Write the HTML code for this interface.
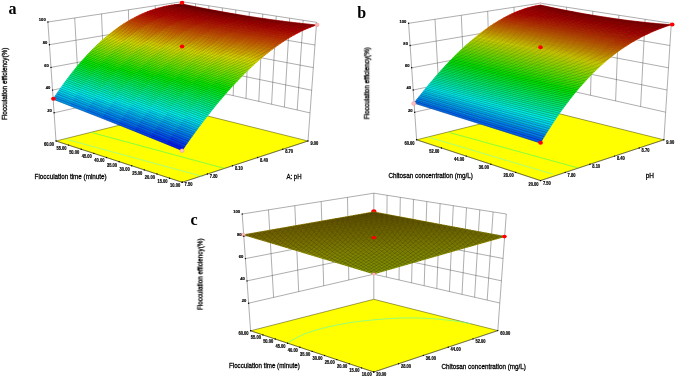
<!DOCTYPE html>
<html><head><meta charset="utf-8"><title>Response surface plots</title>
<style>
html,body{margin:0;padding:0;background:#fff;}
body{width:676px;height:377px;overflow:hidden;font-family:"Liberation Sans",sans-serif;}
svg{display:block;font-family:"Liberation Sans",sans-serif;}
</style></head><body>
<svg width="676" height="377" viewBox="0 0 676 377">
<rect width="676" height="377" fill="#fff"/>
<path d="M56 141L47.9 22M79.7 107.1L74.7 17.9M105.2 101.3L101.5 13.9M130.8 95.6L128.4 9.8M156.4 89.8L155.2 5.8M182 109.6L182 1.7M194.8 87L195.5 3.8M207.6 89.8L208.9 5.8M220.4 92.7L222.4 7.9M233.2 95.6L235.8 9.9M246 98.5L249.3 12M258.8 101.4L262.8 14.1M271.6 104.3L276.2 16.1M284.4 107.1L289.7 18.2M297.2 110L303.1 20.2M308 141L316.6 22.3M54.1 112.8L182 84.1M182 84.1L310 112.9M52.5 90.1L182 63.5M182 63.5L311.7 90.3M51 67.4L182 42.9M182 42.9L313.3 67.6M49.4 44.7L182 22.3M182 22.3L315 45M47.9 22L182 1.7M182 1.7L316.6 22.3" stroke="#4a4a4a" stroke-width="0.45" fill="none"/>
<polygon points="56,141 182.2,182.3 308,141 182,109.6" fill="#ffff00" stroke="#3a3a00" stroke-width="0.5"/>
<path d="M91.2 132.4L224.9 168.5" fill="none" stroke="#55ff55" stroke-width="0.7"/>
<path d="M65.5 139.1L203.1 176.6" fill="none" stroke="#88ffaa" stroke-width="0.7"/>
<polyline points="56,141 182.2,182.3 308,141" fill="none" stroke="#222" stroke-width="0.35"/>
<g stroke-width="0.6" stroke-linejoin="round"><path d="M53.2 99.2L55.5 95.6L71.8 101.9L69.4 105.5z" fill="#00a1ff" stroke="#00a1ff"/><path d="M69.4 105.5L71.8 101.9L88 108.2L85.6 111.8z" fill="#008fff" stroke="#008fff"/><path d="M85.6 111.8L88 108.2L104.2 114.5L101.7 118.1z" fill="#007dff" stroke="#007dff"/><path d="M101.7 118.1L104.2 114.5L120.4 120.9L117.9 124.5z" fill="#006bff" stroke="#006bff"/><path d="M117.9 124.5L120.4 120.9L136.5 127.3L134 130.9z" fill="#0058ff" stroke="#0058ff"/><path d="M134 130.9L136.5 127.3L152.6 133.7L150.1 137.4z" fill="#0046ff" stroke="#0046ff"/><path d="M150.1 137.4L152.6 133.7L168.7 140.2L166.2 143.9z" fill="#0034ff" stroke="#0034ff"/><path d="M166.2 143.9L168.7 140.2L184.8 146.7L182.2 150.5z" fill="#0022ff" stroke="#0022ff"/><path d="M55.5 95.6L57.9 92L74.2 98.3L71.8 101.9z" fill="#00c3ff" stroke="#00c3ff"/><path d="M71.8 101.9L74.2 98.3L90.4 104.6L88 108.2z" fill="#00b0ff" stroke="#00b0ff"/><path d="M88 108.2L90.4 104.6L106.7 111L104.2 114.5z" fill="#009dff" stroke="#009dff"/><path d="M104.2 114.5L106.7 111L122.9 117.3L120.4 120.9z" fill="#008bff" stroke="#008bff"/><path d="M120.4 120.9L122.9 117.3L139 123.7L136.5 127.3z" fill="#0078ff" stroke="#0078ff"/><path d="M136.5 127.3L139 123.7L155.1 130.1L152.6 133.7z" fill="#0065ff" stroke="#0065ff"/><path d="M152.6 133.7L155.1 130.1L171.3 136.6L168.7 140.2z" fill="#0053ff" stroke="#0053ff"/><path d="M168.7 140.2L171.3 136.6L187.3 143.1L184.8 146.7z" fill="#0040ff" stroke="#0040ff"/><path d="M57.9 92L60.3 88.6L76.6 94.8L74.2 98.3z" fill="#00e4ff" stroke="#00e4ff"/><path d="M74.2 98.3L76.6 94.8L92.9 101.1L90.4 104.6z" fill="#00d1ff" stroke="#00d1ff"/><path d="M90.4 104.6L92.9 101.1L109.1 107.4L106.7 111z" fill="#00bdff" stroke="#00bdff"/><path d="M106.7 111L109.1 107.4L125.3 113.8L122.9 117.3z" fill="#00aaff" stroke="#00aaff"/><path d="M122.9 117.3L125.3 113.8L141.5 120.2L139 123.7z" fill="#0097ff" stroke="#0097ff"/><path d="M139 123.7L141.5 120.2L157.7 126.6L155.1 130.1z" fill="#0084ff" stroke="#0084ff"/><path d="M155.1 130.1L157.7 126.6L173.8 133L171.3 136.6z" fill="#0071ff" stroke="#0071ff"/><path d="M171.3 136.6L173.8 133L189.9 139.4L187.3 143.1z" fill="#005eff" stroke="#005eff"/><path d="M60.3 88.6L62.7 85.2L79 91.4L76.6 94.8z" fill="#00fff9" stroke="#00fff9"/><path d="M76.6 94.8L79 91.4L95.3 97.7L92.9 101.1z" fill="#00f1ff" stroke="#00f1ff"/><path d="M92.9 101.1L95.3 97.7L111.6 104L109.1 107.4z" fill="#00ddff" stroke="#00ddff"/><path d="M109.1 107.4L111.6 104L127.8 110.3L125.3 113.8z" fill="#00c9ff" stroke="#00c9ff"/><path d="M125.3 113.8L127.8 110.3L144.1 116.7L141.5 120.2z" fill="#00b5ff" stroke="#00b5ff"/><path d="M141.5 120.2L144.1 116.7L160.2 123L157.7 126.6z" fill="#00a2ff" stroke="#00a2ff"/><path d="M157.7 126.6L160.2 123L176.4 129.4L173.8 133z" fill="#008fff" stroke="#008fff"/><path d="M173.8 133L176.4 129.4L192.5 135.8L189.9 139.4z" fill="#007cff" stroke="#007cff"/><path d="M62.7 85.2L65.1 81.8L81.5 88.1L79 91.4z" fill="#00ffd9" stroke="#00ffd9"/><path d="M79 91.4L81.5 88.1L97.8 94.3L95.3 97.7z" fill="#00ffee" stroke="#00ffee"/><path d="M95.3 97.7L97.8 94.3L114.1 100.6L111.6 104z" fill="#00fcff" stroke="#00fcff"/><path d="M111.6 104L114.1 100.6L130.4 106.9L127.8 110.3z" fill="#00e7ff" stroke="#00e7ff"/><path d="M127.8 110.3L130.4 106.9L146.6 113.2L144.1 116.7z" fill="#00d3ff" stroke="#00d3ff"/><path d="M144.1 116.7L146.6 113.2L162.8 119.6L160.2 123z" fill="#00c0ff" stroke="#00c0ff"/><path d="M160.2 123L162.8 119.6L178.9 125.9L176.4 129.4z" fill="#00acff" stroke="#00acff"/><path d="M176.4 129.4L178.9 125.9L195.1 132.3L192.5 135.8z" fill="#0099ff" stroke="#0099ff"/><path d="M65.1 81.8L67.6 78.5L83.9 84.8L81.5 88.1z" fill="#00ffba" stroke="#00ffba"/><path d="M81.5 88.1L83.9 84.8L100.3 91L97.8 94.3z" fill="#00ffcf" stroke="#00ffcf"/><path d="M97.8 94.3L100.3 91L116.6 97.3L114.1 100.6z" fill="#00ffe4" stroke="#00ffe4"/><path d="M114.1 100.6L116.6 97.3L132.9 103.5L130.4 106.9z" fill="#00fff9" stroke="#00fff9"/><path d="M130.4 106.9L132.9 103.5L149.1 109.8L146.6 113.2z" fill="#00f1ff" stroke="#00f1ff"/><path d="M146.6 113.2L149.1 109.8L165.3 116.1L162.8 119.6z" fill="#00ddff" stroke="#00ddff"/><path d="M162.8 119.6L165.3 116.1L181.5 122.4L178.9 125.9z" fill="#00caff" stroke="#00caff"/><path d="M178.9 125.9L181.5 122.4L197.7 128.7L195.1 132.3z" fill="#00b6ff" stroke="#00b6ff"/><path d="M67.6 78.5L70 75.3L86.4 81.5L83.9 84.8z" fill="#00ff9b" stroke="#00ff9b"/><path d="M83.9 84.8L86.4 81.5L102.8 87.7L100.3 91z" fill="#00ffb1" stroke="#00ffb1"/><path d="M100.3 91L102.8 87.7L119.1 94L116.6 97.3z" fill="#00ffc6" stroke="#00ffc6"/><path d="M116.6 97.3L119.1 94L135.4 100.2L132.9 103.5z" fill="#00ffdb" stroke="#00ffdb"/><path d="M132.9 103.5L135.4 100.2L151.7 106.5L149.1 109.8z" fill="#00fff0" stroke="#00fff0"/><path d="M149.1 109.8L151.7 106.5L167.9 112.7L165.3 116.1z" fill="#00faff" stroke="#00faff"/><path d="M165.3 116.1L167.9 112.7L184.1 119L181.5 122.4z" fill="#00e6ff" stroke="#00e6ff"/><path d="M181.5 122.4L184.1 119L200.3 125.2L197.7 128.7z" fill="#00d3ff" stroke="#00d3ff"/><path d="M70 75.3L72.5 72.2L88.9 78.4L86.4 81.5z" fill="#00ff7d" stroke="#00ff7d"/><path d="M86.4 81.5L88.9 78.4L105.3 84.5L102.8 87.7z" fill="#00ff93" stroke="#00ff93"/><path d="M102.8 87.7L105.3 84.5L121.6 90.7L119.1 94z" fill="#00ffa9" stroke="#00ffa9"/><path d="M119.1 94L121.6 90.7L137.9 97L135.4 100.2z" fill="#00ffbe" stroke="#00ffbe"/><path d="M135.4 100.2L137.9 97L154.2 103.2L151.7 106.5z" fill="#00ffd3" stroke="#00ffd3"/><path d="M151.7 106.5L154.2 103.2L170.5 109.4L167.9 112.7z" fill="#00ffe7" stroke="#00ffe7"/><path d="M167.9 112.7L170.5 109.4L186.7 115.6L184.1 119z" fill="#00fffb" stroke="#00fffb"/><path d="M184.1 119L186.7 115.6L202.9 121.8L200.3 125.2z" fill="#00efff" stroke="#00efff"/><path d="M72.5 72.2L74.9 69.1L91.4 75.3L88.9 78.4z" fill="#00ff60" stroke="#00ff60"/><path d="M88.9 78.4L91.4 75.3L107.8 81.4L105.3 84.5z" fill="#00ff76" stroke="#00ff76"/><path d="M105.3 84.5L107.8 81.4L124.1 87.6L121.6 90.7z" fill="#00ff8c" stroke="#00ff8c"/><path d="M121.6 90.7L124.1 87.6L140.5 93.7L137.9 97z" fill="#00ffa1" stroke="#00ffa1"/><path d="M137.9 97L140.5 93.7L156.8 99.9L154.2 103.2z" fill="#00ffb6" stroke="#00ffb6"/><path d="M154.2 103.2L156.8 99.9L173.1 106.1L170.5 109.4z" fill="#00ffcb" stroke="#00ffcb"/><path d="M170.5 109.4L173.1 106.1L189.3 112.2L186.7 115.6z" fill="#00ffdf" stroke="#00ffdf"/><path d="M186.7 115.6L189.3 112.2L205.5 118.4L202.9 121.8z" fill="#00fff2" stroke="#00fff2"/><path d="M74.9 69.1L77.4 66.1L93.9 72.2L91.4 75.3z" fill="#00ff43" stroke="#00ff43"/><path d="M91.4 75.3L93.9 72.2L110.3 78.3L107.8 81.4z" fill="#00ff59" stroke="#00ff59"/><path d="M107.8 81.4L110.3 78.3L126.7 84.5L124.1 87.6z" fill="#00ff70" stroke="#00ff70"/><path d="M124.1 87.6L126.7 84.5L143 90.6L140.5 93.7z" fill="#00ff85" stroke="#00ff85"/><path d="M140.5 93.7L143 90.6L159.4 96.7L156.8 99.9z" fill="#00ff9a" stroke="#00ff9a"/><path d="M156.8 99.9L159.4 96.7L175.7 102.8L173.1 106.1z" fill="#00ffaf" stroke="#00ffaf"/><path d="M173.1 106.1L175.7 102.8L191.9 108.9L189.3 112.2z" fill="#00ffc3" stroke="#00ffc3"/><path d="M189.3 112.2L191.9 108.9L208.2 115L205.5 118.4z" fill="#00ffd7" stroke="#00ffd7"/><path d="M77.4 66.1L79.9 63.1L96.4 69.2L93.9 72.2z" fill="#00ff26" stroke="#00ff26"/><path d="M93.9 72.2L96.4 69.2L112.8 75.3L110.3 78.3z" fill="#00ff3d" stroke="#00ff3d"/><path d="M110.3 78.3L112.8 75.3L129.2 81.4L126.7 84.5z" fill="#00ff54" stroke="#00ff54"/><path d="M126.7 84.5L129.2 81.4L145.6 87.5L143 90.6z" fill="#00ff6a" stroke="#00ff6a"/><path d="M143 90.6L145.6 87.5L161.9 93.6L159.4 96.7z" fill="#00ff7f" stroke="#00ff7f"/><path d="M159.4 96.7L161.9 93.6L178.3 99.6L175.7 102.8z" fill="#00ff94" stroke="#00ff94"/><path d="M175.7 102.8L178.3 99.6L194.5 105.6L191.9 108.9z" fill="#00ffa8" stroke="#00ffa8"/><path d="M191.9 108.9L194.5 105.6L210.8 111.7L208.2 115z" fill="#00ffbb" stroke="#00ffbb"/><path d="M79.9 63.1L82.4 60.3L98.9 66.3L96.4 69.2z" fill="#00ff0b" stroke="#00ff0b"/><path d="M96.4 69.2L98.9 66.3L115.3 72.4L112.8 75.3z" fill="#00ff22" stroke="#00ff22"/><path d="M112.8 75.3L115.3 72.4L131.8 78.4L129.2 81.4z" fill="#00ff39" stroke="#00ff39"/><path d="M129.2 81.4L131.8 78.4L148.2 84.4L145.6 87.5z" fill="#00ff4f" stroke="#00ff4f"/><path d="M145.6 87.5L148.2 84.4L164.5 90.5L161.9 93.6z" fill="#00ff64" stroke="#00ff64"/><path d="M161.9 93.6L164.5 90.5L180.9 96.4L178.3 99.6z" fill="#00ff79" stroke="#00ff79"/><path d="M178.3 99.6L180.9 96.4L197.2 102.4L194.5 105.6z" fill="#00ff8d" stroke="#00ff8d"/><path d="M194.5 105.6L197.2 102.4L213.4 108.4L210.8 111.7z" fill="#00ffa0" stroke="#00ffa0"/><path d="M82.4 60.3L84.9 57.5L101.4 63.5L98.9 66.3z" fill="#12ff00" stroke="#12ff00"/><path d="M98.9 66.3L101.4 63.5L117.9 69.5L115.3 72.4z" fill="#00ff07" stroke="#00ff07"/><path d="M115.3 72.4L117.9 69.5L134.3 75.5L131.8 78.4z" fill="#00ff1e" stroke="#00ff1e"/><path d="M131.8 78.4L134.3 75.5L150.7 81.5L148.2 84.4z" fill="#00ff34" stroke="#00ff34"/><path d="M148.2 84.4L150.7 81.5L167.1 87.4L164.5 90.5z" fill="#00ff4a" stroke="#00ff4a"/><path d="M164.5 90.5L167.1 87.4L183.5 93.3L180.9 96.4z" fill="#00ff5e" stroke="#00ff5e"/><path d="M180.9 96.4L183.5 93.3L199.8 99.2L197.2 102.4z" fill="#00ff72" stroke="#00ff72"/><path d="M197.2 102.4L199.8 99.2L216.1 105.1L213.4 108.4z" fill="#00ff85" stroke="#00ff85"/><path d="M84.9 57.5L87.4 54.7L103.9 60.7L101.4 63.5z" fill="#2fff00" stroke="#2fff00"/><path d="M101.4 63.5L103.9 60.7L120.4 66.7L117.9 69.5z" fill="#15ff00" stroke="#15ff00"/><path d="M117.9 69.5L120.4 66.7L136.9 72.6L134.3 75.5z" fill="#00ff04" stroke="#00ff04"/><path d="M134.3 75.5L136.9 72.6L153.3 78.5L150.7 81.5z" fill="#00ff1a" stroke="#00ff1a"/><path d="M150.7 81.5L153.3 78.5L169.7 84.4L167.1 87.4z" fill="#00ff30" stroke="#00ff30"/><path d="M167.1 87.4L169.7 84.4L186.1 90.3L183.5 93.3z" fill="#00ff44" stroke="#00ff44"/><path d="M183.5 93.3L186.1 90.3L202.4 96.1L199.8 99.2z" fill="#00ff58" stroke="#00ff58"/><path d="M199.8 99.2L202.4 96.1L218.7 101.9L216.1 105.1z" fill="#00ff6b" stroke="#00ff6b"/><path d="M87.4 54.7L89.9 52.1L106.5 58L103.9 60.7z" fill="#4bff00" stroke="#4bff00"/><path d="M103.9 60.7L106.5 58L123 63.9L120.4 66.7z" fill="#31ff00" stroke="#31ff00"/><path d="M120.4 66.7L123 63.9L139.5 69.8L136.9 72.6z" fill="#17ff00" stroke="#17ff00"/><path d="M136.9 72.6L139.5 69.8L155.9 75.7L153.3 78.5z" fill="#00ff01" stroke="#00ff01"/><path d="M153.3 78.5L155.9 75.7L172.3 81.5L169.7 84.4z" fill="#00ff16" stroke="#00ff16"/><path d="M169.7 84.4L172.3 81.5L188.7 87.3L186.1 90.3z" fill="#00ff2b" stroke="#00ff2b"/><path d="M186.1 90.3L188.7 87.3L205.1 93L202.4 96.1z" fill="#00ff3e" stroke="#00ff3e"/><path d="M202.4 96.1L205.1 93L221.4 98.8L218.7 101.9z" fill="#00ff51" stroke="#00ff51"/><path d="M89.9 52.1L92.4 49.5L109 55.4L106.5 58z" fill="#67ff00" stroke="#67ff00"/><path d="M106.5 58L109 55.4L125.5 61.2L123 63.9z" fill="#4cff00" stroke="#4cff00"/><path d="M123 63.9L125.5 61.2L142 67.1L139.5 69.8z" fill="#33ff00" stroke="#33ff00"/><path d="M139.5 69.8L142 67.1L158.5 72.9L155.9 75.7z" fill="#1aff00" stroke="#1aff00"/><path d="M155.9 75.7L158.5 72.9L174.9 78.6L172.3 81.5z" fill="#03ff00" stroke="#03ff00"/><path d="M172.3 81.5L174.9 78.6L191.3 84.3L188.7 87.3z" fill="#00ff12" stroke="#00ff12"/><path d="M188.7 87.3L191.3 84.3L207.7 90L205.1 93z" fill="#00ff25" stroke="#00ff25"/><path d="M205.1 93L207.7 90L224.1 95.7L221.4 98.8z" fill="#00ff38" stroke="#00ff38"/><path d="M92.4 49.5L95 47L111.6 52.8L109 55.4z" fill="#81ff00" stroke="#81ff00"/><path d="M109 55.4L111.6 52.8L128.1 58.6L125.5 61.2z" fill="#67ff00" stroke="#67ff00"/><path d="M125.5 61.2L128.1 58.6L144.6 64.4L142 67.1z" fill="#4eff00" stroke="#4eff00"/><path d="M142 67.1L144.6 64.4L161.1 70.1L158.5 72.9z" fill="#35ff00" stroke="#35ff00"/><path d="M158.5 72.9L161.1 70.1L177.6 75.8L174.9 78.6z" fill="#1eff00" stroke="#1eff00"/><path d="M174.9 78.6L177.6 75.8L194 81.5L191.3 84.3z" fill="#08ff00" stroke="#08ff00"/><path d="M191.3 84.3L194 81.5L210.4 87L207.7 90z" fill="#00ff0c" stroke="#00ff0c"/><path d="M207.7 90L210.4 87L226.7 92.6L224.1 95.7z" fill="#00ff1f" stroke="#00ff1f"/><path d="M95 47L97.5 44.5L114.1 50.3L111.6 52.8z" fill="#9bff00" stroke="#9bff00"/><path d="M111.6 52.8L114.1 50.3L130.7 56L128.1 58.6z" fill="#81ff00" stroke="#81ff00"/><path d="M128.1 58.6L130.7 56L147.2 61.8L144.6 64.4z" fill="#68ff00" stroke="#68ff00"/><path d="M144.6 64.4L147.2 61.8L163.7 67.4L161.1 70.1z" fill="#4fff00" stroke="#4fff00"/><path d="M161.1 70.1L163.7 67.4L180.2 73L177.6 75.8z" fill="#38ff00" stroke="#38ff00"/><path d="M177.6 75.8L180.2 73L196.6 78.6L194 81.5z" fill="#22ff00" stroke="#22ff00"/><path d="M194 81.5L196.6 78.6L213 84.1L210.4 87z" fill="#0dff00" stroke="#0dff00"/><path d="M210.4 87L213 84.1L229.4 89.6L226.7 92.6z" fill="#00ff06" stroke="#00ff06"/><path d="M97.5 44.5L100.1 42.1L116.7 47.9L114.1 50.3z" fill="#b5ff00" stroke="#b5ff00"/><path d="M114.1 50.3L116.7 47.9L133.3 53.6L130.7 56z" fill="#9aff00" stroke="#9aff00"/><path d="M130.7 56L133.3 53.6L149.8 59.2L147.2 61.8z" fill="#81ff00" stroke="#81ff00"/><path d="M147.2 61.8L149.8 59.2L166.3 64.8L163.7 67.4z" fill="#69ff00" stroke="#69ff00"/><path d="M163.7 67.4L166.3 64.8L182.8 70.3L180.2 73z" fill="#52ff00" stroke="#52ff00"/><path d="M180.2 73L182.8 70.3L199.3 75.8L196.6 78.6z" fill="#3cff00" stroke="#3cff00"/><path d="M196.6 78.6L199.3 75.8L215.7 81.3L213 84.1z" fill="#28ff00" stroke="#28ff00"/><path d="M213 84.1L215.7 81.3L232.1 86.6L229.4 89.6z" fill="#14ff00" stroke="#14ff00"/><path d="M100.1 42.1L102.6 39.8L119.3 45.5L116.7 47.9z" fill="#cdff00" stroke="#cdff00"/><path d="M116.7 47.9L119.3 45.5L135.9 51.1L133.3 53.6z" fill="#b3ff00" stroke="#b3ff00"/><path d="M133.3 53.6L135.9 51.1L152.4 56.7L149.8 59.2z" fill="#9aff00" stroke="#9aff00"/><path d="M149.8 59.2L152.4 56.7L169 62.2L166.3 64.8z" fill="#82ff00" stroke="#82ff00"/><path d="M166.3 64.8L169 62.2L185.5 67.7L182.8 70.3z" fill="#6bff00" stroke="#6bff00"/><path d="M182.8 70.3L185.5 67.7L201.9 73.1L199.3 75.8z" fill="#56ff00" stroke="#56ff00"/><path d="M199.3 75.8L201.9 73.1L218.4 78.4L215.7 81.3z" fill="#42ff00" stroke="#42ff00"/><path d="M215.7 81.3L218.4 78.4L234.8 83.7L232.1 86.6z" fill="#2fff00" stroke="#2fff00"/><path d="M102.6 39.8L105.2 37.6L121.9 43.2L119.3 45.5z" fill="#e4ff00" stroke="#e4ff00"/><path d="M119.3 45.5L121.9 43.2L138.5 48.8L135.9 51.1z" fill="#caff00" stroke="#caff00"/><path d="M135.9 51.1L138.5 48.8L155 54.3L152.4 56.7z" fill="#b2ff00" stroke="#b2ff00"/><path d="M152.4 56.7L155 54.3L171.6 59.7L169 62.2z" fill="#9aff00" stroke="#9aff00"/><path d="M169 62.2L171.6 59.7L188.1 65.1L185.5 67.7z" fill="#84ff00" stroke="#84ff00"/><path d="M185.5 67.7L188.1 65.1L204.6 70.4L201.9 73.1z" fill="#6fff00" stroke="#6fff00"/><path d="M201.9 73.1L204.6 70.4L221 75.7L218.4 78.4z" fill="#5bff00" stroke="#5bff00"/><path d="M218.4 78.4L221 75.7L237.5 80.9L234.8 83.7z" fill="#48ff00" stroke="#48ff00"/><path d="M105.2 37.6L107.8 35.4L124.5 41L121.9 43.2z" fill="#fbff00" stroke="#fbff00"/><path d="M121.9 43.2L124.5 41L141.1 46.5L138.5 48.8z" fill="#e1ff00" stroke="#e1ff00"/><path d="M138.5 48.8L141.1 46.5L157.7 51.9L155 54.3z" fill="#c9ff00" stroke="#c9ff00"/><path d="M155 54.3L157.7 51.9L174.2 57.3L171.6 59.7z" fill="#b1ff00" stroke="#b1ff00"/><path d="M171.6 59.7L174.2 57.3L190.7 62.6L188.1 65.1z" fill="#9bff00" stroke="#9bff00"/><path d="M188.1 65.1L190.7 62.6L207.2 67.8L204.6 70.4z" fill="#87ff00" stroke="#87ff00"/><path d="M204.6 70.4L207.2 67.8L223.7 73L221 75.7z" fill="#74ff00" stroke="#74ff00"/><path d="M221 75.7L223.7 73L240.2 78.1L237.5 80.9z" fill="#62ff00" stroke="#62ff00"/><path d="M107.8 35.4L110.4 33.4L127.1 38.8L124.5 41z" fill="#ffec00" stroke="#ffec00"/><path d="M124.5 41L127.1 38.8L143.7 44.3L141.1 46.5z" fill="#f7ff00" stroke="#f7ff00"/><path d="M141.1 46.5L143.7 44.3L160.3 49.6L157.7 51.9z" fill="#dfff00" stroke="#dfff00"/><path d="M157.7 51.9L160.3 49.6L176.9 54.9L174.2 57.3z" fill="#c8ff00" stroke="#c8ff00"/><path d="M174.2 57.3L176.9 54.9L193.4 60.1L190.7 62.6z" fill="#b3ff00" stroke="#b3ff00"/><path d="M190.7 62.6L193.4 60.1L209.9 65.3L207.2 67.8z" fill="#9eff00" stroke="#9eff00"/><path d="M207.2 67.8L209.9 65.3L226.4 70.3L223.7 73z" fill="#8cff00" stroke="#8cff00"/><path d="M223.7 73L226.4 70.3L242.9 75.3L240.2 78.1z" fill="#7aff00" stroke="#7aff00"/><path d="M110.4 33.4L113 31.3L129.7 36.8L127.1 38.8z" fill="#ffd600" stroke="#ffd600"/><path d="M127.1 38.8L129.7 36.8L146.3 42.1L143.7 44.3z" fill="#fff100" stroke="#fff100"/><path d="M143.7 44.3L146.3 42.1L162.9 47.4L160.3 49.6z" fill="#f5ff00" stroke="#f5ff00"/><path d="M160.3 49.6L162.9 47.4L179.5 52.6L176.9 54.9z" fill="#deff00" stroke="#deff00"/><path d="M176.9 54.9L179.5 52.6L196 57.7L193.4 60.1z" fill="#c9ff00" stroke="#c9ff00"/><path d="M193.4 60.1L196 57.7L212.6 62.8L209.9 65.3z" fill="#b5ff00" stroke="#b5ff00"/><path d="M209.9 65.3L212.6 62.8L229.1 67.7L226.4 70.3z" fill="#a3ff00" stroke="#a3ff00"/><path d="M226.4 70.3L229.1 67.7L245.6 72.6L242.9 75.3z" fill="#93ff00" stroke="#93ff00"/><path d="M113 31.3L115.6 29.4L132.3 34.8L129.7 36.8z" fill="#ffc000" stroke="#ffc000"/><path d="M129.7 36.8L132.3 34.8L148.9 40L146.3 42.1z" fill="#ffdb00" stroke="#ffdb00"/><path d="M146.3 42.1L148.9 40L165.6 45.3L162.9 47.4z" fill="#fff400" stroke="#fff400"/><path d="M162.9 47.4L165.6 45.3L182.1 50.4L179.5 52.6z" fill="#f3ff00" stroke="#f3ff00"/><path d="M179.5 52.6L182.1 50.4L198.7 55.4L196 57.7z" fill="#dfff00" stroke="#dfff00"/><path d="M196 57.7L198.7 55.4L215.2 60.4L212.6 62.8z" fill="#ccff00" stroke="#ccff00"/><path d="M212.6 62.8L215.2 60.4L231.8 65.2L229.1 67.7z" fill="#baff00" stroke="#baff00"/><path d="M229.1 67.7L231.8 65.2L248.3 70L245.6 72.6z" fill="#aaff00" stroke="#aaff00"/><path d="M115.6 29.4L118.2 27.5L134.9 32.8L132.3 34.8z" fill="#ffac00" stroke="#ffac00"/><path d="M132.3 34.8L134.9 32.8L151.6 38L148.9 40z" fill="#ffc600" stroke="#ffc600"/><path d="M148.9 40L151.6 38L168.2 43.2L165.6 45.3z" fill="#ffdf00" stroke="#ffdf00"/><path d="M165.6 45.3L168.2 43.2L184.8 48.2L182.1 50.4z" fill="#fff600" stroke="#fff600"/><path d="M182.1 50.4L184.8 48.2L201.4 53.1L198.7 55.4z" fill="#f4ff00" stroke="#f4ff00"/><path d="M198.7 55.4L201.4 53.1L217.9 58L215.2 60.4z" fill="#e1ff00" stroke="#e1ff00"/><path d="M215.2 60.4L217.9 58L234.5 62.7L231.8 65.2z" fill="#d0ff00" stroke="#d0ff00"/><path d="M231.8 65.2L234.5 62.7L251 67.4L248.3 70z" fill="#c1ff00" stroke="#c1ff00"/><path d="M118.2 27.5L120.8 25.7L137.5 31L134.9 32.8z" fill="#ff9800" stroke="#ff9800"/><path d="M134.9 32.8L137.5 31L154.2 36.1L151.6 38z" fill="#ffb200" stroke="#ffb200"/><path d="M151.6 38L154.2 36.1L170.8 41.1L168.2 43.2z" fill="#ffca00" stroke="#ffca00"/><path d="M168.2 43.2L170.8 41.1L187.5 46.1L184.8 48.2z" fill="#ffe100" stroke="#ffe100"/><path d="M184.8 48.2L187.5 46.1L204 50.9L201.4 53.1z" fill="#fff500" stroke="#fff500"/><path d="M201.4 53.1L204 50.9L220.6 55.7L217.9 58z" fill="#f6ff00" stroke="#f6ff00"/><path d="M217.9 58L220.6 55.7L237.2 60.3L234.5 62.7z" fill="#e6ff00" stroke="#e6ff00"/><path d="M234.5 62.7L237.2 60.3L253.7 64.9L251 67.4z" fill="#d7ff00" stroke="#d7ff00"/><path d="M120.8 25.7L123.4 24L140.1 29.2L137.5 31z" fill="#ff8600" stroke="#ff8600"/><path d="M137.5 31L140.1 29.2L156.8 34.2L154.2 36.1z" fill="#ff9f00" stroke="#ff9f00"/><path d="M154.2 36.1L156.8 34.2L173.5 39.2L170.8 41.1z" fill="#ffb700" stroke="#ffb700"/><path d="M170.8 41.1L173.5 39.2L190.1 44L187.5 46.1z" fill="#ffcd00" stroke="#ffcd00"/><path d="M187.5 46.1L190.1 44L206.7 48.8L204 50.9z" fill="#ffe100" stroke="#ffe100"/><path d="M204 50.9L206.7 48.8L223.3 53.5L220.6 55.7z" fill="#fff300" stroke="#fff300"/><path d="M220.6 55.7L223.3 53.5L239.9 58L237.2 60.3z" fill="#fbff00" stroke="#fbff00"/><path d="M237.2 60.3L239.9 58L256.4 62.4L253.7 64.9z" fill="#edff00" stroke="#edff00"/><path d="M123.4 24L126 22.4L142.8 27.4L140.1 29.2z" fill="#ff7400" stroke="#ff7400"/><path d="M140.1 29.2L142.8 27.4L159.5 32.4L156.8 34.2z" fill="#ff8d00" stroke="#ff8d00"/><path d="M156.8 34.2L159.5 32.4L176.1 37.3L173.5 39.2z" fill="#ffa400" stroke="#ffa400"/><path d="M173.5 39.2L176.1 37.3L192.8 42.1L190.1 44z" fill="#ffba00" stroke="#ffba00"/><path d="M190.1 44L192.8 42.1L209.4 46.7L206.7 48.8z" fill="#ffcd00" stroke="#ffcd00"/><path d="M206.7 48.8L209.4 46.7L226 51.3L223.3 53.5z" fill="#ffde00" stroke="#ffde00"/><path d="M223.3 53.5L226 51.3L242.6 55.7L239.9 58z" fill="#ffee00" stroke="#ffee00"/><path d="M239.9 58L242.6 55.7L259.1 60L256.4 62.4z" fill="#fffc00" stroke="#fffc00"/><path d="M126 22.4L128.7 20.8L145.4 25.8L142.8 27.4z" fill="#ff6300" stroke="#ff6300"/><path d="M142.8 27.4L145.4 25.8L162.1 30.7L159.5 32.4z" fill="#ff7c00" stroke="#ff7c00"/><path d="M159.5 32.4L162.1 30.7L178.8 35.5L176.1 37.3z" fill="#ff9300" stroke="#ff9300"/><path d="M176.1 37.3L178.8 35.5L195.5 40.2L192.8 42.1z" fill="#ffa700" stroke="#ffa700"/><path d="M192.8 42.1L195.5 40.2L212.1 44.7L209.4 46.7z" fill="#ffba00" stroke="#ffba00"/><path d="M209.4 46.7L212.1 44.7L228.7 49.2L226 51.3z" fill="#ffcb00" stroke="#ffcb00"/><path d="M226 51.3L228.7 49.2L245.3 53.5L242.6 55.7z" fill="#ffd900" stroke="#ffd900"/><path d="M242.6 55.7L245.3 53.5L261.9 57.7L259.1 60z" fill="#ffe600" stroke="#ffe600"/><path d="M128.7 20.8L131.3 19.3L148.1 24.2L145.4 25.8z" fill="#ff5400" stroke="#ff5400"/><path d="M145.4 25.8L148.1 24.2L164.8 29L162.1 30.7z" fill="#ff6c00" stroke="#ff6c00"/><path d="M162.1 30.7L164.8 29L181.5 33.7L178.8 35.5z" fill="#ff8200" stroke="#ff8200"/><path d="M178.8 35.5L181.5 33.7L198.1 38.3L195.5 40.2z" fill="#ff9600" stroke="#ff9600"/><path d="M195.5 40.2L198.1 38.3L214.8 42.8L212.1 44.7z" fill="#ffa700" stroke="#ffa700"/><path d="M212.1 44.7L214.8 42.8L231.4 47.1L228.7 49.2z" fill="#ffb700" stroke="#ffb700"/><path d="M228.7 49.2L231.4 47.1L248 51.3L245.3 53.5z" fill="#ffc500" stroke="#ffc500"/><path d="M245.3 53.5L248 51.3L264.6 55.4L261.9 57.7z" fill="#ffd100" stroke="#ffd100"/><path d="M131.3 19.3L134 17.9L150.7 22.7L148.1 24.2z" fill="#ff4500" stroke="#ff4500"/><path d="M148.1 24.2L150.7 22.7L167.4 27.4L164.8 29z" fill="#ff5c00" stroke="#ff5c00"/><path d="M164.8 29L167.4 27.4L184.1 32L181.5 33.7z" fill="#ff7200" stroke="#ff7200"/><path d="M181.5 33.7L184.1 32L200.8 36.5L198.1 38.3z" fill="#ff8500" stroke="#ff8500"/><path d="M198.1 38.3L200.8 36.5L217.4 40.9L214.8 42.8z" fill="#ff9600" stroke="#ff9600"/><path d="M214.8 42.8L217.4 40.9L234.1 45.1L231.4 47.1z" fill="#ffa500" stroke="#ffa500"/><path d="M231.4 47.1L234.1 45.1L250.7 49.2L248 51.3z" fill="#ffb200" stroke="#ffb200"/><path d="M248 51.3L250.7 49.2L267.3 53.2L264.6 55.4z" fill="#ffbd00" stroke="#ffbd00"/><path d="M134 17.9L136.6 16.5L153.4 21.3L150.7 22.7z" fill="#ff3700" stroke="#ff3700"/><path d="M150.7 22.7L153.4 21.3L170.1 25.9L167.4 27.4z" fill="#ff4e00" stroke="#ff4e00"/><path d="M167.4 27.4L170.1 25.9L186.8 30.4L184.1 32z" fill="#ff6200" stroke="#ff6200"/><path d="M184.1 32L186.8 30.4L203.5 34.8L200.8 36.5z" fill="#ff7500" stroke="#ff7500"/><path d="M200.8 36.5L203.5 34.8L220.1 39.1L217.4 40.9z" fill="#ff8500" stroke="#ff8500"/><path d="M217.4 40.9L220.1 39.1L236.8 43.2L234.1 45.1z" fill="#ff9400" stroke="#ff9400"/><path d="M234.1 45.1L236.8 43.2L253.4 47.2L250.7 49.2z" fill="#ffa000" stroke="#ffa000"/><path d="M250.7 49.2L253.4 47.2L270 51L267.3 53.2z" fill="#ffaa00" stroke="#ffaa00"/><path d="M136.6 16.5L139.3 15.2L156 19.9L153.4 21.3z" fill="#ff2a00" stroke="#ff2a00"/><path d="M153.4 21.3L156 19.9L172.8 24.5L170.1 25.9z" fill="#ff4000" stroke="#ff4000"/><path d="M170.1 25.9L172.8 24.5L189.5 28.9L186.8 30.4z" fill="#ff5400" stroke="#ff5400"/><path d="M186.8 30.4L189.5 28.9L206.2 33.2L203.5 34.8z" fill="#ff6600" stroke="#ff6600"/><path d="M203.5 34.8L206.2 33.2L222.8 37.3L220.1 39.1z" fill="#ff7600" stroke="#ff7600"/><path d="M220.1 39.1L222.8 37.3L239.5 41.4L236.8 43.2z" fill="#ff8300" stroke="#ff8300"/><path d="M236.8 43.2L239.5 41.4L256.1 45.2L253.4 47.2z" fill="#ff8e00" stroke="#ff8e00"/><path d="M253.4 47.2L256.1 45.2L272.8 48.9L270 51z" fill="#ff9700" stroke="#ff9700"/><path d="M139.3 15.2L141.9 14L158.7 18.6L156 19.9z" fill="#ff1e00" stroke="#ff1e00"/><path d="M156 19.9L158.7 18.6L175.4 23.1L172.8 24.5z" fill="#ff3400" stroke="#ff3400"/><path d="M172.8 24.5L175.4 23.1L192.1 27.4L189.5 28.9z" fill="#ff4700" stroke="#ff4700"/><path d="M189.5 28.9L192.1 27.4L208.8 31.6L206.2 33.2z" fill="#ff5800" stroke="#ff5800"/><path d="M206.2 33.2L208.8 31.6L225.5 35.7L222.8 37.3z" fill="#ff6700" stroke="#ff6700"/><path d="M222.8 37.3L225.5 35.7L242.2 39.6L239.5 41.4z" fill="#ff7300" stroke="#ff7300"/><path d="M239.5 41.4L242.2 39.6L258.8 43.3L256.1 45.2z" fill="#ff7d00" stroke="#ff7d00"/><path d="M256.1 45.2L258.8 43.3L275.5 46.9L272.8 48.9z" fill="#ff8500" stroke="#ff8500"/><path d="M141.9 14L144.6 12.9L161.3 17.4L158.7 18.6z" fill="#ff1300" stroke="#ff1300"/><path d="M158.7 18.6L161.3 17.4L178.1 21.8L175.4 23.1z" fill="#ff2800" stroke="#ff2800"/><path d="M175.4 23.1L178.1 21.8L194.8 26L192.1 27.4z" fill="#ff3a00" stroke="#ff3a00"/><path d="M192.1 27.4L194.8 26L211.5 30.1L208.8 31.6z" fill="#ff4b00" stroke="#ff4b00"/><path d="M208.8 31.6L211.5 30.1L228.2 34.1L225.5 35.7z" fill="#ff5900" stroke="#ff5900"/><path d="M225.5 35.7L228.2 34.1L244.9 37.9L242.2 39.6z" fill="#ff6400" stroke="#ff6400"/><path d="M242.2 39.6L244.9 37.9L261.6 41.5L258.8 43.3z" fill="#ff6d00" stroke="#ff6d00"/><path d="M258.8 43.3L261.6 41.5L278.2 45L275.5 46.9z" fill="#ff7400" stroke="#ff7400"/><path d="M144.6 12.9L147.2 11.8L164 16.2L161.3 17.4z" fill="#ff0900" stroke="#ff0900"/><path d="M161.3 17.4L164 16.2L180.8 20.5L178.1 21.8z" fill="#ff1d00" stroke="#ff1d00"/><path d="M178.1 21.8L180.8 20.5L197.5 24.7L194.8 26z" fill="#ff2f00" stroke="#ff2f00"/><path d="M194.8 26L197.5 24.7L214.2 28.7L211.5 30.1z" fill="#ff3e00" stroke="#ff3e00"/><path d="M211.5 30.1L214.2 28.7L230.9 32.5L228.2 34.1z" fill="#ff4b00" stroke="#ff4b00"/><path d="M228.2 34.1L230.9 32.5L247.6 36.2L244.9 37.9z" fill="#ff5600" stroke="#ff5600"/><path d="M244.9 37.9L247.6 36.2L264.3 39.7L261.6 41.5z" fill="#ff5e00" stroke="#ff5e00"/><path d="M261.6 41.5L264.3 39.7L281 43.1L278.2 45z" fill="#ff6400" stroke="#ff6400"/><path d="M147.2 11.8L149.9 10.8L166.7 15.1L164 16.2z" fill="#ff0000" stroke="#ff0000"/><path d="M164 16.2L166.7 15.1L183.4 19.4L180.8 20.5z" fill="#ff1300" stroke="#ff1300"/><path d="M180.8 20.5L183.4 19.4L200.2 23.4L197.5 24.7z" fill="#ff2400" stroke="#ff2400"/><path d="M197.5 24.7L200.2 23.4L216.9 27.3L214.2 28.7z" fill="#ff3300" stroke="#ff3300"/><path d="M214.2 28.7L216.9 27.3L233.6 31.1L230.9 32.5z" fill="#ff3f00" stroke="#ff3f00"/><path d="M230.9 32.5L233.6 31.1L250.3 34.6L247.6 36.2z" fill="#ff4900" stroke="#ff4900"/><path d="M247.6 36.2L250.3 34.6L267 38L264.3 39.7z" fill="#ff5000" stroke="#ff5000"/><path d="M264.3 39.7L267 38L283.7 41.3L281 43.1z" fill="#ff5500" stroke="#ff5500"/><path d="M149.9 10.8L152.6 9.9L169.3 14.1L166.7 15.1z" fill="#ff0000" stroke="#ff0000"/><path d="M166.7 15.1L169.3 14.1L186.1 18.3L183.4 19.4z" fill="#ff0a00" stroke="#ff0a00"/><path d="M183.4 19.4L186.1 18.3L202.9 22.2L200.2 23.4z" fill="#ff1b00" stroke="#ff1b00"/><path d="M200.2 23.4L202.9 22.2L219.6 26L216.9 27.3z" fill="#ff2800" stroke="#ff2800"/><path d="M216.9 27.3L219.6 26L236.3 29.7L233.6 31.1z" fill="#ff3400" stroke="#ff3400"/><path d="M233.6 31.1L236.3 29.7L253 33.1L250.3 34.6z" fill="#ff3c00" stroke="#ff3c00"/><path d="M250.3 34.6L253 33.1L269.7 36.4L267 38z" fill="#ff4300" stroke="#ff4300"/><path d="M267 38L269.7 36.4L286.4 39.5L283.7 41.3z" fill="#ff4600" stroke="#ff4600"/><path d="M152.6 9.9L155.2 9L172 13.2L169.3 14.1z" fill="#ff0000" stroke="#ff0000"/><path d="M169.3 14.1L172 13.2L188.8 17.2L186.1 18.3z" fill="#ff0200" stroke="#ff0200"/><path d="M186.1 18.3L188.8 17.2L205.5 21.1L202.9 22.2z" fill="#ff1200" stroke="#ff1200"/><path d="M202.9 22.2L205.5 21.1L222.3 24.8L219.6 26z" fill="#ff1f00" stroke="#ff1f00"/><path d="M219.6 26L222.3 24.8L239 28.3L236.3 29.7z" fill="#ff2900" stroke="#ff2900"/><path d="M236.3 29.7L239 28.3L255.7 31.7L253 33.1z" fill="#ff3100" stroke="#ff3100"/><path d="M253 33.1L255.7 31.7L272.4 34.9L269.7 36.4z" fill="#ff3600" stroke="#ff3600"/><path d="M269.7 36.4L272.4 34.9L289.2 37.8L286.4 39.5z" fill="#ff3800" stroke="#ff3800"/><path d="M155.2 9L157.9 8.2L174.7 12.3L172 13.2z" fill="#ff0000" stroke="#ff0000"/><path d="M172 13.2L174.7 12.3L191.5 16.3L188.8 17.2z" fill="#ff0000" stroke="#ff0000"/><path d="M188.8 17.2L191.5 16.3L208.2 20L205.5 21.1z" fill="#ff0a00" stroke="#ff0a00"/><path d="M205.5 21.1L208.2 20L225 23.7L222.3 24.8z" fill="#ff1600" stroke="#ff1600"/><path d="M222.3 24.8L225 23.7L241.7 27.1L239 28.3z" fill="#ff1f00" stroke="#ff1f00"/><path d="M239 28.3L241.7 27.1L258.4 30.3L255.7 31.7z" fill="#ff2600" stroke="#ff2600"/><path d="M255.7 31.7L258.4 30.3L275.2 33.4L272.4 34.9z" fill="#ff2a00" stroke="#ff2a00"/><path d="M272.4 34.9L275.2 33.4L291.9 36.2L289.2 37.8z" fill="#ff2c00" stroke="#ff2c00"/><path d="M157.9 8.2L160.6 7.5L177.4 11.5L174.7 12.3z" fill="#ff0000" stroke="#ff0000"/><path d="M174.7 12.3L177.4 11.5L194.1 15.4L191.5 16.3z" fill="#ff0000" stroke="#ff0000"/><path d="M191.5 16.3L194.1 15.4L210.9 19.1L208.2 20z" fill="#ff0300" stroke="#ff0300"/><path d="M208.2 20L210.9 19.1L227.7 22.6L225 23.7z" fill="#ff0e00" stroke="#ff0e00"/><path d="M225 23.7L227.7 22.6L244.4 25.9L241.7 27.1z" fill="#ff1700" stroke="#ff1700"/><path d="M241.7 27.1L244.4 25.9L261.1 29L258.4 30.3z" fill="#ff1c00" stroke="#ff1c00"/><path d="M258.4 30.3L261.1 29L277.9 32L275.2 33.4z" fill="#ff1f00" stroke="#ff1f00"/><path d="M275.2 33.4L277.9 32L294.6 34.7L291.9 36.2z" fill="#ff2000" stroke="#ff2000"/><path d="M160.6 7.5L163.2 6.8L180 10.8L177.4 11.5z" fill="#ff0000" stroke="#ff0000"/><path d="M177.4 11.5L180 10.8L196.8 14.5L194.1 15.4z" fill="#ff0000" stroke="#ff0000"/><path d="M194.1 15.4L196.8 14.5L213.6 18.1L210.9 19.1z" fill="#ff0000" stroke="#ff0000"/><path d="M210.9 19.1L213.6 18.1L230.3 21.6L227.7 22.6z" fill="#ff0700" stroke="#ff0700"/><path d="M227.7 22.6L230.3 21.6L247.1 24.8L244.4 25.9z" fill="#ff0f00" stroke="#ff0f00"/><path d="M244.4 25.9L247.1 24.8L263.8 27.8L261.1 29z" fill="#ff1400" stroke="#ff1400"/><path d="M261.1 29L263.8 27.8L280.6 30.6L277.9 32z" fill="#ff1500" stroke="#ff1500"/><path d="M277.9 32L280.6 30.6L297.4 33.2L294.6 34.7z" fill="#ff1500" stroke="#ff1500"/><path d="M163.2 6.8L165.9 6.2L182.7 10.1L180 10.8z" fill="#ff0000" stroke="#ff0000"/><path d="M180 10.8L182.7 10.1L199.5 13.8L196.8 14.5z" fill="#ff0000" stroke="#ff0000"/><path d="M196.8 14.5L199.5 13.8L216.3 17.3L213.6 18.1z" fill="#ff0000" stroke="#ff0000"/><path d="M213.6 18.1L216.3 17.3L233 20.6L230.3 21.6z" fill="#ff0100" stroke="#ff0100"/><path d="M230.3 21.6L233 20.6L249.8 23.7L247.1 24.8z" fill="#ff0800" stroke="#ff0800"/><path d="M247.1 24.8L249.8 23.7L266.5 26.6L263.8 27.8z" fill="#ff0c00" stroke="#ff0c00"/><path d="M263.8 27.8L266.5 26.6L283.3 29.3L280.6 30.6z" fill="#ff0c00" stroke="#ff0c00"/><path d="M280.6 30.6L283.3 29.3L300.1 31.8L297.4 33.2z" fill="#ff0a00" stroke="#ff0a00"/><path d="M165.9 6.2L168.6 5.7L185.4 9.5L182.7 10.1z" fill="#ff0000" stroke="#ff0000"/><path d="M182.7 10.1L185.4 9.5L202.2 13.1L199.5 13.8z" fill="#ff0000" stroke="#ff0000"/><path d="M199.5 13.8L202.2 13.1L219 16.5L216.3 17.3z" fill="#ff0000" stroke="#ff0000"/><path d="M216.3 17.3L219 16.5L235.7 19.7L233 20.6z" fill="#ff0000" stroke="#ff0000"/><path d="M233 20.6L235.7 19.7L252.5 22.8L249.8 23.7z" fill="#ff0200" stroke="#ff0200"/><path d="M249.8 23.7L252.5 22.8L269.2 25.6L266.5 26.6z" fill="#ff0500" stroke="#ff0500"/><path d="M266.5 26.6L269.2 25.6L286 28.1L283.3 29.3z" fill="#ff0400" stroke="#ff0400"/><path d="M283.3 29.3L286 28.1L302.8 30.5L300.1 31.8z" fill="#ff0100" stroke="#ff0100"/><path d="M168.6 5.7L171.3 5.2L188.1 8.9L185.4 9.5z" fill="#ff0000" stroke="#ff0000"/><path d="M185.4 9.5L188.1 8.9L204.9 12.5L202.2 13.1z" fill="#ff0000" stroke="#ff0000"/><path d="M202.2 13.1L204.9 12.5L221.6 15.8L219 16.5z" fill="#ff0000" stroke="#ff0000"/><path d="M219 16.5L221.6 15.8L238.4 18.9L235.7 19.7z" fill="#ff0000" stroke="#ff0000"/><path d="M235.7 19.7L238.4 18.9L255.2 21.8L252.5 22.8z" fill="#ff0000" stroke="#ff0000"/><path d="M252.5 22.8L255.2 21.8L271.9 24.5L269.2 25.6z" fill="#ff0000" stroke="#ff0000"/><path d="M269.2 25.6L271.9 24.5L288.7 27L286 28.1z" fill="#ff0000" stroke="#ff0000"/><path d="M286 28.1L288.7 27L305.5 29.2L302.8 30.5z" fill="#ff0000" stroke="#ff0000"/><path d="M171.3 5.2L174 4.8L190.8 8.5L188.1 8.9z" fill="#ff0000" stroke="#ff0000"/><path d="M188.1 8.9L190.8 8.5L207.5 11.9L204.9 12.5z" fill="#ff0000" stroke="#ff0000"/><path d="M204.9 12.5L207.5 11.9L224.3 15.2L221.6 15.8z" fill="#ff0000" stroke="#ff0000"/><path d="M221.6 15.8L224.3 15.2L241.1 18.2L238.4 18.9z" fill="#ff0000" stroke="#ff0000"/><path d="M238.4 18.9L241.1 18.2L257.9 21L255.2 21.8z" fill="#ff0000" stroke="#ff0000"/><path d="M255.2 21.8L257.9 21L274.6 23.6L271.9 24.5z" fill="#ff0000" stroke="#ff0000"/><path d="M271.9 24.5L274.6 23.6L291.4 26L288.7 27z" fill="#ff0000" stroke="#ff0000"/><path d="M288.7 27L291.4 26L308.3 28.1L305.5 29.2z" fill="#ff0000" stroke="#ff0000"/><path d="M174 4.8L176.6 4.5L193.4 8.1L190.8 8.5z" fill="#ff0000" stroke="#ff0000"/><path d="M190.8 8.5L193.4 8.1L210.2 11.4L207.5 11.9z" fill="#ff0000" stroke="#ff0000"/><path d="M207.5 11.9L210.2 11.4L227 14.6L224.3 15.2z" fill="#ff0000" stroke="#ff0000"/><path d="M224.3 15.2L227 14.6L243.8 17.5L241.1 18.2z" fill="#ff0000" stroke="#ff0000"/><path d="M241.1 18.2L243.8 17.5L260.6 20.2L257.9 21z" fill="#ff0000" stroke="#ff0000"/><path d="M257.9 21L260.6 20.2L277.3 22.7L274.6 23.6z" fill="#ff0000" stroke="#ff0000"/><path d="M274.6 23.6L277.3 22.7L294.1 25L291.4 26z" fill="#ff0000" stroke="#ff0000"/><path d="M291.4 26L294.1 25L311 27L308.3 28.1z" fill="#ff0000" stroke="#ff0000"/><path d="M176.6 4.5L179.3 4.2L196.1 7.7L193.4 8.1z" fill="#ff0000" stroke="#ff0000"/><path d="M193.4 8.1L196.1 7.7L212.9 11L210.2 11.4z" fill="#ff0000" stroke="#ff0000"/><path d="M210.2 11.4L212.9 11L229.7 14.1L227 14.6z" fill="#ff0000" stroke="#ff0000"/><path d="M227 14.6L229.7 14.1L246.5 16.9L243.8 17.5z" fill="#ff0000" stroke="#ff0000"/><path d="M243.8 17.5L246.5 16.9L263.2 19.5L260.6 20.2z" fill="#ff0000" stroke="#ff0000"/><path d="M260.6 20.2L263.2 19.5L280 21.9L277.3 22.7z" fill="#ff0000" stroke="#ff0000"/><path d="M277.3 22.7L280 21.9L296.9 24.1L294.1 25z" fill="#ff0000" stroke="#ff0000"/><path d="M294.1 25L296.9 24.1L313.7 25.9L311 27z" fill="#ff0000" stroke="#ff0000"/><path d="M179.3 4.2L182 4L198.8 7.4L196.1 7.7z" fill="#ff0000" stroke="#ff0000"/><path d="M196.1 7.7L198.8 7.4L215.6 10.6L212.9 11z" fill="#ff0000" stroke="#ff0000"/><path d="M212.9 11L215.6 10.6L232.4 13.6L229.7 14.1z" fill="#ff0000" stroke="#ff0000"/><path d="M229.7 14.1L232.4 13.6L249.1 16.4L246.5 16.9z" fill="#ff0000" stroke="#ff0000"/><path d="M246.5 16.9L249.1 16.4L265.9 18.9L263.2 19.5z" fill="#ff0000" stroke="#ff0000"/><path d="M263.2 19.5L265.9 18.9L282.7 21.2L280 21.9z" fill="#ff0000" stroke="#ff0000"/><path d="M280 21.9L282.7 21.2L299.6 23.2L296.9 24.1z" fill="#ff0000" stroke="#ff0000"/><path d="M296.9 24.1L299.6 23.2L316.4 25L313.7 25.9z" fill="#ff0000" stroke="#ff0000"/></g>
<path d="M53.2 99.2L56.1 94.7L59.1 90.3L62.1 86L65.1 81.8L68.2 77.7L71.2 73.7L74.3 69.9L77.4 66.1L80.5 62.4L83.6 58.9L86.8 55.4L89.9 52.1L93.1 48.8L96.2 45.7L99.4 42.7L102.6 39.8L105.9 37.1L109.1 34.4L112.3 31.8L115.6 29.4L118.8 27.1L122.1 24.9L125.4 22.8L128.7 20.8L132 18.9L135.3 17.2L138.6 15.5L141.9 14L145.2 12.6L148.6 11.3L151.9 10.1L155.2 9L158.6 8L161.9 7.1L165.3 6.3L168.6 5.7L172 5.1L175.3 4.6L178.7 4.3L182 4M55.8 100.2L58.7 95.7L61.7 91.3L64.7 87L67.8 82.8L70.8 78.7L73.9 74.7L76.9 70.8L80 67.1L83.1 63.4L86.3 59.8L89.4 56.4L92.6 53L95.7 49.8L98.9 46.7L102.1 43.6L105.3 40.7L108.5 38L111.8 35.3L115 32.7L118.3 30.3L121.5 27.9L124.8 25.7L128.1 23.6L131.4 21.6L134.7 19.7L138 18L141.3 16.3L144.6 14.8L147.9 13.3L151.2 12L154.6 10.8L157.9 9.7L161.3 8.7L164.6 7.8L167.9 7L171.3 6.3L174.6 5.7L178 5.2L181.3 4.8L184.7 4.6M58.3 101.2L61.3 96.7L64.3 92.3L67.3 88L70.4 83.8L73.4 79.7L76.5 75.7L79.6 71.8L82.7 68L85.8 64.4L88.9 60.8L92 57.3L95.2 54L98.4 50.7L101.6 47.6L104.8 44.6L108 41.7L111.2 38.9L114.4 36.2L117.7 33.6L120.9 31.1L124.2 28.8L127.5 26.5L130.7 24.4L134 22.4L137.3 20.5L140.6 18.7L144 17.1L147.3 15.5L150.6 14L153.9 12.7L157.3 11.5L160.6 10.3L163.9 9.3L167.3 8.4L170.6 7.6L174 6.9L177.3 6.3L180.7 5.8L184 5.4L187.4 5.1M60.9 102.2L63.9 97.7L66.9 93.3L70 89L73 84.8L76 80.7L79.1 76.7L82.2 72.8L85.3 69L88.4 65.3L91.5 61.8L94.7 58.3L97.9 54.9L101 51.7L104.2 48.5L107.4 45.5L110.6 42.6L113.9 39.7L117.1 37L120.3 34.5L123.6 32L126.9 29.6L130.1 27.4L133.4 25.2L136.7 23.2L140 21.3L143.3 19.5L146.6 17.8L150 16.2L153.3 14.8L156.6 13.4L160 12.2L163.3 11L166.6 10L170 9.1L173.3 8.2L176.7 7.5L180 6.9L183.4 6.4L186.7 6L190.1 5.7M63.5 103.2L66.5 98.7L69.5 94.3L72.6 90L75.6 85.8L78.7 81.7L81.7 77.7L84.8 73.8L87.9 70L91.1 66.3L94.2 62.7L97.3 59.2L100.5 55.9L103.7 52.6L106.9 49.5L110.1 46.4L113.3 43.5L116.5 40.6L119.8 37.9L123 35.3L126.3 32.8L129.5 30.5L132.8 28.2L136.1 26L139.4 24L142.7 22.1L146 20.3L149.3 18.6L152.6 17L156 15.5L159.3 14.1L162.6 12.8L166 11.7L169.3 10.6L172.7 9.7L176 8.9L179.4 8.1L182.7 7.5L186.1 7L189.4 6.5L192.7 6.2M66.1 104.2L69.1 99.7L72.1 95.3L75.2 91L78.2 86.8L81.3 82.7L84.4 78.7L87.5 74.8L90.6 71L93.7 67.3L96.8 63.7L100 60.2L103.2 56.8L106.3 53.5L109.5 50.4L112.7 47.3L116 44.4L119.2 41.5L122.4 38.8L125.7 36.2L128.9 33.7L132.2 31.3L135.5 29L138.8 26.9L142.1 24.8L145.4 22.9L148.7 21L152 19.3L155.3 17.7L158.7 16.2L162 14.8L165.3 13.5L168.7 12.4L172 11.3L175.4 10.3L178.7 9.5L182 8.7L185.4 8.1L188.7 7.5L192.1 7.1L195.4 6.8M68.7 105.2L71.7 100.7L74.8 96.3L77.8 92L80.8 87.8L83.9 83.7L87 79.7L90.1 75.8L93.2 72L96.3 68.3L99.5 64.7L102.6 61.2L105.8 57.8L109 54.5L112.2 51.3L115.4 48.2L118.6 45.3L121.8 42.4L125.1 39.7L128.3 37.1L131.6 34.5L134.9 32.1L138.2 29.8L141.5 27.7L144.8 25.6L148.1 23.6L151.4 21.8L154.7 20.1L158 18.4L161.3 16.9L164.7 15.5L168 14.2L171.3 13L174.7 11.9L178 11L181.4 10.1L184.7 9.3L188.1 8.7L191.4 8.1L194.8 7.6L198.1 7.3M71.3 106.2L74.3 101.7L77.4 97.3L80.4 93L83.5 88.8L86.5 84.7L89.6 80.7L92.7 76.8L95.8 72.9L99 69.2L102.1 65.6L105.3 62.1L108.4 58.7L111.6 55.4L114.8 52.2L118 49.2L121.3 46.2L124.5 43.3L127.8 40.6L131 37.9L134.3 35.4L137.5 33L140.8 30.7L144.1 28.5L147.4 26.4L150.7 24.4L154 22.5L157.4 20.8L160.7 19.2L164 17.6L167.4 16.2L170.7 14.9L174 13.7L177.4 12.6L180.7 11.6L184.1 10.7L187.4 9.9L190.8 9.2L194.1 8.7L197.5 8.2L200.8 7.8M73.9 107.2L76.9 102.7L80 98.3L83 94L86.1 89.8L89.1 85.7L92.2 81.7L95.3 77.7L98.5 73.9L101.6 70.2L104.7 66.6L107.9 63.1L111.1 59.7L114.3 56.4L117.5 53.2L120.7 50.1L123.9 47.1L127.2 44.2L130.4 41.4L133.7 38.8L136.9 36.2L140.2 33.8L143.5 31.5L146.8 29.3L150.1 27.2L153.4 25.2L156.7 23.3L160 21.5L163.4 19.9L166.7 18.3L170 16.9L173.4 15.6L176.7 14.3L180.1 13.2L183.4 12.2L186.8 11.3L190.1 10.5L193.5 9.8L196.8 9.2L200.1 8.7L203.5 8.3M76.5 108.2L79.5 103.7L82.6 99.3L85.6 95L88.7 90.8L91.8 86.7L94.9 82.7L98 78.7L101.1 74.9L104.2 71.2L107.4 67.6L110.6 64L113.7 60.6L116.9 57.3L120.1 54.1L123.4 51L126.6 48L129.8 45.1L133.1 42.3L136.3 39.7L139.6 37.1L142.9 34.6L146.2 32.3L149.5 30.1L152.8 28L156.1 26L159.4 24.1L162.7 22.3L166.1 20.6L169.4 19L172.7 17.6L176.1 16.2L179.4 15L182.7 13.8L186.1 12.8L189.4 11.9L192.8 11.1L196.1 10.4L199.5 9.8L202.8 9.3L206.2 8.9M79.1 109.2L82.1 104.7L85.2 100.3L88.2 96L91.3 91.8L94.4 87.7L97.5 83.7L100.6 79.7L103.7 75.9L106.9 72.2L110 68.5L113.2 65L116.4 61.6L119.6 58.2L122.8 55L126 51.9L129.2 48.9L132.5 46L135.7 43.2L139 40.5L142.3 37.9L145.6 35.5L148.8 33.1L152.1 30.9L155.4 28.7L158.8 26.7L162.1 24.8L165.4 23L168.7 21.3L172.1 19.7L175.4 18.2L178.7 16.9L182.1 15.6L185.4 14.5L188.8 13.4L192.1 12.5L195.5 11.7L198.8 10.9L202.2 10.3L205.5 9.8L208.9 9.4M81.7 110.2L84.7 105.8L87.8 101.3L90.8 97L93.9 92.8L97 88.7L100.1 84.6L103.2 80.7L106.3 76.9L109.5 73.1L112.7 69.5L115.8 65.9L119 62.5L122.2 59.2L125.4 55.9L128.7 52.8L131.9 49.8L135.1 46.9L138.4 44.1L141.7 41.4L144.9 38.8L148.2 36.3L151.5 33.9L154.8 31.7L158.1 29.5L161.4 27.5L164.8 25.6L168.1 23.7L171.4 22L174.7 20.4L178.1 18.9L181.4 17.5L184.8 16.3L188.1 15.1L191.5 14L194.8 13.1L198.2 12.2L201.5 11.5L204.9 10.9L208.2 10.3L211.5 9.9M84.3 111.3L87.3 106.8L90.4 102.4L93.4 98L96.5 93.8L99.6 89.7L102.7 85.6L105.8 81.7L109 77.8L112.1 74.1L115.3 70.4L118.5 66.9L121.7 63.4L124.9 60.1L128.1 56.9L131.3 53.7L134.5 50.7L137.8 47.8L141.1 44.9L144.3 42.2L147.6 39.6L150.9 37.1L154.2 34.7L157.5 32.5L160.8 30.3L164.1 28.2L167.4 26.3L170.8 24.5L174.1 22.7L177.4 21.1L180.8 19.6L184.1 18.2L187.4 16.9L190.8 15.7L194.1 14.6L197.5 13.7L200.8 12.8L204.2 12L207.5 11.4L210.9 10.8L214.2 10.4M86.9 112.3L89.9 107.8L93 103.4L96 99L99.1 94.8L102.2 90.7L105.3 86.6L108.5 82.7L111.6 78.8L114.8 75.1L117.9 71.4L121.1 67.9L124.3 64.4L127.5 61L130.7 57.8L134 54.6L137.2 51.6L140.5 48.6L143.7 45.8L147 43.1L150.3 40.5L153.6 38L156.8 35.6L160.2 33.3L163.5 31.1L166.8 29L170.1 27L173.4 25.2L176.8 23.4L180.1 21.8L183.4 20.3L186.8 18.9L190.1 17.5L193.5 16.3L196.8 15.2L200.2 14.3L203.5 13.4L206.9 12.6L210.2 11.9L213.6 11.3L216.9 10.9M89.5 113.3L92.5 108.8L95.6 104.4L98.6 100.1L101.7 95.8L104.8 91.7L107.9 87.6L111.1 83.7L114.2 79.8L117.4 76L120.6 72.4L123.7 68.8L126.9 65.3L130.2 62L133.4 58.7L136.6 55.5L139.9 52.5L143.1 49.5L146.4 46.7L149.6 43.9L152.9 41.3L156.2 38.8L159.5 36.4L162.8 34L166.1 31.8L169.5 29.8L172.8 27.8L176.1 25.9L179.4 24.1L182.8 22.5L186.1 20.9L189.5 19.5L192.8 18.2L196.2 16.9L199.5 15.8L202.9 14.8L206.2 13.9L209.6 13.1L212.9 12.4L216.3 11.9L219.6 11.4M92.1 114.3L95.1 109.8L98.2 105.4L101.2 101.1L104.3 96.8L107.4 92.7L110.6 88.6L113.7 84.7L116.8 80.8L120 77L123.2 73.3L126.4 69.8L129.6 66.3L132.8 62.9L136 59.6L139.3 56.4L142.5 53.4L145.8 50.4L149 47.5L152.3 44.8L155.6 42.1L158.9 39.6L162.2 37.2L165.5 34.8L168.8 32.6L172.1 30.5L175.4 28.5L178.8 26.6L182.1 24.8L185.5 23.2L188.8 21.6L192.1 20.1L195.5 18.8L198.8 17.6L202.2 16.4L205.5 15.4L208.9 14.5L212.2 13.7L215.6 13L218.9 12.4L222.3 11.9M94.6 115.3L97.7 110.8L100.8 106.4L103.8 102.1L106.9 97.8L110.1 93.7L113.2 89.6L116.3 85.6L119.5 81.8L122.6 78L125.8 74.3L129 70.7L132.2 67.2L135.4 63.8L138.7 60.5L141.9 57.4L145.2 54.3L148.4 51.3L151.7 48.4L155 45.6L158.2 43L161.5 40.4L164.8 38L168.2 35.6L171.5 33.4L174.8 31.3L178.1 29.2L181.5 27.3L184.8 25.5L188.1 23.8L191.5 22.3L194.8 20.8L198.2 19.4L201.5 18.2L204.9 17L208.2 16L211.6 15L214.9 14.2L218.3 13.5L221.6 12.9L225 12.3M97.2 116.3L100.3 111.8L103.4 107.4L106.4 103.1L109.5 98.8L112.7 94.7L115.8 90.6L118.9 86.6L122.1 82.8L125.3 79L128.5 75.3L131.6 71.7L134.9 68.2L138.1 64.8L141.3 61.5L144.5 58.3L147.8 55.2L151.1 52.2L154.3 49.3L157.6 46.5L160.9 43.8L164.2 41.2L167.5 38.8L170.8 36.4L174.1 34.1L177.5 32L180.8 30L184.1 28L187.5 26.2L190.8 24.5L194.2 22.9L197.5 21.4L200.8 20L204.2 18.8L207.6 17.6L210.9 16.5L214.3 15.6L217.6 14.7L221 14L224.3 13.3L227.7 12.8M99.8 117.4L102.9 112.9L106 108.4L109 104.1L112.1 99.8L115.3 95.7L118.4 91.6L121.6 87.6L124.7 83.7L127.9 79.9L131.1 76.2L134.3 72.6L137.5 69.1L140.7 65.7L143.9 62.4L147.2 59.2L150.4 56L153.7 53L157 50.1L160.3 47.3L163.6 44.6L166.9 42L170.2 39.6L173.5 37.2L176.8 34.9L180.1 32.7L183.5 30.7L186.8 28.7L190.1 26.9L193.5 25.2L196.8 23.6L200.2 22L203.5 20.6L206.9 19.4L210.2 18.2L213.6 17.1L216.9 16.1L220.3 15.2L223.6 14.5L227 13.8L230.3 13.3M102.4 118.4L105.5 113.9L108.5 109.4L111.6 105.1L114.8 100.9L117.9 96.7L121 92.6L124.2 88.6L127.3 84.7L130.5 80.9L133.7 77.2L136.9 73.6L140.1 70L143.4 66.6L146.6 63.3L149.8 60.1L153.1 56.9L156.4 53.9L159.6 51L162.9 48.2L166.2 45.5L169.5 42.8L172.8 40.3L176.1 38L179.5 35.7L182.8 33.5L186.1 31.4L189.5 29.4L192.8 27.6L196.2 25.8L199.5 24.2L202.9 22.7L206.2 21.3L209.6 19.9L212.9 18.7L216.3 17.6L219.6 16.6L223 15.8L226.3 15L229.7 14.3L233 13.7M105 119.4L108.1 114.9L111.1 110.5L114.2 106.1L117.4 101.9L120.5 97.7L123.6 93.6L126.8 89.6L130 85.7L133.1 81.9L136.3 78.1L139.5 74.5L142.8 71L146 67.5L149.2 64.2L152.5 61L155.7 57.8L159 54.8L162.3 51.8L165.6 49L168.9 46.3L172.2 43.7L175.5 41.1L178.8 38.7L182.1 36.4L185.5 34.2L188.8 32.1L192.1 30.1L195.5 28.3L198.8 26.5L202.2 24.8L205.5 23.3L208.9 21.9L212.2 20.5L215.6 19.3L219 18.2L222.3 17.2L225.7 16.3L229 15.5L232.4 14.8L235.7 14.2M107.6 120.4L110.6 115.9L113.7 111.5L116.8 107.1L120 102.9L123.1 98.7L126.2 94.6L129.4 90.6L132.6 86.7L135.8 82.8L139 79.1L142.2 75.5L145.4 71.9L148.6 68.5L151.9 65.1L155.1 61.9L158.4 58.7L161.7 55.7L164.9 52.7L168.2 49.9L171.5 47.1L174.8 44.5L178.2 41.9L181.5 39.5L184.8 37.2L188.1 35L191.5 32.8L194.8 30.8L198.2 28.9L201.5 27.2L204.9 25.5L208.2 23.9L211.6 22.5L214.9 21.1L218.3 19.9L221.6 18.7L225 17.7L228.3 16.8L231.7 16L235 15.2L238.4 14.6M110.1 121.4L113.2 116.9L116.3 112.5L119.4 108.1L122.6 103.9L125.7 99.7L128.9 95.6L132 91.6L135.2 87.6L138.4 83.8L141.6 80.1L144.8 76.4L148 72.9L151.3 69.4L154.5 66L157.8 62.8L161 59.6L164.3 56.5L167.6 53.6L170.9 50.7L174.2 47.9L177.5 45.3L180.8 42.7L184.1 40.3L187.5 37.9L190.8 35.7L194.1 33.6L197.5 31.5L200.8 29.6L204.2 27.8L207.5 26.1L210.9 24.5L214.2 23.1L217.6 21.7L221 20.4L224.3 19.3L227.7 18.2L231 17.3L234.4 16.4L237.7 15.7L241.1 15.1M112.7 122.5L115.8 117.9L118.9 113.5L122 109.2L125.2 104.9L128.3 100.7L131.5 96.6L134.6 92.6L137.8 88.6L141 84.8L144.2 81L147.4 77.4L150.7 73.8L153.9 70.3L157.1 66.9L160.4 63.7L163.7 60.5L167 57.4L170.2 54.4L173.5 51.5L176.8 48.7L180.2 46.1L183.5 43.5L186.8 41L190.1 38.7L193.5 36.4L196.8 34.3L200.1 32.2L203.5 30.3L206.8 28.5L210.2 26.8L213.6 25.1L216.9 23.6L220.3 22.3L223.6 21L227 19.8L230.4 18.7L233.7 17.8L237.1 16.9L240.4 16.2L243.8 15.5M115.3 123.5L118.4 119L121.5 114.5L124.6 110.2L127.8 105.9L130.9 101.7L134.1 97.6L137.2 93.6L140.4 89.6L143.6 85.8L146.8 82L150.1 78.3L153.3 74.7L156.5 71.2L159.8 67.9L163 64.6L166.3 61.4L169.6 58.3L172.9 55.3L176.2 52.4L179.5 49.6L182.8 46.9L186.1 44.3L189.5 41.8L192.8 39.4L196.1 37.1L199.5 35L202.8 32.9L206.2 31L209.5 29.1L212.9 27.4L216.2 25.7L219.6 24.2L223 22.8L226.3 21.5L229.7 20.3L233 19.2L236.4 18.3L239.7 17.4L243.1 16.6L246.4 16M117.9 124.5L121 120L124.1 115.5L127.2 111.2L130.4 106.9L133.5 102.7L136.7 98.6L139.9 94.5L143 90.6L146.2 86.7L149.5 82.9L152.7 79.3L155.9 75.7L159.2 72.2L162.4 68.8L165.7 65.5L169 62.2L172.2 59.1L175.5 56.1L178.8 53.2L182.1 50.4L185.5 47.7L188.8 45.1L192.1 42.6L195.5 40.2L198.8 37.9L202.1 35.7L205.5 33.6L208.8 31.6L212.2 29.8L215.6 28L218.9 26.4L222.3 24.8L225.6 23.4L229 22.1L232.4 20.8L235.7 19.7L239.1 18.7L242.4 17.8L245.8 17.1L249.1 16.4M120.5 125.5L123.6 121L126.7 116.6L129.8 112.2L133 107.9L136.1 103.7L139.3 99.6L142.5 95.5L145.7 91.6L148.9 87.7L152.1 83.9L155.3 80.2L158.5 76.6L161.8 73.1L165.1 69.7L168.3 66.3L171.6 63.1L174.9 60L178.2 57L181.5 54L184.8 51.2L188.1 48.5L191.4 45.8L194.8 43.3L198.1 40.9L201.5 38.6L204.8 36.4L208.2 34.3L211.5 32.3L214.9 30.4L218.2 28.6L221.6 26.9L224.9 25.4L228.3 23.9L231.7 22.6L235 21.4L238.4 20.2L241.8 19.2L245.1 18.3L248.5 17.5L251.8 16.8M123.1 126.6L126.2 122L129.3 117.6L132.4 113.2L135.6 108.9L138.7 104.7L141.9 100.6L145.1 96.5L148.3 92.5L151.5 88.7L154.7 84.9L157.9 81.2L161.2 77.5L164.4 74L167.7 70.6L171 67.2L174.2 64L177.5 60.8L180.8 57.8L184.1 54.8L187.5 52L190.8 49.3L194.1 46.6L197.4 44.1L200.8 41.6L204.1 39.3L207.5 37.1L210.8 34.9L214.2 32.9L217.5 31L220.9 29.2L224.3 27.5L227.6 26L231 24.5L234.4 23.1L237.7 21.9L241.1 20.7L244.4 19.7L247.8 18.8L251.2 17.9L254.5 17.2M125.6 127.6L128.7 123.1L131.9 118.6L135 114.2L138.2 109.9L141.3 105.7L144.5 101.6L147.7 97.5L150.9 93.5L154.1 89.6L157.3 85.8L160.6 82.1L163.8 78.5L167.1 74.9L170.3 71.5L173.6 68.1L176.9 64.9L180.2 61.7L183.5 58.6L186.8 55.7L190.1 52.8L193.4 50L196.8 47.4L200.1 44.8L203.4 42.4L206.8 40L210.1 37.8L213.5 35.6L216.8 33.6L220.2 31.7L223.6 29.8L226.9 28.1L230.3 26.5L233.7 25L237 23.7L240.4 22.4L243.8 21.2L247.1 20.2L250.5 19.2L253.8 18.4L257.2 17.6M128.2 128.6L131.3 124.1L134.5 119.6L137.6 115.2L140.7 110.9L143.9 106.7L147.1 102.6L150.3 98.5L153.5 94.5L156.7 90.6L159.9 86.8L163.2 83L166.4 79.4L169.7 75.8L173 72.4L176.2 69L179.5 65.7L182.8 62.6L186.1 59.5L189.4 56.5L192.8 53.6L196.1 50.8L199.4 48.1L202.8 45.6L206.1 43.1L209.4 40.7L212.8 38.4L216.2 36.3L219.5 34.2L222.9 32.3L226.2 30.4L229.6 28.7L233 27.1L236.3 25.6L239.7 24.2L243.1 22.9L246.4 21.7L249.8 20.6L253.2 19.6L256.5 18.8L259.9 18M130.8 129.6L133.9 125.1L137 120.7L140.2 116.3L143.3 112L146.5 107.7L149.7 103.6L152.9 99.5L156.1 95.5L159.3 91.6L162.6 87.7L165.8 84L169 80.3L172.3 76.8L175.6 73.3L178.9 69.9L182.2 66.6L185.5 63.4L188.8 60.3L192.1 57.3L195.4 54.4L198.7 51.6L202.1 48.9L205.4 46.3L208.8 43.8L212.1 41.4L215.5 39.1L218.8 37L222.2 34.9L225.5 32.9L228.9 31L232.3 29.3L235.7 27.7L239 26.1L242.4 24.7L245.8 23.4L249.1 22.2L252.5 21.1L255.9 20.1L259.2 19.2L262.6 18.4M133.4 130.7L136.5 126.1L139.6 121.7L142.8 117.3L145.9 113L149.1 108.7L152.3 104.6L155.5 100.5L158.7 96.5L161.9 92.5L165.2 88.7L168.4 84.9L171.7 81.3L174.9 77.7L178.2 74.2L181.5 70.8L184.8 67.5L188.1 64.3L191.4 61.2L194.7 58.1L198 55.2L201.4 52.4L204.7 49.7L208.1 47.1L211.4 44.5L214.8 42.1L218.1 39.8L221.5 37.6L224.9 35.5L228.2 33.5L231.6 31.6L235 29.9L238.3 28.2L241.7 26.7L245.1 25.2L248.4 23.9L251.8 22.6L255.2 21.5L258.5 20.5L261.9 19.6L265.2 18.8M135.9 131.7L139.1 127.2L142.2 122.7L145.4 118.3L148.5 114L151.7 109.7L154.9 105.6L158.1 101.5L161.3 97.4L164.5 93.5L167.8 89.6L171 85.9L174.3 82.2L177.6 78.6L180.8 75.1L184.1 71.7L187.4 68.4L190.7 65.1L194 62L197.4 59L200.7 56L204 53.2L207.4 50.4L210.7 47.8L214.1 45.3L217.4 42.8L220.8 40.5L224.2 38.3L227.5 36.2L230.9 34.1L234.3 32.2L237.6 30.4L241 28.8L244.4 27.2L247.7 25.7L251.1 24.4L254.5 23.1L257.9 22L261.2 20.9L264.6 20L267.9 19.2M138.5 132.7L141.7 128.2L144.8 123.7L148 119.3L151.1 115L154.3 110.7L157.5 106.5L160.7 102.4L163.9 98.4L167.2 94.5L170.4 90.6L173.7 86.8L176.9 83.1L180.2 79.5L183.5 76L186.8 72.6L190.1 69.2L193.4 66L196.7 62.8L200 59.8L203.3 56.8L206.7 54L210 51.2L213.4 48.5L216.7 46L220.1 43.5L223.5 41.2L226.8 38.9L230.2 36.8L233.6 34.8L236.9 32.8L240.3 31L243.7 29.3L247.1 27.7L250.4 26.2L253.8 24.8L257.2 23.6L260.5 22.4L263.9 21.4L267.3 20.4L270.6 19.6M141.1 133.8L144.2 129.2L147.4 124.8L150.5 120.3L153.7 116L156.9 111.7L160.1 107.5L163.3 103.4L166.5 99.4L169.8 95.4L173 91.6L176.3 87.8L179.5 84L182.8 80.4L186.1 76.9L189.4 73.4L192.7 70.1L196 66.8L199.3 63.7L202.7 60.6L206 57.6L209.3 54.7L212.7 51.9L216 49.3L219.4 46.7L222.7 44.2L226.1 41.8L229.5 39.6L232.9 37.4L236.2 35.4L239.6 33.4L243 31.6L246.4 29.8L249.7 28.2L253.1 26.7L256.5 25.3L259.9 24L263.2 22.8L266.6 21.8L270 20.8L273.3 20M143.7 134.8L146.8 130.3L150 125.8L153.1 121.4L156.3 117L159.5 112.7L162.7 108.5L165.9 104.4L169.1 100.4L172.4 96.4L175.6 92.5L178.9 88.7L182.2 85L185.4 81.3L188.7 77.8L192 74.3L195.3 71L198.6 67.7L202 64.5L205.3 61.4L208.6 58.4L212 55.5L215.3 52.7L218.7 50L222 47.4L225.4 44.9L228.8 42.5L232.1 40.2L235.5 38L238.9 36L242.3 34L245.7 32.1L249 30.4L252.4 28.7L255.8 27.2L259.2 25.8L262.5 24.5L265.9 23.3L269.3 22.2L272.6 21.2L276 20.3M146.2 135.8L149.4 131.3L152.5 126.8L155.7 122.4L158.9 118L162.1 113.7L165.3 109.5L168.5 105.4L171.8 101.3L175 97.4L178.2 93.5L181.5 89.6L184.8 85.9L188.1 82.2L191.4 78.7L194.7 75.2L198 71.8L201.3 68.5L204.6 65.3L207.9 62.2L211.3 59.2L214.6 56.3L218 53.4L221.3 50.7L224.7 48.1L228.1 45.6L231.4 43.2L234.8 40.9L238.2 38.7L241.6 36.6L244.9 34.6L248.3 32.7L251.7 30.9L255.1 29.2L258.5 27.7L261.8 26.2L265.2 24.9L268.6 23.7L272 22.6L275.3 21.6L278.7 20.7M148.8 136.9L152 132.3L155.1 127.8L158.3 123.4L161.5 119L164.7 114.8L167.9 110.5L171.1 106.4L174.4 102.3L177.6 98.3L180.9 94.4L184.1 90.6L187.4 86.8L190.7 83.2L194 79.6L197.3 76.1L200.6 72.7L203.9 69.4L207.2 66.1L210.6 63L213.9 60L217.3 57L220.6 54.2L224 51.5L227.4 48.8L230.7 46.3L234.1 43.8L237.5 41.5L240.9 39.3L244.2 37.2L247.6 35.1L251 33.2L254.4 31.4L257.8 29.7L261.1 28.2L264.5 26.7L267.9 25.3L271.3 24.1L274.7 23L278 21.9L281.4 21M151.4 137.9L154.5 133.4L157.7 128.9L160.9 124.4L164.1 120.1L167.3 115.8L170.5 111.5L173.7 107.4L177 103.3L180.2 99.3L183.5 95.4L186.7 91.5L190 87.8L193.3 84.1L196.6 80.5L199.9 77L203.2 73.5L206.6 70.2L209.9 67L213.2 63.8L216.6 60.8L219.9 57.8L223.3 54.9L226.6 52.2L230 49.5L233.4 46.9L236.8 44.5L240.1 42.1L243.5 39.9L246.9 37.7L250.3 35.7L253.7 33.8L257.1 32L260.4 30.2L263.8 28.6L267.2 27.2L270.6 25.8L274 24.5L277.3 23.3L280.7 22.3L284.1 21.4M154 139L157.1 134.4L160.3 129.9L163.5 125.4L166.7 121.1L169.9 116.8L173.1 112.5L176.3 108.4L179.6 104.3L182.8 100.3L186.1 96.3L189.4 92.5L192.6 88.7L195.9 85L199.2 81.4L202.5 77.8L205.9 74.4L209.2 71L212.5 67.8L215.9 64.6L219.2 61.5L222.6 58.6L225.9 55.7L229.3 52.9L232.7 50.2L236 47.6L239.4 45.1L242.8 42.8L246.2 40.5L249.6 38.3L253 36.3L256.3 34.3L259.7 32.5L263.1 30.7L266.5 29.1L269.9 27.6L273.3 26.2L276.6 24.9L280 23.7L283.4 22.7L286.8 21.7M156.5 140L159.7 135.4L162.9 130.9L166.1 126.5L169.3 122.1L172.5 117.8L175.7 113.5L178.9 109.4L182.2 105.2L185.4 101.2L188.7 97.3L192 93.4L195.3 89.6L198.6 85.9L201.9 82.3L205.2 78.7L208.5 75.2L211.8 71.9L215.2 68.6L218.5 65.4L221.9 62.3L225.2 59.3L228.6 56.4L231.9 53.6L235.3 50.9L238.7 48.3L242.1 45.8L245.5 43.4L248.9 41.1L252.2 38.9L255.6 36.8L259 34.9L262.4 33L265.8 31.2L269.2 29.6L272.6 28L276 26.6L279.3 25.3L282.7 24.1L286.1 23L289.5 22M159.1 141L162.3 136.5L165.4 131.9L168.6 127.5L171.8 123.1L175.1 118.8L178.3 114.5L181.5 110.3L184.8 106.2L188 102.2L191.3 98.2L194.6 94.3L197.9 90.5L201.2 86.8L204.5 83.1L207.8 79.6L211.1 76.1L214.5 72.7L217.8 69.4L221.1 66.2L224.5 63.1L227.9 60.1L231.2 57.1L234.6 54.3L238 51.6L241.4 49L244.7 46.4L248.1 44L251.5 41.7L254.9 39.5L258.3 37.4L261.7 35.4L265.1 33.5L268.5 31.7L271.9 30L275.3 28.5L278.6 27L282 25.7L285.4 24.5L288.8 23.4L292.1 22.4M161.7 142.1L164.8 137.5L168 133L171.2 128.5L174.4 124.1L177.6 119.8L180.9 115.5L184.1 111.3L187.4 107.2L190.6 103.1L193.9 99.2L197.2 95.3L200.5 91.4L203.8 87.7L207.1 84L210.4 80.5L213.8 77L217.1 73.5L220.4 70.2L223.8 67L227.1 63.9L230.5 60.8L233.9 57.9L237.3 55L240.6 52.3L244 49.6L247.4 47.1L250.8 44.6L254.2 42.3L257.6 40.1L261 37.9L264.4 35.9L267.8 34L271.2 32.2L274.5 30.5L277.9 28.9L281.3 27.4L284.7 26.1L288.1 24.8L291.5 23.7L294.8 22.7M164.2 143.1L167.4 138.5L170.6 134L173.8 129.5L177 125.1L180.2 120.8L183.5 116.5L186.7 112.3L190 108.2L193.2 104.1L196.5 100.1L199.8 96.2L203.1 92.4L206.4 88.6L209.7 84.9L213 81.3L216.4 77.8L219.7 74.4L223.1 71L226.4 67.8L229.8 64.6L233.2 61.6L236.5 58.6L239.9 55.7L243.3 53L246.7 50.3L250.1 47.7L253.5 45.3L256.8 42.9L260.2 40.6L263.6 38.5L267 36.4L270.4 34.5L273.8 32.7L277.2 30.9L280.6 29.3L284 27.8L287.4 26.5L290.8 25.2L294.2 24L297.5 23M166.8 144.2L170 139.6L173.2 135L176.4 130.6L179.6 126.2L182.8 121.8L186.1 117.5L189.3 113.3L192.6 109.2L195.8 105.1L199.1 101.1L202.4 97.1L205.7 93.3L209 89.5L212.3 85.8L215.7 82.2L219 78.7L222.4 75.2L225.7 71.9L229.1 68.6L232.4 65.4L235.8 62.3L239.2 59.3L242.6 56.4L245.9 53.6L249.3 51L252.7 48.4L256.1 45.9L259.5 43.5L262.9 41.2L266.3 39L269.7 36.9L273.1 35L276.5 33.1L279.9 31.4L283.3 29.8L286.7 28.2L290.1 26.8L293.5 25.5L296.8 24.4L300.2 23.3M169.4 145.2L172.6 140.6L175.8 136.1L179 131.6L182.2 127.2L185.4 122.8L188.7 118.5L191.9 114.3L195.2 110.1L198.4 106L201.7 102L205 98.1L208.3 94.2L211.6 90.4L215 86.7L218.3 83.1L221.6 79.5L225 76L228.3 72.7L231.7 69.4L235.1 66.2L238.4 63.1L241.8 60.1L245.2 57.1L248.6 54.3L252 51.6L255.4 49L258.8 46.5L262.2 44.1L265.6 41.7L269 39.5L272.4 37.5L275.8 35.5L279.2 33.6L282.6 31.8L286 30.2L289.4 28.6L292.8 27.2L296.2 25.9L299.5 24.7L302.9 23.6M171.9 146.3L175.1 141.7L178.3 137.1L181.5 132.6L184.8 128.2L188 123.8L191.2 119.5L194.5 115.3L197.8 111.1L201 107L204.3 103L207.6 99L210.9 95.1L214.3 91.3L217.6 87.6L220.9 83.9L224.3 80.4L227.6 76.9L231 73.5L234.3 70.2L237.7 66.9L241.1 63.8L244.5 60.8L247.9 57.8L251.2 55L254.6 52.3L258 49.6L261.4 47.1L264.8 44.6L268.2 42.3L271.7 40.1L275.1 38L278.5 35.9L281.9 34L285.3 32.3L288.7 30.6L292.1 29L295.5 27.6L298.9 26.2L302.2 25L305.6 23.9M174.5 147.3L177.7 142.7L180.9 138.1L184.1 133.6L187.3 129.2L190.6 124.8L193.8 120.5L197.1 116.3L200.4 112.1L203.6 108L206.9 103.9L210.2 99.9L213.6 96L216.9 92.2L220.2 88.5L223.5 84.8L226.9 81.2L230.2 77.7L233.6 74.3L237 70.9L240.3 67.7L243.7 64.6L247.1 61.5L250.5 58.5L253.9 55.7L257.3 52.9L260.7 50.2L264.1 47.7L267.5 45.2L270.9 42.9L274.3 40.6L277.7 38.5L281.1 36.4L284.5 34.5L288 32.7L291.4 31L294.8 29.4L298.2 27.9L301.5 26.6L304.9 25.3L308.3 24.2M177.1 148.4L180.3 143.7L183.5 139.2L186.7 134.7L189.9 130.2L193.2 125.8L196.4 121.5L199.7 117.2L203 113L206.2 108.9L209.5 104.9L212.8 100.9L216.2 96.9L219.5 93.1L222.8 89.3L226.2 85.6L229.5 82L232.9 78.5L236.2 75.1L239.6 71.7L243 68.5L246.4 65.3L249.8 62.2L253.2 59.2L256.6 56.3L260 53.5L263.4 50.9L266.8 48.3L270.2 45.8L273.6 43.4L277 41.1L280.4 39L283.8 36.9L287.2 34.9L290.6 33.1L294 31.4L297.4 29.8L300.8 28.3L304.2 26.9L307.6 25.6L311 24.5M179.6 149.4L182.8 144.8L186 140.2L189.3 135.7L192.5 131.2L195.8 126.8L199 122.5L202.3 118.2L205.6 114L208.8 109.9L212.1 105.8L215.5 101.8L218.8 97.9L222.1 94L225.4 90.2L228.8 86.5L232.1 82.9L235.5 79.3L238.9 75.9L242.2 72.5L245.6 69.2L249 66L252.4 62.9L255.8 59.9L259.2 57L262.6 54.2L266 51.5L269.4 48.9L272.8 46.3L276.3 43.9L279.7 41.6L283.1 39.4L286.5 37.4L289.9 35.4L293.3 33.5L296.7 31.8L300.1 30.1L303.5 28.6L306.9 27.2L310.3 25.9L313.7 24.7M182.2 150.5L185.4 145.8L188.6 141.3L191.8 136.7L195.1 132.3L198.3 127.9L201.6 123.5L204.9 119.2L208.2 115L211.4 110.8L214.7 106.7L218.1 102.7L221.4 98.8L224.7 94.9L228.1 91.1L231.4 87.4L234.8 83.7L238.1 80.2L241.5 76.7L244.9 73.3L248.3 70L251.7 66.8L255 63.6L258.5 60.6L261.9 57.7L265.3 54.8L268.7 52.1L272.1 49.4L275.5 46.9L278.9 44.5L282.3 42.2L285.8 39.9L289.2 37.8L292.6 35.8L296 33.9L299.4 32.2L302.8 30.5L306.2 28.9L309.6 27.5L313 26.2L316.4 25M54.5 99.7L57.4 95.2L60.4 90.8L63.4 86.5L66.4 82.3L69.5 78.2L72.5 74.2L75.6 70.3L78.7 66.6L81.8 62.9L84.9 59.3L88.1 55.9L91.2 52.5L94.4 49.3L97.6 46.2L100.8 43.2L104 40.3L107.2 37.5L110.4 34.8L113.7 32.3L116.9 29.8L120.2 27.5L123.4 25.3L126.7 23.2L130 21.2L133.3 19.3L136.6 17.6L139.9 15.9L143.2 14.4L146.6 13L149.9 11.6L153.2 10.4L156.6 9.3L159.9 8.3L163.3 7.4L166.6 6.7L169.9 6L173.3 5.4L176.6 4.9L180 4.6L183.3 4.3M57.1 100.7L60 96.2L63 91.8L66 87.5L69.1 83.3L72.1 79.2L75.2 75.2L78.3 71.3L81.3 67.6L84.5 63.9L87.6 60.3L90.7 56.8L93.9 53.5L97.1 50.3L100.2 47.1L103.4 44.1L106.6 41.2L109.9 38.4L113.1 35.7L116.3 33.2L119.6 30.7L122.9 28.4L126.1 26.1L129.4 24L132.7 22L136 20.1L139.3 18.3L142.6 16.7L145.9 15.1L149.3 13.7L152.6 12.3L155.9 11.1L159.3 10L162.6 9L165.9 8.1L169.3 7.3L172.6 6.6L176 6L179.3 5.5L182.7 5.1L186 4.8M59.6 101.7L62.6 97.2L65.6 92.8L68.6 88.5L71.7 84.3L74.7 80.2L77.8 76.2L80.9 72.3L84 68.5L87.1 64.9L90.2 61.3L93.4 57.8L96.5 54.4L99.7 51.2L102.9 48.1L106.1 45L109.3 42.1L112.5 39.3L115.8 36.6L119 34L122.3 31.6L125.5 29.2L128.8 27L132.1 24.8L135.4 22.8L138.7 20.9L142 19.1L145.3 17.4L148.6 15.9L151.9 14.4L155.3 13.1L158.6 11.8L161.9 10.7L165.3 9.7L168.6 8.7L172 7.9L175.3 7.2L178.7 6.6L182 6.1L185.4 5.7L188.7 5.4M62.2 102.7L65.2 98.2L68.2 93.8L71.3 89.5L74.3 85.3L77.4 81.2L80.4 77.2L83.5 73.3L86.6 69.5L89.7 65.8L92.9 62.2L96 58.8L99.2 55.4L102.4 52.1L105.5 49L108.7 45.9L112 43L115.2 40.2L118.4 37.5L121.7 34.9L124.9 32.4L128.2 30L131.5 27.8L134.8 25.6L138.1 23.6L141.4 21.7L144.7 19.9L148 18.2L151.3 16.6L154.6 15.1L158 13.8L161.3 12.5L164.6 11.4L168 10.3L171.3 9.4L174.7 8.6L178 7.8L181.4 7.2L184.7 6.7L188.1 6.3L191.4 5.9M64.8 103.7L67.8 99.2L70.8 94.8L73.9 90.5L76.9 86.3L80 82.2L83.1 78.2L86.1 74.3L89.3 70.5L92.4 66.8L95.5 63.2L98.7 59.7L101.8 56.3L105 53.1L108.2 49.9L111.4 46.9L114.6 43.9L117.9 41.1L121.1 38.4L124.3 35.8L127.6 33.3L130.9 30.9L134.2 28.6L137.4 26.5L140.7 24.4L144 22.5L147.3 20.6L150.7 18.9L154 17.3L157.3 15.8L160.6 14.5L164 13.2L167.3 12L170.7 11L174 10L177.4 9.2L180.7 8.4L184.1 7.8L187.4 7.3L190.7 6.8L194.1 6.5M67.4 104.7L70.4 100.2L73.4 95.8L76.5 91.5L79.5 87.3L82.6 83.2L85.7 79.2L88.8 75.3L91.9 71.5L95 67.8L98.2 64.2L101.3 60.7L104.5 57.3L107.7 54L110.9 50.8L114.1 47.8L117.3 44.8L120.5 42L123.8 39.3L127 36.6L130.3 34.1L133.5 31.7L136.8 29.4L140.1 27.3L143.4 25.2L146.7 23.2L150 21.4L153.3 19.7L156.7 18.1L160 16.6L163.3 15.2L166.7 13.9L170 12.7L173.3 11.6L176.7 10.6L180 9.8L183.4 9L186.7 8.4L190.1 7.8L193.4 7.4L196.8 7M70 105.7L73 101.2L76.1 96.8L79.1 92.5L82.1 88.3L85.2 84.2L88.3 80.2L91.4 76.3L94.5 72.5L97.6 68.7L100.8 65.1L104 61.6L107.1 58.2L110.3 55L113.5 51.8L116.7 48.7L119.9 45.7L123.2 42.9L126.4 40.1L129.7 37.5L132.9 35L136.2 32.6L139.5 30.3L142.8 28.1L146.1 26L149.4 24L152.7 22.2L156 20.4L159.4 18.8L162.7 17.3L166 15.9L169.4 14.5L172.7 13.3L176 12.3L179.4 11.3L182.7 10.4L186.1 9.6L189.4 9L192.8 8.4L196.1 7.9L199.5 7.6M72.6 106.7L75.6 102.2L78.7 97.8L81.7 93.5L84.8 89.3L87.8 85.2L90.9 81.2L94 77.3L97.1 73.4L100.3 69.7L103.4 66.1L106.6 62.6L109.8 59.2L113 55.9L116.2 52.7L119.4 49.6L122.6 46.6L125.8 43.8L129.1 41L132.3 38.4L135.6 35.8L138.9 33.4L142.2 31.1L145.5 28.9L148.8 26.8L152.1 24.8L155.4 22.9L158.7 21.2L162 19.5L165.4 18L168.7 16.5L172 15.2L175.4 14L178.7 12.9L182.1 11.9L185.4 11L188.8 10.2L192.1 9.5L195.5 8.9L198.8 8.5L202.2 8.1M75.2 107.7L78.2 103.2L81.3 98.8L84.3 94.5L87.4 90.3L90.4 86.2L93.5 82.2L96.7 78.2L99.8 74.4L102.9 70.7L106.1 67.1L109.2 63.6L112.4 60.1L115.6 56.8L118.8 53.6L122 50.5L125.3 47.5L128.5 44.7L131.7 41.9L135 39.2L138.3 36.7L141.6 34.2L144.8 31.9L148.1 29.7L151.4 27.6L154.7 25.6L158.1 23.7L161.4 21.9L164.7 20.2L168 18.7L171.4 17.2L174.7 15.9L178.1 14.7L181.4 13.5L184.8 12.5L188.1 11.6L191.4 10.8L194.8 10.1L198.1 9.5L201.5 9L204.8 8.6M77.8 108.7L80.8 104.2L83.9 99.8L86.9 95.5L90 91.3L93.1 87.2L96.2 83.2L99.3 79.2L102.4 75.4L105.5 71.7L108.7 68L111.9 64.5L115.1 61.1L118.3 57.8L121.5 54.5L124.7 51.4L127.9 48.4L131.2 45.5L134.4 42.8L137.7 40.1L140.9 37.5L144.2 35.1L147.5 32.7L150.8 30.5L154.1 28.4L157.4 26.3L160.7 24.4L164.1 22.6L167.4 20.9L170.7 19.4L174.1 17.9L177.4 16.6L180.7 15.3L184.1 14.2L187.4 13.1L190.8 12.2L194.1 11.4L197.5 10.7L200.8 10L204.2 9.5L207.5 9.1M80.4 109.7L83.4 105.2L86.5 100.8L89.5 96.5L92.6 92.3L95.7 88.2L98.8 84.2L101.9 80.2L105 76.4L108.2 72.6L111.3 69L114.5 65.5L117.7 62L120.9 58.7L124.1 55.5L127.3 52.4L130.6 49.3L133.8 46.4L137.1 43.6L140.3 40.9L143.6 38.4L146.9 35.9L150.2 33.5L153.5 31.3L156.8 29.1L160.1 27.1L163.4 25.2L166.7 23.4L170.1 21.7L173.4 20.1L176.7 18.6L180.1 17.2L183.4 15.9L186.8 14.8L190.1 13.7L193.5 12.8L196.8 12L200.2 11.2L203.5 10.6L206.9 10.1L210.2 9.6M83 110.8L86 106.3L89.1 101.9L92.1 97.5L95.2 93.3L98.3 89.2L101.4 85.1L104.5 81.2L107.7 77.4L110.8 73.6L114 70L117.2 66.4L120.3 63L123.5 59.6L126.8 56.4L130 53.3L133.2 50.2L136.5 47.3L139.7 44.5L143 41.8L146.3 39.2L149.6 36.7L152.8 34.3L156.1 32.1L159.5 29.9L162.8 27.9L166.1 25.9L169.4 24.1L172.7 22.4L176.1 20.8L179.4 19.3L182.8 17.9L186.1 16.6L189.5 15.4L192.8 14.3L196.2 13.4L199.5 12.5L202.9 11.8L206.2 11.1L209.5 10.6L212.9 10.1M85.6 111.8L88.6 107.3L91.7 102.9L94.7 98.5L97.8 94.3L100.9 90.2L104 86.1L107.1 82.2L110.3 78.3L113.4 74.6L116.6 70.9L119.8 67.4L123 63.9L126.2 60.6L129.4 57.3L132.6 54.2L135.9 51.1L139.1 48.2L142.4 45.4L145.7 42.7L148.9 40L152.2 37.5L155.5 35.1L158.8 32.9L162.1 30.7L165.4 28.6L168.8 26.7L172.1 24.8L175.4 23.1L178.8 21.5L182.1 19.9L185.4 18.5L188.8 17.2L192.1 16L195.5 14.9L198.8 14L202.2 13.1L205.5 12.3L208.9 11.7L212.2 11.1L215.6 10.6M88.2 112.8L91.2 108.3L94.3 103.9L97.3 99.6L100.4 95.3L103.5 91.2L106.6 87.1L109.8 83.2L112.9 79.3L116.1 75.6L119.2 71.9L122.4 68.3L125.6 64.9L128.8 61.5L132.1 58.2L135.3 55.1L138.5 52L141.8 49.1L145 46.2L148.3 43.5L151.6 40.9L154.9 38.4L158.2 36L161.5 33.7L164.8 31.5L168.1 29.4L171.4 27.4L174.8 25.5L178.1 23.8L181.4 22.1L184.8 20.6L188.1 19.2L191.5 17.9L194.8 16.6L198.2 15.5L201.5 14.5L204.9 13.7L208.2 12.9L211.6 12.2L214.9 11.6L218.3 11.1M90.8 113.8L93.8 109.3L96.9 104.9L99.9 100.6L103 96.3L106.1 92.2L109.3 88.1L112.4 84.2L115.5 80.3L118.7 76.5L121.9 72.9L125.1 69.3L128.3 65.8L131.5 62.4L134.7 59.2L137.9 56L141.2 52.9L144.4 50L147.7 47.1L151 44.4L154.3 41.7L157.5 39.2L160.8 36.8L164.2 34.4L167.5 32.2L170.8 30.1L174.1 28.1L177.4 26.3L180.8 24.5L184.1 22.8L187.5 21.3L190.8 19.8L194.2 18.5L197.5 17.3L200.9 16.1L204.2 15.1L207.6 14.2L210.9 13.4L214.3 12.7L217.6 12.1L220.9 11.6M93.3 114.8L96.4 110.3L99.5 105.9L102.5 101.6L105.6 97.3L108.7 93.2L111.9 89.1L115 85.2L118.2 81.3L121.3 77.5L124.5 73.8L127.7 70.2L130.9 66.7L134.1 63.4L137.3 60.1L140.6 56.9L143.8 53.8L147.1 50.8L150.4 48L153.6 45.2L156.9 42.6L160.2 40L163.5 37.6L166.8 35.2L170.1 33L173.5 30.9L176.8 28.9L180.1 27L183.5 25.2L186.8 23.5L190.1 21.9L193.5 20.5L196.8 19.1L200.2 17.9L203.5 16.7L206.9 15.7L210.2 14.8L213.6 13.9L216.9 13.2L220.3 12.6L223.6 12.1M95.9 115.8L99 111.3L102.1 106.9L105.1 102.6L108.2 98.3L111.4 94.2L114.5 90.1L117.6 86.1L120.8 82.3L124 78.5L127.1 74.8L130.3 71.2L133.5 67.7L136.8 64.3L140 61L143.2 57.8L146.5 54.7L149.7 51.7L153 48.8L156.3 46.1L159.6 43.4L162.9 40.8L166.2 38.4L169.5 36L172.8 33.8L176.1 31.6L179.5 29.6L182.8 27.7L186.1 25.9L189.5 24.2L192.8 22.6L196.2 21.1L199.5 19.7L202.9 18.5L206.2 17.3L209.6 16.2L212.9 15.3L216.3 14.5L219.6 13.7L223 13.1L226.3 12.6M98.5 116.8L101.6 112.3L104.7 107.9L107.7 103.6L110.8 99.3L114 95.2L117.1 91.1L120.2 87.1L123.4 83.2L126.6 79.4L129.8 75.7L133 72.1L136.2 68.6L139.4 65.2L142.6 61.9L145.9 58.7L149.1 55.6L152.4 52.6L155.7 49.7L158.9 46.9L162.2 44.2L165.5 41.6L168.8 39.2L172.2 36.8L175.5 34.5L178.8 32.4L182.1 30.3L185.5 28.4L188.8 26.6L192.1 24.8L195.5 23.2L198.8 21.7L202.2 20.3L205.5 19.1L208.9 17.9L212.2 16.8L215.6 15.8L219 15L222.3 14.2L225.7 13.6L229 13M101.1 117.9L104.2 113.4L107.2 108.9L110.3 104.6L113.5 100.3L116.6 96.2L119.7 92.1L122.9 88.1L126 84.2L129.2 80.4L132.4 76.7L135.6 73.1L138.8 69.6L142 66.2L145.3 62.8L148.5 59.6L151.8 56.5L155 53.5L158.3 50.6L161.6 47.7L164.9 45L168.2 42.4L171.5 40L174.8 37.6L178.1 35.3L181.5 33.1L184.8 31.1L188.1 29.1L191.5 27.2L194.8 25.5L198.2 23.9L201.5 22.4L204.9 21L208.2 19.6L211.6 18.5L214.9 17.4L218.3 16.4L221.6 15.5L225 14.7L228.3 14.1L231.7 13.5M103.7 118.9L106.8 114.4L109.8 110L112.9 105.6L116.1 101.4L119.2 97.2L122.3 93.1L125.5 89.1L128.6 85.2L131.8 81.4L135 77.7L138.2 74L141.4 70.5L144.7 67.1L147.9 63.7L151.2 60.5L154.4 57.4L157.7 54.3L161 51.4L164.3 48.6L167.5 45.9L170.9 43.3L174.2 40.7L177.5 38.3L180.8 36L184.1 33.9L187.5 31.8L190.8 29.8L194.1 27.9L197.5 26.2L200.8 24.5L204.2 23L207.5 21.6L210.9 20.2L214.3 19L217.6 17.9L221 16.9L224.3 16L227.7 15.2L231 14.5L234.4 14M106.3 119.9L109.3 115.4L112.4 111L115.5 106.6L118.7 102.4L121.8 98.2L124.9 94.1L128.1 90.1L131.3 86.2L134.4 82.4L137.6 78.6L140.9 75L144.1 71.5L147.3 68L150.5 64.7L153.8 61.4L157.1 58.3L160.3 55.2L163.6 52.3L166.9 49.4L170.2 46.7L173.5 44.1L176.8 41.5L180.1 39.1L183.5 36.8L186.8 34.6L190.1 32.5L193.5 30.5L196.8 28.6L200.2 26.8L203.5 25.2L206.9 23.6L210.2 22.2L213.6 20.8L216.9 19.6L220.3 18.5L223.6 17.4L227 16.5L230.4 15.7L233.7 15L237.1 14.4M108.9 120.9L111.9 116.4L115 112L118.1 107.6L121.3 103.4L124.4 99.2L127.5 95.1L130.7 91.1L133.9 87.2L137.1 83.3L140.3 79.6L143.5 75.9L146.7 72.4L149.9 68.9L153.2 65.6L156.4 62.3L159.7 59.2L163 56.1L166.3 53.1L169.6 50.3L172.9 47.5L176.2 44.9L179.5 42.3L182.8 39.9L186.1 37.5L189.5 35.3L192.8 33.2L196.1 31.2L199.5 29.3L202.8 27.5L206.2 25.8L209.5 24.2L212.9 22.8L216.3 21.4L219.6 20.1L223 19L226.3 18L229.7 17L233 16.2L236.4 15.5L239.7 14.9M111.4 121.9L114.5 117.4L117.6 113L120.7 108.6L123.9 104.4L127 100.2L130.2 96.1L133.3 92.1L136.5 88.1L139.7 84.3L142.9 80.5L146.1 76.9L149.3 73.3L152.6 69.9L155.8 66.5L159.1 63.2L162.4 60L165.6 57L168.9 54L172.2 51.1L175.5 48.3L178.8 45.7L182.1 43.1L185.5 40.6L188.8 38.3L192.1 36.1L195.5 33.9L198.8 31.9L202.2 30L205.5 28.1L208.9 26.4L212.2 24.8L215.6 23.3L218.9 22L222.3 20.7L225.7 19.5L229 18.5L232.4 17.5L235.7 16.7L239.1 15.9L242.4 15.3M114 123L117.1 118.5L120.2 114L123.3 109.7L126.5 105.4L129.6 101.2L132.8 97.1L135.9 93.1L139.1 89.1L142.3 85.3L145.5 81.5L148.7 77.8L152 74.3L155.2 70.8L158.5 67.4L161.7 64.1L165 60.9L168.3 57.8L171.6 54.8L174.9 51.9L178.2 49.2L181.5 46.5L184.8 43.9L188.1 41.4L191.5 39L194.8 36.8L198.1 34.6L201.5 32.6L204.8 30.6L208.2 28.8L211.5 27.1L214.9 25.4L218.3 23.9L221.6 22.5L225 21.2L228.3 20.1L231.7 19L235.1 18L238.4 17.2L241.8 16.4L245.1 15.7M116.6 124L119.7 119.5L122.8 115L125.9 110.7L129.1 106.4L132.2 102.2L135.4 98.1L138.5 94L141.7 90.1L144.9 86.2L148.1 82.5L151.4 78.8L154.6 75.2L157.8 71.7L161.1 68.3L164.4 65L167.6 61.8L170.9 58.7L174.2 55.7L177.5 52.8L180.8 50L184.1 47.3L187.5 44.7L190.8 42.2L194.1 39.8L197.5 37.5L200.8 35.3L204.2 33.3L207.5 31.3L210.9 29.4L214.2 27.7L217.6 26.1L220.9 24.5L224.3 23.1L227.7 21.8L231 20.6L234.4 19.5L237.7 18.5L241.1 17.6L244.4 16.8L247.8 16.2M119.2 125L122.3 120.5L125.4 116.1L128.5 111.7L131.7 107.4L134.8 103.2L138 99.1L141.2 95L144.3 91.1L147.6 87.2L150.8 83.4L154 79.7L157.2 76.1L160.5 72.6L163.7 69.2L167 65.9L170.3 62.7L173.6 59.6L176.9 56.5L180.2 53.6L183.5 50.8L186.8 48.1L190.1 45.4L193.4 42.9L196.8 40.5L200.1 38.2L203.5 36L206.8 33.9L210.2 32L213.5 30.1L216.9 28.3L220.2 26.7L223.6 25.1L227 23.7L230.3 22.3L233.7 21.1L237.1 20L240.4 19L243.8 18.1L247.1 17.3L250.5 16.6M121.8 126L124.9 121.5L128 117.1L131.1 112.7L134.3 108.4L137.4 104.2L140.6 100.1L143.8 96L147 92.1L150.2 88.2L153.4 84.4L156.6 80.7L159.9 77.1L163.1 73.5L166.4 70.1L169.6 66.8L172.9 63.6L176.2 60.4L179.5 57.4L182.8 54.4L186.1 51.6L189.4 48.9L192.8 46.2L196.1 43.7L199.4 41.3L202.8 38.9L206.1 36.7L209.5 34.6L212.8 32.6L216.2 30.7L219.6 28.9L222.9 27.2L226.3 25.7L229.7 24.2L233 22.9L236.4 21.6L239.7 20.5L243.1 19.5L246.5 18.5L249.8 17.7L253.2 17M124.3 127.1L127.5 122.5L130.6 118.1L133.7 113.7L136.9 109.4L140 105.2L143.2 101.1L146.4 97L149.6 93L152.8 89.1L156 85.3L159.2 81.6L162.5 78L165.7 74.5L169 71L172.3 67.7L175.6 64.4L178.9 61.3L182.2 58.2L185.5 55.3L188.8 52.4L192.1 49.6L195.4 47L198.8 44.4L202.1 42L205.5 39.7L208.8 37.4L212.2 35.3L215.5 33.3L218.9 31.3L222.2 29.5L225.6 27.8L229 26.2L232.3 24.8L235.7 23.4L239.1 22.1L242.4 21L245.8 19.9L249.1 19L252.5 18.2L255.8 17.4M126.9 128.1L130 123.6L133.2 119.1L136.3 114.7L139.5 110.4L142.6 106.2L145.8 102.1L149 98L152.2 94L155.4 90.1L158.6 86.3L161.9 82.6L165.1 78.9L168.4 75.4L171.6 71.9L174.9 68.6L178.2 65.3L181.5 62.1L184.8 59.1L188.1 56.1L191.4 53.2L194.8 50.4L198.1 47.8L201.4 45.2L204.8 42.7L208.1 40.4L211.5 38.1L214.8 36L218.2 33.9L221.5 32L224.9 30.1L228.3 28.4L231.6 26.8L235 25.3L238.4 23.9L241.7 22.6L245.1 21.5L248.5 20.4L251.8 19.4L255.2 18.6L258.5 17.8M129.5 129.1L132.6 124.6L135.7 120.1L138.9 115.8L142 111.4L145.2 107.2L148.4 103.1L151.6 99L154.8 95L158 91.1L161.2 87.3L164.5 83.5L167.7 79.9L171 76.3L174.3 72.8L177.5 69.5L180.8 66.2L184.1 63L187.4 59.9L190.8 56.9L194.1 54L197.4 51.2L200.7 48.5L204.1 45.9L207.4 43.5L210.8 41.1L214.1 38.8L217.5 36.6L220.8 34.6L224.2 32.6L227.6 30.7L230.9 29L234.3 27.4L237.7 25.8L241.1 24.4L244.4 23.1L247.8 21.9L251.1 20.8L254.5 19.9L257.9 19L261.2 18.2M132.1 130.2L135.2 125.6L138.3 121.2L141.5 116.8L144.6 112.5L147.8 108.2L151 104.1L154.2 100L157.4 96L160.6 92L163.9 88.2L167.1 84.5L170.4 80.8L173.6 77.2L176.9 73.7L180.2 70.3L183.5 67L186.8 63.8L190.1 60.7L193.4 57.7L196.7 54.8L200.1 52L203.4 49.3L206.7 46.7L210.1 44.2L213.4 41.8L216.8 39.5L220.2 37.3L223.5 35.2L226.9 33.2L230.3 31.3L233.6 29.6L237 27.9L240.4 26.4L243.7 24.9L247.1 23.6L250.5 22.4L253.8 21.3L257.2 20.3L260.6 19.4L263.9 18.6M134.7 131.2L137.8 126.7L140.9 122.2L144.1 117.8L147.2 113.5L150.4 109.2L153.6 105.1L156.8 101L160 96.9L163.2 93L166.5 89.2L169.7 85.4L173 81.7L176.3 78.1L179.5 74.6L182.8 71.2L186.1 67.9L189.4 64.7L192.7 61.6L196 58.5L199.4 55.6L202.7 52.8L206 50.1L209.4 47.4L212.7 44.9L216.1 42.5L219.5 40.2L222.8 37.9L226.2 35.8L229.6 33.8L232.9 31.9L236.3 30.2L239.7 28.5L243 26.9L246.4 25.5L249.8 24.1L253.1 22.9L256.5 21.7L259.9 20.7L263.2 19.8L266.6 19M137.2 132.2L140.4 127.7L143.5 123.2L146.7 118.8L149.8 114.5L153 110.2L156.2 106L159.4 101.9L162.6 97.9L165.9 94L169.1 90.1L172.3 86.3L175.6 82.7L178.9 79.1L182.2 75.5L185.4 72.1L188.7 68.8L192.1 65.6L195.4 62.4L198.7 59.4L202 56.4L205.4 53.6L208.7 50.8L212 48.2L215.4 45.6L218.8 43.2L222.1 40.8L225.5 38.6L228.9 36.5L232.2 34.4L235.6 32.5L239 30.7L242.3 29L245.7 27.4L249.1 26L252.5 24.6L255.8 23.3L259.2 22.2L262.6 21.1L265.9 20.2L269.3 19.4M139.8 133.3L142.9 128.7L146.1 124.2L149.2 119.8L152.4 115.5L155.6 111.2L158.8 107L162 102.9L165.2 98.9L168.5 94.9L171.7 91.1L175 87.3L178.2 83.6L181.5 80L184.8 76.4L188.1 73L191.4 69.7L194.7 66.4L198 63.2L201.3 60.2L204.7 57.2L208 54.3L211.4 51.6L214.7 48.9L218.1 46.3L221.4 43.9L224.8 41.5L228.1 39.2L231.5 37.1L234.9 35.1L238.3 33.1L241.6 31.3L245 29.6L248.4 28L251.8 26.5L255.1 25.1L258.5 23.8L261.9 22.6L265.2 21.6L268.6 20.6L272 19.8M142.4 134.3L145.5 129.7L148.7 125.3L151.8 120.9L155 116.5L158.2 112.2L161.4 108L164.6 103.9L167.8 99.9L171.1 95.9L174.3 92L177.6 88.2L180.8 84.5L184.1 80.9L187.4 77.3L190.7 73.9L194 70.5L197.3 67.2L200.7 64.1L204 61L207.3 58L210.7 55.1L214 52.3L217.4 49.6L220.7 47L224.1 44.6L227.4 42.2L230.8 39.9L234.2 37.7L237.6 35.7L240.9 33.7L244.3 31.9L247.7 30.1L251.1 28.5L254.4 27L257.8 25.5L261.2 24.2L264.6 23L267.9 22L271.3 21L274.7 20.1M145 135.3L148.1 130.8L151.3 126.3L154.4 121.9L157.6 117.5L160.8 113.2L164 109L167.2 104.9L170.4 100.9L173.7 96.9L176.9 93L180.2 89.2L183.5 85.4L186.8 81.8L190 78.2L193.3 74.8L196.6 71.4L200 68.1L203.3 64.9L206.6 61.8L210 58.8L213.3 55.9L216.7 53.1L220 50.4L223.4 47.8L226.7 45.2L230.1 42.8L233.5 40.5L236.9 38.3L240.2 36.3L243.6 34.3L247 32.4L250.4 30.6L253.7 29L257.1 27.4L260.5 26L263.9 24.7L267.3 23.5L270.6 22.4L274 21.4L277.3 20.5M147.5 136.4L150.7 131.8L153.8 127.3L157 122.9L160.2 118.5L163.4 114.3L166.6 110L169.8 105.9L173.1 101.8L176.3 97.8L179.6 93.9L182.8 90.1L186.1 86.4L189.4 82.7L192.7 79.1L196 75.6L199.3 72.2L202.6 68.9L205.9 65.7L209.3 62.6L212.6 59.6L216 56.6L219.3 53.8L222.7 51.1L226 48.5L229.4 45.9L232.8 43.5L236.1 41.2L239.5 39L242.9 36.9L246.3 34.9L249.7 33L253 31.2L256.4 29.5L259.8 27.9L263.2 26.5L266.6 25.1L269.9 23.9L273.3 22.8L276.7 21.8L280 20.8M150.1 137.4L153.3 132.8L156.4 128.3L159.6 123.9L162.8 119.6L166 115.3L169.2 111L172.4 106.9L175.7 102.8L178.9 98.8L182.2 94.9L185.4 91L188.7 87.3L192 83.6L195.3 80L198.6 76.5L201.9 73.1L205.2 69.8L208.6 66.5L211.9 63.4L215.2 60.4L218.6 57.4L222 54.6L225.3 51.8L228.7 49.2L232.1 46.6L235.4 44.2L238.8 41.8L242.2 39.6L245.6 37.4L249 35.4L252.3 33.5L255.7 31.7L259.1 30L262.5 28.4L265.9 26.9L269.2 25.6L272.6 24.3L276 23.2L279.4 22.1L282.7 21.2M152.7 138.4L155.8 133.9L159 129.4L162.2 124.9L165.4 120.6L168.6 116.3L171.8 112L175 107.9L178.3 103.8L181.5 99.8L184.8 95.8L188 92L191.3 88.2L194.6 84.5L197.9 80.9L201.2 77.4L204.5 74L207.9 70.6L211.2 67.4L214.5 64.2L217.9 61.1L221.2 58.2L224.6 55.3L228 52.5L231.3 49.9L234.7 47.3L238.1 44.8L241.5 42.5L244.9 40.2L248.2 38L251.6 36L255 34L258.4 32.2L261.8 30.5L265.2 28.9L268.5 27.4L271.9 26L275.3 24.7L278.7 23.5L282.1 22.5L285.4 21.5M155.2 139.5L158.4 134.9L161.6 130.4L164.8 126L168 121.6L171.2 117.3L174.4 113L177.6 108.9L180.9 104.8L184.1 100.7L187.4 96.8L190.7 92.9L193.9 89.1L197.2 85.4L200.5 81.8L203.9 78.3L207.2 74.8L210.5 71.5L213.8 68.2L217.2 65L220.5 61.9L223.9 58.9L227.3 56L230.6 53.3L234 50.6L237.4 48L240.8 45.5L244.1 43.1L247.5 40.8L250.9 38.6L254.3 36.5L257.7 34.6L261.1 32.7L264.5 31L267.8 29.3L271.2 27.8L274.6 26.4L278 25.1L281.4 23.9L284.7 22.8L288.1 21.9M157.8 140.5L161 135.9L164.2 131.4L167.3 127L170.5 122.6L173.8 118.3L177 114L180.2 109.8L183.5 105.7L186.7 101.7L190 97.7L193.3 93.9L196.6 90.1L199.9 86.3L203.2 82.7L206.5 79.1L209.8 75.7L213.1 72.3L216.5 69L219.8 65.8L223.2 62.7L226.5 59.7L229.9 56.8L233.3 54L236.6 51.2L240 48.6L243.4 46.1L246.8 43.7L250.2 41.4L253.6 39.2L257 37.1L260.4 35.1L263.7 33.2L267.1 31.5L270.5 29.8L273.9 28.3L277.3 26.8L280.7 25.5L284.1 24.3L287.4 23.2L290.8 22.2M160.4 141.6L163.6 137L166.7 132.5L169.9 128L173.1 123.6L176.3 119.3L179.6 115L182.8 110.8L186.1 106.7L189.3 102.7L192.6 98.7L195.9 94.8L199.2 91L202.5 87.2L205.8 83.6L209.1 80L212.4 76.5L215.8 73.1L219.1 69.8L222.5 66.6L225.8 63.5L229.2 60.5L232.6 57.5L235.9 54.7L239.3 51.9L242.7 49.3L246.1 46.8L249.5 44.3L252.8 42L256.2 39.8L259.6 37.7L263 35.6L266.4 33.7L269.8 31.9L273.2 30.3L276.6 28.7L280 27.2L283.4 25.9L286.7 24.7L290.1 23.5L293.5 22.5M163 142.6L166.1 138L169.3 133.5L172.5 129L175.7 124.6L178.9 120.3L182.2 116L185.4 111.8L188.7 107.7L191.9 103.6L195.2 99.6L198.5 95.7L201.8 91.9L205.1 88.1L208.4 84.5L211.7 80.9L215.1 77.4L218.4 74L221.8 70.6L225.1 67.4L228.5 64.3L231.8 61.2L235.2 58.2L238.6 55.4L242 52.6L245.3 50L248.7 47.4L252.1 44.9L255.5 42.6L258.9 40.3L262.3 38.2L265.7 36.2L269.1 34.2L272.5 32.4L275.9 30.7L279.3 29.1L282.7 27.6L286.1 26.3L289.4 25L292.8 23.9L296.2 22.8M165.5 143.6L168.7 139.1L171.9 134.5L175.1 130.1L178.3 125.6L181.5 121.3L184.8 117L188 112.8L191.3 108.7L194.5 104.6L197.8 100.6L201.1 96.7L204.4 92.8L207.7 89L211 85.4L214.4 81.8L217.7 78.2L221 74.8L224.4 71.4L227.7 68.2L231.1 65L234.5 62L237.8 59L241.2 56.1L244.6 53.3L248 50.6L251.4 48L254.8 45.6L258.2 43.2L261.6 40.9L265 38.7L268.4 36.7L271.8 34.7L275.2 32.9L278.6 31.2L282 29.5L285.4 28L288.7 26.6L292.1 25.4L295.5 24.2L298.9 23.2M168.1 144.7L171.3 140.1L174.5 135.6L177.7 131.1L180.9 126.7L184.1 122.3L187.4 118L190.6 113.8L193.9 109.6L197.1 105.6L200.4 101.5L203.7 97.6L207 93.7L210.3 90L213.7 86.2L217 82.6L220.3 79.1L223.7 75.6L227 72.3L230.4 69L233.7 65.8L237.1 62.7L240.5 59.7L243.9 56.8L247.3 54L250.7 51.3L254 48.7L257.4 46.2L260.8 43.8L264.2 41.5L267.6 39.3L271 37.2L274.4 35.2L277.9 33.4L281.2 31.6L284.6 30L288 28.4L291.4 27L294.8 25.7L298.2 24.5L301.6 23.5M170.7 145.7L173.8 141.1L177 136.6L180.2 132.1L183.5 127.7L186.7 123.3L189.9 119L193.2 114.8L196.5 110.6L199.7 106.5L203 102.5L206.3 98.5L209.6 94.7L213 90.9L216.3 87.1L219.6 83.5L222.9 79.9L226.3 76.5L229.7 73.1L233 69.8L236.4 66.6L239.8 63.4L243.1 60.4L246.5 57.5L249.9 54.7L253.3 51.9L256.7 49.3L260.1 46.8L263.5 44.3L266.9 42L270.3 39.8L273.7 37.7L277.1 35.7L280.5 33.8L283.9 32L287.3 30.4L290.7 28.8L294.1 27.4L297.5 26.1L300.9 24.8L304.3 23.8M173.2 146.8L176.4 142.2L179.6 137.6L182.8 133.1L186.1 128.7L189.3 124.3L192.5 120L195.8 115.8L199.1 111.6L202.3 107.5L205.6 103.4L208.9 99.5L212.2 95.6L215.6 91.8L218.9 88L222.2 84.4L225.6 80.8L228.9 77.3L232.3 73.9L235.7 70.6L239 67.3L242.4 64.2L245.8 61.1L249.2 58.2L252.6 55.3L256 52.6L259.4 49.9L262.8 47.4L266.2 44.9L269.6 42.6L273 40.3L276.4 38.2L279.8 36.2L283.2 34.3L286.6 32.5L290 30.8L293.4 29.2L296.8 27.7L300.2 26.4L303.6 25.2L307 24M175.8 147.8L179 143.2L182.2 138.7L185.4 134.2L188.6 129.7L191.9 125.3L195.1 121L198.4 116.8L201.7 112.6L204.9 108.4L208.2 104.4L211.5 100.4L214.9 96.5L218.2 92.6L221.5 88.9L224.9 85.2L228.2 81.6L231.6 78.1L234.9 74.7L238.3 71.3L241.7 68.1L245 64.9L248.4 61.9L251.8 58.9L255.2 56L258.6 53.2L262 50.5L265.4 48L268.8 45.5L272.3 43.1L275.7 40.9L279.1 38.7L282.5 36.7L285.9 34.7L289.3 32.9L292.7 31.2L296.1 29.6L299.5 28.1L302.9 26.7L306.3 25.5L309.7 24.3M178.4 148.9L181.6 144.3L184.8 139.7L188 135.2L191.2 130.7L194.5 126.3L197.7 122L201 117.7L204.3 113.5L207.5 109.4L210.8 105.3L214.2 101.3L217.5 97.4L220.8 93.5L224.1 89.8L227.5 86.1L230.8 82.5L234.2 78.9L237.6 75.5L240.9 72.1L244.3 68.8L247.7 65.7L251.1 62.6L254.5 59.6L257.9 56.7L261.3 53.9L264.7 51.2L268.1 48.6L271.5 46.1L274.9 43.7L278.3 41.4L281.7 39.2L285.2 37.1L288.6 35.2L292 33.3L295.4 31.6L298.8 30L302.2 28.4L305.6 27L309 25.8L312.4 24.6M180.9 149.9L184.1 145.3L187.3 140.7L190.6 136.2L193.8 131.8L197 127.4L200.3 123L203.6 118.7L206.9 114.5L210.1 110.4L213.4 106.3L216.8 102.3L220.1 98.3L223.4 94.4L226.7 90.6L230.1 86.9L233.5 83.3L236.8 79.7L240.2 76.3L243.6 72.9L246.9 69.6L250.3 66.4L253.7 63.3L257.1 60.3L260.5 57.3L263.9 54.5L267.3 51.8L270.8 49.2L274.2 46.6L277.6 44.2L281 41.9L284.4 39.7L287.8 37.6L291.2 35.6L294.7 33.7L298.1 32L301.5 30.3L304.9 28.8L308.3 27.4L311.7 26.1L315.1 24.9" stroke="#000" stroke-opacity="0.8" stroke-width="0.14" fill="none"/>
<path d="M53.2 99.2L74.8 107.6L96.4 116L117.9 124.5L139.4 133.1L160.8 141.7L182.2 150.5M55.5 95.6L77.2 104L98.8 112.4L120.4 120.9L141.9 129.4L163.3 138.1L184.8 146.7M57.9 92L79.6 100.4L101.3 108.8L122.9 117.3L144.4 125.9L165.9 134.4L187.3 143.1M60.3 88.6L82 96.9L103.7 105.3L125.3 113.8L146.9 122.3L168.4 130.8L189.9 139.4M62.7 85.2L84.5 93.5L106.2 101.9L127.8 110.3L149.5 118.8L171 127.3L192.5 135.8M65.1 81.8L86.9 90.1L108.7 98.5L130.4 106.9L152 115.3L173.6 123.8L195.1 132.3M67.6 78.5L89.4 86.8L111.2 95.2L132.9 103.5L154.5 111.9L176.1 120.3L197.7 128.7M70 75.3L91.9 83.6L113.7 91.9L135.4 100.2L157.1 108.5L178.7 116.9L200.3 125.2M72.5 72.2L94.3 80.4L116.2 88.7L137.9 97L159.7 105.2L181.3 113.5L202.9 121.8M74.9 69.1L96.8 77.3L118.7 85.5L140.5 93.7L162.2 102L183.9 110.2L205.5 118.4M77.4 66.1L99.3 74.3L121.2 82.4L143 90.6L164.8 98.7L186.5 106.9L208.2 115M79.9 63.1L101.8 71.3L123.8 79.4L145.6 87.5L167.4 95.6L189.1 103.6L210.8 111.7M82.4 60.3L104.4 68.3L126.3 76.4L148.2 84.4L170 92.5L191.7 100.4L213.4 108.4M84.9 57.5L106.9 65.5L128.9 73.5L150.7 81.5L172.6 89.4L194.4 97.3L216.1 105.1M87.4 54.7L109.4 62.7L131.4 70.6L153.3 78.5L175.2 86.4L197 94.2L218.7 101.9M89.9 52.1L112 60L134 67.8L155.9 75.7L177.8 83.4L199.6 91.1L221.4 98.8M92.4 49.5L114.5 57.3L136.6 65.1L158.5 72.9L180.4 80.5L202.3 88.1L224.1 95.7M95 47L117.1 54.7L139.1 62.5L161.1 70.1L183 77.7L204.9 85.2L226.7 92.6M97.5 44.5L119.7 52.2L141.7 59.9L163.7 67.4L185.7 74.9L207.6 82.3L229.4 89.6M100.1 42.1L122.2 49.8L144.3 57.3L166.3 64.8L188.3 72.2L210.2 79.5L232.1 86.6M102.6 39.8L124.8 47.4L146.9 54.9L169 62.2L190.9 69.5L212.9 76.7L234.8 83.7M105.2 37.6L127.4 45.1L149.5 52.5L171.6 59.7L193.6 66.9L215.5 73.9L237.5 80.9M107.8 35.4L130 42.8L152.1 50.1L174.2 57.3L196.2 64.4L218.2 71.3L240.2 78.1M110.4 33.4L132.6 40.7L154.8 47.9L176.9 54.9L198.9 61.9L220.9 68.7L242.9 75.3M113 31.3L135.2 38.6L157.4 45.7L179.5 52.6L201.6 59.4L223.6 66.1L245.6 72.6M115.6 29.4L137.8 36.5L160 43.5L182.1 50.4L204.2 57.1L226.3 63.6L248.3 70M118.2 27.5L140.5 34.6L162.7 41.5L184.8 48.2L206.9 54.8L229 61.2L251 67.4M120.8 25.7L143.1 32.7L165.3 39.5L187.5 46.1L209.6 52.5L231.6 58.8L253.7 64.9M123.4 24L145.7 30.9L167.9 37.5L190.1 44L212.2 50.4L234.3 56.5L256.4 62.4M126 22.4L148.3 29.1L170.6 35.7L192.8 42.1L214.9 48.3L237 54.2L259.1 60M128.7 20.8L151 27.4L173.2 33.9L195.5 40.2L217.6 46.2L239.7 52.1L261.9 57.7M131.3 19.3L153.6 25.8L175.9 32.2L198.1 38.3L220.3 44.2L242.5 49.9L264.6 55.4M134 17.9L156.3 24.3L178.6 30.5L200.8 36.5L223 42.3L245.2 47.9L267.3 53.2M136.6 16.5L158.9 22.8L181.2 28.9L203.5 34.8L225.7 40.5L247.9 45.9L270 51M139.3 15.2L161.6 21.4L183.9 27.4L206.2 33.2L228.4 38.7L250.6 44L272.8 48.9M141.9 14L164.3 20.1L186.6 26L208.8 31.6L231.1 37L253.3 42.1L275.5 46.9M144.6 12.9L166.9 18.9L189.2 24.6L211.5 30.1L233.8 35.4L256 40.3L278.2 45M147.2 11.8L169.6 17.7L191.9 23.3L214.2 28.7L236.5 33.8L258.7 38.6L281 43.1M149.9 10.8L172.3 16.6L194.6 22.1L216.9 27.3L239.2 32.3L261.4 36.9L283.7 41.3M152.6 9.9L174.9 15.5L197.3 20.9L219.6 26L241.9 30.8L264.2 35.3L286.4 39.5M155.2 9L177.6 14.5L200 19.8L222.3 24.8L244.6 29.5L266.9 33.8L289.2 37.8M157.9 8.2L180.3 13.6L202.6 18.8L225 23.7L247.3 28.2L269.6 32.4L291.9 36.2M160.6 7.5L183 12.8L205.3 17.8L227.7 22.6L250 27L272.3 31L294.6 34.7M163.2 6.8L185.6 12L208 17L230.3 21.6L252.7 25.8L275 29.7L297.4 33.2M165.9 6.2L188.3 11.3L210.7 16.1L233 20.6L255.4 24.7L277.7 28.5L300.1 31.8M168.6 5.7L191 10.7L213.4 15.4L235.7 19.7L258.1 23.7L280.4 27.3L302.8 30.5M171.3 5.2L193.7 10.1L216 14.7L238.4 18.9L260.8 22.8L283.1 26.2L305.5 29.2M174 4.8L196.4 9.6L218.7 14.1L241.1 18.2L263.5 21.9L285.8 25.2L308.3 28.1M176.6 4.5L199 9.2L221.4 13.5L243.8 17.5L266.1 21.1L288.5 24.3L311 27M179.3 4.2L201.7 8.8L224.1 13.1L246.5 16.9L268.8 20.4L291.2 23.4L313.7 25.9M182 4L204.4 8.5L226.8 12.7L249.1 16.4L271.5 19.7L293.9 22.6L316.4 25M54.3 97.4L76 105.7L97.6 114.2L119.1 122.7L140.6 131.3L162.1 139.9L183.5 148.6M56.7 93.8L78.4 102.2L100 110.6L121.6 119.1L143.1 127.6L164.6 136.2L186 144.9M59.1 90.3L80.8 98.7L102.5 107.1L124.1 115.5L145.7 124.1L167.2 132.6L188.6 141.3M61.5 86.9L83.3 95.2L105 103.6L126.6 112.1L148.2 120.5L169.7 129.1L191.2 137.6M63.9 83.5L85.7 91.8L107.4 100.2L129.1 108.6L150.7 117.1L172.3 125.5L193.8 134M66.3 80.2L88.2 88.5L109.9 96.8L131.6 105.2L153.3 113.6L174.8 122L196.4 130.5M68.8 76.9L90.6 85.2L112.4 93.5L134.1 101.9L155.8 110.2L177.4 118.6L199 127M71.2 73.7L93.1 82L114.9 90.3L136.7 98.6L158.4 106.9L180 115.2L201.6 123.5M73.7 70.6L95.6 78.9L117.4 87.1L139.2 95.3L160.9 103.6L182.6 111.8L204.2 120.1M76.2 67.6L98.1 75.8L120 84L141.8 92.2L163.5 100.3L185.2 108.5L206.8 116.7M78.6 64.6L100.6 72.8L122.5 80.9L144.3 89L166.1 97.1L187.8 105.2L209.5 113.3M81.1 61.7L103.1 69.8L125 77.9L146.9 86L168.7 94L190.4 102L212.1 110M83.6 58.9L105.6 66.9L127.6 74.9L149.5 82.9L171.3 90.9L193 98.9L214.7 106.7M86.1 56.1L108.2 64.1L130.1 72.1L152 80L173.9 87.9L195.7 95.7L217.4 103.5M88.6 53.4L110.7 61.3L132.7 69.2L154.6 77.1L176.5 84.9L198.3 92.7L220.1 100.3M91.2 50.8L113.2 58.6L135.3 66.5L157.2 74.3L179.1 82L200.9 89.6L222.7 97.2M93.7 48.2L115.8 56L137.8 63.8L159.8 71.5L181.7 79.1L203.6 86.7L225.4 94.1M96.2 45.7L118.4 53.5L140.4 61.2L162.4 68.8L184.3 76.3L206.2 83.7L228.1 91.1M98.8 43.3L120.9 51L143 58.6L165 66.1L187 73.5L208.9 80.9L230.7 88.1M101.4 41L123.5 48.6L145.6 56.1L167.6 63.5L189.6 70.8L211.5 78.1L233.4 85.2M103.9 38.7L126.1 46.2L148.2 53.7L170.3 61L192.3 68.2L214.2 75.3L236.1 82.3M106.5 36.5L128.7 43.9L150.8 51.3L172.9 58.5L194.9 65.6L216.9 72.6L238.8 79.4M109.1 34.4L131.3 41.7L153.4 49L175.5 56.1L197.6 63.1L219.6 70L241.5 76.7M111.7 32.3L133.9 39.6L156.1 46.7L178.2 53.8L200.2 60.6L222.2 67.4L244.2 74M114.3 30.4L136.5 37.5L158.7 44.6L180.8 51.5L202.9 58.2L224.9 64.9L246.9 71.3M116.9 28.5L139.1 35.5L161.3 42.5L183.5 49.3L205.6 55.9L227.6 62.4L249.6 68.7M119.5 26.6L141.8 33.6L164 40.5L186.1 47.1L208.2 53.6L230.3 60L252.3 66.1M122.1 24.9L144.4 31.8L166.6 38.5L188.8 45.1L210.9 51.4L233 57.6L255 63.6M124.7 23.2L147 30L169.3 36.6L191.5 43L213.6 49.3L235.7 55.4L257.8 61.2M127.4 21.6L149.7 28.3L171.9 34.8L194.1 41.1L216.3 47.2L238.4 53.1L260.5 58.8M130 20L152.3 26.6L174.6 33L196.8 39.2L219 45.2L241.1 51L263.2 56.5M132.6 18.6L155 25.1L177.2 31.3L199.5 37.4L221.6 43.3L243.8 48.9L265.9 54.3M135.3 17.2L157.6 23.6L179.9 29.7L202.1 35.7L224.3 41.4L246.5 46.9L268.7 52.1M137.9 15.9L160.3 22.1L182.6 28.2L204.8 34L227 39.6L249.2 44.9L271.4 50M140.6 14.6L162.9 20.8L185.2 26.7L207.5 32.4L229.7 37.8L251.9 43L274.1 47.9M143.2 13.4L165.6 19.5L187.9 25.3L210.2 30.9L232.4 36.2L254.7 41.2L276.9 45.9M145.9 12.3L168.3 18.3L190.6 24L212.9 29.4L235.1 34.6L257.4 39.4L279.6 44M148.6 11.3L170.9 17.1L193.3 22.7L215.6 28L237.8 33L260.1 37.7L282.3 42.2M151.2 10.3L173.6 16L195.9 21.5L218.2 26.7L240.5 31.6L262.8 36.1L285.1 40.4M153.9 9.4L176.3 15L198.6 20.4L220.9 25.4L243.2 30.2L265.5 34.6L287.8 38.7M156.6 8.6L179 14.1L201.3 19.3L223.6 24.2L245.9 28.8L268.2 33.1L290.5 37M159.2 7.8L181.6 13.2L204 18.3L226.3 23.1L248.6 27.6L270.9 31.7L293.3 35.4M161.9 7.1L184.3 12.4L206.7 17.4L229 22.1L251.3 26.4L273.7 30.3L296 33.9M164.6 6.5L187 11.7L209.3 16.5L231.7 21.1L254 25.3L276.4 29.1L298.7 32.5M167.3 5.9L189.7 11L212 15.8L234.4 20.2L256.7 24.2L279.1 27.9L301.5 31.1M169.9 5.4L192.3 10.4L214.7 15L237.1 19.3L259.4 23.2L281.8 26.8L304.2 29.9M172.6 5L195 9.9L217.4 14.4L239.7 18.6L262.1 22.3L284.5 25.7L306.9 28.7M175.3 4.6L197.7 9.4L220.1 13.8L242.4 17.8L264.8 21.5L287.2 24.7L309.6 27.5M178 4.3L200.4 9L222.7 13.3L245.1 17.2L267.5 20.7L289.9 23.8L312.3 26.5M180.7 4.1L203.1 8.7L225.4 12.9L247.8 16.6L270.2 20L292.6 23L315.1 25.5" stroke="#000" stroke-opacity="0.8" stroke-width="0.34" fill="none"/>
<ellipse cx="317" cy="24.9" rx="2.0" ry="1.8" fill="#ffb4b4" stroke="#e88" stroke-width="0.4"/>
<ellipse cx="182.1" cy="150.7" rx="2.1" ry="1.9" fill="#ffc0c0" stroke="#e88" stroke-width="0.4"/>
<ellipse cx="182.1" cy="2.8" rx="2.3" ry="2" fill="#ff0000" stroke="none" stroke-width="0.4"/>
<ellipse cx="53.4" cy="98.8" rx="2.3" ry="2" fill="#ff0000" stroke="none" stroke-width="0.4"/>
<ellipse cx="182.1" cy="46.6" rx="2.3" ry="2" fill="#ff0000" stroke="none" stroke-width="0.4"/>
<g fill="#000"><circle cx="54.1" cy="112.8" r="0.7"/><circle cx="52.5" cy="90.1" r="0.7"/><circle cx="51" cy="67.4" r="0.7"/><circle cx="49.4" cy="44.7" r="0.7"/><circle cx="47.9" cy="22" r="0.7"/><circle cx="56" cy="141" r="0.7"/><circle cx="68.6" cy="145.1" r="0.7"/><circle cx="81.2" cy="149.3" r="0.7"/><circle cx="93.9" cy="153.4" r="0.7"/><circle cx="106.5" cy="157.5" r="0.7"/><circle cx="119.1" cy="161.7" r="0.7"/><circle cx="131.7" cy="165.8" r="0.7"/><circle cx="144.3" cy="169.9" r="0.7"/><circle cx="157" cy="174" r="0.7"/><circle cx="169.6" cy="178.2" r="0.7"/><circle cx="182.2" cy="182.3" r="0.7"/><circle cx="182.2" cy="182.3" r="0.7"/><circle cx="207.4" cy="174" r="0.7"/><circle cx="232.5" cy="165.8" r="0.7"/><circle cx="257.7" cy="157.5" r="0.7"/><circle cx="282.8" cy="149.3" r="0.7"/><circle cx="308" cy="141" r="0.7"/></g>
<g font-size="4.5" font-weight="bold" fill="#000" stroke="#000" stroke-width="0.18" style="mix-blend-mode:multiply"><text x="51.88" y="112.14" text-anchor="end" font-size="4.1">20</text><text x="50.34" y="89.43" text-anchor="end" font-size="4.1">40</text><text x="48.79" y="66.72" text-anchor="end" font-size="4.1">60</text><text x="47.25" y="44.01" text-anchor="end" font-size="4.1">80</text><text x="45.7" y="21.3" text-anchor="end" font-size="4.1">100</text><text transform="translate(54 145.95) scale(0.9 1)" text-anchor="end">60.00</text><text transform="translate(66.62 150.08) scale(0.9 1)" text-anchor="end">55.00</text><text transform="translate(79.24 154.21) scale(0.9 1)" text-anchor="end">50.00</text><text transform="translate(91.86 158.34) scale(0.9 1)" text-anchor="end">45.00</text><text transform="translate(104.48 162.47) scale(0.9 1)" text-anchor="end">40.00</text><text transform="translate(117.1 166.6) scale(0.9 1)" text-anchor="end">35.00</text><text transform="translate(129.72 170.73) scale(0.9 1)" text-anchor="end">30.00</text><text transform="translate(142.34 174.86) scale(0.9 1)" text-anchor="end">25.00</text><text transform="translate(154.96 178.99) scale(0.9 1)" text-anchor="end">20.00</text><text transform="translate(167.58 183.12) scale(0.9 1)" text-anchor="end">15.00</text><text transform="translate(180.2 187.25) scale(0.9 1)" text-anchor="end">10.00</text><text transform="translate(184.6 186.4) scale(0.9 1)">7.50</text><text transform="translate(209.76 178.14) scale(0.9 1)">7.80</text><text transform="translate(234.92 169.88) scale(0.9 1)">8.10</text><text transform="translate(260.08 161.62) scale(0.9 1)">8.40</text><text transform="translate(285.24 153.36) scale(0.9 1)">8.70</text><text transform="translate(310.4 145.1) scale(0.9 1)">9.00</text></g>
<g font-size="7.4" fill="#000" stroke="#000" stroke-width="0.3" style="mix-blend-mode:multiply"><text x="34.6" y="179.4" textLength="72.1" lengthAdjust="spacingAndGlyphs">Flocculation time (minute)</text><text x="286.4" y="179.4" textLength="15.1" lengthAdjust="spacingAndGlyphs">A: pH</text><text transform="translate(6.9 120) rotate(-90)" textLength="72.4" lengthAdjust="spacingAndGlyphs">Flocculation efficiency(%)</text></g>
<path d="M416.6 139.8L408.6 23.3M439.8 106.6L435 19.3M465 100.9L461.3 15.3M490.1 95.3L487.7 11.2M515.3 89.6L514 7.2M540.4 109L540.4 3.2M565.5 89.6L566.6 7.2M590.5 95.3L592.8 11.2M615.6 100.9L618.9 15.3M640.6 106.6L645.1 19.3M663.9 139.8L671.3 23.3M414.7 112.2L540.4 84M540.4 84L665.7 112.2M413.2 90L540.4 63.8M540.4 63.8L667.1 90M411.7 67.8L540.4 43.6M540.4 43.6L668.5 67.8M410.1 45.5L540.4 23.4M540.4 23.4L669.9 45.5M408.6 23.3L540.4 3.2M540.4 3.2L671.3 23.3" stroke="#4a4a4a" stroke-width="0.45" fill="none"/>
<polygon points="416.6,139.8 540.5,180.6 663.9,139.8 540.4,109" fill="#ffff00" stroke="#3a3a00" stroke-width="0.5"/>
<path d="M449.3 132.5L577.6 167.8" fill="none" stroke="#55ff55" stroke-width="0.7"/>
<path d="M428 137L552.9 174.2" fill="none" stroke="#88ffaa" stroke-width="0.7"/>
<polyline points="416.6,139.8 540.5,180.6 663.9,139.8" fill="none" stroke="#222" stroke-width="0.35"/>
<g stroke-width="0.6" stroke-linejoin="round"><path d="M414.1 103.1L416.4 100.1L432.3 104.9L429.9 108.1z" fill="#0075ff" stroke="#0075ff"/><path d="M429.9 108.1L432.3 104.9L448.1 109.7L445.7 113z" fill="#0072ff" stroke="#0072ff"/><path d="M445.7 113L448.1 109.7L463.9 114.6L461.5 118z" fill="#006fff" stroke="#006fff"/><path d="M461.5 118L463.9 114.6L479.8 119.4L477.3 123z" fill="#006cff" stroke="#006cff"/><path d="M477.3 123L479.8 119.4L495.6 124.2L493.1 128z" fill="#0069ff" stroke="#0069ff"/><path d="M493.1 128L495.6 124.2L511.4 129.1L508.9 133z" fill="#0066ff" stroke="#0066ff"/><path d="M508.9 133L511.4 129.1L527.2 133.9L524.7 138z" fill="#0063ff" stroke="#0063ff"/><path d="M524.7 138L527.2 133.9L543 138.7L540.5 143z" fill="#0060ff" stroke="#0060ff"/><path d="M416.4 100.1L418.8 97L434.7 101.7L432.3 104.9z" fill="#0092ff" stroke="#0092ff"/><path d="M432.3 104.9L434.7 101.7L450.5 106.5L448.1 109.7z" fill="#0090ff" stroke="#0090ff"/><path d="M448.1 109.7L450.5 106.5L466.4 111.2L463.9 114.6z" fill="#008eff" stroke="#008eff"/><path d="M463.9 114.6L466.4 111.2L482.2 115.9L479.8 119.4z" fill="#008bff" stroke="#008bff"/><path d="M479.8 119.4L482.2 115.9L498 120.6L495.6 124.2z" fill="#0089ff" stroke="#0089ff"/><path d="M495.6 124.2L498 120.6L513.9 125.3L511.4 129.1z" fill="#0087ff" stroke="#0087ff"/><path d="M511.4 129.1L513.9 125.3L529.7 129.9L527.2 133.9z" fill="#0085ff" stroke="#0085ff"/><path d="M527.2 133.9L529.7 129.9L545.5 134.6L543 138.7z" fill="#0083ff" stroke="#0083ff"/><path d="M418.8 97L421.2 94L437 98.6L434.7 101.7z" fill="#00afff" stroke="#00afff"/><path d="M434.7 101.7L437 98.6L452.9 103.2L450.5 106.5z" fill="#00adff" stroke="#00adff"/><path d="M450.5 106.5L452.9 103.2L468.8 107.8L466.4 111.2z" fill="#00acff" stroke="#00acff"/><path d="M466.4 111.2L468.8 107.8L484.6 112.4L482.2 115.9z" fill="#00aaff" stroke="#00aaff"/><path d="M482.2 115.9L484.6 112.4L500.5 117L498 120.6z" fill="#00a9ff" stroke="#00a9ff"/><path d="M498 120.6L500.5 117L516.4 121.5L513.9 125.3z" fill="#00a8ff" stroke="#00a8ff"/><path d="M513.9 125.3L516.4 121.5L532.2 126L529.7 129.9z" fill="#00a7ff" stroke="#00a7ff"/><path d="M529.7 129.9L532.2 126L548.1 130.6L545.5 134.6z" fill="#00a6ff" stroke="#00a6ff"/><path d="M421.2 94L423.6 91L439.4 95.6L437 98.6z" fill="#00ccff" stroke="#00ccff"/><path d="M437 98.6L439.4 95.6L455.3 100.1L452.9 103.2z" fill="#00cbff" stroke="#00cbff"/><path d="M452.9 103.2L455.3 100.1L471.2 104.5L468.8 107.8z" fill="#00c9ff" stroke="#00c9ff"/><path d="M468.8 107.8L471.2 104.5L487.1 109L484.6 112.4z" fill="#00c9ff" stroke="#00c9ff"/><path d="M484.6 112.4L487.1 109L503 113.4L500.5 117z" fill="#00c8ff" stroke="#00c8ff"/><path d="M500.5 117L503 113.4L518.8 117.8L516.4 121.5z" fill="#00c8ff" stroke="#00c8ff"/><path d="M516.4 121.5L518.8 117.8L534.7 122.2L532.2 126z" fill="#00c8ff" stroke="#00c8ff"/><path d="M532.2 126L534.7 122.2L550.6 126.6L548.1 130.6z" fill="#00c8ff" stroke="#00c8ff"/><path d="M423.6 91L425.9 88.1L441.9 92.5L439.4 95.6z" fill="#00e8ff" stroke="#00e8ff"/><path d="M439.4 95.6L441.9 92.5L457.8 96.9L455.3 100.1z" fill="#00e7ff" stroke="#00e7ff"/><path d="M455.3 100.1L457.8 96.9L473.7 101.3L471.2 104.5z" fill="#00e7ff" stroke="#00e7ff"/><path d="M471.2 104.5L473.7 101.3L489.6 105.6L487.1 109z" fill="#00e7ff" stroke="#00e7ff"/><path d="M487.1 109L489.6 105.6L505.5 110L503 113.4z" fill="#00e7ff" stroke="#00e7ff"/><path d="M503 113.4L505.5 110L521.4 114.2L518.8 117.8z" fill="#00e7ff" stroke="#00e7ff"/><path d="M518.8 117.8L521.4 114.2L537.3 118.5L534.7 122.2z" fill="#00e8ff" stroke="#00e8ff"/><path d="M534.7 122.2L537.3 118.5L553.2 122.7L550.6 126.6z" fill="#00e9ff" stroke="#00e9ff"/><path d="M425.9 88.1L428.3 85.2L444.3 89.5L441.9 92.5z" fill="#00fffa" stroke="#00fffa"/><path d="M441.9 92.5L444.3 89.5L460.2 93.8L457.8 96.9z" fill="#00fffa" stroke="#00fffa"/><path d="M457.8 96.9L460.2 93.8L476.1 98.1L473.7 101.3z" fill="#00fffa" stroke="#00fffa"/><path d="M473.7 101.3L476.1 98.1L492 102.3L489.6 105.6z" fill="#00fffa" stroke="#00fffa"/><path d="M489.6 105.6L492 102.3L507.9 106.5L505.5 110z" fill="#00fff9" stroke="#00fff9"/><path d="M505.5 110L507.9 106.5L523.9 110.7L521.4 114.2z" fill="#00fff8" stroke="#00fff8"/><path d="M521.4 114.2L523.9 110.7L539.8 114.8L537.3 118.5z" fill="#00fff7" stroke="#00fff7"/><path d="M537.3 118.5L539.8 114.8L555.7 118.9L553.2 122.7z" fill="#00fff5" stroke="#00fff5"/><path d="M428.3 85.2L430.7 82.3L446.7 86.5L444.3 89.5z" fill="#00ffde" stroke="#00ffde"/><path d="M444.3 89.5L446.7 86.5L462.6 90.8L460.2 93.8z" fill="#00ffde" stroke="#00ffde"/><path d="M460.2 93.8L462.6 90.8L478.6 95L476.1 98.1z" fill="#00ffde" stroke="#00ffde"/><path d="M476.1 98.1L478.6 95L494.5 99.1L492 102.3z" fill="#00ffdd" stroke="#00ffdd"/><path d="M492 102.3L494.5 99.1L510.4 103.2L507.9 106.5z" fill="#00ffdb" stroke="#00ffdb"/><path d="M507.9 106.5L510.4 103.2L526.4 107.2L523.9 110.7z" fill="#00ffda" stroke="#00ffda"/><path d="M523.9 110.7L526.4 107.2L542.3 111.2L539.8 114.8z" fill="#00ffd8" stroke="#00ffd8"/><path d="M539.8 114.8L542.3 111.2L558.3 115.1L555.7 118.9z" fill="#00ffd5" stroke="#00ffd5"/><path d="M430.7 82.3L433.2 79.4L449.1 83.6L446.7 86.5z" fill="#00ffc2" stroke="#00ffc2"/><path d="M446.7 86.5L449.1 83.6L465.1 87.8L462.6 90.8z" fill="#00ffc2" stroke="#00ffc2"/><path d="M462.6 90.8L465.1 87.8L481 91.9L478.6 95z" fill="#00ffc1" stroke="#00ffc1"/><path d="M478.6 95L481 91.9L497 95.9L494.5 99.1z" fill="#00ffc0" stroke="#00ffc0"/><path d="M494.5 99.1L497 95.9L512.9 99.9L510.4 103.2z" fill="#00ffbe" stroke="#00ffbe"/><path d="M510.4 103.2L512.9 99.9L528.9 103.8L526.4 107.2z" fill="#00ffbc" stroke="#00ffbc"/><path d="M526.4 107.2L528.9 103.8L544.9 107.7L542.3 111.2z" fill="#00ffb9" stroke="#00ffb9"/><path d="M542.3 111.2L544.9 107.7L560.8 111.5L558.3 115.1z" fill="#00ffb6" stroke="#00ffb6"/><path d="M433.2 79.4L435.6 76.6L451.6 80.7L449.1 83.6z" fill="#00ffa7" stroke="#00ffa7"/><path d="M449.1 83.6L451.6 80.7L467.5 84.8L465.1 87.8z" fill="#00ffa7" stroke="#00ffa7"/><path d="M465.1 87.8L467.5 84.8L483.5 88.8L481 91.9z" fill="#00ffa6" stroke="#00ffa6"/><path d="M481 91.9L483.5 88.8L499.5 92.8L497 95.9z" fill="#00ffa4" stroke="#00ffa4"/><path d="M497 95.9L499.5 92.8L515.4 96.7L512.9 99.9z" fill="#00ffa2" stroke="#00ffa2"/><path d="M512.9 99.9L515.4 96.7L531.4 100.5L528.9 103.8z" fill="#00ff9f" stroke="#00ff9f"/><path d="M528.9 103.8L531.4 100.5L547.4 104.3L544.9 107.7z" fill="#00ff9c" stroke="#00ff9c"/><path d="M544.9 107.7L547.4 104.3L563.4 107.9L560.8 111.5z" fill="#00ff97" stroke="#00ff97"/><path d="M435.6 76.6L438 73.8L454 77.9L451.6 80.7z" fill="#00ff8d" stroke="#00ff8d"/><path d="M451.6 80.7L454 77.9L470 81.9L467.5 84.8z" fill="#00ff8c" stroke="#00ff8c"/><path d="M467.5 84.8L470 81.9L486 85.8L483.5 88.8z" fill="#00ff8b" stroke="#00ff8b"/><path d="M483.5 88.8L486 85.8L502 89.7L499.5 92.8z" fill="#00ff89" stroke="#00ff89"/><path d="M499.5 92.8L502 89.7L518 93.5L515.4 96.7z" fill="#00ff86" stroke="#00ff86"/><path d="M515.4 96.7L518 93.5L534 97.2L531.4 100.5z" fill="#00ff83" stroke="#00ff83"/><path d="M531.4 100.5L534 97.2L550 100.9L547.4 104.3z" fill="#00ff7f" stroke="#00ff7f"/><path d="M547.4 104.3L550 100.9L566 104.5L563.4 107.9z" fill="#00ff7a" stroke="#00ff7a"/><path d="M438 73.8L440.5 71.1L456.5 75.1L454 77.9z" fill="#00ff72" stroke="#00ff72"/><path d="M454 77.9L456.5 75.1L472.5 79L470 81.9z" fill="#00ff71" stroke="#00ff71"/><path d="M470 81.9L472.5 79L488.5 82.9L486 85.8z" fill="#00ff70" stroke="#00ff70"/><path d="M486 85.8L488.5 82.9L504.5 86.7L502 89.7z" fill="#00ff6e" stroke="#00ff6e"/><path d="M502 89.7L504.5 86.7L520.5 90.4L518 93.5z" fill="#00ff6b" stroke="#00ff6b"/><path d="M518 93.5L520.5 90.4L536.5 94L534 97.2z" fill="#00ff67" stroke="#00ff67"/><path d="M534 97.2L536.5 94L552.5 97.6L550 100.9z" fill="#00ff62" stroke="#00ff62"/><path d="M550 100.9L552.5 97.6L568.6 101.1L566 104.5z" fill="#00ff5d" stroke="#00ff5d"/><path d="M440.5 71.1L442.9 68.4L458.9 72.3L456.5 75.1z" fill="#00ff58" stroke="#00ff58"/><path d="M456.5 75.1L458.9 72.3L474.9 76.2L472.5 79z" fill="#00ff57" stroke="#00ff57"/><path d="M472.5 79L474.9 76.2L491 80L488.5 82.9z" fill="#00ff56" stroke="#00ff56"/><path d="M488.5 82.9L491 80L507 83.7L504.5 86.7z" fill="#00ff53" stroke="#00ff53"/><path d="M504.5 86.7L507 83.7L523 87.4L520.5 90.4z" fill="#00ff50" stroke="#00ff50"/><path d="M520.5 90.4L523 87.4L539.1 90.9L536.5 94z" fill="#00ff4c" stroke="#00ff4c"/><path d="M536.5 94L539.1 90.9L555.1 94.4L552.5 97.6z" fill="#00ff47" stroke="#00ff47"/><path d="M552.5 97.6L555.1 94.4L571.2 97.7L568.6 101.1z" fill="#00ff41" stroke="#00ff41"/><path d="M442.9 68.4L445.3 65.7L461.4 69.6L458.9 72.3z" fill="#00ff3f" stroke="#00ff3f"/><path d="M458.9 72.3L461.4 69.6L477.4 73.5L474.9 76.2z" fill="#00ff3e" stroke="#00ff3e"/><path d="M474.9 76.2L477.4 73.5L493.5 77.2L491 80z" fill="#00ff3c" stroke="#00ff3c"/><path d="M491 80L493.5 77.2L509.5 80.8L507 83.7z" fill="#00ff39" stroke="#00ff39"/><path d="M507 83.7L509.5 80.8L525.6 84.4L523 87.4z" fill="#00ff36" stroke="#00ff36"/><path d="M523 87.4L525.6 84.4L541.6 87.9L539.1 90.9z" fill="#00ff31" stroke="#00ff31"/><path d="M539.1 90.9L541.6 87.9L557.7 91.2L555.1 94.4z" fill="#00ff2c" stroke="#00ff2c"/><path d="M555.1 94.4L557.7 91.2L573.7 94.5L571.2 97.7z" fill="#00ff25" stroke="#00ff25"/><path d="M445.3 65.7L447.8 63.1L463.9 67L461.4 69.6z" fill="#00ff25" stroke="#00ff25"/><path d="M461.4 69.6L463.9 67L479.9 70.7L477.4 73.5z" fill="#00ff24" stroke="#00ff24"/><path d="M477.4 73.5L479.9 70.7L496 74.4L493.5 77.2z" fill="#00ff23" stroke="#00ff23"/><path d="M493.5 77.2L496 74.4L512 78L509.5 80.8z" fill="#00ff20" stroke="#00ff20"/><path d="M509.5 80.8L512 78L528.1 81.5L525.6 84.4z" fill="#00ff1c" stroke="#00ff1c"/><path d="M525.6 84.4L528.1 81.5L544.2 84.9L541.6 87.9z" fill="#00ff17" stroke="#00ff17"/><path d="M541.6 87.9L544.2 84.9L560.3 88.2L557.7 91.2z" fill="#00ff11" stroke="#00ff11"/><path d="M557.7 91.2L560.3 88.2L576.3 91.4L573.7 94.5z" fill="#00ff0b" stroke="#00ff0b"/><path d="M447.8 63.1L450.3 60.5L466.4 64.4L463.9 67z" fill="#00ff0c" stroke="#00ff0c"/><path d="M463.9 67L466.4 64.4L482.4 68.1L479.9 70.7z" fill="#00ff0c" stroke="#00ff0c"/><path d="M479.9 70.7L482.4 68.1L498.5 71.7L496 74.4z" fill="#00ff0a" stroke="#00ff0a"/><path d="M496 74.4L498.5 71.7L514.6 75.2L512 78z" fill="#00ff07" stroke="#00ff07"/><path d="M512 78L514.6 75.2L530.7 78.7L528.1 81.5z" fill="#00ff03" stroke="#00ff03"/><path d="M528.1 81.5L530.7 78.7L546.7 82L544.2 84.9z" fill="#02ff00" stroke="#02ff00"/><path d="M544.2 84.9L546.7 82L562.8 85.2L560.3 88.2z" fill="#09ff00" stroke="#09ff00"/><path d="M560.3 88.2L562.8 85.2L578.9 88.3L576.3 91.4z" fill="#11ff00" stroke="#11ff00"/><path d="M450.3 60.5L452.8 58L468.8 61.8L466.4 64.4z" fill="#0dff00" stroke="#0dff00"/><path d="M466.4 64.4L468.8 61.8L484.9 65.5L482.4 68.1z" fill="#0eff00" stroke="#0eff00"/><path d="M482.4 68.1L484.9 65.5L501 69L498.5 71.7z" fill="#10ff00" stroke="#10ff00"/><path d="M498.5 71.7L501 69L517.1 72.5L514.6 75.2z" fill="#13ff00" stroke="#13ff00"/><path d="M514.6 75.2L517.1 72.5L533.2 75.9L530.7 78.7z" fill="#18ff00" stroke="#18ff00"/><path d="M530.7 78.7L533.2 75.9L549.3 79.1L546.7 82z" fill="#1eff00" stroke="#1eff00"/><path d="M546.7 82L549.3 79.1L565.4 82.3L562.8 85.2z" fill="#25ff00" stroke="#25ff00"/><path d="M562.8 85.2L565.4 82.3L581.6 85.3L578.9 88.3z" fill="#2dff00" stroke="#2dff00"/><path d="M452.8 58L455.2 55.5L471.3 59.3L468.8 61.8z" fill="#28ff00" stroke="#28ff00"/><path d="M468.8 61.8L471.3 59.3L487.5 62.9L484.9 65.5z" fill="#29ff00" stroke="#29ff00"/><path d="M484.9 65.5L487.5 62.9L503.6 66.4L501 69z" fill="#2bff00" stroke="#2bff00"/><path d="M501 69L503.6 66.4L519.7 69.9L517.1 72.5z" fill="#2eff00" stroke="#2eff00"/><path d="M517.1 72.5L519.7 69.9L535.8 73.2L533.2 75.9z" fill="#32ff00" stroke="#32ff00"/><path d="M533.2 75.9L535.8 73.2L551.9 76.4L549.3 79.1z" fill="#38ff00" stroke="#38ff00"/><path d="M549.3 79.1L551.9 76.4L568 79.4L565.4 82.3z" fill="#40ff00" stroke="#40ff00"/><path d="M565.4 82.3L568 79.4L584.2 82.4L581.6 85.3z" fill="#48ff00" stroke="#48ff00"/><path d="M455.2 55.5L457.7 53L473.9 56.8L471.3 59.3z" fill="#42ff00" stroke="#42ff00"/><path d="M471.3 59.3L473.9 56.8L490 60.4L487.5 62.9z" fill="#42ff00" stroke="#42ff00"/><path d="M487.5 62.9L490 60.4L506.1 63.9L503.6 66.4z" fill="#44ff00" stroke="#44ff00"/><path d="M503.6 66.4L506.1 63.9L522.2 67.3L519.7 69.9z" fill="#48ff00" stroke="#48ff00"/><path d="M519.7 69.9L522.2 67.3L538.3 70.5L535.8 73.2z" fill="#4cff00" stroke="#4cff00"/><path d="M535.8 73.2L538.3 70.5L554.5 73.7L551.9 76.4z" fill="#52ff00" stroke="#52ff00"/><path d="M551.9 76.4L554.5 73.7L570.6 76.7L568 79.4z" fill="#5aff00" stroke="#5aff00"/><path d="M568 79.4L570.6 76.7L586.8 79.5L584.2 82.4z" fill="#63ff00" stroke="#63ff00"/><path d="M457.7 53L460.2 50.6L476.4 54.3L473.9 56.8z" fill="#5cff00" stroke="#5cff00"/><path d="M473.9 56.8L476.4 54.3L492.5 57.9L490 60.4z" fill="#5cff00" stroke="#5cff00"/><path d="M490 60.4L492.5 57.9L508.6 61.4L506.1 63.9z" fill="#5eff00" stroke="#5eff00"/><path d="M506.1 63.9L508.6 61.4L524.8 64.7L522.2 67.3z" fill="#61ff00" stroke="#61ff00"/><path d="M522.2 67.3L524.8 64.7L540.9 67.9L538.3 70.5z" fill="#65ff00" stroke="#65ff00"/><path d="M538.3 70.5L540.9 67.9L557.1 71L554.5 73.7z" fill="#6bff00" stroke="#6bff00"/><path d="M554.5 73.7L557.1 71L573.2 74L570.6 76.7z" fill="#73ff00" stroke="#73ff00"/><path d="M570.6 76.7L573.2 74L589.4 76.8L586.8 79.5z" fill="#7cff00" stroke="#7cff00"/><path d="M460.2 50.6L462.7 48.3L478.9 52L476.4 54.3z" fill="#75ff00" stroke="#75ff00"/><path d="M476.4 54.3L478.9 52L495 55.5L492.5 57.9z" fill="#75ff00" stroke="#75ff00"/><path d="M492.5 57.9L495 55.5L511.2 59L508.6 61.4z" fill="#76ff00" stroke="#76ff00"/><path d="M508.6 61.4L511.2 59L527.3 62.3L524.8 64.7z" fill="#79ff00" stroke="#79ff00"/><path d="M524.8 64.7L527.3 62.3L543.5 65.4L540.9 67.9z" fill="#7eff00" stroke="#7eff00"/><path d="M540.9 67.9L543.5 65.4L559.7 68.5L557.1 71z" fill="#84ff00" stroke="#84ff00"/><path d="M557.1 71L559.7 68.5L575.8 71.3L573.2 74z" fill="#8cff00" stroke="#8cff00"/><path d="M573.2 74L575.8 71.3L592 74.1L589.4 76.8z" fill="#95ff00" stroke="#95ff00"/><path d="M462.7 48.3L465.2 46L481.4 49.6L478.9 52z" fill="#8dff00" stroke="#8dff00"/><path d="M478.9 52L481.4 49.6L497.6 53.2L495 55.5z" fill="#8dff00" stroke="#8dff00"/><path d="M495 55.5L497.6 53.2L513.7 56.6L511.2 59z" fill="#8eff00" stroke="#8eff00"/><path d="M511.2 59L513.7 56.6L529.9 59.9L527.3 62.3z" fill="#91ff00" stroke="#91ff00"/><path d="M527.3 62.3L529.9 59.9L546.1 63L543.5 65.4z" fill="#95ff00" stroke="#95ff00"/><path d="M543.5 65.4L546.1 63L562.3 66L559.7 68.5z" fill="#9cff00" stroke="#9cff00"/><path d="M559.7 68.5L562.3 66L578.4 68.8L575.8 71.3z" fill="#a3ff00" stroke="#a3ff00"/><path d="M575.8 71.3L578.4 68.8L594.6 71.5L592 74.1z" fill="#adff00" stroke="#adff00"/><path d="M465.2 46L467.8 43.7L483.9 47.4L481.4 49.6z" fill="#a5ff00" stroke="#a5ff00"/><path d="M481.4 49.6L483.9 47.4L500.1 50.9L497.6 53.2z" fill="#a4ff00" stroke="#a4ff00"/><path d="M497.6 53.2L500.1 50.9L516.3 54.3L513.7 56.6z" fill="#a5ff00" stroke="#a5ff00"/><path d="M513.7 56.6L516.3 54.3L532.5 57.5L529.9 59.9z" fill="#a8ff00" stroke="#a8ff00"/><path d="M529.9 59.9L532.5 57.5L548.7 60.6L546.1 63z" fill="#acff00" stroke="#acff00"/><path d="M546.1 63L548.7 60.6L564.9 63.5L562.3 66z" fill="#b3ff00" stroke="#b3ff00"/><path d="M562.3 66L564.9 63.5L581.1 66.3L578.4 68.8z" fill="#baff00" stroke="#baff00"/><path d="M578.4 68.8L581.1 66.3L597.3 68.9L594.6 71.5z" fill="#c4ff00" stroke="#c4ff00"/><path d="M467.8 43.7L470.3 41.5L486.5 45.2L483.9 47.4z" fill="#bcff00" stroke="#bcff00"/><path d="M483.9 47.4L486.5 45.2L502.7 48.7L500.1 50.9z" fill="#bbff00" stroke="#bbff00"/><path d="M500.1 50.9L502.7 48.7L518.9 52L516.3 54.3z" fill="#bcff00" stroke="#bcff00"/><path d="M516.3 54.3L518.9 52L535.1 55.2L532.5 57.5z" fill="#beff00" stroke="#beff00"/><path d="M532.5 57.5L535.1 55.2L551.3 58.3L548.7 60.6z" fill="#c3ff00" stroke="#c3ff00"/><path d="M548.7 60.6L551.3 58.3L567.5 61.2L564.9 63.5z" fill="#c9ff00" stroke="#c9ff00"/><path d="M564.9 63.5L567.5 61.2L583.7 63.9L581.1 66.3z" fill="#d1ff00" stroke="#d1ff00"/><path d="M581.1 66.3L583.7 63.9L599.9 66.5L597.3 68.9z" fill="#daff00" stroke="#daff00"/><path d="M470.3 41.5L472.8 39.4L489 43L486.5 45.2z" fill="#d3ff00" stroke="#d3ff00"/><path d="M486.5 45.2L489 43L505.2 46.5L502.7 48.7z" fill="#d2ff00" stroke="#d2ff00"/><path d="M502.7 48.7L505.2 46.5L521.4 49.8L518.9 52z" fill="#d2ff00" stroke="#d2ff00"/><path d="M518.9 52L521.4 49.8L537.6 53L535.1 55.2z" fill="#d4ff00" stroke="#d4ff00"/><path d="M535.1 55.2L537.6 53L553.9 56L551.3 58.3z" fill="#d8ff00" stroke="#d8ff00"/><path d="M551.3 58.3L553.9 56L570.1 58.9L567.5 61.2z" fill="#deff00" stroke="#deff00"/><path d="M567.5 61.2L570.1 58.9L586.3 61.6L583.7 63.9z" fill="#e6ff00" stroke="#e6ff00"/><path d="M583.7 63.9L586.3 61.6L602.5 64.1L599.9 66.5z" fill="#f0ff00" stroke="#f0ff00"/><path d="M472.8 39.4L475.4 37.3L491.6 40.9L489 43z" fill="#e9ff00" stroke="#e9ff00"/><path d="M489 43L491.6 40.9L507.8 44.4L505.2 46.5z" fill="#e7ff00" stroke="#e7ff00"/><path d="M505.2 46.5L507.8 44.4L524 47.7L521.4 49.8z" fill="#e7ff00" stroke="#e7ff00"/><path d="M521.4 49.8L524 47.7L540.2 50.8L537.6 53z" fill="#e9ff00" stroke="#e9ff00"/><path d="M537.6 53L540.2 50.8L556.5 53.8L553.9 56z" fill="#edff00" stroke="#edff00"/><path d="M553.9 56L556.5 53.8L572.7 56.7L570.1 58.9z" fill="#f3ff00" stroke="#f3ff00"/><path d="M570.1 58.9L572.7 56.7L588.9 59.3L586.3 61.6z" fill="#fbff00" stroke="#fbff00"/><path d="M586.3 61.6L588.9 59.3L605.2 61.8L602.5 64.1z" fill="#fff900" stroke="#fff900"/><path d="M475.4 37.3L477.9 35.2L494.1 38.8L491.6 40.9z" fill="#ffff00" stroke="#ffff00"/><path d="M491.6 40.9L494.1 38.8L510.4 42.3L507.8 44.4z" fill="#fcff00" stroke="#fcff00"/><path d="M507.8 44.4L510.4 42.3L526.6 45.6L524 47.7z" fill="#fcff00" stroke="#fcff00"/><path d="M524 47.7L526.6 45.6L542.8 48.7L540.2 50.8z" fill="#feff00" stroke="#feff00"/><path d="M540.2 50.8L542.8 48.7L559.1 51.7L556.5 53.8z" fill="#fffd00" stroke="#fffd00"/><path d="M556.5 53.8L559.1 51.7L575.3 54.5L572.7 56.7z" fill="#fff700" stroke="#fff700"/><path d="M572.7 56.7L575.3 54.5L591.5 57.1L588.9 59.3z" fill="#ffee00" stroke="#ffee00"/><path d="M588.9 59.3L591.5 57.1L607.8 59.6L605.2 61.8z" fill="#ffe400" stroke="#ffe400"/><path d="M477.9 35.2L480.5 33.2L496.7 36.8L494.1 38.8z" fill="#ffe900" stroke="#ffe900"/><path d="M494.1 38.8L496.7 36.8L512.9 40.3L510.4 42.3z" fill="#ffec00" stroke="#ffec00"/><path d="M510.4 42.3L512.9 40.3L529.2 43.6L526.6 45.6z" fill="#ffed00" stroke="#ffed00"/><path d="M526.6 45.6L529.2 43.6L545.4 46.7L542.8 48.7z" fill="#ffec00" stroke="#ffec00"/><path d="M542.8 48.7L545.4 46.7L561.7 49.7L559.1 51.7z" fill="#ffe800" stroke="#ffe800"/><path d="M559.1 51.7L561.7 49.7L577.9 52.4L575.3 54.5z" fill="#ffe200" stroke="#ffe200"/><path d="M575.3 54.5L577.9 52.4L594.2 55L591.5 57.1z" fill="#ffda00" stroke="#ffda00"/><path d="M591.5 57.1L594.2 55L610.5 57.4L607.8 59.6z" fill="#ffd000" stroke="#ffd000"/><path d="M480.5 33.2L483 31.3L499.3 34.9L496.7 36.8z" fill="#ffd400" stroke="#ffd400"/><path d="M496.7 36.8L499.3 34.9L515.5 38.3L512.9 40.3z" fill="#ffd700" stroke="#ffd700"/><path d="M512.9 40.3L515.5 38.3L531.8 41.6L529.2 43.6z" fill="#ffd900" stroke="#ffd900"/><path d="M529.2 43.6L531.8 41.6L548 44.7L545.4 46.7z" fill="#ffd800" stroke="#ffd800"/><path d="M545.4 46.7L548 44.7L564.3 47.7L561.7 49.7z" fill="#ffd400" stroke="#ffd400"/><path d="M561.7 49.7L564.3 47.7L580.5 50.4L577.9 52.4z" fill="#ffcf00" stroke="#ffcf00"/><path d="M577.9 52.4L580.5 50.4L596.8 53L594.2 55z" fill="#ffc700" stroke="#ffc700"/><path d="M594.2 55L596.8 53L613.1 55.3L610.5 57.4z" fill="#ffbc00" stroke="#ffbc00"/><path d="M483 31.3L485.6 29.4L501.9 33L499.3 34.9z" fill="#ffbf00" stroke="#ffbf00"/><path d="M499.3 34.9L501.9 33L518.1 36.5L515.5 38.3z" fill="#ffc300" stroke="#ffc300"/><path d="M515.5 38.3L518.1 36.5L534.4 39.7L531.8 41.6z" fill="#ffc500" stroke="#ffc500"/><path d="M531.8 41.6L534.4 39.7L550.6 42.8L548 44.7z" fill="#ffc400" stroke="#ffc400"/><path d="M548 44.7L550.6 42.8L566.9 45.7L564.3 47.7z" fill="#ffc100" stroke="#ffc100"/><path d="M564.3 47.7L566.9 45.7L583.2 48.4L580.5 50.4z" fill="#ffbc00" stroke="#ffbc00"/><path d="M580.5 50.4L583.2 48.4L599.4 51L596.8 53z" fill="#ffb400" stroke="#ffb400"/><path d="M596.8 53L599.4 51L615.7 53.3L613.1 55.3z" fill="#ffaa00" stroke="#ffaa00"/><path d="M485.6 29.4L488.2 27.6L504.4 31.2L501.9 33z" fill="#ffab00" stroke="#ffab00"/><path d="M501.9 33L504.4 31.2L520.7 34.6L518.1 36.5z" fill="#ffb000" stroke="#ffb000"/><path d="M518.1 36.5L520.7 34.6L537 37.9L534.4 39.7z" fill="#ffb200" stroke="#ffb200"/><path d="M534.4 39.7L537 37.9L553.2 41L550.6 42.8z" fill="#ffb200" stroke="#ffb200"/><path d="M550.6 42.8L553.2 41L569.5 43.9L566.9 45.7z" fill="#ffaf00" stroke="#ffaf00"/><path d="M566.9 45.7L569.5 43.9L585.8 46.6L583.2 48.4z" fill="#ffaa00" stroke="#ffaa00"/><path d="M583.2 48.4L585.8 46.6L602.1 49L599.4 51z" fill="#ffa200" stroke="#ffa200"/><path d="M599.4 51L602.1 49L618.4 51.3L615.7 53.3z" fill="#ff9800" stroke="#ff9800"/><path d="M488.2 27.6L490.7 25.8L507 29.4L504.4 31.2z" fill="#ff9800" stroke="#ff9800"/><path d="M504.4 31.2L507 29.4L523.3 32.9L520.7 34.6z" fill="#ff9e00" stroke="#ff9e00"/><path d="M520.7 34.6L523.3 32.9L539.6 36.1L537 37.9z" fill="#ffa000" stroke="#ffa000"/><path d="M537 37.9L539.6 36.1L555.8 39.2L553.2 41z" fill="#ffa000" stroke="#ffa000"/><path d="M553.2 41L555.8 39.2L572.1 42.1L569.5 43.9z" fill="#ff9e00" stroke="#ff9e00"/><path d="M569.5 43.9L572.1 42.1L588.4 44.7L585.8 46.6z" fill="#ff9900" stroke="#ff9900"/><path d="M585.8 46.6L588.4 44.7L604.7 47.2L602.1 49z" fill="#ff9100" stroke="#ff9100"/><path d="M602.1 49L604.7 47.2L621 49.4L618.4 51.3z" fill="#ff8700" stroke="#ff8700"/><path d="M490.7 25.8L493.3 24.1L509.6 27.7L507 29.4z" fill="#ff8600" stroke="#ff8600"/><path d="M507 29.4L509.6 27.7L525.9 31.2L523.3 32.9z" fill="#ff8c00" stroke="#ff8c00"/><path d="M523.3 32.9L525.9 31.2L542.2 34.4L539.6 36.1z" fill="#ff8f00" stroke="#ff8f00"/><path d="M539.6 36.1L542.2 34.4L558.5 37.5L555.8 39.2z" fill="#ff8f00" stroke="#ff8f00"/><path d="M555.8 39.2L558.5 37.5L574.7 40.3L572.1 42.1z" fill="#ff8d00" stroke="#ff8d00"/><path d="M572.1 42.1L574.7 40.3L591 43L588.4 44.7z" fill="#ff8900" stroke="#ff8900"/><path d="M588.4 44.7L591 43L607.3 45.4L604.7 47.2z" fill="#ff8100" stroke="#ff8100"/><path d="M604.7 47.2L607.3 45.4L623.7 47.6L621 49.4z" fill="#ff7700" stroke="#ff7700"/><path d="M493.3 24.1L495.9 22.5L512.2 26.1L509.6 27.7z" fill="#ff7400" stroke="#ff7400"/><path d="M509.6 27.7L512.2 26.1L528.5 29.5L525.9 31.2z" fill="#ff7b00" stroke="#ff7b00"/><path d="M525.9 31.2L528.5 29.5L544.8 32.8L542.2 34.4z" fill="#ff7e00" stroke="#ff7e00"/><path d="M542.2 34.4L544.8 32.8L561.1 35.8L558.5 37.5z" fill="#ff7f00" stroke="#ff7f00"/><path d="M558.5 37.5L561.1 35.8L577.4 38.7L574.7 40.3z" fill="#ff7e00" stroke="#ff7e00"/><path d="M574.7 40.3L577.4 38.7L593.7 41.3L591 43z" fill="#ff7900" stroke="#ff7900"/><path d="M591 43L593.7 41.3L610 43.7L607.3 45.4z" fill="#ff7200" stroke="#ff7200"/><path d="M607.3 45.4L610 43.7L626.3 45.9L623.7 47.6z" fill="#ff6800" stroke="#ff6800"/><path d="M495.9 22.5L498.5 20.9L514.8 24.5L512.2 26.1z" fill="#ff6400" stroke="#ff6400"/><path d="M512.2 26.1L514.8 24.5L531.1 27.9L528.5 29.5z" fill="#ff6b00" stroke="#ff6b00"/><path d="M528.5 29.5L531.1 27.9L547.4 31.2L544.8 32.8z" fill="#ff6f00" stroke="#ff6f00"/><path d="M544.8 32.8L547.4 31.2L563.7 34.2L561.1 35.8z" fill="#ff7000" stroke="#ff7000"/><path d="M561.1 35.8L563.7 34.2L580 37L577.4 38.7z" fill="#ff6f00" stroke="#ff6f00"/><path d="M577.4 38.7L580 37L596.3 39.6L593.7 41.3z" fill="#ff6a00" stroke="#ff6a00"/><path d="M593.7 41.3L596.3 39.6L612.6 42L610 43.7z" fill="#ff6300" stroke="#ff6300"/><path d="M610 43.7L612.6 42L629 44.2L626.3 45.9z" fill="#ff5900" stroke="#ff5900"/><path d="M498.5 20.9L501.1 19.4L517.4 23L514.8 24.5z" fill="#ff5400" stroke="#ff5400"/><path d="M514.8 24.5L517.4 23L533.7 26.4L531.1 27.9z" fill="#ff5b00" stroke="#ff5b00"/><path d="M531.1 27.9L533.7 26.4L550 29.7L547.4 31.2z" fill="#ff6000" stroke="#ff6000"/><path d="M547.4 31.2L550 29.7L566.3 32.7L563.7 34.2z" fill="#ff6200" stroke="#ff6200"/><path d="M563.7 34.2L566.3 32.7L582.6 35.5L580 37z" fill="#ff6000" stroke="#ff6000"/><path d="M580 37L582.6 35.5L598.9 38.1L596.3 39.6z" fill="#ff5c00" stroke="#ff5c00"/><path d="M596.3 39.6L598.9 38.1L615.3 40.4L612.6 42z" fill="#ff5500" stroke="#ff5500"/><path d="M612.6 42L615.3 40.4L631.6 42.5L629 44.2z" fill="#ff4b00" stroke="#ff4b00"/><path d="M501.1 19.4L503.7 17.9L520 21.6L517.4 23z" fill="#ff4500" stroke="#ff4500"/><path d="M517.4 23L520 21.6L536.3 25L533.7 26.4z" fill="#ff4d00" stroke="#ff4d00"/><path d="M533.7 26.4L536.3 25L552.6 28.2L550 29.7z" fill="#ff5200" stroke="#ff5200"/><path d="M550 29.7L552.6 28.2L568.9 31.2L566.3 32.7z" fill="#ff5400" stroke="#ff5400"/><path d="M566.3 32.7L568.9 31.2L585.2 34L582.6 35.5z" fill="#ff5300" stroke="#ff5300"/><path d="M582.6 35.5L585.2 34L601.6 36.6L598.9 38.1z" fill="#ff4f00" stroke="#ff4f00"/><path d="M598.9 38.1L601.6 36.6L617.9 38.9L615.3 40.4z" fill="#ff4800" stroke="#ff4800"/><path d="M615.3 40.4L617.9 38.9L634.3 41L631.6 42.5z" fill="#ff3e00" stroke="#ff3e00"/><path d="M503.7 17.9L506.3 16.5L522.6 20.2L520 21.6z" fill="#ff3700" stroke="#ff3700"/><path d="M520 21.6L522.6 20.2L538.9 23.6L536.3 25z" fill="#ff3f00" stroke="#ff3f00"/><path d="M536.3 25L538.9 23.6L555.3 26.8L552.6 28.2z" fill="#ff4500" stroke="#ff4500"/><path d="M552.6 28.2L555.3 26.8L571.6 29.8L568.9 31.2z" fill="#ff4700" stroke="#ff4700"/><path d="M568.9 31.2L571.6 29.8L587.9 32.6L585.2 34z" fill="#ff4700" stroke="#ff4700"/><path d="M585.2 34L587.9 32.6L604.2 35.1L601.6 36.6z" fill="#ff4300" stroke="#ff4300"/><path d="M601.6 36.6L604.2 35.1L620.5 37.4L617.9 38.9z" fill="#ff3c00" stroke="#ff3c00"/><path d="M617.9 38.9L620.5 37.4L636.9 39.5L634.3 41z" fill="#ff3200" stroke="#ff3200"/><path d="M506.3 16.5L508.9 15.2L525.2 18.9L522.6 20.2z" fill="#ff2a00" stroke="#ff2a00"/><path d="M522.6 20.2L525.2 18.9L541.6 22.3L538.9 23.6z" fill="#ff3300" stroke="#ff3300"/><path d="M538.9 23.6L541.6 22.3L557.9 25.5L555.3 26.8z" fill="#ff3900" stroke="#ff3900"/><path d="M555.3 26.8L557.9 25.5L574.2 28.5L571.6 29.8z" fill="#ff3b00" stroke="#ff3b00"/><path d="M571.6 29.8L574.2 28.5L590.5 31.2L587.9 32.6z" fill="#ff3b00" stroke="#ff3b00"/><path d="M587.9 32.6L590.5 31.2L606.8 33.7L604.2 35.1z" fill="#ff3700" stroke="#ff3700"/><path d="M604.2 35.1L606.8 33.7L623.2 36L620.5 37.4z" fill="#ff3000" stroke="#ff3000"/><path d="M620.5 37.4L623.2 36L639.5 38L636.9 39.5z" fill="#ff2600" stroke="#ff2600"/><path d="M508.9 15.2L511.5 14L527.8 17.6L525.2 18.9z" fill="#ff1d00" stroke="#ff1d00"/><path d="M525.2 18.9L527.8 17.6L544.2 21L541.6 22.3z" fill="#ff2700" stroke="#ff2700"/><path d="M541.6 22.3L544.2 21L560.5 24.2L557.9 25.5z" fill="#ff2d00" stroke="#ff2d00"/><path d="M557.9 25.5L560.5 24.2L576.8 27.2L574.2 28.5z" fill="#ff3000" stroke="#ff3000"/><path d="M574.2 28.5L576.8 27.2L593.1 29.9L590.5 31.2z" fill="#ff3000" stroke="#ff3000"/><path d="M590.5 31.2L593.1 29.9L609.5 32.4L606.8 33.7z" fill="#ff2c00" stroke="#ff2c00"/><path d="M606.8 33.7L609.5 32.4L625.8 34.7L623.2 36z" fill="#ff2600" stroke="#ff2600"/><path d="M623.2 36L625.8 34.7L642.2 36.6L639.5 38z" fill="#ff1c00" stroke="#ff1c00"/><path d="M511.5 14L514.1 12.8L530.5 16.4L527.8 17.6z" fill="#ff1200" stroke="#ff1200"/><path d="M527.8 17.6L530.5 16.4L546.8 19.9L544.2 21z" fill="#ff1c00" stroke="#ff1c00"/><path d="M544.2 21L546.8 19.9L563.1 23L560.5 24.2z" fill="#ff2300" stroke="#ff2300"/><path d="M560.5 24.2L563.1 23L579.4 26L576.8 27.2z" fill="#ff2600" stroke="#ff2600"/><path d="M576.8 27.2L579.4 26L595.8 28.7L593.1 29.9z" fill="#ff2600" stroke="#ff2600"/><path d="M593.1 29.9L595.8 28.7L612.1 31.2L609.5 32.4z" fill="#ff2200" stroke="#ff2200"/><path d="M609.5 32.4L612.1 31.2L628.5 33.4L625.8 34.7z" fill="#ff1c00" stroke="#ff1c00"/><path d="M625.8 34.7L628.5 33.4L644.8 35.3L642.2 36.6z" fill="#ff1200" stroke="#ff1200"/><path d="M514.1 12.8L516.7 11.7L533.1 15.3L530.5 16.4z" fill="#ff0800" stroke="#ff0800"/><path d="M530.5 16.4L533.1 15.3L549.4 18.7L546.8 19.9z" fill="#ff1200" stroke="#ff1200"/><path d="M546.8 19.9L549.4 18.7L565.7 21.9L563.1 23z" fill="#ff1900" stroke="#ff1900"/><path d="M563.1 23L565.7 21.9L582.1 24.8L579.4 26z" fill="#ff1c00" stroke="#ff1c00"/><path d="M579.4 26L582.1 24.8L598.4 27.5L595.8 28.7z" fill="#ff1d00" stroke="#ff1d00"/><path d="M595.8 28.7L598.4 27.5L614.7 30L612.1 31.2z" fill="#ff1900" stroke="#ff1900"/><path d="M612.1 31.2L614.7 30L631.1 32.1L628.5 33.4z" fill="#ff1200" stroke="#ff1200"/><path d="M628.5 33.4L631.1 32.1L647.5 34L644.8 35.3z" fill="#ff0800" stroke="#ff0800"/><path d="M516.7 11.7L519.4 10.7L535.7 14.3L533.1 15.3z" fill="#ff0000" stroke="#ff0000"/><path d="M533.1 15.3L535.7 14.3L552 17.7L549.4 18.7z" fill="#ff0900" stroke="#ff0900"/><path d="M549.4 18.7L552 17.7L568.4 20.9L565.7 21.9z" fill="#ff1000" stroke="#ff1000"/><path d="M565.7 21.9L568.4 20.9L584.7 23.8L582.1 24.8z" fill="#ff1400" stroke="#ff1400"/><path d="M582.1 24.8L584.7 23.8L601 26.4L598.4 27.5z" fill="#ff1400" stroke="#ff1400"/><path d="M598.4 27.5L601 26.4L617.4 28.8L614.7 30z" fill="#ff1100" stroke="#ff1100"/><path d="M614.7 30L617.4 28.8L633.7 30.9L631.1 32.1z" fill="#ff0a00" stroke="#ff0a00"/><path d="M631.1 32.1L633.7 30.9L650.1 32.8L647.5 34z" fill="#ff0000" stroke="#ff0000"/><path d="M519.4 10.7L522 9.7L538.3 13.3L535.7 14.3z" fill="#ff0000" stroke="#ff0000"/><path d="M535.7 14.3L538.3 13.3L554.7 16.7L552 17.7z" fill="#ff0100" stroke="#ff0100"/><path d="M552 17.7L554.7 16.7L571 19.9L568.4 20.9z" fill="#ff0800" stroke="#ff0800"/><path d="M568.4 20.9L571 19.9L587.3 22.7L584.7 23.8z" fill="#ff0c00" stroke="#ff0c00"/><path d="M584.7 23.8L587.3 22.7L603.7 25.4L601 26.4z" fill="#ff0d00" stroke="#ff0d00"/><path d="M601 26.4L603.7 25.4L620 27.7L617.4 28.8z" fill="#ff0900" stroke="#ff0900"/><path d="M617.4 28.8L620 27.7L636.4 29.8L633.7 30.9z" fill="#ff0200" stroke="#ff0200"/><path d="M633.7 30.9L636.4 29.8L652.8 31.6L650.1 32.8z" fill="#ff0000" stroke="#ff0000"/><path d="M522 9.7L524.6 8.8L541 12.4L538.3 13.3z" fill="#ff0000" stroke="#ff0000"/><path d="M538.3 13.3L541 12.4L557.3 15.8L554.7 16.7z" fill="#ff0000" stroke="#ff0000"/><path d="M554.7 16.7L557.3 15.8L573.6 18.9L571 19.9z" fill="#ff0200" stroke="#ff0200"/><path d="M571 19.9L573.6 18.9L590 21.8L587.3 22.7z" fill="#ff0500" stroke="#ff0500"/><path d="M587.3 22.7L590 21.8L606.3 24.4L603.7 25.4z" fill="#ff0600" stroke="#ff0600"/><path d="M603.7 25.4L606.3 24.4L622.6 26.7L620 27.7z" fill="#ff0200" stroke="#ff0200"/><path d="M620 27.7L622.6 26.7L639 28.7L636.4 29.8z" fill="#ff0000" stroke="#ff0000"/><path d="M636.4 29.8L639 28.7L655.4 30.5L652.8 31.6z" fill="#ff0000" stroke="#ff0000"/><path d="M524.6 8.8L527.2 8L543.6 11.6L541 12.4z" fill="#ff0000" stroke="#ff0000"/><path d="M541 12.4L543.6 11.6L559.9 15L557.3 15.8z" fill="#ff0000" stroke="#ff0000"/><path d="M557.3 15.8L559.9 15L576.3 18.1L573.6 18.9z" fill="#ff0000" stroke="#ff0000"/><path d="M573.6 18.9L576.3 18.1L592.6 20.9L590 21.8z" fill="#ff0000" stroke="#ff0000"/><path d="M590 21.8L592.6 20.9L608.9 23.5L606.3 24.4z" fill="#ff0000" stroke="#ff0000"/><path d="M606.3 24.4L608.9 23.5L625.3 25.7L622.6 26.7z" fill="#ff0000" stroke="#ff0000"/><path d="M622.6 26.7L625.3 25.7L641.6 27.7L639 28.7z" fill="#ff0000" stroke="#ff0000"/><path d="M639 28.7L641.6 27.7L658 29.4L655.4 30.5z" fill="#ff0000" stroke="#ff0000"/><path d="M527.2 8L529.9 7.3L546.2 10.9L543.6 11.6z" fill="#ff0000" stroke="#ff0000"/><path d="M543.6 11.6L546.2 10.9L562.6 14.2L559.9 15z" fill="#ff0000" stroke="#ff0000"/><path d="M559.9 15L562.6 14.2L578.9 17.3L576.3 18.1z" fill="#ff0000" stroke="#ff0000"/><path d="M576.3 18.1L578.9 17.3L595.2 20.1L592.6 20.9z" fill="#ff0000" stroke="#ff0000"/><path d="M592.6 20.9L595.2 20.1L611.5 22.6L608.9 23.5z" fill="#ff0000" stroke="#ff0000"/><path d="M608.9 23.5L611.5 22.6L627.9 24.8L625.3 25.7z" fill="#ff0000" stroke="#ff0000"/><path d="M625.3 25.7L627.9 24.8L644.3 26.8L641.6 27.7z" fill="#ff0000" stroke="#ff0000"/><path d="M641.6 27.7L644.3 26.8L660.7 28.4L658 29.4z" fill="#ff0000" stroke="#ff0000"/><path d="M529.9 7.3L532.5 6.6L548.8 10.2L546.2 10.9z" fill="#ff0000" stroke="#ff0000"/><path d="M546.2 10.9L548.8 10.2L565.2 13.5L562.6 14.2z" fill="#ff0000" stroke="#ff0000"/><path d="M562.6 14.2L565.2 13.5L581.5 16.5L578.9 17.3z" fill="#ff0000" stroke="#ff0000"/><path d="M578.9 17.3L581.5 16.5L597.8 19.3L595.2 20.1z" fill="#ff0000" stroke="#ff0000"/><path d="M595.2 20.1L597.8 19.3L614.2 21.8L611.5 22.6z" fill="#ff0000" stroke="#ff0000"/><path d="M611.5 22.6L614.2 21.8L630.5 24L627.9 24.8z" fill="#ff0000" stroke="#ff0000"/><path d="M627.9 24.8L630.5 24L646.9 25.9L644.3 26.8z" fill="#ff0000" stroke="#ff0000"/><path d="M644.3 26.8L646.9 25.9L663.3 27.4L660.7 28.4z" fill="#ff0000" stroke="#ff0000"/><path d="M532.5 6.6L535.1 6L551.5 9.6L548.8 10.2z" fill="#ff0000" stroke="#ff0000"/><path d="M548.8 10.2L551.5 9.6L567.8 12.8L565.2 13.5z" fill="#ff0000" stroke="#ff0000"/><path d="M565.2 13.5L567.8 12.8L584.1 15.8L581.5 16.5z" fill="#ff0000" stroke="#ff0000"/><path d="M581.5 16.5L584.1 15.8L600.5 18.6L597.8 19.3z" fill="#ff0000" stroke="#ff0000"/><path d="M597.8 19.3L600.5 18.6L616.8 21L614.2 21.8z" fill="#ff0000" stroke="#ff0000"/><path d="M614.2 21.8L616.8 21L633.2 23.2L630.5 24z" fill="#ff0000" stroke="#ff0000"/><path d="M630.5 24L633.2 23.2L649.5 25L646.9 25.9z" fill="#ff0000" stroke="#ff0000"/><path d="M646.9 25.9L649.5 25L665.9 26.5L663.3 27.4z" fill="#ff0000" stroke="#ff0000"/><path d="M535.1 6L537.8 5.5L554.1 9L551.5 9.6z" fill="#ff0000" stroke="#ff0000"/><path d="M551.5 9.6L554.1 9L570.4 12.3L567.8 12.8z" fill="#ff0000" stroke="#ff0000"/><path d="M567.8 12.8L570.4 12.3L586.8 15.2L584.1 15.8z" fill="#ff0000" stroke="#ff0000"/><path d="M584.1 15.8L586.8 15.2L603.1 17.9L600.5 18.6z" fill="#ff0000" stroke="#ff0000"/><path d="M600.5 18.6L603.1 17.9L619.4 20.3L616.8 21z" fill="#ff0000" stroke="#ff0000"/><path d="M616.8 21L619.4 20.3L635.8 22.4L633.2 23.2z" fill="#ff0000" stroke="#ff0000"/><path d="M633.2 23.2L635.8 22.4L652.2 24.2L649.5 25z" fill="#ff0000" stroke="#ff0000"/><path d="M649.5 25L652.2 24.2L668.6 25.6L665.9 26.5z" fill="#ff0000" stroke="#ff0000"/><path d="M537.8 5.5L540.4 5.1L556.7 8.6L554.1 9z" fill="#ff0000" stroke="#ff0000"/><path d="M554.1 9L556.7 8.6L573.1 11.8L570.4 12.3z" fill="#ff0000" stroke="#ff0000"/><path d="M570.4 12.3L573.1 11.8L589.4 14.7L586.8 15.2z" fill="#ff0000" stroke="#ff0000"/><path d="M586.8 15.2L589.4 14.7L605.7 17.3L603.1 17.9z" fill="#ff0000" stroke="#ff0000"/><path d="M603.1 17.9L605.7 17.3L622.1 19.7L619.4 20.3z" fill="#ff0000" stroke="#ff0000"/><path d="M619.4 20.3L622.1 19.7L638.4 21.7L635.8 22.4z" fill="#ff0000" stroke="#ff0000"/><path d="M635.8 22.4L638.4 21.7L654.8 23.4L652.2 24.2z" fill="#ff0000" stroke="#ff0000"/><path d="M652.2 24.2L654.8 23.4L671.2 24.8L668.6 25.6z" fill="#ff0000" stroke="#ff0000"/></g>
<path d="M414.1 103.1L417 99.3L420 95.5L423 91.8L425.9 88.1L428.9 84.4L432 80.8L435 77.3L438 73.8L441.1 70.4L444.1 67.1L447.2 63.8L450.3 60.5L453.4 57.4L456.5 54.3L459.6 51.2L462.7 48.3L465.9 45.4L469 42.6L472.2 39.9L475.4 37.3L478.5 34.7L481.7 32.2L484.9 29.9L488.2 27.6L491.4 25.4L494.6 23.3L497.8 21.3L501.1 19.4L504.3 17.6L507.6 15.9L510.9 14.3L514.1 12.8L517.4 11.4L520.7 10.2L524 9L527.2 8L530.5 7.1L533.8 6.3L537.1 5.6L540.4 5.1M416.6 103.9L419.6 100.1L422.5 96.3L425.5 92.5L428.5 88.8L431.5 85.1L434.5 81.5L437.5 78L440.6 74.5L443.6 71.1L446.7 67.7L449.8 64.4L452.9 61.1L456 58L459.1 54.9L462.2 51.8L465.3 48.9L468.5 46L471.6 43.2L474.8 40.5L478 37.8L481.1 35.3L484.3 32.8L487.5 30.4L490.8 28.2L494 26L497.2 23.9L500.5 21.9L503.7 20L506.9 18.2L510.2 16.5L513.5 14.9L516.7 13.4L520 12L523.3 10.8L526.6 9.6L529.9 8.6L533.1 7.7L536.4 6.9L539.7 6.2L543 5.7M419.1 104.7L422.1 100.8L425.1 97L428 93.2L431 89.5L434 85.8L437.1 82.2L440.1 78.6L443.1 75.1L446.2 71.7L449.3 68.3L452.3 65L455.4 61.8L458.5 58.6L461.6 55.5L464.8 52.4L467.9 49.5L471.1 46.6L474.2 43.8L477.4 41.1L480.6 38.4L483.7 35.9L486.9 33.4L490.1 31L493.4 28.7L496.6 26.6L499.8 24.5L503.1 22.5L506.3 20.6L509.6 18.8L512.8 17.1L516.1 15.5L519.4 14L522.6 12.6L525.9 11.4L529.2 10.2L532.5 9.2L535.8 8.3L539.1 7.5L542.3 6.8L545.6 6.2M421.7 105.5L424.6 101.6L427.6 97.8L430.6 94L433.6 90.2L436.6 86.5L439.6 82.9L442.6 79.3L445.7 75.8L448.7 72.3L451.8 69L454.9 65.6L458 62.4L461.1 59.2L464.2 56.1L467.3 53L470.5 50.1L473.6 47.2L476.8 44.4L480 41.7L483.2 39L486.3 36.5L489.5 34L492.8 31.6L496 29.3L499.2 27.1L502.4 25L505.7 23L508.9 21.1L512.2 19.3L515.4 17.7L518.7 16.1L522 14.6L525.2 13.2L528.5 12L531.8 10.8L535.1 9.8L538.4 8.9L541.7 8L545 7.4L548.2 6.8M424.2 106.3L427.2 102.4L430.1 98.5L433.1 94.7L436.1 90.9L439.1 87.2L442.2 83.6L445.2 80L448.2 76.4L451.3 73L454.4 69.6L457.5 66.2L460.6 63L463.7 59.8L466.8 56.7L469.9 53.6L473.1 50.7L476.2 47.8L479.4 45L482.6 42.2L485.7 39.6L488.9 37L492.1 34.6L495.4 32.2L498.6 29.9L501.8 27.7L505 25.6L508.3 23.6L511.5 21.7L514.8 19.9L518 18.2L521.3 16.6L524.6 15.2L527.9 13.8L531.1 12.5L534.4 11.4L537.7 10.3L541 9.4L544.3 8.6L547.6 7.9L550.9 7.4M426.7 107.1L429.7 103.1L432.7 99.3L435.7 95.4L438.7 91.6L441.7 87.9L444.7 84.2L447.8 80.6L450.8 77.1L453.9 73.6L456.9 70.2L460 66.9L463.1 63.6L466.3 60.4L469.4 57.3L472.5 54.2L475.7 51.2L478.8 48.4L482 45.5L485.2 42.8L488.3 40.2L491.5 37.6L494.7 35.1L498 32.8L501.2 30.5L504.4 28.3L507.6 26.2L510.9 24.2L514.1 22.3L517.4 20.5L520.7 18.8L523.9 17.2L527.2 15.7L530.5 14.4L533.8 13.1L537 11.9L540.3 10.9L543.6 10L546.9 9.2L550.2 8.5L553.5 7.9M429.3 107.9L432.2 103.9L435.2 100L438.2 96.1L441.2 92.3L444.2 88.6L447.3 84.9L450.3 81.3L453.4 77.7L456.4 74.3L459.5 70.8L462.6 67.5L465.7 64.2L468.8 61L472 57.9L475.1 54.8L478.2 51.8L481.4 48.9L484.6 46.1L487.7 43.4L490.9 40.7L494.1 38.2L497.3 35.7L500.6 33.3L503.8 31L507 28.9L510.3 26.8L513.5 24.8L516.8 22.9L520 21.1L523.3 19.4L526.5 17.8L529.8 16.3L533.1 14.9L536.4 13.7L539.7 12.5L542.9 11.5L546.2 10.5L549.5 9.7L552.8 9L556.1 8.4M431.8 108.7L434.8 104.7L437.8 100.7L440.7 96.9L443.8 93L446.8 89.3L449.8 85.6L452.9 82L455.9 78.4L459 74.9L462.1 71.5L465.2 68.1L468.3 64.8L471.4 61.6L474.5 58.4L477.7 55.4L480.8 52.4L484 49.5L487.2 46.7L490.3 44L493.5 41.3L496.7 38.7L499.9 36.3L503.2 33.9L506.4 31.6L509.6 29.4L512.9 27.3L516.1 25.3L519.4 23.4L522.6 21.6L525.9 19.9L529.2 18.3L532.4 16.9L535.7 15.5L539 14.2L542.3 13.1L545.6 12L548.8 11.1L552.1 10.3L555.4 9.6L558.7 9M434.3 109.5L437.3 105.5L440.3 101.5L443.3 97.6L446.3 93.8L449.3 90L452.4 86.3L455.4 82.6L458.5 79L461.6 75.5L464.6 72.1L467.7 68.7L470.9 65.4L474 62.2L477.1 59L480.3 56L483.4 53L486.6 50.1L489.8 47.3L492.9 44.5L496.1 41.9L499.3 39.3L502.5 36.8L505.8 34.5L509 32.2L512.2 30L515.5 27.9L518.7 25.9L522 24L525.2 22.2L528.5 20.5L531.8 18.9L535 17.4L538.3 16L541.6 14.8L544.9 13.6L548.2 12.6L551.5 11.6L554.7 10.8L558 10.1L561.3 9.5M436.9 110.3L439.8 106.2L442.8 102.2L445.8 98.3L448.8 94.5L451.9 90.7L454.9 86.9L458 83.3L461 79.7L464.1 76.1L467.2 72.7L470.3 69.3L473.4 66L476.6 62.8L479.7 59.6L482.8 56.5L486 53.6L489.2 50.6L492.3 47.8L495.5 45.1L498.7 42.4L501.9 39.9L505.1 37.4L508.4 35L511.6 32.7L514.8 30.5L518.1 28.4L521.3 26.4L524.6 24.5L527.8 22.7L531.1 21L534.4 19.5L537.7 18L540.9 16.6L544.2 15.3L547.5 14.2L550.8 13.1L554.1 12.2L557.4 11.3L560.6 10.6L563.9 10M439.4 111.1L442.4 107L445.4 103L448.4 99L451.4 95.2L454.4 91.4L457.5 87.6L460.5 83.9L463.6 80.3L466.7 76.8L469.8 73.3L472.9 69.9L476 66.6L479.1 63.4L482.3 60.2L485.4 57.1L488.6 54.1L491.7 51.2L494.9 48.4L498.1 45.6L501.3 43L504.5 40.4L507.7 37.9L511 35.6L514.2 33.3L517.4 31.1L520.7 29L523.9 27L527.2 25.1L530.5 23.3L533.7 21.6L537 20L540.3 18.5L543.5 17.1L546.8 15.9L550.1 14.7L553.4 13.6L556.7 12.7L560 11.9L563.2 11.1L566.5 10.5M441.9 111.9L444.9 107.8L447.9 103.7L450.9 99.8L453.9 95.9L457 92L460 88.3L463.1 84.6L466.2 81L469.2 77.4L472.3 73.9L475.4 70.5L478.6 67.2L481.7 63.9L484.8 60.8L488 57.7L491.2 54.7L494.3 51.8L497.5 48.9L500.7 46.2L503.9 43.5L507.1 41L510.3 38.5L513.6 36.1L516.8 33.8L520 31.6L523.3 29.5L526.5 27.5L529.8 25.6L533.1 23.8L536.3 22.1L539.6 20.5L542.9 19.1L546.2 17.7L549.4 16.4L552.7 15.2L556 14.2L559.3 13.2L562.6 12.4L565.9 11.7L569.1 11M444.5 112.6L447.4 108.5L450.4 104.5L453.5 100.5L456.5 96.6L459.5 92.7L462.6 88.9L465.6 85.2L468.7 81.6L471.8 78L474.9 74.5L478 71.1L481.1 67.8L484.3 64.5L487.4 61.4L490.6 58.3L493.7 55.3L496.9 52.3L500.1 49.5L503.3 46.7L506.5 44.1L509.7 41.5L512.9 39L516.2 36.6L519.4 34.4L522.6 32.2L525.9 30.1L529.1 28.1L532.4 26.2L535.7 24.4L538.9 22.7L542.2 21.1L545.5 19.6L548.8 18.2L552.1 16.9L555.3 15.8L558.6 14.7L561.9 13.7L565.2 12.9L568.5 12.2L571.8 11.5M447 113.4L450 109.3L453 105.2L456 101.2L459 97.3L462.1 93.4L465.1 89.6L468.2 85.9L471.3 82.2L474.4 78.6L477.5 75.1L480.6 71.7L483.7 68.4L486.9 65.1L490 61.9L493.2 58.8L496.3 55.8L499.5 52.9L502.7 50L505.9 47.3L509.1 44.6L512.3 42.1L515.5 39.6L518.8 37.2L522 34.9L525.2 32.7L528.5 30.6L531.8 28.6L535 26.7L538.3 24.9L541.6 23.2L544.8 21.6L548.1 20.1L551.4 18.7L554.7 17.5L557.9 16.3L561.2 15.2L564.5 14.3L567.8 13.4L571.1 12.7L574.4 12M449.5 114.2L452.5 110.1L455.5 106L458.5 101.9L461.6 98L464.6 94.1L467.7 90.3L470.7 86.5L473.8 82.9L476.9 79.3L480 75.7L483.2 72.3L486.3 69L489.4 65.7L492.6 62.5L495.7 59.4L498.9 56.4L502.1 53.4L505.3 50.6L508.5 47.8L511.7 45.2L514.9 42.6L518.1 40.1L521.4 37.7L524.6 35.4L527.9 33.2L531.1 31.1L534.4 29.1L537.6 27.2L540.9 25.4L544.2 23.7L547.4 22.1L550.7 20.6L554 19.3L557.3 18L560.6 16.8L563.8 15.7L567.1 14.8L570.4 13.9L573.7 13.2L577 12.5M452 115L455 110.8L458.1 106.7L461.1 102.7L464.1 98.7L467.2 94.8L470.2 90.9L473.3 87.2L476.4 83.5L479.5 79.9L482.6 76.4L485.7 72.9L488.9 69.5L492 66.3L495.2 63.1L498.3 59.9L501.5 56.9L504.7 54L507.9 51.1L511.1 48.4L514.3 45.7L517.5 43.1L520.7 40.6L524 38.2L527.2 36L530.5 33.8L533.7 31.7L537 29.7L540.2 27.8L543.5 26L546.8 24.3L550 22.7L553.3 21.2L556.6 19.8L559.9 18.5L563.2 17.3L566.5 16.2L569.7 15.3L573 14.4L576.3 13.6L579.6 13M454.6 115.8L457.6 111.6L460.6 107.5L463.6 103.4L466.7 99.4L469.7 95.5L472.8 91.6L475.9 87.8L478.9 84.1L482.1 80.5L485.2 77L488.3 73.5L491.4 70.1L494.6 66.8L497.7 63.6L500.9 60.5L504.1 57.5L507.3 54.5L510.5 51.7L513.7 48.9L516.9 46.2L520.1 43.7L523.3 41.2L526.6 38.8L529.8 36.5L533.1 34.3L536.3 32.2L539.6 30.2L542.8 28.3L546.1 26.5L549.4 24.8L552.7 23.2L555.9 21.7L559.2 20.3L562.5 19L565.8 17.8L569.1 16.7L572.4 15.7L575.6 14.9L578.9 14.1L582.2 13.5M457.1 116.6L460.1 112.4L463.1 108.2L466.2 104.1L469.2 100.1L472.3 96.1L475.3 92.3L478.4 88.5L481.5 84.7L484.6 81.1L487.7 77.6L490.9 74.1L494 70.7L497.2 67.4L500.3 64.2L503.5 61.1L506.7 58L509.9 55.1L513.1 52.2L516.3 49.4L519.5 46.8L522.7 44.2L525.9 41.7L529.2 39.3L532.4 37L535.7 34.8L538.9 32.7L542.2 30.7L545.4 28.8L548.7 27L552 25.3L555.3 23.7L558.5 22.2L561.8 20.8L565.1 19.5L568.4 18.3L571.7 17.2L575 16.2L578.3 15.4L581.5 14.6L584.8 13.9M459.6 117.4L462.6 113.1L465.7 108.9L468.7 104.8L471.7 100.8L474.8 96.8L477.9 92.9L481 89.1L484.1 85.4L487.2 81.7L490.3 78.2L493.4 74.7L496.6 71.3L499.7 68L502.9 64.7L506.1 61.6L509.2 58.6L512.4 55.6L515.6 52.7L518.9 50L522.1 47.3L525.3 44.7L528.5 42.2L531.8 39.8L535 37.5L538.3 35.3L541.5 33.2L544.8 31.2L548.1 29.3L551.3 27.5L554.6 25.8L557.9 24.2L561.2 22.7L564.4 21.3L567.7 20L571 18.8L574.3 17.7L577.6 16.7L580.9 15.8L584.1 15L587.4 14.4M462.2 118.2L465.2 113.9L468.2 109.7L471.2 105.5L474.3 101.5L477.4 97.5L480.4 93.6L483.5 89.7L486.6 86L489.7 82.3L492.9 78.8L496 75.3L499.1 71.9L502.3 68.5L505.5 65.3L508.6 62.2L511.8 59.1L515 56.1L518.2 53.3L521.4 50.5L524.7 47.8L527.9 45.2L531.1 42.7L534.4 40.3L537.6 38L540.9 35.8L544.1 33.7L547.4 31.7L550.7 29.8L553.9 28L557.2 26.3L560.5 24.7L563.8 23.2L567.1 21.8L570.3 20.5L573.6 19.3L576.9 18.2L580.2 17.2L583.5 16.3L586.8 15.5L590 14.8M464.7 119L467.7 114.7L470.7 110.4L473.8 106.3L476.8 102.2L479.9 98.2L483 94.2L486.1 90.4L489.2 86.6L492.3 82.9L495.4 79.3L498.6 75.8L501.7 72.4L504.9 69.1L508 65.8L511.2 62.7L514.4 59.6L517.6 56.7L520.8 53.8L524 51L527.3 48.3L530.5 45.7L533.7 43.2L537 40.8L540.2 38.5L543.5 36.3L546.7 34.2L550 32.2L553.3 30.3L556.5 28.5L559.8 26.8L563.1 25.2L566.4 23.7L569.7 22.2L573 20.9L576.2 19.7L579.5 18.6L582.8 17.6L586.1 16.7L589.4 16L592.7 15.3M467.2 119.8L470.2 115.5L473.3 111.2L476.3 107L479.4 102.9L482.4 98.8L485.5 94.9L488.6 91L491.7 87.2L494.9 83.5L498 79.9L501.1 76.4L504.3 73L507.5 69.6L510.6 66.4L513.8 63.2L517 60.2L520.2 57.2L523.4 54.3L526.6 51.5L529.9 48.8L533.1 46.2L536.3 43.7L539.6 41.3L542.8 39L546.1 36.8L549.3 34.7L552.6 32.7L555.9 30.8L559.2 29L562.4 27.3L565.7 25.6L569 24.1L572.3 22.7L575.6 21.4L578.8 20.2L582.1 19.1L585.4 18.1L588.7 17.2L592 16.4L595.3 15.7M469.7 120.6L472.8 116.2L475.8 111.9L478.9 107.7L481.9 103.6L485 99.5L488.1 95.5L491.2 91.7L494.3 87.9L497.4 84.2L500.6 80.5L503.7 77L506.9 73.6L510 70.2L513.2 66.9L516.4 63.8L519.6 60.7L522.8 57.7L526 54.8L529.2 52L532.4 49.3L535.7 46.7L538.9 44.2L542.2 41.8L545.4 39.5L548.7 37.3L551.9 35.2L555.2 33.2L558.5 31.3L561.8 29.5L565 27.7L568.3 26.1L571.6 24.6L574.9 23.2L578.2 21.9L581.5 20.7L584.7 19.6L588 18.5L591.3 17.6L594.6 16.8L597.9 16.1M472.3 121.4L475.3 117L478.3 112.7L481.4 108.4L484.5 104.3L487.5 100.2L490.6 96.2L493.7 92.3L496.9 88.5L500 84.8L503.1 81.1L506.3 77.6L509.4 74.1L512.6 70.8L515.8 67.5L519 64.3L522.2 61.2L525.4 58.2L528.6 55.3L531.8 52.5L535 49.8L538.3 47.2L541.5 44.7L544.8 42.3L548 40L551.3 37.8L554.6 35.7L557.8 33.7L561.1 31.7L564.4 29.9L567.7 28.2L570.9 26.6L574.2 25.1L577.5 23.7L580.8 22.3L584.1 21.1L587.4 20L590.6 19L593.9 18.1L597.2 17.3L600.5 16.5M474.8 122.2L477.8 117.8L480.9 113.4L483.9 109.1L487 105L490.1 100.9L493.2 96.9L496.3 92.9L499.4 89.1L502.5 85.4L505.7 81.7L508.8 78.1L512 74.7L515.2 71.3L518.4 68L521.6 64.8L524.8 61.7L528 58.8L531.2 55.9L534.4 53L537.6 50.3L540.9 47.7L544.1 45.2L547.4 42.8L550.6 40.5L553.9 38.3L557.2 36.2L560.4 34.1L563.7 32.2L567 30.4L570.3 28.7L573.5 27.1L576.8 25.5L580.1 24.1L583.4 22.8L586.7 21.6L590 20.5L593.3 19.4L596.5 18.5L599.8 17.7L603.1 16.9M477.3 123L480.4 118.5L483.4 114.1L486.5 109.9L489.6 105.6L492.6 101.5L495.7 97.5L498.8 93.6L502 89.7L505.1 86L508.3 82.3L511.4 78.7L514.6 75.2L517.8 71.9L520.9 68.6L524.1 65.4L527.3 62.3L530.5 59.3L533.8 56.4L537 53.5L540.2 50.8L543.5 48.2L546.7 45.7L550 43.3L553.2 41L556.5 38.8L559.8 36.6L563 34.6L566.3 32.7L569.6 30.9L572.9 29.1L576.2 27.5L579.4 26L582.7 24.6L586 23.2L589.3 22L592.6 20.9L595.9 19.9L599.2 18.9L602.4 18.1L605.7 17.3M479.9 123.8L482.9 119.3L486 114.9L489 110.6L492.1 106.3L495.2 102.2L498.3 98.2L501.4 94.2L504.5 90.3L507.7 86.6L510.8 82.9L514 79.3L517.1 75.8L520.3 72.4L523.5 69.1L526.7 65.9L529.9 62.8L533.1 59.8L536.4 56.9L539.6 54L542.8 51.3L546.1 48.7L549.3 46.2L552.6 43.8L555.8 41.4L559.1 39.2L562.4 37.1L565.6 35.1L568.9 33.2L572.2 31.3L575.5 29.6L578.8 28L582.1 26.4L585.3 25L588.6 23.7L591.9 22.5L595.2 21.3L598.5 20.3L601.8 19.3L605 18.5L608.3 17.7M482.4 124.6L485.4 120.1L488.5 115.6L491.6 111.3L494.6 107L497.7 102.9L500.8 98.8L504 94.8L507.1 90.9L510.2 87.1L513.4 83.4L516.5 79.8L519.7 76.3L522.9 72.9L526.1 69.6L529.3 66.4L532.5 63.3L535.7 60.3L538.9 57.4L542.2 54.5L545.4 51.8L548.7 49.2L551.9 46.7L555.2 44.2L558.4 41.9L561.7 39.7L565 37.6L568.3 35.5L571.5 33.6L574.8 31.8L578.1 30.1L581.4 28.4L584.7 26.9L588 25.5L591.2 24.1L594.5 22.9L597.8 21.7L601.1 20.7L604.4 19.7L607.7 18.9L610.9 18.1M484.9 125.4L488 120.8L491 116.4L494.1 112L497.2 107.7L500.3 103.5L503.4 99.4L506.5 95.4L509.6 91.5L512.8 87.7L516 84L519.1 80.4L522.3 76.9L525.5 73.5L528.7 70.2L531.9 66.9L535.1 63.8L538.3 60.8L541.5 57.9L544.8 55L548 52.3L551.3 49.7L554.5 47.1L557.8 44.7L561 42.4L564.3 40.2L567.6 38L570.9 36L574.1 34.1L577.4 32.2L580.7 30.5L584 28.9L587.3 27.3L590.6 25.9L593.9 24.5L597.1 23.3L600.4 22.2L603.7 21.1L607 20.1L610.3 19.3L613.6 18.5M487.4 126.2L490.5 121.6L493.6 117.1L496.6 112.7L499.7 108.4L502.8 104.2L505.9 100.1L509.1 96.1L512.2 92.2L515.4 88.3L518.5 84.6L521.7 81L524.9 77.4L528.1 74L531.3 70.7L534.5 67.4L537.7 64.3L540.9 61.3L544.1 58.3L547.4 55.5L550.6 52.8L553.9 50.1L557.1 47.6L560.4 45.2L563.6 42.8L566.9 40.6L570.2 38.5L573.5 36.4L576.7 34.5L580 32.7L583.3 30.9L586.6 29.3L589.9 27.8L593.2 26.3L596.5 25L599.8 23.7L603 22.6L606.3 21.5L609.6 20.5L612.9 19.7L616.2 18.9M490 127L493 122.4L496.1 117.8L499.2 113.4L502.3 109.1L505.4 104.9L508.5 100.7L511.6 96.7L514.8 92.8L517.9 88.9L521.1 85.2L524.3 81.5L527.4 78L530.6 74.5L533.8 71.2L537 68L540.3 64.8L543.5 61.8L546.7 58.8L550 56L553.2 53.2L556.5 50.6L559.7 48.1L563 45.6L566.2 43.3L569.5 41.1L572.8 38.9L576.1 36.9L579.4 35L582.6 33.1L585.9 31.4L589.2 29.7L592.5 28.2L595.8 26.7L599.1 25.4L602.4 24.1L605.7 23L608.9 21.9L612.2 20.9L615.5 20L618.8 19.2M492.5 127.8L495.6 123.1L498.6 118.6L501.7 114.1L504.8 109.8L507.9 105.5L511 101.4L514.2 97.3L517.3 93.4L520.5 89.5L523.6 85.7L526.8 82.1L530 78.5L533.2 75.1L536.4 71.7L539.6 68.5L542.8 65.3L546.1 62.3L549.3 59.3L552.6 56.5L555.8 53.7L559.1 51.1L562.3 48.5L565.6 46.1L568.9 43.8L572.1 41.5L575.4 39.4L578.7 37.3L582 35.4L585.3 33.5L588.5 31.8L591.8 30.2L595.1 28.6L598.4 27.1L601.7 25.8L605 24.5L608.3 23.4L611.6 22.3L614.8 21.3L618.1 20.4L621.4 19.6M495 128.6L498.1 123.9L501.2 119.3L504.3 114.9L507.4 110.5L510.5 106.2L513.6 102L516.7 97.9L519.9 94L523 90.1L526.2 86.3L529.4 82.6L532.6 79.1L535.8 75.6L539 72.2L542.2 69L545.4 65.8L548.7 62.7L551.9 59.8L555.1 56.9L558.4 54.2L561.7 51.5L564.9 49L568.2 46.5L571.5 44.2L574.7 42L578 39.8L581.3 37.8L584.6 35.8L587.9 34L591.1 32.2L594.4 30.6L597.7 29L601 27.6L604.3 26.2L607.6 24.9L610.9 23.7L614.2 22.7L617.5 21.7L620.7 20.8L624 19.9M497.6 129.4L500.6 124.7L503.7 120.1L506.8 115.6L509.9 111.2L513 106.9L516.2 102.7L519.3 98.6L522.4 94.6L525.6 90.7L528.8 86.9L532 83.2L535.2 79.6L538.4 76.1L541.6 72.7L544.8 69.5L548 66.3L551.3 63.2L554.5 60.3L557.7 57.4L561 54.6L564.3 52L567.5 49.4L570.8 47L574.1 44.6L577.3 42.4L580.6 40.2L583.9 38.2L587.2 36.2L590.5 34.4L593.8 32.6L597 31L600.3 29.4L603.6 28L606.9 26.6L610.2 25.3L613.5 24.1L616.8 23L620.1 22L623.3 21.1L626.6 20.3M500.1 130.2L503.2 125.4L506.2 120.8L509.3 116.3L512.4 111.8L515.6 107.5L518.7 103.3L521.8 99.2L525 95.2L528.2 91.2L531.3 87.4L534.5 83.7L537.7 80.1L540.9 76.6L544.2 73.2L547.4 70L550.6 66.8L553.8 63.7L557.1 60.7L560.3 57.9L563.6 55.1L566.9 52.4L570.1 49.9L573.4 47.4L576.7 45.1L579.9 42.8L583.2 40.7L586.5 38.6L589.8 36.7L593.1 34.8L596.4 33L599.7 31.4L603 29.8L606.2 28.3L609.5 27L612.8 25.7L616.1 24.5L619.4 23.4L622.7 22.4L626 21.5L629.2 20.6M502.6 131L505.7 126.2L508.8 121.5L511.9 117L515 112.5L518.1 108.2L521.3 103.9L524.4 99.8L527.6 95.8L530.7 91.8L533.9 88L537.1 84.3L540.3 80.7L543.5 77.2L546.7 73.8L550 70.5L553.2 67.3L556.4 64.2L559.7 61.2L562.9 58.3L566.2 55.6L569.5 52.9L572.7 50.3L576 47.9L579.3 45.5L582.5 43.2L585.8 41.1L589.1 39L592.4 37.1L595.7 35.2L599 33.4L602.3 31.8L605.6 30.2L608.9 28.7L612.1 27.4L615.4 26.1L618.7 24.9L622 23.7L625.3 22.7L628.6 21.8L631.9 20.9M505.1 131.8L508.2 127L511.3 122.3L514.4 117.7L517.5 113.2L520.7 108.8L523.8 104.6L527 100.4L530.1 96.3L533.3 92.4L536.5 88.6L539.7 84.8L542.9 81.2L546.1 77.7L549.3 74.3L552.5 70.9L555.8 67.7L559 64.7L562.3 61.7L565.5 58.8L568.8 56L572 53.3L575.3 50.8L578.6 48.3L581.9 45.9L585.2 43.7L588.4 41.5L591.7 39.4L595 37.5L598.3 35.6L601.6 33.8L604.9 32.2L608.2 30.6L611.5 29.1L614.8 27.7L618.1 26.4L621.3 25.2L624.6 24.1L627.9 23.1L631.2 22.1L634.5 21.3M507.7 132.6L510.7 127.7L513.8 123L517 118.4L520.1 113.9L523.2 109.5L526.4 105.2L529.5 101L532.7 96.9L535.9 93L539.1 89.1L542.2 85.4L545.5 81.7L548.7 78.2L551.9 74.8L555.1 71.4L558.4 68.2L561.6 65.1L564.9 62.1L568.1 59.2L571.4 56.4L574.6 53.8L577.9 51.2L581.2 48.7L584.5 46.3L587.8 44.1L591 41.9L594.3 39.8L597.6 37.9L600.9 36L604.2 34.2L607.5 32.6L610.8 31L614.1 29.5L617.4 28.1L620.7 26.8L624 25.6L627.2 24.4L630.5 23.4L633.8 22.4L637.1 21.6M510.2 133.4L513.3 128.5L516.4 123.8L519.5 119.1L522.6 114.6L525.8 110.2L528.9 105.8L532.1 101.6L535.2 97.5L538.4 93.5L541.6 89.7L544.8 85.9L548 82.2L551.2 78.7L554.5 75.3L557.7 71.9L561 68.7L564.2 65.6L567.5 62.6L570.7 59.7L574 56.9L577.2 54.2L580.5 51.6L583.8 49.1L587.1 46.8L590.4 44.5L593.7 42.3L596.9 40.2L600.2 38.3L603.5 36.4L606.8 34.6L610.1 32.9L613.4 31.3L616.7 29.9L620 28.4L623.3 27.1L626.6 25.9L629.9 24.8L633.2 23.7L636.4 22.8L639.7 21.9M512.7 134.2L515.8 129.3L518.9 124.5L522 119.8L525.2 115.3L528.3 110.8L531.5 106.5L534.6 102.2L537.8 98.1L541 94.1L544.2 90.2L547.4 86.4L550.6 82.8L553.8 79.2L557.1 75.7L560.3 72.4L563.5 69.2L566.8 66L570 63L573.3 60.1L576.6 57.3L579.8 54.6L583.1 52L586.4 49.6L589.7 47.2L593 44.9L596.3 42.7L599.6 40.6L602.8 38.7L606.1 36.8L609.4 35L612.7 33.3L616 31.7L619.3 30.2L622.6 28.8L625.9 27.5L629.2 26.2L632.5 25.1L635.8 24L639.1 23.1L642.3 22.2M515.2 135L518.3 130L521.5 125.2L524.6 120.5L527.7 115.9L530.9 111.5L534 107.1L537.2 102.8L540.4 98.7L543.6 94.7L546.8 90.8L550 87L553.2 83.3L556.4 79.7L559.6 76.2L562.9 72.9L566.1 69.6L569.4 66.5L572.6 63.5L575.9 60.6L579.2 57.7L582.4 55L585.7 52.5L589 50L592.3 47.6L595.6 45.3L598.9 43.1L602.2 41L605.5 39L608.8 37.2L612.1 35.4L615.3 33.7L618.6 32.1L621.9 30.6L625.2 29.1L628.5 27.8L631.8 26.6L635.1 25.4L638.4 24.3L641.7 23.3L645 22.4M517.8 135.8L520.9 130.8L524 126L527.1 121.2L530.3 116.6L533.4 112.1L536.6 107.7L539.7 103.5L542.9 99.3L546.1 95.2L549.3 91.3L552.5 87.5L555.8 83.8L559 80.2L562.2 76.7L565.5 73.3L568.7 70.1L572 66.9L575.2 63.9L578.5 61L581.8 58.2L585 55.5L588.3 52.9L591.6 50.4L594.9 48L598.2 45.7L601.5 43.5L604.8 41.4L608.1 39.4L611.4 37.5L614.7 35.7L618 34L621.3 32.4L624.6 30.9L627.8 29.5L631.1 28.1L634.4 26.9L637.7 25.7L641 24.6L644.3 23.6L647.6 22.7M520.3 136.6L523.4 131.6L526.5 126.7L529.7 121.9L532.8 117.3L536 112.8L539.1 108.4L542.3 104.1L545.5 99.9L548.7 95.8L551.9 91.9L555.1 88L558.3 84.3L561.6 80.7L564.8 77.2L568 73.8L571.3 70.6L574.6 67.4L577.8 64.4L581.1 61.4L584.4 58.6L587.6 55.9L590.9 53.3L594.2 50.8L597.5 48.4L600.8 46.1L604.1 43.9L607.4 41.8L610.7 39.8L614 37.9L617.3 36.1L620.6 34.4L623.9 32.8L627.2 31.2L630.5 29.8L633.8 28.5L637.1 27.2L640.3 26L643.6 24.9L646.9 23.9L650.2 23M522.8 137.4L525.9 132.3L529.1 127.4L532.2 122.6L535.3 118L538.5 113.4L541.7 109L544.9 104.7L548 100.5L551.2 96.4L554.5 92.4L557.7 88.5L560.9 84.8L564.1 81.2L567.4 77.7L570.6 74.3L573.9 71L577.2 67.8L580.4 64.8L583.7 61.8L587 59L590.3 56.3L593.5 53.7L596.8 51.2L600.1 48.8L603.4 46.5L606.7 44.3L610 42.2L613.3 40.2L616.6 38.3L619.9 36.4L623.2 34.7L626.5 33.1L629.8 31.6L633.1 30.1L636.4 28.8L639.7 27.5L643 26.3L646.3 25.2L649.5 24.2L652.8 23.2M525.3 138.2L528.5 133.1L531.6 128.2L534.7 123.4L537.9 118.6L541.1 114.1L544.2 109.6L547.4 105.3L550.6 101L553.8 96.9L557 92.9L560.3 89.1L563.5 85.3L566.7 81.7L570 78.2L573.2 74.7L576.5 71.5L579.7 68.3L583 65.2L586.3 62.3L589.6 59.4L592.9 56.7L596.1 54.1L599.4 51.6L602.7 49.1L606 46.8L609.3 44.6L612.6 42.5L615.9 40.5L619.2 38.6L622.5 36.8L625.8 35.1L629.1 33.4L632.4 31.9L635.7 30.5L639 29.1L642.3 27.8L645.6 26.6L648.9 25.5L652.2 24.4L655.4 23.5M527.9 139L531 133.9L534.1 128.9L537.3 124.1L540.4 119.3L543.6 114.7L546.8 110.2L550 105.9L553.2 101.6L556.4 97.5L559.6 93.5L562.8 89.6L566.1 85.8L569.3 82.2L572.6 78.6L575.8 75.2L579.1 71.9L582.3 68.7L585.6 65.6L588.9 62.7L592.2 59.8L595.5 57.1L598.7 54.5L602 51.9L605.3 49.5L608.6 47.2L611.9 45L615.2 42.9L618.5 40.9L621.8 38.9L625.1 37.1L628.4 35.4L631.7 33.8L635 32.2L638.3 30.8L641.6 29.4L644.9 28.1L648.2 26.9L651.5 25.8L654.8 24.7L658.1 23.7M530.4 139.8L533.5 134.6L536.7 129.6L539.8 124.8L543 120L546.1 115.4L549.3 110.8L552.5 106.5L555.7 102.2L558.9 98L562.2 94L565.4 90.1L568.6 86.3L571.9 82.6L575.1 79.1L578.4 75.7L581.7 72.3L584.9 69.1L588.2 66.1L591.5 63.1L594.8 60.2L598.1 57.5L601.3 54.8L604.6 52.3L607.9 49.9L611.2 47.6L614.5 45.3L617.8 43.2L621.1 41.2L624.4 39.3L627.7 37.5L631 35.7L634.3 34.1L637.6 32.5L640.9 31.1L644.2 29.7L647.5 28.4L650.8 27.2L654.1 26L657.4 24.9L660.7 24M532.9 140.6L536.1 135.4L539.2 130.4L542.4 125.5L545.5 120.7L548.7 116L551.9 111.5L555.1 107L558.3 102.8L561.5 98.6L564.7 94.5L568 90.6L571.2 86.8L574.5 83.1L577.7 79.6L581 76.1L584.2 72.8L587.5 69.6L590.8 66.5L594.1 63.5L597.4 60.6L600.7 57.9L604 55.2L607.3 52.7L610.5 50.3L613.8 47.9L617.2 45.7L620.5 43.6L623.8 41.5L627.1 39.6L630.4 37.8L633.7 36L637 34.4L640.3 32.8L643.6 31.4L646.9 30L650.2 28.7L653.5 27.4L656.7 26.3L660 25.2L663.3 24.2M535.4 141.4L538.6 136.2L541.7 131.1L544.9 126.2L548.1 121.3L551.2 116.7L554.4 112.1L557.6 107.6L560.9 103.3L564.1 99.1L567.3 95.1L570.5 91.1L573.8 87.3L577 83.6L580.3 80L583.6 76.6L586.8 73.2L590.1 70L593.4 66.9L596.7 63.9L600 61L603.3 58.3L606.6 55.6L609.9 53.1L613.2 50.6L616.5 48.3L619.8 46L623.1 43.9L626.4 41.9L629.7 39.9L633 38.1L636.3 36.4L639.6 34.7L642.9 33.1L646.2 31.6L649.5 30.2L652.8 28.9L656.1 27.7L659.4 26.5L662.7 25.4L665.9 24.4M538 142.2L541.1 136.9L544.3 131.8L547.4 126.9L550.6 122L553.8 117.3L557 112.7L560.2 108.2L563.4 103.9L566.6 99.7L569.9 95.6L573.1 91.6L576.4 87.8L579.6 84.1L582.9 80.5L586.2 77L589.4 73.7L592.7 70.4L596 67.3L599.3 64.3L602.6 61.4L605.9 58.6L609.2 56L612.5 53.4L615.8 51L619.1 48.6L622.4 46.4L625.7 44.2L629 42.2L632.3 40.3L635.6 38.4L638.9 36.7L642.2 35L645.5 33.4L648.8 31.9L652.1 30.5L655.4 29.2L658.7 27.9L662 26.7L665.3 25.6L668.6 24.6M540.5 143L543.6 137.7L546.8 132.6L550 127.6L553.2 122.7L556.3 117.9L559.5 113.3L562.8 108.8L566 104.5L569.2 100.2L572.4 96.1L575.7 92.1L578.9 88.3L582.2 84.5L585.5 80.9L588.7 77.4L592 74.1L595.3 70.8L598.6 67.7L601.9 64.7L605.2 61.8L608.5 59L611.8 56.3L615.1 53.8L618.4 51.3L621.7 49L625 46.7L628.3 44.6L631.6 42.5L634.9 40.6L638.2 38.7L641.5 37L644.8 35.3L648.1 33.7L651.4 32.2L654.7 30.8L658 29.4L661.3 28.2L664.6 27L667.9 25.8L671.2 24.8M415.3 103.5L418.3 99.7L421.3 95.9L424.2 92.1L427.2 88.4L430.2 84.8L433.2 81.2L436.3 77.6L439.3 74.2L442.3 70.7L445.4 67.4L448.5 64.1L451.6 60.8L454.7 57.7L457.8 54.6L460.9 51.5L464 48.6L467.2 45.7L470.3 42.9L473.5 40.2L476.7 37.6L479.8 35L483 32.5L486.2 30.2L489.5 27.9L492.7 25.7L495.9 23.6L499.1 21.6L502.4 19.7L505.6 17.9L508.9 16.2L512.2 14.6L515.4 13.1L518.7 11.7L522 10.5L525.3 9.3L528.5 8.3L531.8 7.4L535.1 6.6L538.4 5.9L541.7 5.4M417.9 104.3L420.8 100.5L423.8 96.6L426.8 92.9L429.8 89.1L432.8 85.5L435.8 81.9L438.8 78.3L441.9 74.8L444.9 71.4L448 68L451 64.7L454.1 61.5L457.2 58.3L460.4 55.2L463.5 52.1L466.6 49.2L469.8 46.3L472.9 43.5L476.1 40.8L479.3 38.1L482.4 35.6L485.6 33.1L488.8 30.7L492.1 28.5L495.3 26.3L498.5 24.2L501.8 22.2L505 20.3L508.3 18.5L511.5 16.8L514.8 15.2L518 13.7L521.3 12.3L524.6 11.1L527.9 9.9L531.2 8.9L534.5 8L537.7 7.2L541 6.5L544.3 6M420.4 105.1L423.4 101.2L426.3 97.4L429.3 93.6L432.3 89.9L435.3 86.2L438.3 82.5L441.4 79L444.4 75.5L447.5 72L450.5 68.6L453.6 65.3L456.7 62.1L459.8 58.9L462.9 55.8L466.1 52.7L469.2 49.8L472.3 46.9L475.5 44.1L478.7 41.4L481.9 38.7L485 36.2L488.2 33.7L491.5 31.3L494.7 29L497.9 26.8L501.1 24.7L504.4 22.7L507.6 20.9L510.9 19.1L514.1 17.4L517.4 15.8L520.7 14.3L523.9 12.9L527.2 11.7L530.5 10.5L533.8 9.5L537.1 8.6L540.4 7.8L543.6 7.1L546.9 6.5M422.9 105.9L425.9 102L428.9 98.1L431.9 94.3L434.9 90.6L437.9 86.9L440.9 83.2L443.9 79.6L447 76.1L450 72.7L453.1 69.3L456.2 65.9L459.3 62.7L462.4 59.5L465.5 56.4L468.6 53.3L471.8 50.4L474.9 47.5L478.1 44.7L481.3 41.9L484.5 39.3L487.6 36.7L490.8 34.3L494.1 31.9L497.3 29.6L500.5 27.4L503.7 25.3L507 23.3L510.2 21.4L513.5 19.6L516.7 17.9L520 16.4L523.3 14.9L526.6 13.5L529.8 12.2L533.1 11.1L536.4 10.1L539.7 9.1L543 8.3L546.3 7.6L549.6 7.1M425.5 106.7L428.4 102.8L431.4 98.9L434.4 95L437.4 91.3L440.4 87.6L443.4 83.9L446.5 80.3L449.5 76.8L452.6 73.3L455.7 69.9L458.8 66.6L461.9 63.3L465 60.1L468.1 57L471.2 53.9L474.4 51L477.5 48.1L480.7 45.3L483.9 42.5L487 39.9L490.2 37.3L493.4 34.9L496.7 32.5L499.9 30.2L503.1 28L506.3 25.9L509.6 23.9L512.8 22L516.1 20.2L519.4 18.5L522.6 16.9L525.9 15.5L529.2 14.1L532.4 12.8L535.7 11.7L539 10.6L542.3 9.7L545.6 8.9L548.9 8.2L552.2 7.6M428 107.5L431 103.5L433.9 99.6L436.9 95.8L439.9 92L443 88.3L446 84.6L449 81L452.1 77.4L455.2 73.9L458.2 70.5L461.3 67.2L464.4 63.9L467.5 60.7L470.7 57.6L473.8 54.5L476.9 51.5L480.1 48.6L483.3 45.8L486.5 43.1L489.6 40.5L492.8 37.9L496 35.4L499.3 33L502.5 30.8L505.7 28.6L508.9 26.5L512.2 24.5L515.4 22.6L518.7 20.8L522 19.1L525.2 17.5L528.5 16L531.8 14.6L535.1 13.4L538.3 12.2L541.6 11.2L544.9 10.3L548.2 9.4L551.5 8.8L554.8 8.2M430.5 108.3L433.5 104.3L436.5 100.4L439.5 96.5L442.5 92.7L445.5 88.9L448.5 85.3L451.6 81.6L454.6 78.1L457.7 74.6L460.8 71.1L463.9 67.8L467 64.5L470.1 61.3L473.2 58.2L476.4 55.1L479.5 52.1L482.7 49.2L485.9 46.4L489 43.7L492.2 41L495.4 38.5L498.6 36L501.9 33.6L505.1 31.3L508.3 29.1L511.6 27L514.8 25L518.1 23.1L521.3 21.3L524.6 19.7L527.8 18.1L531.1 16.6L534.4 15.2L537.7 13.9L541 12.8L544.2 11.7L547.5 10.8L550.8 10L554.1 9.3L557.4 8.7M433.1 109.1L436 105.1L439 101.1L442 97.2L445 93.4L448.1 89.6L451.1 85.9L454.1 82.3L457.2 78.7L460.3 75.2L463.4 71.8L466.5 68.4L469.6 65.1L472.7 61.9L475.8 58.7L479 55.7L482.1 52.7L485.3 49.8L488.5 47L491.6 44.2L494.8 41.6L498 39L501.2 36.6L504.5 34.2L507.7 31.9L510.9 29.7L514.2 27.6L517.4 25.6L520.7 23.7L523.9 21.9L527.2 20.2L530.5 18.6L533.7 17.1L537 15.8L540.3 14.5L543.6 13.3L546.9 12.3L550.1 11.4L553.4 10.5L556.7 9.8L560 9.2M435.6 109.9L438.6 105.8L441.6 101.9L444.6 98L447.6 94.1L450.6 90.3L453.6 86.6L456.7 82.9L459.8 79.4L462.8 75.8L465.9 72.4L469 69L472.1 65.7L475.3 62.5L478.4 59.3L481.5 56.3L484.7 53.3L487.9 50.4L491 47.5L494.2 44.8L497.4 42.1L500.6 39.6L503.8 37.1L507.1 34.7L510.3 32.4L513.5 30.3L516.8 28.2L520 26.2L523.3 24.3L526.5 22.5L529.8 20.8L533.1 19.2L536.3 17.7L539.6 16.3L542.9 15.1L546.2 13.9L549.5 12.8L552.8 11.9L556 11.1L559.3 10.4L562.6 9.8M438.1 110.7L441.1 106.6L444.1 102.6L447.1 98.7L450.1 94.8L453.2 91L456.2 87.3L459.3 83.6L462.3 80L465.4 76.5L468.5 73L471.6 69.6L474.7 66.3L477.8 63.1L481 59.9L484.1 56.8L487.3 53.8L490.5 50.9L493.6 48.1L496.8 45.4L500 42.7L503.2 40.1L506.4 37.7L509.7 35.3L512.9 33L516.1 30.8L519.4 28.7L522.6 26.7L525.9 24.8L529.1 23L532.4 21.3L535.7 19.7L539 18.2L542.2 16.9L545.5 15.6L548.8 14.4L552.1 13.4L555.4 12.4L558.7 11.6L561.9 10.9L565.2 10.3M440.7 111.5L443.6 107.4L446.6 103.4L449.6 99.4L452.7 95.5L455.7 91.7L458.7 87.9L461.8 84.2L464.9 80.6L468 77.1L471.1 73.6L474.2 70.2L477.3 66.9L480.4 63.7L483.6 60.5L486.7 57.4L489.9 54.4L493 51.5L496.2 48.7L499.4 45.9L502.6 43.3L505.8 40.7L509 38.2L512.3 35.8L515.5 33.5L518.7 31.4L522 29.3L525.2 27.3L528.5 25.4L531.8 23.6L535 21.9L538.3 20.3L541.6 18.8L544.9 17.4L548.1 16.1L551.4 15L554.7 13.9L558 13L561.3 12.1L564.6 11.4L567.8 10.8M443.2 112.2L446.2 108.1L449.2 104.1L452.2 100.1L455.2 96.2L458.2 92.4L461.3 88.6L464.4 84.9L467.4 81.3L470.5 77.7L473.6 74.2L476.7 70.8L479.9 67.5L483 64.2L486.1 61.1L489.3 58L492.5 55L495.6 52L498.8 49.2L502 46.5L505.2 43.8L508.4 41.2L511.6 38.8L514.9 36.4L518.1 34.1L521.3 31.9L524.6 29.8L527.8 27.8L531.1 25.9L534.4 24.1L537.6 22.4L540.9 20.8L544.2 19.3L547.5 17.9L550.7 16.7L554 15.5L557.3 14.4L560.6 13.5L563.9 12.6L567.2 11.9L570.5 11.3M445.7 113L448.7 108.9L451.7 104.9L454.7 100.9L457.8 96.9L460.8 93.1L463.8 89.3L466.9 85.6L470 81.9L473.1 78.3L476.2 74.8L479.3 71.4L482.4 68.1L485.6 64.8L488.7 61.6L491.9 58.5L495 55.5L498.2 52.6L501.4 49.8L504.6 47L507.8 44.4L511 41.8L514.2 39.3L517.5 36.9L520.7 34.6L523.9 32.4L527.2 30.3L530.5 28.3L533.7 26.4L537 24.6L540.2 22.9L543.5 21.3L546.8 19.9L550.1 18.5L553.4 17.2L556.6 16L559.9 15L563.2 14L566.5 13.1L569.8 12.4L573.1 11.8M448.2 113.8L451.2 109.7L454.2 105.6L457.3 101.6L460.3 97.6L463.3 93.7L466.4 89.9L469.5 86.2L472.6 82.5L475.6 79L478.8 75.4L481.9 72L485 68.7L488.1 65.4L491.3 62.2L494.5 59.1L497.6 56.1L500.8 53.2L504 50.3L507.2 47.6L510.4 44.9L513.6 42.3L516.8 39.8L520.1 37.5L523.3 35.2L526.6 33L529.8 30.9L533.1 28.9L536.3 27L539.6 25.2L542.9 23.5L546.1 21.9L549.4 20.4L552.7 19L556 17.7L559.3 16.5L562.5 15.5L565.8 14.5L569.1 13.7L572.4 12.9L575.7 12.3M450.8 114.6L453.8 110.5L456.8 106.3L459.8 102.3L462.8 98.3L465.9 94.4L469 90.6L472 86.8L475.1 83.2L478.2 79.6L481.3 76.1L484.4 72.6L487.6 69.3L490.7 66L493.9 62.8L497 59.7L500.2 56.6L503.4 53.7L506.6 50.9L509.8 48.1L513 45.4L516.2 42.9L519.4 40.4L522.7 38L525.9 35.7L529.2 33.5L532.4 31.4L535.7 29.4L538.9 27.5L542.2 25.7L545.5 24L548.7 22.4L552 20.9L555.3 19.5L558.6 18.2L561.9 17L565.2 16L568.4 15L571.7 14.1L575 13.4L578.3 12.7M453.3 115.4L456.3 111.2L459.3 107.1L462.3 103L465.4 99L468.4 95.1L471.5 91.3L474.6 87.5L477.7 83.8L480.8 80.2L483.9 76.7L487 73.2L490.1 69.8L493.3 66.5L496.4 63.3L499.6 60.2L502.8 57.2L506 54.3L509.2 51.4L512.4 48.6L515.6 46L518.8 43.4L522 40.9L525.3 38.5L528.5 36.2L531.8 34L535 31.9L538.3 29.9L541.5 28L544.8 26.2L548.1 24.5L551.4 22.9L554.6 21.4L557.9 20L561.2 18.7L564.5 17.6L567.8 16.5L571 15.5L574.3 14.6L577.6 13.9L580.9 13.2M455.8 116.2L458.8 112L461.9 107.8L464.9 103.7L467.9 99.7L471 95.8L474.1 91.9L477.1 88.1L480.2 84.4L483.3 80.8L486.4 77.3L489.6 73.8L492.7 70.4L495.9 67.1L499 63.9L502.2 60.8L505.4 57.7L508.6 54.8L511.8 51.9L515 49.2L518.2 46.5L521.4 43.9L524.6 41.4L527.9 39L531.1 36.7L534.4 34.5L537.6 32.4L540.9 30.4L544.1 28.5L547.4 26.7L550.7 25L554 23.4L557.2 21.9L560.5 20.5L563.8 19.2L567.1 18L570.4 17L573.7 16L576.9 15.1L580.2 14.3L583.5 13.7M458.4 117L461.4 112.8L464.4 108.6L467.4 104.5L470.5 100.4L473.5 96.5L476.6 92.6L479.7 88.8L482.8 85.1L485.9 81.4L489 77.9L492.1 74.4L495.3 71L498.4 67.7L501.6 64.5L504.8 61.3L508 58.3L511.1 55.3L514.3 52.5L517.6 49.7L520.8 47L524 44.4L527.2 41.9L530.5 39.6L533.7 37.3L537 35.1L540.2 32.9L543.5 30.9L546.8 29L550 27.2L553.3 25.5L556.6 23.9L559.9 22.4L563.1 21L566.4 19.7L569.7 18.5L573 17.5L576.3 16.5L579.6 15.6L582.8 14.8L586.1 14.1M460.9 117.8L463.9 113.5L466.9 109.3L470 105.2L473 101.1L476.1 97.1L479.2 93.2L482.2 89.4L485.3 85.7L488.5 82L491.6 78.5L494.7 75L497.9 71.6L501 68.2L504.2 65L507.4 61.9L510.5 58.8L513.7 55.9L516.9 53L520.1 50.2L523.4 47.5L526.6 45L529.8 42.5L533.1 40.1L536.3 37.8L539.6 35.6L542.8 33.5L546.1 31.5L549.4 29.5L552.6 27.7L555.9 26L559.2 24.4L562.5 22.9L565.7 21.5L569 20.2L572.3 19L575.6 17.9L578.9 16.9L582.2 16.1L585.5 15.3L588.7 14.6M463.4 118.6L466.4 114.3L469.5 110.1L472.5 105.9L475.6 101.8L478.6 97.8L481.7 93.9L484.8 90.1L487.9 86.3L491 82.6L494.1 79.1L497.3 75.6L500.4 72.1L503.6 68.8L506.8 65.6L509.9 62.4L513.1 59.4L516.3 56.4L519.5 53.5L522.7 50.7L526 48.1L529.2 45.5L532.4 43L535.7 40.6L538.9 38.3L542.2 36.1L545.4 34L548.7 32L552 30L555.2 28.2L558.5 26.5L561.8 24.9L565.1 23.4L568.4 22L571.6 20.7L574.9 19.5L578.2 18.4L581.5 17.4L584.8 16.5L588.1 15.7L591.3 15M466 119.4L469 115.1L472 110.8L475 106.6L478.1 102.5L481.2 98.5L484.3 94.6L487.4 90.7L490.5 86.9L493.6 83.2L496.7 79.6L499.8 76.1L503 72.7L506.2 69.4L509.3 66.1L512.5 63L515.7 59.9L518.9 56.9L522.1 54.1L525.3 51.3L528.6 48.6L531.8 46L535 43.5L538.3 41.1L541.5 38.8L544.8 36.6L548 34.5L551.3 32.4L554.6 30.5L557.9 28.7L561.1 27L564.4 25.4L567.7 23.9L571 22.5L574.3 21.2L577.5 20L580.8 18.9L584.1 17.9L587.4 17L590.7 16.2L594 15.5M468.5 120.2L471.5 115.8L474.5 111.5L477.6 107.3L480.6 103.2L483.7 99.2L486.8 95.2L489.9 91.3L493 87.6L496.1 83.9L499.3 80.2L502.4 76.7L505.6 73.3L508.7 69.9L511.9 66.7L515.1 63.5L518.3 60.4L521.5 57.5L524.7 54.6L527.9 51.8L531.2 49.1L534.4 46.5L537.6 44L540.9 41.6L544.1 39.3L547.4 37.1L550.6 34.9L553.9 32.9L557.2 31L560.5 29.2L563.7 27.5L567 25.9L570.3 24.4L573.6 23L576.9 21.7L580.2 20.4L583.4 19.3L586.7 18.3L590 17.4L593.3 16.6L596.6 15.9M471 121L474 116.6L477.1 112.3L480.1 108.1L483.2 103.9L486.3 99.9L489.4 95.9L492.5 92L495.6 88.2L498.7 84.5L501.8 80.8L505 77.3L508.1 73.8L511.3 70.5L514.5 67.2L517.7 64L520.9 61L524.1 58L527.3 55.1L530.5 52.3L533.7 49.6L537 47L540.2 44.5L543.5 42.1L546.7 39.8L550 37.6L553.3 35.4L556.5 33.4L559.8 31.5L563.1 29.7L566.3 28L569.6 26.4L572.9 24.8L576.2 23.4L579.5 22.1L582.8 20.9L586.1 19.8L589.3 18.8L592.6 17.9L595.9 17L599.2 16.3M473.5 121.8L476.6 117.4L479.6 113L482.7 108.8L485.7 104.6L488.8 100.5L491.9 96.5L495 92.6L498.1 88.8L501.3 85.1L504.4 81.4L507.6 77.9L510.7 74.4L513.9 71L517.1 67.8L520.3 64.6L523.5 61.5L526.7 58.5L529.9 55.6L533.1 52.8L536.3 50.1L539.6 47.5L542.8 45L546.1 42.6L549.3 40.3L552.6 38L555.9 35.9L559.1 33.9L562.4 32L565.7 30.2L569 28.4L572.2 26.8L575.5 25.3L578.8 23.9L582.1 22.6L585.4 21.4L588.7 20.2L592 19.2L595.2 18.3L598.5 17.5L601.8 16.7M476.1 122.6L479.1 118.1L482.1 113.8L485.2 109.5L488.3 105.3L491.4 101.2L494.5 97.2L497.6 93.2L500.7 89.4L503.8 85.7L507 82L510.1 78.4L513.3 75L516.5 71.6L519.6 68.3L522.8 65.1L526 62L529.3 59L532.5 56.1L535.7 53.3L538.9 50.6L542.2 48L545.4 45.5L548.7 43L551.9 40.7L555.2 38.5L558.5 36.4L561.7 34.4L565 32.5L568.3 30.6L571.6 28.9L574.9 27.3L578.1 25.8L581.4 24.3L584.7 23L588 21.8L591.3 20.7L594.6 19.6L597.8 18.7L601.1 17.9L604.4 17.1M478.6 123.4L481.6 118.9L484.7 114.5L487.7 110.2L490.8 106L493.9 101.9L497 97.8L500.1 93.9L503.3 90L506.4 86.3L509.5 82.6L512.7 79L515.9 75.5L519 72.1L522.2 68.8L525.4 65.6L528.6 62.5L531.8 59.5L535.1 56.6L538.3 53.8L541.5 51.1L544.8 48.5L548 45.9L551.3 43.5L554.5 41.2L557.8 39L561.1 36.9L564.3 34.8L567.6 32.9L570.9 31.1L574.2 29.4L577.5 27.7L580.7 26.2L584 24.8L587.3 23.5L590.6 22.2L593.9 21.1L597.2 20.1L600.5 19.1L603.7 18.3L607 17.5M481.1 124.2L484.2 119.7L487.2 115.3L490.3 110.9L493.4 106.7L496.5 102.5L499.6 98.5L502.7 94.5L505.8 90.6L509 86.8L512.1 83.2L515.3 79.6L518.4 76.1L521.6 72.7L524.8 69.4L528 66.2L531.2 63L534.4 60L537.7 57.1L540.9 54.3L544.1 51.6L547.4 49L550.6 46.4L553.9 44L557.1 41.7L560.4 39.5L563.7 37.3L566.9 35.3L570.2 33.4L573.5 31.6L576.8 29.8L580.1 28.2L583.4 26.7L586.6 25.2L589.9 23.9L593.2 22.7L596.5 21.5L599.8 20.5L603.1 19.5L606.4 18.7L609.6 17.9M483.7 125L486.7 120.4L489.8 116L492.8 111.6L495.9 107.4L499 103.2L502.1 99.1L505.2 95.1L508.4 91.2L511.5 87.4L514.7 83.7L517.8 80.1L521 76.6L524.2 73.2L527.4 69.9L530.6 66.7L533.8 63.5L537 60.5L540.2 57.6L543.5 54.8L546.7 52.1L550 49.4L553.2 46.9L556.5 44.5L559.7 42.2L563 39.9L566.3 37.8L569.6 35.8L572.8 33.8L576.1 32L579.4 30.3L582.7 28.6L586 27.1L589.3 25.7L592.5 24.3L595.8 23.1L599.1 21.9L602.4 20.9L605.7 19.9L609 19.1L612.2 18.3M486.2 125.8L489.2 121.2L492.3 116.7L495.4 112.4L498.5 108.1L501.6 103.9L504.7 99.8L507.8 95.8L510.9 91.8L514.1 88L517.2 84.3L520.4 80.7L523.6 77.2L526.8 73.7L530 70.4L533.2 67.2L536.4 64.1L539.6 61L542.8 58.1L546.1 55.3L549.3 52.5L552.6 49.9L555.8 47.4L559.1 44.9L562.3 42.6L565.6 40.4L568.9 38.3L572.2 36.2L575.4 34.3L578.7 32.5L582 30.7L585.3 29.1L588.6 27.5L591.9 26.1L595.2 24.8L598.4 23.5L601.7 22.4L605 21.3L608.3 20.3L611.6 19.5L614.9 18.7M488.7 126.6L491.8 122L494.8 117.5L497.9 113.1L501 108.8L504.1 104.5L507.2 100.4L510.3 96.4L513.5 92.5L516.6 88.6L519.8 84.9L523 81.3L526.2 77.7L529.3 74.3L532.5 70.9L535.8 67.7L539 64.6L542.2 61.5L545.4 58.6L548.7 55.7L551.9 53L555.2 50.4L558.4 47.8L561.7 45.4L564.9 43.1L568.2 40.8L571.5 38.7L574.8 36.7L578.1 34.7L581.3 32.9L584.6 31.2L587.9 29.5L591.2 28L594.5 26.5L597.8 25.2L601.1 23.9L604.3 22.8L607.6 21.7L610.9 20.7L614.2 19.8L617.5 19.1M491.2 127.4L494.3 122.7L497.4 118.2L500.4 113.8L503.5 109.4L506.7 105.2L509.8 101.1L512.9 97L516 93.1L519.2 89.2L522.4 85.5L525.5 81.8L528.7 78.3L531.9 74.8L535.1 71.5L538.3 68.2L541.6 65.1L544.8 62L548 59.1L551.3 56.2L554.5 53.5L557.8 50.8L561 48.3L564.3 45.9L567.6 43.5L570.8 41.3L574.1 39.1L577.4 37.1L580.7 35.2L583.9 33.3L587.2 31.6L590.5 29.9L593.8 28.4L597.1 26.9L600.4 25.6L603.7 24.3L607 23.2L610.2 22.1L613.5 21.1L616.8 20.2L620.1 19.4M493.8 128.2L496.8 123.5L499.9 119L503 114.5L506.1 110.1L509.2 105.9L512.3 101.7L515.5 97.6L518.6 93.7L521.8 89.8L524.9 86L528.1 82.4L531.3 78.8L534.5 75.3L537.7 72L540.9 68.7L544.1 65.6L547.4 62.5L550.6 59.6L553.9 56.7L557.1 54L560.4 51.3L563.6 48.8L566.9 46.3L570.2 44L573.4 41.7L576.7 39.6L580 37.5L583.3 35.6L586.6 33.8L589.8 32L593.1 30.4L596.4 28.8L599.7 27.4L603 26L606.3 24.7L609.6 23.6L612.9 22.5L616.1 21.5L619.4 20.6L622.7 19.8M496.3 129L499.4 124.3L502.4 119.7L505.5 115.2L508.6 110.8L511.7 106.5L514.9 102.3L518 98.2L521.2 94.3L524.3 90.4L527.5 86.6L530.7 82.9L533.9 79.3L537.1 75.9L540.3 72.5L543.5 69.2L546.7 66.1L550 63L553.2 60L556.4 57.2L559.7 54.4L563 51.8L566.2 49.2L569.5 46.8L572.8 44.4L576 42.2L579.3 40L582.6 38L585.9 36L589.2 34.2L592.5 32.4L595.7 30.8L599 29.2L602.3 27.8L605.6 26.4L608.9 25.1L612.2 23.9L615.5 22.8L618.8 21.8L622 20.9L625.3 20.1M498.8 129.8L501.9 125.1L505 120.4L508.1 115.9L511.2 111.5L514.3 107.2L517.4 103L520.6 98.9L523.7 94.9L526.9 91L530.1 87.2L533.3 83.5L536.4 79.9L539.6 76.4L542.9 73L546.1 69.7L549.3 66.5L552.5 63.5L555.8 60.5L559 57.6L562.3 54.9L565.6 52.2L568.8 49.7L572.1 47.2L575.4 44.9L578.6 42.6L581.9 40.5L585.2 38.4L588.5 36.5L591.8 34.6L595.1 32.8L598.4 31.2L601.6 29.6L604.9 28.2L608.2 26.8L611.5 25.5L614.8 24.3L618.1 23.2L621.4 22.2L624.7 21.3L627.9 20.5M501.3 130.6L504.4 125.8L507.5 121.2L510.6 116.6L513.7 112.2L516.8 107.9L520 103.6L523.1 99.5L526.3 95.5L529.5 91.5L532.6 87.7L535.8 84L539 80.4L542.2 76.9L545.4 73.5L548.7 70.2L551.9 67L555.1 63.9L558.4 61L561.6 58.1L564.9 55.3L568.2 52.7L571.4 50.1L574.7 47.6L578 45.3L581.2 43L584.5 40.9L587.8 38.8L591.1 36.9L594.4 35L597.7 33.2L601 31.6L604.3 30L607.6 28.5L610.8 27.2L614.1 25.9L617.4 24.7L620.7 23.6L624 22.6L627.3 21.6L630.6 20.8M503.9 131.4L507 126.6L510 121.9L513.1 117.3L516.3 112.9L519.4 108.5L522.5 104.3L525.7 100.1L528.8 96.1L532 92.1L535.2 88.3L538.4 84.6L541.6 80.9L544.8 77.4L548 74L551.2 70.7L554.5 67.5L557.7 64.4L561 61.4L564.2 58.6L567.5 55.8L570.7 53.1L574 50.5L577.3 48.1L580.6 45.7L583.9 43.5L587.1 41.3L590.4 39.2L593.7 37.3L597 35.4L600.3 33.6L603.6 32L606.9 30.4L610.2 28.9L613.5 27.5L616.7 26.2L620 25L623.3 23.9L626.6 22.9L629.9 22L633.2 21.1M506.4 132.2L509.5 127.4L512.6 122.6L515.7 118.1L518.8 113.6L521.9 109.2L525.1 104.9L528.2 100.7L531.4 96.6L534.6 92.7L537.8 88.8L541 85.1L544.2 81.5L547.4 77.9L550.6 74.5L553.8 71.2L557.1 68L560.3 64.9L563.6 61.9L566.8 59L570.1 56.2L573.3 53.5L576.6 51L579.9 48.5L583.2 46.1L586.5 43.9L589.7 41.7L593 39.6L596.3 37.7L599.6 35.8L602.9 34L606.2 32.4L609.5 30.8L612.8 29.3L616.1 27.9L619.4 26.6L622.7 25.4L625.9 24.3L629.2 23.2L632.5 22.3L635.8 21.4M508.9 133L512 128.1L515.1 123.4L518.2 118.8L521.4 114.2L524.5 109.8L527.6 105.5L530.8 101.3L534 97.2L537.1 93.3L540.3 89.4L543.5 85.6L546.7 82L550 78.4L553.2 75L556.4 71.7L559.7 68.5L562.9 65.4L566.2 62.4L569.4 59.5L572.7 56.7L575.9 54L579.2 51.4L582.5 48.9L585.8 46.6L589.1 44.3L592.4 42.1L595.6 40L598.9 38.1L602.2 36.2L605.5 34.4L608.8 32.7L612.1 31.2L615.4 29.7L618.7 28.3L622 27L625.3 25.7L628.6 24.6L631.8 23.6L635.1 22.6L638.4 21.7M511.5 133.8L514.5 128.9L517.6 124.1L520.8 119.5L523.9 114.9L527 110.5L530.2 106.2L533.4 101.9L536.5 97.8L539.7 93.8L542.9 89.9L546.1 86.2L549.3 82.5L552.5 78.9L555.8 75.5L559 72.2L562.2 68.9L565.5 65.8L568.7 62.8L572 59.9L575.3 57.1L578.5 54.4L581.8 51.8L585.1 49.3L588.4 47L591.7 44.7L595 42.5L598.3 40.4L601.5 38.5L604.8 36.6L608.1 34.8L611.4 33.1L614.7 31.5L618 30L621.3 28.6L624.6 27.3L627.9 26.1L631.2 24.9L634.5 23.9L637.7 22.9L641 22M514 134.6L517.1 129.7L520.2 124.9L523.3 120.2L526.4 115.6L529.6 111.1L532.7 106.8L535.9 102.5L539.1 98.4L542.3 94.4L545.5 90.5L548.7 86.7L551.9 83L555.1 79.4L558.3 76L561.6 72.6L564.8 69.4L568.1 66.3L571.3 63.3L574.6 60.3L577.9 57.5L581.1 54.8L584.4 52.2L587.7 49.8L591 47.4L594.3 45.1L597.6 42.9L600.9 40.8L604.2 38.9L607.4 37L610.7 35.2L614 33.5L617.3 31.9L620.6 30.4L623.9 29L627.2 27.6L630.5 26.4L633.8 25.3L637.1 24.2L640.4 23.2L643.6 22.3M516.5 135.4L519.6 130.4L522.7 125.6L525.8 120.9L529 116.3L532.1 111.8L535.3 107.4L538.5 103.1L541.6 99L544.8 95L548 91L551.2 87.2L554.5 83.5L557.7 79.9L560.9 76.5L564.2 73.1L567.4 69.9L570.7 66.7L573.9 63.7L577.2 60.8L580.5 58L583.7 55.3L587 52.7L590.3 50.2L593.6 47.8L596.9 45.5L600.2 43.3L603.5 41.2L606.8 39.2L610.1 37.3L613.4 35.6L616.7 33.9L620 32.2L623.2 30.7L626.5 29.3L629.8 28L633.1 26.7L636.4 25.6L639.7 24.5L643 23.5L646.3 22.6M519 136.2L522.1 131.2L525.3 126.3L528.4 121.6L531.5 117L534.7 112.4L537.8 108L541 103.8L544.2 99.6L547.4 95.5L550.6 91.6L553.8 87.8L557 84L560.3 80.4L563.5 77L566.8 73.6L570 70.3L573.3 67.2L576.5 64.1L579.8 61.2L583.1 58.4L586.3 55.7L589.6 53.1L592.9 50.6L596.2 48.2L599.5 45.9L602.8 43.7L606.1 41.6L609.4 39.6L612.7 37.7L616 35.9L619.3 34.2L622.6 32.6L625.9 31.1L629.2 29.6L632.5 28.3L635.7 27L639 25.9L642.3 24.8L645.6 23.8L648.9 22.8M521.6 137L524.7 132L527.8 127.1L530.9 122.3L534.1 117.6L537.2 113.1L540.4 108.7L543.6 104.4L546.8 100.2L550 96.1L553.2 92.1L556.4 88.3L559.6 84.6L562.9 80.9L566.1 77.4L569.3 74.1L572.6 70.8L575.9 67.6L579.1 64.6L582.4 61.6L585.7 58.8L589 56.1L592.2 53.5L595.5 51L598.8 48.6L602.1 46.3L605.4 44.1L608.7 42L612 40L615.3 38.1L618.6 36.3L621.9 34.6L625.2 32.9L628.5 31.4L631.8 30L635.1 28.6L638.4 27.4L641.7 26.2L644.9 25.1L648.2 24.1L651.5 23.1M524.1 137.8L527.2 132.7L530.3 127.8L533.5 123L536.6 118.3L539.8 113.7L543 109.3L546.1 105L549.3 100.7L552.5 96.6L555.7 92.7L559 88.8L562.2 85.1L565.4 81.4L568.7 77.9L571.9 74.5L575.2 71.2L578.4 68.1L581.7 65L585 62.1L588.3 59.2L591.6 56.5L594.8 53.9L598.1 51.4L601.4 48.9L604.7 46.6L608 44.4L611.3 42.3L614.6 40.3L617.9 38.4L621.2 36.6L624.5 34.9L627.8 33.3L631.1 31.7L634.4 30.3L637.7 28.9L641 27.7L644.3 26.5L647.6 25.4L650.9 24.3L654.1 23.4M526.6 138.6L529.7 133.5L532.9 128.5L536 123.7L539.2 119L542.3 114.4L545.5 109.9L548.7 105.6L551.9 101.3L555.1 97.2L558.3 93.2L561.5 89.3L564.8 85.6L568 81.9L571.3 78.4L574.5 75L577.8 71.7L581 68.5L584.3 65.4L587.6 62.5L590.9 59.6L594.2 56.9L597.4 54.3L600.7 51.7L604 49.3L607.3 47L610.6 44.8L613.9 42.7L617.2 40.7L620.5 38.8L623.8 37L627.1 35.2L630.4 33.6L633.7 32.1L637 30.6L640.3 29.2L643.6 28L646.9 26.7L650.2 25.6L653.5 24.6L656.8 23.6M529.1 139.4L532.3 134.3L535.4 129.3L538.5 124.4L541.7 119.7L544.9 115L548.1 110.5L551.2 106.2L554.5 101.9L557.7 97.8L560.9 93.7L564.1 89.8L567.3 86.1L570.6 82.4L573.8 78.9L577.1 75.4L580.4 72.1L583.6 68.9L586.9 65.9L590.2 62.9L593.5 60L596.8 57.3L600 54.7L603.3 52.1L606.6 49.7L609.9 47.4L613.2 45.2L616.5 43.1L619.8 41L623.1 39.1L626.4 37.3L629.7 35.6L633 33.9L636.3 32.4L639.6 30.9L642.9 29.5L646.2 28.2L649.5 27L652.8 25.9L656.1 24.8L659.4 23.8M531.7 140.2L534.8 135L537.9 130L541.1 125.1L544.2 120.3L547.4 115.7L550.6 111.2L553.8 106.8L557 102.5L560.2 98.3L563.5 94.3L566.7 90.4L569.9 86.6L573.2 82.9L576.4 79.3L579.7 75.9L583 72.6L586.2 69.4L589.5 66.3L592.8 63.3L596.1 60.4L599.4 57.7L602.7 55L605.9 52.5L609.2 50.1L612.5 47.7L615.8 45.5L619.1 43.4L622.4 41.4L625.8 39.5L629.1 37.6L632.4 35.9L635.7 34.2L639 32.7L642.3 31.2L645.6 29.8L648.9 28.5L652.1 27.3L655.4 26.1L658.7 25.1L662 24.1M534.2 141L537.3 135.8L540.5 130.7L543.6 125.8L546.8 121L550 116.3L553.2 111.8L556.4 107.3L559.6 103L562.8 98.9L566 94.8L569.3 90.9L572.5 87.1L575.8 83.4L579 79.8L582.3 76.3L585.5 73L588.8 69.8L592.1 66.7L595.4 63.7L598.7 60.8L602 58.1L605.3 55.4L608.6 52.9L611.9 50.4L615.2 48.1L618.5 45.9L621.8 43.7L625.1 41.7L628.4 39.8L631.7 37.9L635 36.2L638.3 34.5L641.6 33L644.9 31.5L648.2 30.1L651.5 28.8L654.8 27.5L658.1 26.4L661.3 25.3L664.6 24.3M536.7 141.8L539.9 136.6L543 131.5L546.2 126.5L549.3 121.7L552.5 117L555.7 112.4L558.9 107.9L562.1 103.6L565.4 99.4L568.6 95.3L571.8 91.4L575.1 87.5L578.3 83.8L581.6 80.2L584.9 76.8L588.1 73.4L591.4 70.2L594.7 67.1L598 64.1L601.3 61.2L604.6 58.4L607.9 55.8L611.2 53.2L614.5 50.8L617.8 48.5L621.1 46.2L624.4 44.1L627.7 42L631 40.1L634.3 38.3L637.6 36.5L640.9 34.8L644.2 33.3L647.5 31.8L650.8 30.4L654.1 29L657.4 27.8L660.7 26.6L664 25.5L667.3 24.5M539.2 142.6L542.4 137.3L545.5 132.2L548.7 127.2L551.9 122.4L555.1 117.6L558.3 113L561.5 108.5L564.7 104.2L567.9 100L571.2 95.9L574.4 91.9L577.7 88L580.9 84.3L584.2 80.7L587.4 77.2L590.7 73.9L594 70.6L597.3 67.5L600.6 64.5L603.9 61.6L607.2 58.8L610.5 56.2L613.8 53.6L617.1 51.1L620.4 48.8L623.7 46.6L627 44.4L630.3 42.4L633.6 40.4L636.9 38.6L640.2 36.8L643.5 35.1L646.8 33.6L650.1 32.1L653.4 30.6L656.7 29.3L660 28L663.3 26.9L666.6 25.7L669.9 24.7" stroke="#000" stroke-opacity="0.8" stroke-width="0.14" fill="none"/>
<path d="M414.1 103.1L435.2 109.7L456.3 116.4L477.3 123L498.4 129.6L519.5 136.3L540.5 143M416.4 100.1L437.6 106.5L458.7 113L479.8 119.4L500.9 125.9L521.9 132.3L543 138.7M418.8 97L439.9 103.3L461.1 109.6L482.2 115.9L503.3 122.1L524.4 128.4L545.5 134.6M421.2 94L442.3 100.2L463.5 106.3L484.6 112.4L505.8 118.5L526.9 124.5L548.1 130.6M423.6 91L444.7 97.1L465.9 103.1L487.1 109L508.3 114.9L529.4 120.8L550.6 126.6M425.9 88.1L447.2 94L468.4 99.8L489.6 105.6L510.8 111.4L532 117.1L553.2 122.7M428.3 85.2L449.6 91L470.8 96.7L492 102.3L513.2 107.9L534.5 113.4L555.7 118.9M430.7 82.3L452 88L473.2 93.6L494.5 99.1L515.7 104.5L537 109.9L558.3 115.1M433.2 79.4L454.4 85L475.7 90.5L497 95.9L518.3 101.2L539.5 106.4L560.8 111.5M435.6 76.6L456.9 82.1L478.2 87.5L499.5 92.8L520.8 98L542.1 103L563.4 107.9M438 73.8L459.3 79.2L480.7 84.5L502 89.7L523.3 94.8L544.6 99.7L566 104.5M440.5 71.1L461.8 76.4L483.1 81.6L504.5 86.7L525.8 91.6L547.2 96.4L568.6 101.1M442.9 68.4L464.3 73.6L485.6 78.8L507 83.7L528.4 88.6L549.8 93.2L571.2 97.7M445.3 65.7L466.7 70.9L488.1 76L509.5 80.8L530.9 85.6L552.3 90.1L573.7 94.5M447.8 63.1L469.2 68.2L490.6 73.2L512 78L533.5 82.6L554.9 87.1L576.3 91.4M450.3 60.5L471.7 65.6L493.1 70.5L514.6 75.2L536 79.8L557.5 84.1L578.9 88.3M452.8 58L474.2 63L495.7 67.9L517.1 72.5L538.6 77L560.1 81.2L581.6 85.3M455.2 55.5L476.7 60.5L498.2 65.3L519.7 69.9L541.1 74.3L562.6 78.4L584.2 82.4M457.7 53L479.2 58L500.7 62.7L522.2 67.3L543.7 71.6L565.2 75.7L586.8 79.5M460.2 50.6L481.7 55.6L503.3 60.3L524.8 64.7L546.3 69L567.8 73L589.4 76.8M462.7 48.3L484.3 53.2L505.8 57.8L527.3 62.3L548.9 66.5L570.4 70.4L592 74.1M465.2 46L486.8 50.8L508.4 55.5L529.9 59.9L551.5 64L573 67.9L594.6 71.5M467.8 43.7L489.3 48.6L510.9 53.2L532.5 57.5L554.1 61.6L575.7 65.4L597.3 68.9M470.3 41.5L491.9 46.3L513.5 50.9L535.1 55.2L556.7 59.3L578.3 63L599.9 66.5M472.8 39.4L494.4 44.2L516 48.7L537.6 53L559.3 57L580.9 60.7L602.5 64.1M475.4 37.3L497 42.1L518.6 46.6L540.2 50.8L561.9 54.8L583.5 58.5L605.2 61.8M477.9 35.2L499.6 40L521.2 44.5L542.8 48.7L564.5 52.7L586.1 56.3L607.8 59.6M480.5 33.2L502.1 38L523.8 42.5L545.4 46.7L567.1 50.6L588.8 54.2L610.5 57.4M483 31.3L504.7 36.1L526.4 40.5L548 44.7L569.7 48.6L591.4 52.1L613.1 55.3M485.6 29.4L507.3 34.2L529 38.7L550.6 42.8L572.3 46.7L594 50.1L615.7 53.3M488.2 27.6L509.9 32.4L531.5 36.8L553.2 41L574.9 44.8L596.6 48.2L618.4 51.3M490.7 25.8L512.4 30.6L534.1 35.1L555.8 39.2L577.5 43L599.3 46.4L621 49.4M493.3 24.1L515 28.9L536.8 33.4L558.5 37.5L580.2 41.2L601.9 44.6L623.7 47.6M495.9 22.5L517.6 27.3L539.4 31.7L561.1 35.8L582.8 39.5L604.5 42.9L626.3 45.9M498.5 20.9L520.2 25.7L542 30.1L563.7 34.2L585.4 37.9L607.2 41.3L629 44.2M501.1 19.4L522.8 24.2L544.6 28.6L566.3 32.7L588.1 36.4L609.8 39.7L631.6 42.5M503.7 17.9L525.4 22.7L547.2 27.2L568.9 31.2L590.7 34.9L612.5 38.1L634.3 41M506.3 16.5L528.1 21.3L549.8 25.8L571.6 29.8L593.3 33.5L615.1 36.7L636.9 39.5M508.9 15.2L530.7 20L552.4 24.5L574.2 28.5L595.9 32.1L617.7 35.3L639.5 38M511.5 14L533.3 18.8L555.1 23.2L576.8 27.2L598.6 30.8L620.4 33.9L642.2 36.6M514.1 12.8L535.9 17.6L557.7 22L579.4 26L601.2 29.6L623 32.7L644.8 35.3M516.7 11.7L538.5 16.5L560.3 20.9L582.1 24.8L603.8 28.4L625.6 31.4L647.5 34M519.4 10.7L541.2 15.5L562.9 19.8L584.7 23.8L606.5 27.3L628.3 30.3L650.1 32.8M522 9.7L543.8 14.5L565.6 18.8L587.3 22.7L609.1 26.2L630.9 29.2L652.8 31.6M524.6 8.8L546.4 13.6L568.2 17.9L590 21.8L611.7 25.2L633.5 28.1L655.4 30.5M527.2 8L549 12.7L570.8 17L592.6 20.9L614.4 24.2L636.2 27.1L658 29.4M529.9 7.3L551.7 12L573.4 16.3L595.2 20.1L617 23.4L638.8 26.2L660.7 28.4M532.5 6.6L554.3 11.3L576.1 15.5L597.8 19.3L619.6 22.5L641.4 25.3L663.3 27.4M535.1 6L556.9 10.7L578.7 14.9L600.5 18.6L622.3 21.8L644.1 24.4L665.9 26.5M537.8 5.5L559.6 10.1L581.3 14.3L603.1 17.9L624.9 21.1L646.7 23.6L668.6 25.6M540.4 5.1L562.2 9.7L583.9 13.8L605.7 17.3L627.5 20.4L649.3 22.9L671.2 24.8M415.3 101.6L436.4 108.1L457.5 114.7L478.5 121.2L499.6 127.7L520.7 134.3L541.8 140.8M417.6 98.5L438.7 104.9L459.9 111.3L481 117.6L502.1 124L523.2 130.3L544.3 136.7M420 95.5L441.1 101.7L462.3 108L483.4 114.1L504.5 120.3L525.7 126.5L546.8 132.6M422.4 92.5L443.5 98.6L464.7 104.7L485.9 110.7L507 116.7L528.2 122.6L549.3 128.6M424.8 89.5L445.9 95.5L467.1 101.4L488.3 107.3L509.5 113.1L530.7 118.9L551.9 124.6M427.1 86.6L448.4 92.5L469.6 98.3L490.8 104L512 109.7L533.2 115.2L554.4 120.8M429.5 83.7L450.8 89.5L472 95.1L493.3 100.7L514.5 106.2L535.7 111.7L557 117M432 80.8L453.2 86.5L474.5 92L495.7 97.5L517 102.9L538.3 108.1L559.5 113.3M434.4 78L455.7 83.6L476.9 89L498.2 94.3L519.5 99.6L540.8 104.7L562.1 109.7M436.8 75.2L458.1 80.7L479.4 86L500.7 91.2L522 96.4L543.4 101.3L564.7 106.2M439.2 72.5L460.6 77.8L481.9 83.1L503.2 88.2L524.6 93.2L545.9 98L567.3 102.8M441.7 69.7L463 75L484.4 80.2L505.7 85.2L527.1 90.1L548.5 94.8L569.9 99.4M444.1 67.1L465.5 72.3L486.9 77.4L508.3 82.3L529.6 87.1L551 91.7L572.4 96.1M446.6 64.4L468 69.6L489.4 74.6L510.8 79.4L532.2 84.1L553.6 88.6L575 92.9M449 61.8L470.5 66.9L491.9 71.9L513.3 76.6L534.7 81.2L556.2 85.6L577.6 89.8M451.5 59.3L473 64.3L494.4 69.2L515.8 73.9L537.3 78.4L558.8 82.7L580.2 86.8M454 56.7L475.5 61.7L496.9 66.6L518.4 71.2L539.9 75.6L561.3 79.8L582.9 83.8M456.5 54.3L478 59.2L499.5 64L520.9 68.6L542.4 72.9L563.9 77L585.5 80.9M459 51.8L480.5 56.8L502 61.5L523.5 66L545 70.3L566.5 74.3L588.1 78.1M461.5 49.5L483 54.4L504.5 59L526.1 63.5L547.6 67.7L569.1 71.7L590.7 75.4M464 47.1L485.5 52L507.1 56.6L528.6 61.1L550.2 65.2L571.7 69.1L593.3 72.8M466.5 44.8L488.1 49.7L509.6 54.3L531.2 58.7L552.8 62.8L574.3 66.6L596 70.2M469 42.6L490.6 47.4L512.2 52L533.8 56.4L555.4 60.4L577 64.2L598.6 67.7M471.6 40.4L493.2 45.2L514.8 49.8L536.4 54.1L558 58.1L579.6 61.9L601.2 65.3M474.1 38.3L495.7 43.1L517.3 47.6L538.9 51.9L560.6 55.9L582.2 59.6L603.9 62.9M476.6 36.2L498.3 41L519.9 45.5L541.5 49.8L563.2 53.7L584.8 57.4L606.5 60.7M479.2 34.2L500.8 39L522.5 43.5L544.1 47.7L565.8 51.6L587.4 55.2L609.1 58.5M481.7 32.2L503.4 37L525.1 41.5L546.7 45.7L568.4 49.6L590.1 53.1L611.8 56.3M484.3 30.3L506 35.1L527.7 39.6L549.3 43.8L571 47.6L592.7 51.1L614.4 54.3M486.9 28.5L508.6 33.3L530.2 37.7L551.9 41.9L573.6 45.7L595.3 49.2L617.1 52.3M489.4 26.7L511.2 31.5L532.8 35.9L554.5 40.1L576.2 43.9L598 47.3L619.7 50.4M492 25L513.7 29.7L535.4 34.2L557.2 38.3L578.9 42.1L600.6 45.5L622.3 48.5M494.6 23.3L516.3 28.1L538.1 32.5L559.8 36.6L581.5 40.4L603.2 43.8L625 46.7M497.2 21.7L518.9 26.5L540.7 30.9L562.4 35L584.1 38.7L605.9 42.1L627.6 45M499.8 20.1L521.5 24.9L543.3 29.4L565 33.4L586.7 37.1L608.5 40.5L630.3 43.3M502.4 18.6L524.1 23.4L545.9 27.9L567.6 31.9L589.4 35.6L611.1 38.9L632.9 41.7M505 17.2L526.8 22L548.5 26.5L570.2 30.5L592 34.2L613.8 37.4L635.6 40.2M507.6 15.9L529.4 20.7L551.1 25.1L572.9 29.1L594.6 32.8L616.4 36L638.2 38.7M510.2 14.6L532 19.4L553.7 23.8L575.5 27.8L597.3 31.4L619 34.6L640.9 37.3M512.8 13.4L534.6 18.2L556.4 22.6L578.1 26.6L599.9 30.2L621.7 33.3L643.5 35.9M515.4 12.3L537.2 17L559 21.4L580.8 25.4L602.5 29L624.3 32L646.2 34.6M518.1 11.2L539.8 16L561.6 20.3L583.4 24.3L605.2 27.8L627 30.8L648.8 33.4M520.7 10.2L542.5 15L564.2 19.3L586 23.2L607.8 26.7L629.6 29.7L651.4 32.2M523.3 9.3L545.1 14L566.9 18.4L588.6 22.3L610.4 25.7L632.2 28.6L654.1 31M525.9 8.4L547.7 13.2L569.5 17.5L591.3 21.3L613.1 24.7L634.9 27.6L656.7 30M528.6 7.6L550.4 12.4L572.1 16.6L593.9 20.5L615.7 23.8L637.5 26.6L659.4 28.9M531.2 6.9L553 11.6L574.8 15.9L596.5 19.7L618.3 22.9L640.1 25.7L662 27.9M533.8 6.3L555.6 11L577.4 15.2L599.2 18.9L620.9 22.1L642.8 24.8L664.6 27M536.5 5.8L558.2 10.4L580 14.6L601.8 18.2L623.6 21.4L645.4 24L667.3 26.1M539.1 5.3L560.9 9.9L582.6 14L604.4 17.6L626.2 20.7L648 23.3L669.9 25.2" stroke="#000" stroke-opacity="0.8" stroke-width="0.34" fill="none"/>
<ellipse cx="413.8" cy="103.5" rx="2.1" ry="1.9" fill="#ffc0c0" stroke="#e88" stroke-width="0.4"/>
<ellipse cx="540.6" cy="142.8" rx="2.3" ry="2" fill="#ff0000" stroke="none" stroke-width="0.4"/>
<ellipse cx="672.2" cy="24.6" rx="2.3" ry="2" fill="#ff0000" stroke="none" stroke-width="0.4"/>
<ellipse cx="540.5" cy="47.3" rx="2.3" ry="2" fill="#ff0000" stroke="none" stroke-width="0.4"/>
<ellipse cx="540.4" cy="3.4" rx="1.6" ry="1.2" fill="#e8c8c8" stroke="none" stroke-width="0.4"/>
<g fill="#000"><circle cx="414.7" cy="112.2" r="0.7"/><circle cx="413.2" cy="90" r="0.7"/><circle cx="411.7" cy="67.8" r="0.7"/><circle cx="410.1" cy="45.5" r="0.7"/><circle cx="408.6" cy="23.3" r="0.7"/><circle cx="416.6" cy="139.8" r="0.7"/><circle cx="441.4" cy="148" r="0.7"/><circle cx="466.2" cy="156.1" r="0.7"/><circle cx="490.9" cy="164.3" r="0.7"/><circle cx="515.7" cy="172.4" r="0.7"/><circle cx="540.5" cy="180.6" r="0.7"/><circle cx="540.5" cy="180.6" r="0.7"/><circle cx="565.2" cy="172.4" r="0.7"/><circle cx="589.9" cy="164.3" r="0.7"/><circle cx="614.5" cy="156.1" r="0.7"/><circle cx="639.2" cy="148" r="0.7"/><circle cx="663.9" cy="139.8" r="0.7"/></g>
<g font-size="4.5" font-weight="bold" fill="#000" stroke="#000" stroke-width="0.18" style="mix-blend-mode:multiply"><text x="412.51" y="111.53" text-anchor="end" font-size="4.1">20</text><text x="410.98" y="89.3" text-anchor="end" font-size="4.1">40</text><text x="409.45" y="67.07" text-anchor="end" font-size="4.1">60</text><text x="407.93" y="44.83" text-anchor="end" font-size="4.1">80</text><text x="406.4" y="22.6" text-anchor="end" font-size="4.1">100</text><text transform="translate(414.6 144.75) scale(0.9 1)" text-anchor="end">60.00</text><text transform="translate(439.38 152.91) scale(0.9 1)" text-anchor="end">52.00</text><text transform="translate(464.16 161.07) scale(0.9 1)" text-anchor="end">44.00</text><text transform="translate(488.94 169.23) scale(0.9 1)" text-anchor="end">36.00</text><text transform="translate(513.72 177.39) scale(0.9 1)" text-anchor="end">28.00</text><text transform="translate(538.5 185.55) scale(0.9 1)" text-anchor="end">20.00</text><text transform="translate(542.9 184.7) scale(0.9 1)">7.50</text><text transform="translate(567.58 176.54) scale(0.9 1)">7.80</text><text transform="translate(592.26 168.38) scale(0.9 1)">8.10</text><text transform="translate(616.94 160.22) scale(0.9 1)">8.40</text><text transform="translate(641.62 152.06) scale(0.9 1)">8.70</text><text transform="translate(666.3 143.9) scale(0.9 1)">9.00</text></g>
<g font-size="7.3" fill="#000" stroke="#000" stroke-width="0.3" style="mix-blend-mode:multiply"><text x="388.4" y="177.5" textLength="84.5" lengthAdjust="spacingAndGlyphs">Chitosan concentration (mg/L)</text><text x="645.7" y="177.5" textLength="8.3" lengthAdjust="spacingAndGlyphs">pH</text><text transform="translate(369.2 119.3) rotate(-90)" textLength="72.0" lengthAdjust="spacingAndGlyphs">Flocculation efficiency(%)</text></g>
<path d="M250.6 330.8L242.2 214M273.6 297.4L268.5 209.8M298.7 291.6L294.8 205.7M323.7 285.8L321.2 201.5M348.8 280L347.5 197.4M373.8 299.3L373.8 193.2M386.4 277.1L387.1 195.3M399 280L400.3 197.4M411.6 282.8L413.5 199.4M424.2 285.7L426.8 201.5M436.8 288.6L440.1 203.6M449.4 291.5L453.3 205.7M462 294.4L466.5 207.8M474.6 297.2L479.8 209.8M487.2 300.1L493.1 211.9M497.8 330.6L506.3 214M248.6 303.2L373.8 274.2M373.8 274.2L499.8 303M247 280.9L373.8 253.9M373.8 253.9L501.4 280.8M245.4 258.6L373.8 233.7M373.8 233.7L503.1 258.5M243.8 236.3L373.8 213.4M373.8 213.4L504.7 236.3M242.2 214L373.8 193.2M373.8 193.2L506.3 214" stroke="#4a4a4a" stroke-width="0.45" fill="none"/>
<polygon points="250.6,330.8 373.8,372 497.8,330.6 373.8,299.3" fill="#ffff00" stroke="#3a3a00" stroke-width="0.5"/>
<path d="M287.4 342.8C290.4 341.3 298.6 336.3 305.2 333.7C311.8 331.1 319.8 329 327 327.2C334.2 325.4 341.5 324 348.7 322.8C355.9 321.6 363.1 320.9 370.4 320.2C377.6 319.5 384.9 318.8 392.2 318.4C399.5 318 407 317.8 414.4 317.9C421.8 318 429.2 318.4 436.6 319C444 319.6 453.2 320.8 458.8 321.6C464.4 322.4 468.1 323.3 470 323.6" fill="none" stroke="#66ffaa" stroke-width="0.7"/>
<polyline points="250.6,330.8 373.8,372 497.8,330.6" fill="none" stroke="#222" stroke-width="0.35"/>
<ellipse cx="373.8" cy="211.3" rx="2.6" ry="2" fill="#ff0000"/>
<g stroke-width="0.6" stroke-linejoin="round"><path d="M243.7 234.8L250.2 233.7L256.7 235.6L250.2 236.7z" fill="#ffde00" stroke="#ffde00"/><path d="M250.2 236.7L256.7 235.6L263.2 237.5L256.7 238.7z" fill="#ffe100" stroke="#ffe100"/><path d="M256.7 238.7L263.2 237.5L269.8 239.4L263.3 240.6z" fill="#ffe400" stroke="#ffe400"/><path d="M263.3 240.6L269.8 239.4L276.3 241.3L269.8 242.6z" fill="#ffe800" stroke="#ffe800"/><path d="M269.8 242.6L276.3 241.3L282.8 243.2L276.3 244.5z" fill="#ffeb00" stroke="#ffeb00"/><path d="M276.3 244.5L282.8 243.2L289.3 245.1L282.8 246.4z" fill="#ffee00" stroke="#ffee00"/><path d="M282.8 246.4L289.3 245.1L295.8 247L289.3 248.4z" fill="#fff200" stroke="#fff200"/><path d="M289.3 248.4L295.8 247L302.3 248.9L295.8 250.3z" fill="#fff500" stroke="#fff500"/><path d="M295.8 250.3L302.3 248.9L308.8 250.8L302.3 252.3z" fill="#fff800" stroke="#fff800"/><path d="M302.3 252.3L308.8 250.8L315.4 252.7L308.8 254.3z" fill="#fffc00" stroke="#fffc00"/><path d="M308.8 254.3L315.4 252.7L321.9 254.7L315.3 256.2z" fill="#ffff00" stroke="#ffff00"/><path d="M315.3 256.2L321.9 254.7L328.4 256.6L321.8 258.2z" fill="#fcff00" stroke="#fcff00"/><path d="M321.8 258.2L328.4 256.6L334.9 258.5L328.3 260.1z" fill="#f9ff00" stroke="#f9ff00"/><path d="M328.3 260.1L334.9 258.5L341.4 260.4L334.8 262.1z" fill="#f5ff00" stroke="#f5ff00"/><path d="M334.8 262.1L341.4 260.4L347.9 262.4L341.3 264.1z" fill="#f2ff00" stroke="#f2ff00"/><path d="M341.3 264.1L347.9 262.4L354.4 264.3L347.8 266z" fill="#efff00" stroke="#efff00"/><path d="M347.8 266L354.4 264.3L360.9 266.2L354.3 268z" fill="#ecff00" stroke="#ecff00"/><path d="M354.3 268L360.9 266.2L367.4 268.2L360.8 270z" fill="#e9ff00" stroke="#e9ff00"/><path d="M360.8 270L367.4 268.2L373.8 270.1L367.3 271.9z" fill="#e6ff00" stroke="#e6ff00"/><path d="M367.3 271.9L373.8 270.1L380.3 272L373.8 273.9z" fill="#e2ff00" stroke="#e2ff00"/><path d="M250.2 233.7L256.7 232.5L263.2 234.4L256.7 235.6z" fill="#ffdd00" stroke="#ffdd00"/><path d="M256.7 235.6L263.2 234.4L269.8 236.2L263.2 237.5z" fill="#ffe100" stroke="#ffe100"/><path d="M263.2 237.5L269.8 236.2L276.3 238.1L269.8 239.4z" fill="#ffe400" stroke="#ffe400"/><path d="M269.8 239.4L276.3 238.1L282.8 240L276.3 241.3z" fill="#ffe700" stroke="#ffe700"/><path d="M276.3 241.3L282.8 240L289.3 241.9L282.8 243.2z" fill="#ffea00" stroke="#ffea00"/><path d="M282.8 243.2L289.3 241.9L295.8 243.7L289.3 245.1z" fill="#ffee00" stroke="#ffee00"/><path d="M289.3 245.1L295.8 243.7L302.3 245.6L295.8 247z" fill="#fff100" stroke="#fff100"/><path d="M295.8 247L302.3 245.6L308.9 247.5L302.3 248.9z" fill="#fff400" stroke="#fff400"/><path d="M302.3 248.9L308.9 247.5L315.4 249.4L308.8 250.8z" fill="#fff700" stroke="#fff700"/><path d="M308.8 250.8L315.4 249.4L321.9 251.2L315.4 252.7z" fill="#fffb00" stroke="#fffb00"/><path d="M315.4 252.7L321.9 251.2L328.4 253.1L321.9 254.7z" fill="#fffe00" stroke="#fffe00"/><path d="M321.9 254.7L328.4 253.1L334.9 255L328.4 256.6z" fill="#fdff00" stroke="#fdff00"/><path d="M328.4 256.6L334.9 255L341.4 256.9L334.9 258.5z" fill="#faff00" stroke="#faff00"/><path d="M334.9 258.5L341.4 256.9L347.9 258.8L341.4 260.4z" fill="#f7ff00" stroke="#f7ff00"/><path d="M341.4 260.4L347.9 258.8L354.4 260.7L347.9 262.4z" fill="#f4ff00" stroke="#f4ff00"/><path d="M347.9 262.4L354.4 260.7L360.9 262.6L354.4 264.3z" fill="#f1ff00" stroke="#f1ff00"/><path d="M354.4 264.3L360.9 262.6L367.4 264.5L360.9 266.2z" fill="#eeff00" stroke="#eeff00"/><path d="M360.9 266.2L367.4 264.5L373.9 266.3L367.4 268.2z" fill="#eaff00" stroke="#eaff00"/><path d="M367.4 268.2L373.9 266.3L380.4 268.2L373.8 270.1z" fill="#e7ff00" stroke="#e7ff00"/><path d="M373.8 270.1L380.4 268.2L386.9 270.1L380.3 272z" fill="#e4ff00" stroke="#e4ff00"/><path d="M256.7 232.5L263.2 231.4L269.7 233.2L263.2 234.4z" fill="#ffdd00" stroke="#ffdd00"/><path d="M263.2 234.4L269.7 233.2L276.3 235L269.8 236.2z" fill="#ffe000" stroke="#ffe000"/><path d="M269.8 236.2L276.3 235L282.8 236.9L276.3 238.1z" fill="#ffe400" stroke="#ffe400"/><path d="M276.3 238.1L282.8 236.9L289.3 238.7L282.8 240z" fill="#ffe700" stroke="#ffe700"/><path d="M282.8 240L289.3 238.7L295.8 240.5L289.3 241.9z" fill="#ffea00" stroke="#ffea00"/><path d="M289.3 241.9L295.8 240.5L302.3 242.4L295.8 243.7z" fill="#ffed00" stroke="#ffed00"/><path d="M295.8 243.7L302.3 242.4L308.9 244.2L302.3 245.6z" fill="#fff000" stroke="#fff000"/><path d="M302.3 245.6L308.9 244.2L315.4 246L308.9 247.5z" fill="#fff300" stroke="#fff300"/><path d="M308.9 247.5L315.4 246L321.9 247.9L315.4 249.4z" fill="#fff600" stroke="#fff600"/><path d="M315.4 249.4L321.9 247.9L328.4 249.7L321.9 251.2z" fill="#fffa00" stroke="#fffa00"/><path d="M321.9 251.2L328.4 249.7L334.9 251.6L328.4 253.1z" fill="#fffd00" stroke="#fffd00"/><path d="M328.4 253.1L334.9 251.6L341.4 253.4L334.9 255z" fill="#feff00" stroke="#feff00"/><path d="M334.9 255L341.4 253.4L347.9 255.3L341.4 256.9z" fill="#fbff00" stroke="#fbff00"/><path d="M341.4 256.9L347.9 255.3L354.4 257.1L347.9 258.8z" fill="#f8ff00" stroke="#f8ff00"/><path d="M347.9 258.8L354.4 257.1L360.9 259L354.4 260.7z" fill="#f5ff00" stroke="#f5ff00"/><path d="M354.4 260.7L360.9 259L367.4 260.8L360.9 262.6z" fill="#f2ff00" stroke="#f2ff00"/><path d="M360.9 262.6L367.4 260.8L373.9 262.7L367.4 264.5z" fill="#efff00" stroke="#efff00"/><path d="M367.4 264.5L373.9 262.7L380.4 264.5L373.9 266.3z" fill="#ecff00" stroke="#ecff00"/><path d="M373.9 266.3L380.4 264.5L386.9 266.4L380.4 268.2z" fill="#e9ff00" stroke="#e9ff00"/><path d="M380.4 268.2L386.9 266.4L393.4 268.3L386.9 270.1z" fill="#e6ff00" stroke="#e6ff00"/><path d="M263.2 231.4L269.7 230.2L276.2 232L269.7 233.2z" fill="#ffdd00" stroke="#ffdd00"/><path d="M269.7 233.2L276.2 232L282.8 233.8L276.3 235z" fill="#ffe000" stroke="#ffe000"/><path d="M276.3 235L282.8 233.8L289.3 235.6L282.8 236.9z" fill="#ffe300" stroke="#ffe300"/><path d="M282.8 236.9L289.3 235.6L295.8 237.4L289.3 238.7z" fill="#ffe600" stroke="#ffe600"/><path d="M289.3 238.7L295.8 237.4L302.3 239.2L295.8 240.5z" fill="#ffe900" stroke="#ffe900"/><path d="M295.8 240.5L302.3 239.2L308.8 241L302.3 242.4z" fill="#ffec00" stroke="#ffec00"/><path d="M302.3 242.4L308.8 241L315.4 242.8L308.9 244.2z" fill="#ffef00" stroke="#ffef00"/><path d="M308.9 244.2L315.4 242.8L321.9 244.6L315.4 246z" fill="#fff200" stroke="#fff200"/><path d="M315.4 246L321.9 244.6L328.4 246.4L321.9 247.9z" fill="#fff600" stroke="#fff600"/><path d="M321.9 247.9L328.4 246.4L334.9 248.2L328.4 249.7z" fill="#fff900" stroke="#fff900"/><path d="M328.4 249.7L334.9 248.2L341.4 250L334.9 251.6z" fill="#fffc00" stroke="#fffc00"/><path d="M334.9 251.6L341.4 250L347.9 251.8L341.4 253.4z" fill="#ffff00" stroke="#ffff00"/><path d="M341.4 253.4L347.9 251.8L354.4 253.7L347.9 255.3z" fill="#fcff00" stroke="#fcff00"/><path d="M347.9 255.3L354.4 253.7L360.9 255.5L354.4 257.1z" fill="#faff00" stroke="#faff00"/><path d="M354.4 257.1L360.9 255.5L367.4 257.3L360.9 259z" fill="#f7ff00" stroke="#f7ff00"/><path d="M360.9 259L367.4 257.3L373.9 259.1L367.4 260.8z" fill="#f4ff00" stroke="#f4ff00"/><path d="M367.4 260.8L373.9 259.1L380.4 260.9L373.9 262.7z" fill="#f1ff00" stroke="#f1ff00"/><path d="M373.9 262.7L380.4 260.9L386.9 262.8L380.4 264.5z" fill="#eeff00" stroke="#eeff00"/><path d="M380.4 264.5L386.9 262.8L393.4 264.6L386.9 266.4z" fill="#ebff00" stroke="#ebff00"/><path d="M386.9 266.4L393.4 264.6L399.9 266.4L393.4 268.3z" fill="#e8ff00" stroke="#e8ff00"/><path d="M269.7 230.2L276.2 229.1L282.7 230.9L276.2 232z" fill="#ffdd00" stroke="#ffdd00"/><path d="M276.2 232L282.7 230.9L289.3 232.6L282.8 233.8z" fill="#ffe000" stroke="#ffe000"/><path d="M282.8 233.8L289.3 232.6L295.8 234.4L289.3 235.6z" fill="#ffe300" stroke="#ffe300"/><path d="M289.3 235.6L295.8 234.4L302.3 236.1L295.8 237.4z" fill="#ffe600" stroke="#ffe600"/><path d="M295.8 237.4L302.3 236.1L308.8 237.9L302.3 239.2z" fill="#ffe900" stroke="#ffe900"/><path d="M302.3 239.2L308.8 237.9L315.4 239.7L308.8 241z" fill="#ffec00" stroke="#ffec00"/><path d="M308.8 241L315.4 239.7L321.9 241.4L315.4 242.8z" fill="#ffef00" stroke="#ffef00"/><path d="M315.4 242.8L321.9 241.4L328.4 243.2L321.9 244.6z" fill="#fff200" stroke="#fff200"/><path d="M321.9 244.6L328.4 243.2L334.9 245L328.4 246.4z" fill="#fff500" stroke="#fff500"/><path d="M328.4 246.4L334.9 245L341.4 246.7L334.9 248.2z" fill="#fff800" stroke="#fff800"/><path d="M334.9 248.2L341.4 246.7L347.9 248.5L341.4 250z" fill="#fffa00" stroke="#fffa00"/><path d="M341.4 250L347.9 248.5L354.4 250.3L347.9 251.8z" fill="#fffd00" stroke="#fffd00"/><path d="M347.9 251.8L354.4 250.3L361 252L354.4 253.7z" fill="#feff00" stroke="#feff00"/><path d="M354.4 253.7L361 252L367.5 253.8L360.9 255.5z" fill="#fbff00" stroke="#fbff00"/><path d="M360.9 255.5L367.5 253.8L374 255.6L367.4 257.3z" fill="#f8ff00" stroke="#f8ff00"/><path d="M367.4 257.3L374 255.6L380.5 257.4L373.9 259.1z" fill="#f5ff00" stroke="#f5ff00"/><path d="M373.9 259.1L380.5 257.4L387 259.2L380.4 260.9z" fill="#f3ff00" stroke="#f3ff00"/><path d="M380.4 260.9L387 259.2L393.5 261L386.9 262.8z" fill="#f0ff00" stroke="#f0ff00"/><path d="M386.9 262.8L393.5 261L400 262.7L393.4 264.6z" fill="#edff00" stroke="#edff00"/><path d="M393.4 264.6L400 262.7L406.5 264.5L399.9 266.4z" fill="#eaff00" stroke="#eaff00"/><path d="M276.2 229.1L282.7 228L289.3 229.7L282.7 230.9z" fill="#ffdd00" stroke="#ffdd00"/><path d="M282.7 230.9L289.3 229.7L295.8 231.4L289.3 232.6z" fill="#ffe000" stroke="#ffe000"/><path d="M289.3 232.6L295.8 231.4L302.3 233.1L295.8 234.4z" fill="#ffe300" stroke="#ffe300"/><path d="M295.8 234.4L302.3 233.1L308.8 234.8L302.3 236.1z" fill="#ffe500" stroke="#ffe500"/><path d="M302.3 236.1L308.8 234.8L315.4 236.6L308.8 237.9z" fill="#ffe800" stroke="#ffe800"/><path d="M308.8 237.9L315.4 236.6L321.9 238.3L315.4 239.7z" fill="#ffeb00" stroke="#ffeb00"/><path d="M315.4 239.7L321.9 238.3L328.4 240L321.9 241.4z" fill="#ffee00" stroke="#ffee00"/><path d="M321.9 241.4L328.4 240L334.9 241.8L328.4 243.2z" fill="#fff100" stroke="#fff100"/><path d="M328.4 243.2L334.9 241.8L341.4 243.5L334.9 245z" fill="#fff400" stroke="#fff400"/><path d="M334.9 245L341.4 243.5L347.9 245.2L341.4 246.7z" fill="#fff600" stroke="#fff600"/><path d="M341.4 246.7L347.9 245.2L354.5 247L347.9 248.5z" fill="#fff900" stroke="#fff900"/><path d="M347.9 248.5L354.5 247L361 248.7L354.4 250.3z" fill="#fffc00" stroke="#fffc00"/><path d="M354.4 250.3L361 248.7L367.5 250.4L361 252z" fill="#ffff00" stroke="#ffff00"/><path d="M361 252L367.5 250.4L374 252.2L367.5 253.8z" fill="#fcff00" stroke="#fcff00"/><path d="M367.5 253.8L374 252.2L380.5 253.9L374 255.6z" fill="#faff00" stroke="#faff00"/><path d="M374 255.6L380.5 253.9L387 255.7L380.5 257.4z" fill="#f7ff00" stroke="#f7ff00"/><path d="M380.5 257.4L387 255.7L393.5 257.4L387 259.2z" fill="#f4ff00" stroke="#f4ff00"/><path d="M387 259.2L393.5 257.4L400 259.2L393.5 261z" fill="#f2ff00" stroke="#f2ff00"/><path d="M393.5 261L400 259.2L406.5 260.9L400 262.7z" fill="#efff00" stroke="#efff00"/><path d="M400 262.7L406.5 260.9L413 262.7L406.5 264.5z" fill="#ecff00" stroke="#ecff00"/><path d="M282.7 228L289.2 226.8L295.8 228.5L289.3 229.7z" fill="#ffdd00" stroke="#ffdd00"/><path d="M289.3 229.7L295.8 228.5L302.3 230.2L295.8 231.4z" fill="#ffe000" stroke="#ffe000"/><path d="M295.8 231.4L302.3 230.2L308.8 231.9L302.3 233.1z" fill="#ffe200" stroke="#ffe200"/><path d="M302.3 233.1L308.8 231.9L315.3 233.6L308.8 234.8z" fill="#ffe500" stroke="#ffe500"/><path d="M308.8 234.8L315.3 233.6L321.9 235.2L315.4 236.6z" fill="#ffe800" stroke="#ffe800"/><path d="M315.4 236.6L321.9 235.2L328.4 236.9L321.9 238.3z" fill="#ffea00" stroke="#ffea00"/><path d="M321.9 238.3L328.4 236.9L334.9 238.6L328.4 240z" fill="#ffed00" stroke="#ffed00"/><path d="M328.4 240L334.9 238.6L341.4 240.3L334.9 241.8z" fill="#fff000" stroke="#fff000"/><path d="M334.9 241.8L341.4 240.3L347.9 242L341.4 243.5z" fill="#fff300" stroke="#fff300"/><path d="M341.4 243.5L347.9 242L354.5 243.7L347.9 245.2z" fill="#fff500" stroke="#fff500"/><path d="M347.9 245.2L354.5 243.7L361 245.4L354.5 247z" fill="#fff800" stroke="#fff800"/><path d="M354.5 247L361 245.4L367.5 247.1L361 248.7z" fill="#fffb00" stroke="#fffb00"/><path d="M361 248.7L367.5 247.1L374 248.8L367.5 250.4z" fill="#fffe00" stroke="#fffe00"/><path d="M367.5 250.4L374 248.8L380.5 250.5L374 252.2z" fill="#feff00" stroke="#feff00"/><path d="M374 252.2L380.5 250.5L387 252.2L380.5 253.9z" fill="#fbff00" stroke="#fbff00"/><path d="M380.5 253.9L387 252.2L393.5 253.9L387 255.7z" fill="#f9ff00" stroke="#f9ff00"/><path d="M387 255.7L393.5 253.9L400 255.6L393.5 257.4z" fill="#f6ff00" stroke="#f6ff00"/><path d="M393.5 257.4L400 255.6L406.5 257.4L400 259.2z" fill="#f4ff00" stroke="#f4ff00"/><path d="M400 259.2L406.5 257.4L413 259.1L406.5 260.9z" fill="#f1ff00" stroke="#f1ff00"/><path d="M406.5 260.9L413 259.1L419.5 260.8L413 262.7z" fill="#eeff00" stroke="#eeff00"/><path d="M289.2 226.8L295.7 225.7L302.3 227.3L295.8 228.5z" fill="#ffdd00" stroke="#ffdd00"/><path d="M295.8 228.5L302.3 227.3L308.8 229L302.3 230.2z" fill="#ffdf00" stroke="#ffdf00"/><path d="M302.3 230.2L308.8 229L315.3 230.6L308.8 231.9z" fill="#ffe200" stroke="#ffe200"/><path d="M308.8 231.9L315.3 230.6L321.8 232.3L315.3 233.6z" fill="#ffe500" stroke="#ffe500"/><path d="M315.3 233.6L321.8 232.3L328.4 233.9L321.9 235.2z" fill="#ffe700" stroke="#ffe700"/><path d="M321.9 235.2L328.4 233.9L334.9 235.6L328.4 236.9z" fill="#ffea00" stroke="#ffea00"/><path d="M328.4 236.9L334.9 235.6L341.4 237.2L334.9 238.6z" fill="#ffec00" stroke="#ffec00"/><path d="M334.9 238.6L341.4 237.2L347.9 238.9L341.4 240.3z" fill="#ffef00" stroke="#ffef00"/><path d="M341.4 240.3L347.9 238.9L354.5 240.6L347.9 242z" fill="#fff200" stroke="#fff200"/><path d="M347.9 242L354.5 240.6L361 242.2L354.5 243.7z" fill="#fff400" stroke="#fff400"/><path d="M354.5 243.7L361 242.2L367.5 243.9L361 245.4z" fill="#fff700" stroke="#fff700"/><path d="M361 245.4L367.5 243.9L374 245.5L367.5 247.1z" fill="#fffa00" stroke="#fffa00"/><path d="M367.5 247.1L374 245.5L380.5 247.2L374 248.8z" fill="#fffc00" stroke="#fffc00"/><path d="M374 248.8L380.5 247.2L387 248.9L380.5 250.5z" fill="#ffff00" stroke="#ffff00"/><path d="M380.5 250.5L387 248.9L393.5 250.5L387 252.2z" fill="#fdff00" stroke="#fdff00"/><path d="M387 252.2L393.5 250.5L400.1 252.2L393.5 253.9z" fill="#faff00" stroke="#faff00"/><path d="M393.5 253.9L400.1 252.2L406.6 253.9L400 255.6z" fill="#f8ff00" stroke="#f8ff00"/><path d="M400 255.6L406.6 253.9L413.1 255.6L406.5 257.4z" fill="#f5ff00" stroke="#f5ff00"/><path d="M406.5 257.4L413.1 255.6L419.6 257.2L413 259.1z" fill="#f3ff00" stroke="#f3ff00"/><path d="M413 259.1L419.6 257.2L426.1 258.9L419.5 260.8z" fill="#f0ff00" stroke="#f0ff00"/><path d="M295.7 225.7L302.2 224.5L308.8 226.1L302.3 227.3z" fill="#ffdd00" stroke="#ffdd00"/><path d="M302.3 227.3L308.8 226.1L315.3 227.8L308.8 229z" fill="#ffdf00" stroke="#ffdf00"/><path d="M308.8 229L315.3 227.8L321.8 229.4L315.3 230.6z" fill="#ffe200" stroke="#ffe200"/><path d="M315.3 230.6L321.8 229.4L328.4 231L321.8 232.3z" fill="#ffe400" stroke="#ffe400"/><path d="M321.8 232.3L328.4 231L334.9 232.6L328.4 233.9z" fill="#ffe700" stroke="#ffe700"/><path d="M328.4 233.9L334.9 232.6L341.4 234.2L334.9 235.6z" fill="#ffe900" stroke="#ffe900"/><path d="M334.9 235.6L341.4 234.2L347.9 235.8L341.4 237.2z" fill="#ffec00" stroke="#ffec00"/><path d="M341.4 237.2L347.9 235.8L354.5 237.5L347.9 238.9z" fill="#ffee00" stroke="#ffee00"/><path d="M347.9 238.9L354.5 237.5L361 239.1L354.5 240.6z" fill="#fff100" stroke="#fff100"/><path d="M354.5 240.6L361 239.1L367.5 240.7L361 242.2z" fill="#fff300" stroke="#fff300"/><path d="M361 242.2L367.5 240.7L374 242.3L367.5 243.9z" fill="#fff600" stroke="#fff600"/><path d="M367.5 243.9L374 242.3L380.5 244L374 245.5z" fill="#fff800" stroke="#fff800"/><path d="M374 245.5L380.5 244L387.1 245.6L380.5 247.2z" fill="#fffb00" stroke="#fffb00"/><path d="M380.5 247.2L387.1 245.6L393.6 247.2L387 248.9z" fill="#fffd00" stroke="#fffd00"/><path d="M387 248.9L393.6 247.2L400.1 248.9L393.5 250.5z" fill="#feff00" stroke="#feff00"/><path d="M393.5 250.5L400.1 248.9L406.6 250.5L400.1 252.2z" fill="#fcff00" stroke="#fcff00"/><path d="M400.1 252.2L406.6 250.5L413.1 252.1L406.6 253.9z" fill="#f9ff00" stroke="#f9ff00"/><path d="M406.6 253.9L413.1 252.1L419.6 253.8L413.1 255.6z" fill="#f7ff00" stroke="#f7ff00"/><path d="M413.1 255.6L419.6 253.8L426.1 255.4L419.6 257.2z" fill="#f5ff00" stroke="#f5ff00"/><path d="M419.6 257.2L426.1 255.4L432.6 257.1L426.1 258.9z" fill="#f2ff00" stroke="#f2ff00"/><path d="M302.2 224.5L308.7 223.4L315.3 225L308.8 226.1z" fill="#ffdc00" stroke="#ffdc00"/><path d="M308.8 226.1L315.3 225L321.8 226.5L315.3 227.8z" fill="#ffdf00" stroke="#ffdf00"/><path d="M315.3 227.8L321.8 226.5L328.3 228.1L321.8 229.4z" fill="#ffe100" stroke="#ffe100"/><path d="M321.8 229.4L328.3 228.1L334.9 229.7L328.4 231z" fill="#ffe400" stroke="#ffe400"/><path d="M328.4 231L334.9 229.7L341.4 231.3L334.9 232.6z" fill="#ffe600" stroke="#ffe600"/><path d="M334.9 232.6L341.4 231.3L347.9 232.9L341.4 234.2z" fill="#ffe900" stroke="#ffe900"/><path d="M341.4 234.2L347.9 232.9L354.5 234.5L347.9 235.8z" fill="#ffeb00" stroke="#ffeb00"/><path d="M347.9 235.8L354.5 234.5L361 236L354.5 237.5z" fill="#ffed00" stroke="#ffed00"/><path d="M354.5 237.5L361 236L367.5 237.6L361 239.1z" fill="#fff000" stroke="#fff000"/><path d="M361 239.1L367.5 237.6L374 239.2L367.5 240.7z" fill="#fff200" stroke="#fff200"/><path d="M367.5 240.7L374 239.2L380.5 240.8L374 242.3z" fill="#fff500" stroke="#fff500"/><path d="M374 242.3L380.5 240.8L387.1 242.4L380.5 244z" fill="#fff700" stroke="#fff700"/><path d="M380.5 244L387.1 242.4L393.6 244L387.1 245.6z" fill="#fff900" stroke="#fff900"/><path d="M387.1 245.6L393.6 244L400.1 245.6L393.6 247.2z" fill="#fffc00" stroke="#fffc00"/><path d="M393.6 247.2L400.1 245.6L406.6 247.2L400.1 248.9z" fill="#fffe00" stroke="#fffe00"/><path d="M400.1 248.9L406.6 247.2L413.1 248.8L406.6 250.5z" fill="#fdff00" stroke="#fdff00"/><path d="M406.6 250.5L413.1 248.8L419.6 250.4L413.1 252.1z" fill="#fbff00" stroke="#fbff00"/><path d="M413.1 252.1L419.6 250.4L426.1 252L419.6 253.8z" fill="#f9ff00" stroke="#f9ff00"/><path d="M419.6 253.8L426.1 252L432.7 253.6L426.1 255.4z" fill="#f7ff00" stroke="#f7ff00"/><path d="M426.1 255.4L432.7 253.6L439.2 255.2L432.6 257.1z" fill="#f4ff00" stroke="#f4ff00"/><path d="M308.7 223.4L315.3 222.3L321.8 223.8L315.3 225z" fill="#ffdc00" stroke="#ffdc00"/><path d="M315.3 225L321.8 223.8L328.3 225.3L321.8 226.5z" fill="#ffdf00" stroke="#ffdf00"/><path d="M321.8 226.5L328.3 225.3L334.9 226.9L328.3 228.1z" fill="#ffe100" stroke="#ffe100"/><path d="M328.3 228.1L334.9 226.9L341.4 228.4L334.9 229.7z" fill="#ffe300" stroke="#ffe300"/><path d="M334.9 229.7L341.4 228.4L347.9 230L341.4 231.3z" fill="#ffe600" stroke="#ffe600"/><path d="M341.4 231.3L347.9 230L354.4 231.5L347.9 232.9z" fill="#ffe800" stroke="#ffe800"/><path d="M347.9 232.9L354.4 231.5L361 233.1L354.5 234.5z" fill="#ffea00" stroke="#ffea00"/><path d="M354.5 234.5L361 233.1L367.5 234.6L361 236z" fill="#ffec00" stroke="#ffec00"/><path d="M361 236L367.5 234.6L374 236.2L367.5 237.6z" fill="#ffef00" stroke="#ffef00"/><path d="M367.5 237.6L374 236.2L380.5 237.7L374 239.2z" fill="#fff100" stroke="#fff100"/><path d="M374 239.2L380.5 237.7L387.1 239.3L380.5 240.8z" fill="#fff300" stroke="#fff300"/><path d="M380.5 240.8L387.1 239.3L393.6 240.8L387.1 242.4z" fill="#fff600" stroke="#fff600"/><path d="M387.1 242.4L393.6 240.8L400.1 242.4L393.6 244z" fill="#fff800" stroke="#fff800"/><path d="M393.6 244L400.1 242.4L406.6 243.9L400.1 245.6z" fill="#fffa00" stroke="#fffa00"/><path d="M400.1 245.6L406.6 243.9L413.1 245.5L406.6 247.2z" fill="#fffd00" stroke="#fffd00"/><path d="M406.6 247.2L413.1 245.5L419.7 247.1L413.1 248.8z" fill="#ffff00" stroke="#ffff00"/><path d="M413.1 248.8L419.7 247.1L426.2 248.6L419.6 250.4z" fill="#fdff00" stroke="#fdff00"/><path d="M419.6 250.4L426.2 248.6L432.7 250.2L426.1 252z" fill="#fbff00" stroke="#fbff00"/><path d="M426.1 252L432.7 250.2L439.2 251.8L432.7 253.6z" fill="#f9ff00" stroke="#f9ff00"/><path d="M432.7 253.6L439.2 251.8L445.7 253.3L439.2 255.2z" fill="#f6ff00" stroke="#f6ff00"/><path d="M315.3 222.3L321.8 221.1L328.3 222.6L321.8 223.8z" fill="#ffdc00" stroke="#ffdc00"/><path d="M321.8 223.8L328.3 222.6L334.8 224.1L328.3 225.3z" fill="#ffde00" stroke="#ffde00"/><path d="M328.3 225.3L334.8 224.1L341.4 225.6L334.9 226.9z" fill="#ffe100" stroke="#ffe100"/><path d="M334.9 226.9L341.4 225.6L347.9 227.1L341.4 228.4z" fill="#ffe300" stroke="#ffe300"/><path d="M341.4 228.4L347.9 227.1L354.4 228.7L347.9 230z" fill="#ffe500" stroke="#ffe500"/><path d="M347.9 230L354.4 228.7L361 230.2L354.4 231.5z" fill="#ffe700" stroke="#ffe700"/><path d="M354.4 231.5L361 230.2L367.5 231.7L361 233.1z" fill="#ffe900" stroke="#ffe900"/><path d="M361 233.1L367.5 231.7L374 233.2L367.5 234.6z" fill="#ffec00" stroke="#ffec00"/><path d="M367.5 234.6L374 233.2L380.5 234.7L374 236.2z" fill="#ffee00" stroke="#ffee00"/><path d="M374 236.2L380.5 234.7L387.1 236.2L380.5 237.7z" fill="#fff000" stroke="#fff000"/><path d="M380.5 237.7L387.1 236.2L393.6 237.7L387.1 239.3z" fill="#fff200" stroke="#fff200"/><path d="M387.1 239.3L393.6 237.7L400.1 239.3L393.6 240.8z" fill="#fff400" stroke="#fff400"/><path d="M393.6 240.8L400.1 239.3L406.6 240.8L400.1 242.4z" fill="#fff700" stroke="#fff700"/><path d="M400.1 242.4L406.6 240.8L413.2 242.3L406.6 243.9z" fill="#fff900" stroke="#fff900"/><path d="M406.6 243.9L413.2 242.3L419.7 243.8L413.1 245.5z" fill="#fffb00" stroke="#fffb00"/><path d="M413.1 245.5L419.7 243.8L426.2 245.3L419.7 247.1z" fill="#fffd00" stroke="#fffd00"/><path d="M419.7 247.1L426.2 245.3L432.7 246.9L426.2 248.6z" fill="#ffff00" stroke="#ffff00"/><path d="M426.2 248.6L432.7 246.9L439.2 248.4L432.7 250.2z" fill="#fdff00" stroke="#fdff00"/><path d="M432.7 250.2L439.2 248.4L445.7 249.9L439.2 251.8z" fill="#faff00" stroke="#faff00"/><path d="M439.2 251.8L445.7 249.9L452.3 251.5L445.7 253.3z" fill="#f8ff00" stroke="#f8ff00"/><path d="M321.8 221.1L328.3 220L334.8 221.4L328.3 222.6z" fill="#ffdc00" stroke="#ffdc00"/><path d="M328.3 222.6L334.8 221.4L341.3 222.9L334.8 224.1z" fill="#ffde00" stroke="#ffde00"/><path d="M334.8 224.1L341.3 222.9L347.9 224.4L341.4 225.6z" fill="#ffe000" stroke="#ffe000"/><path d="M341.4 225.6L347.9 224.4L354.4 225.9L347.9 227.1z" fill="#ffe200" stroke="#ffe200"/><path d="M347.9 227.1L354.4 225.9L360.9 227.3L354.4 228.7z" fill="#ffe400" stroke="#ffe400"/><path d="M354.4 228.7L360.9 227.3L367.5 228.8L361 230.2z" fill="#ffe700" stroke="#ffe700"/><path d="M361 230.2L367.5 228.8L374 230.3L367.5 231.7z" fill="#ffe900" stroke="#ffe900"/><path d="M367.5 231.7L374 230.3L380.5 231.8L374 233.2z" fill="#ffeb00" stroke="#ffeb00"/><path d="M374 233.2L380.5 231.8L387.1 233.2L380.5 234.7z" fill="#ffed00" stroke="#ffed00"/><path d="M380.5 234.7L387.1 233.2L393.6 234.7L387.1 236.2z" fill="#ffef00" stroke="#ffef00"/><path d="M387.1 236.2L393.6 234.7L400.1 236.2L393.6 237.7z" fill="#fff100" stroke="#fff100"/><path d="M393.6 237.7L400.1 236.2L406.6 237.7L400.1 239.3z" fill="#fff300" stroke="#fff300"/><path d="M400.1 239.3L406.6 237.7L413.2 239.2L406.6 240.8z" fill="#fff500" stroke="#fff500"/><path d="M406.6 240.8L413.2 239.2L419.7 240.7L413.2 242.3z" fill="#fff700" stroke="#fff700"/><path d="M413.2 242.3L419.7 240.7L426.2 242.1L419.7 243.8z" fill="#fff900" stroke="#fff900"/><path d="M419.7 243.8L426.2 242.1L432.7 243.6L426.2 245.3z" fill="#fffc00" stroke="#fffc00"/><path d="M426.2 245.3L432.7 243.6L439.2 245.1L432.7 246.9z" fill="#fffe00" stroke="#fffe00"/><path d="M432.7 246.9L439.2 245.1L445.8 246.6L439.2 248.4z" fill="#feff00" stroke="#feff00"/><path d="M439.2 248.4L445.8 246.6L452.3 248.1L445.7 249.9z" fill="#fcff00" stroke="#fcff00"/><path d="M445.7 249.9L452.3 248.1L458.8 249.6L452.3 251.5z" fill="#faff00" stroke="#faff00"/><path d="M328.3 220L334.8 218.8L341.3 220.3L334.8 221.4z" fill="#ffdc00" stroke="#ffdc00"/><path d="M334.8 221.4L341.3 220.3L347.8 221.7L341.3 222.9z" fill="#ffde00" stroke="#ffde00"/><path d="M341.3 222.9L347.8 221.7L354.4 223.1L347.9 224.4z" fill="#ffe000" stroke="#ffe000"/><path d="M347.9 224.4L354.4 223.1L360.9 224.6L354.4 225.9z" fill="#ffe200" stroke="#ffe200"/><path d="M354.4 225.9L360.9 224.6L367.5 226L360.9 227.3z" fill="#ffe400" stroke="#ffe400"/><path d="M360.9 227.3L367.5 226L374 227.5L367.5 228.8z" fill="#ffe600" stroke="#ffe600"/><path d="M367.5 228.8L374 227.5L380.5 228.9L374 230.3z" fill="#ffe800" stroke="#ffe800"/><path d="M374 230.3L380.5 228.9L387 230.3L380.5 231.8z" fill="#ffea00" stroke="#ffea00"/><path d="M380.5 231.8L387 230.3L393.6 231.8L387.1 233.2z" fill="#ffec00" stroke="#ffec00"/><path d="M387.1 233.2L393.6 231.8L400.1 233.2L393.6 234.7z" fill="#ffee00" stroke="#ffee00"/><path d="M393.6 234.7L400.1 233.2L406.6 234.7L400.1 236.2z" fill="#fff000" stroke="#fff000"/><path d="M400.1 236.2L406.6 234.7L413.2 236.1L406.6 237.7z" fill="#fff200" stroke="#fff200"/><path d="M406.6 237.7L413.2 236.1L419.7 237.6L413.2 239.2z" fill="#fff400" stroke="#fff400"/><path d="M413.2 239.2L419.7 237.6L426.2 239L419.7 240.7z" fill="#fff600" stroke="#fff600"/><path d="M419.7 240.7L426.2 239L432.7 240.5L426.2 242.1z" fill="#fff800" stroke="#fff800"/><path d="M426.2 242.1L432.7 240.5L439.3 241.9L432.7 243.6z" fill="#fffa00" stroke="#fffa00"/><path d="M432.7 243.6L439.3 241.9L445.8 243.4L439.2 245.1z" fill="#fffc00" stroke="#fffc00"/><path d="M439.2 245.1L445.8 243.4L452.3 244.8L445.8 246.6z" fill="#fffe00" stroke="#fffe00"/><path d="M445.8 246.6L452.3 244.8L458.8 246.3L452.3 248.1z" fill="#feff00" stroke="#feff00"/><path d="M452.3 248.1L458.8 246.3L465.3 247.7L458.8 249.6z" fill="#fcff00" stroke="#fcff00"/><path d="M334.8 218.8L341.3 217.7L347.8 219.1L341.3 220.3z" fill="#ffdc00" stroke="#ffdc00"/><path d="M341.3 220.3L347.8 219.1L354.4 220.5L347.8 221.7z" fill="#ffde00" stroke="#ffde00"/><path d="M347.8 221.7L354.4 220.5L360.9 221.9L354.4 223.1z" fill="#ffe000" stroke="#ffe000"/><path d="M354.4 223.1L360.9 221.9L367.4 223.3L360.9 224.6z" fill="#ffe200" stroke="#ffe200"/><path d="M360.9 224.6L367.4 223.3L374 224.7L367.5 226z" fill="#ffe300" stroke="#ffe300"/><path d="M367.5 226L374 224.7L380.5 226.1L374 227.5z" fill="#ffe500" stroke="#ffe500"/><path d="M374 227.5L380.5 226.1L387 227.5L380.5 228.9z" fill="#ffe700" stroke="#ffe700"/><path d="M380.5 228.9L387 227.5L393.6 228.9L387 230.3z" fill="#ffe900" stroke="#ffe900"/><path d="M387 230.3L393.6 228.9L400.1 230.3L393.6 231.8z" fill="#ffeb00" stroke="#ffeb00"/><path d="M393.6 231.8L400.1 230.3L406.6 231.7L400.1 233.2z" fill="#ffed00" stroke="#ffed00"/><path d="M400.1 233.2L406.6 231.7L413.2 233.1L406.6 234.7z" fill="#ffef00" stroke="#ffef00"/><path d="M406.6 234.7L413.2 233.1L419.7 234.5L413.2 236.1z" fill="#fff100" stroke="#fff100"/><path d="M413.2 236.1L419.7 234.5L426.2 236L419.7 237.6z" fill="#fff200" stroke="#fff200"/><path d="M419.7 237.6L426.2 236L432.8 237.4L426.2 239z" fill="#fff400" stroke="#fff400"/><path d="M426.2 239L432.8 237.4L439.3 238.8L432.7 240.5z" fill="#fff600" stroke="#fff600"/><path d="M432.7 240.5L439.3 238.8L445.8 240.2L439.3 241.9z" fill="#fff800" stroke="#fff800"/><path d="M439.3 241.9L445.8 240.2L452.3 241.6L445.8 243.4z" fill="#fffa00" stroke="#fffa00"/><path d="M445.8 243.4L452.3 241.6L458.9 243L452.3 244.8z" fill="#fffc00" stroke="#fffc00"/><path d="M452.3 244.8L458.9 243L465.4 244.5L458.8 246.3z" fill="#fffe00" stroke="#fffe00"/><path d="M458.8 246.3L465.4 244.5L471.9 245.9L465.3 247.7z" fill="#feff00" stroke="#feff00"/><path d="M341.3 217.7L347.8 216.6L354.3 217.9L347.8 219.1z" fill="#ffdc00" stroke="#ffdc00"/><path d="M347.8 219.1L354.3 217.9L360.9 219.3L354.4 220.5z" fill="#ffde00" stroke="#ffde00"/><path d="M354.4 220.5L360.9 219.3L367.4 220.6L360.9 221.9z" fill="#ffdf00" stroke="#ffdf00"/><path d="M360.9 221.9L367.4 220.6L373.9 222L367.4 223.3z" fill="#ffe100" stroke="#ffe100"/><path d="M367.4 223.3L373.9 222L380.5 223.4L374 224.7z" fill="#ffe300" stroke="#ffe300"/><path d="M374 224.7L380.5 223.4L387 224.7L380.5 226.1z" fill="#ffe500" stroke="#ffe500"/><path d="M380.5 226.1L387 224.7L393.6 226.1L387 227.5z" fill="#ffe600" stroke="#ffe600"/><path d="M387 227.5L393.6 226.1L400.1 227.5L393.6 228.9z" fill="#ffe800" stroke="#ffe800"/><path d="M393.6 228.9L400.1 227.5L406.6 228.9L400.1 230.3z" fill="#ffea00" stroke="#ffea00"/><path d="M400.1 230.3L406.6 228.9L413.2 230.2L406.6 231.7z" fill="#ffec00" stroke="#ffec00"/><path d="M406.6 231.7L413.2 230.2L419.7 231.6L413.2 233.1z" fill="#ffee00" stroke="#ffee00"/><path d="M413.2 233.1L419.7 231.6L426.2 233L419.7 234.5z" fill="#ffef00" stroke="#ffef00"/><path d="M419.7 234.5L426.2 233L432.8 234.4L426.2 236z" fill="#fff100" stroke="#fff100"/><path d="M426.2 236L432.8 234.4L439.3 235.7L432.8 237.4z" fill="#fff300" stroke="#fff300"/><path d="M432.8 237.4L439.3 235.7L445.8 237.1L439.3 238.8z" fill="#fff500" stroke="#fff500"/><path d="M439.3 238.8L445.8 237.1L452.3 238.5L445.8 240.2z" fill="#fff600" stroke="#fff600"/><path d="M445.8 240.2L452.3 238.5L458.9 239.9L452.3 241.6z" fill="#fff800" stroke="#fff800"/><path d="M452.3 241.6L458.9 239.9L465.4 241.3L458.9 243z" fill="#fffa00" stroke="#fffa00"/><path d="M458.9 243L465.4 241.3L471.9 242.6L465.4 244.5z" fill="#fffc00" stroke="#fffc00"/><path d="M465.4 244.5L471.9 242.6L478.4 244L471.9 245.9z" fill="#fffe00" stroke="#fffe00"/><path d="M347.8 216.6L354.3 215.4L360.8 216.7L354.3 217.9z" fill="#ffdc00" stroke="#ffdc00"/><path d="M354.3 217.9L360.8 216.7L367.4 218.1L360.9 219.3z" fill="#ffdd00" stroke="#ffdd00"/><path d="M360.9 219.3L367.4 218.1L373.9 219.4L367.4 220.6z" fill="#ffdf00" stroke="#ffdf00"/><path d="M367.4 220.6L373.9 219.4L380.5 220.7L373.9 222z" fill="#ffe100" stroke="#ffe100"/><path d="M373.9 222L380.5 220.7L387 222.1L380.5 223.4z" fill="#ffe200" stroke="#ffe200"/><path d="M380.5 223.4L387 222.1L393.5 223.4L387 224.7z" fill="#ffe400" stroke="#ffe400"/><path d="M387 224.7L393.5 223.4L400.1 224.7L393.6 226.1z" fill="#ffe600" stroke="#ffe600"/><path d="M393.6 226.1L400.1 224.7L406.6 226.1L400.1 227.5z" fill="#ffe700" stroke="#ffe700"/><path d="M400.1 227.5L406.6 226.1L413.1 227.4L406.6 228.9z" fill="#ffe900" stroke="#ffe900"/><path d="M406.6 228.9L413.1 227.4L419.7 228.7L413.2 230.2z" fill="#ffeb00" stroke="#ffeb00"/><path d="M413.2 230.2L419.7 228.7L426.2 230.1L419.7 231.6z" fill="#ffec00" stroke="#ffec00"/><path d="M419.7 231.6L426.2 230.1L432.8 231.4L426.2 233z" fill="#ffee00" stroke="#ffee00"/><path d="M426.2 233L432.8 231.4L439.3 232.8L432.8 234.4z" fill="#fff000" stroke="#fff000"/><path d="M432.8 234.4L439.3 232.8L445.8 234.1L439.3 235.7z" fill="#fff100" stroke="#fff100"/><path d="M439.3 235.7L445.8 234.1L452.3 235.4L445.8 237.1z" fill="#fff300" stroke="#fff300"/><path d="M445.8 237.1L452.3 235.4L458.9 236.8L452.3 238.5z" fill="#fff500" stroke="#fff500"/><path d="M452.3 238.5L458.9 236.8L465.4 238.1L458.9 239.9z" fill="#fff600" stroke="#fff600"/><path d="M458.9 239.9L465.4 238.1L471.9 239.5L465.4 241.3z" fill="#fff800" stroke="#fff800"/><path d="M465.4 241.3L471.9 239.5L478.5 240.8L471.9 242.6z" fill="#fffa00" stroke="#fffa00"/><path d="M471.9 242.6L478.5 240.8L485 242.2L478.4 244z" fill="#fffb00" stroke="#fffb00"/><path d="M354.3 215.4L360.8 214.3L367.3 215.6L360.8 216.7z" fill="#ffdc00" stroke="#ffdc00"/><path d="M360.8 216.7L367.3 215.6L373.9 216.9L367.4 218.1z" fill="#ffdd00" stroke="#ffdd00"/><path d="M367.4 218.1L373.9 216.9L380.4 218.2L373.9 219.4z" fill="#ffdf00" stroke="#ffdf00"/><path d="M373.9 219.4L380.4 218.2L387 219.5L380.5 220.7z" fill="#ffe000" stroke="#ffe000"/><path d="M380.5 220.7L387 219.5L393.5 220.7L387 222.1z" fill="#ffe200" stroke="#ffe200"/><path d="M387 222.1L393.5 220.7L400.1 222L393.5 223.4z" fill="#ffe300" stroke="#ffe300"/><path d="M393.5 223.4L400.1 222L406.6 223.3L400.1 224.7z" fill="#ffe500" stroke="#ffe500"/><path d="M400.1 224.7L406.6 223.3L413.1 224.6L406.6 226.1z" fill="#ffe600" stroke="#ffe600"/><path d="M406.6 226.1L413.1 224.6L419.7 225.9L413.1 227.4z" fill="#ffe800" stroke="#ffe800"/><path d="M413.1 227.4L419.7 225.9L426.2 227.2L419.7 228.7z" fill="#ffea00" stroke="#ffea00"/><path d="M419.7 228.7L426.2 227.2L432.7 228.5L426.2 230.1z" fill="#ffeb00" stroke="#ffeb00"/><path d="M426.2 230.1L432.7 228.5L439.3 229.8L432.8 231.4z" fill="#ffed00" stroke="#ffed00"/><path d="M432.8 231.4L439.3 229.8L445.8 231.2L439.3 232.8z" fill="#ffee00" stroke="#ffee00"/><path d="M439.3 232.8L445.8 231.2L452.4 232.5L445.8 234.1z" fill="#fff000" stroke="#fff000"/><path d="M445.8 234.1L452.4 232.5L458.9 233.8L452.3 235.4z" fill="#fff100" stroke="#fff100"/><path d="M452.3 235.4L458.9 233.8L465.4 235.1L458.9 236.8z" fill="#fff300" stroke="#fff300"/><path d="M458.9 236.8L465.4 235.1L472 236.4L465.4 238.1z" fill="#fff500" stroke="#fff500"/><path d="M465.4 238.1L472 236.4L478.5 237.7L471.9 239.5z" fill="#fff600" stroke="#fff600"/><path d="M471.9 239.5L478.5 237.7L485 239L478.5 240.8z" fill="#fff800" stroke="#fff800"/><path d="M478.5 240.8L485 239L491.5 240.3L485 242.2z" fill="#fff900" stroke="#fff900"/><path d="M360.8 214.3L367.3 213.1L373.8 214.4L367.3 215.6z" fill="#ffdb00" stroke="#ffdb00"/><path d="M367.3 215.6L373.8 214.4L380.4 215.7L373.9 216.9z" fill="#ffdd00" stroke="#ffdd00"/><path d="M373.9 216.9L380.4 215.7L386.9 216.9L380.4 218.2z" fill="#ffde00" stroke="#ffde00"/><path d="M380.4 218.2L386.9 216.9L393.5 218.2L387 219.5z" fill="#ffe000" stroke="#ffe000"/><path d="M387 219.5L393.5 218.2L400 219.4L393.5 220.7z" fill="#ffe100" stroke="#ffe100"/><path d="M393.5 220.7L400 219.4L406.6 220.7L400.1 222z" fill="#ffe300" stroke="#ffe300"/><path d="M400.1 222L406.6 220.7L413.1 222L406.6 223.3z" fill="#ffe400" stroke="#ffe400"/><path d="M406.6 223.3L413.1 222L419.7 223.2L413.1 224.6z" fill="#ffe600" stroke="#ffe600"/><path d="M413.1 224.6L419.7 223.2L426.2 224.5L419.7 225.9z" fill="#ffe700" stroke="#ffe700"/><path d="M419.7 225.9L426.2 224.5L432.7 225.7L426.2 227.2z" fill="#ffe900" stroke="#ffe900"/><path d="M426.2 227.2L432.7 225.7L439.3 227L432.7 228.5z" fill="#ffea00" stroke="#ffea00"/><path d="M432.7 228.5L439.3 227L445.8 228.3L439.3 229.8z" fill="#ffeb00" stroke="#ffeb00"/><path d="M439.3 229.8L445.8 228.3L452.4 229.6L445.8 231.2z" fill="#ffed00" stroke="#ffed00"/><path d="M445.8 231.2L452.4 229.6L458.9 230.8L452.4 232.5z" fill="#ffee00" stroke="#ffee00"/><path d="M452.4 232.5L458.9 230.8L465.4 232.1L458.9 233.8z" fill="#fff000" stroke="#fff000"/><path d="M458.9 233.8L465.4 232.1L472 233.4L465.4 235.1z" fill="#fff100" stroke="#fff100"/><path d="M465.4 235.1L472 233.4L478.5 234.6L472 236.4z" fill="#fff300" stroke="#fff300"/><path d="M472 236.4L478.5 234.6L485 235.9L478.5 237.7z" fill="#fff400" stroke="#fff400"/><path d="M478.5 237.7L485 235.9L491.6 237.2L485 239z" fill="#fff600" stroke="#fff600"/><path d="M485 239L491.6 237.2L498.1 238.5L491.5 240.3z" fill="#fff700" stroke="#fff700"/><path d="M367.3 213.1L373.8 212L380.3 213.2L373.8 214.4z" fill="#ffdb00" stroke="#ffdb00"/><path d="M373.8 214.4L380.3 213.2L386.9 214.4L380.4 215.7z" fill="#ffdd00" stroke="#ffdd00"/><path d="M380.4 215.7L386.9 214.4L393.4 215.7L386.9 216.9z" fill="#ffde00" stroke="#ffde00"/><path d="M386.9 216.9L393.4 215.7L400 216.9L393.5 218.2z" fill="#ffdf00" stroke="#ffdf00"/><path d="M393.5 218.2L400 216.9L406.5 218.1L400 219.4z" fill="#ffe100" stroke="#ffe100"/><path d="M400 219.4L406.5 218.1L413.1 219.3L406.6 220.7z" fill="#ffe200" stroke="#ffe200"/><path d="M406.6 220.7L413.1 219.3L419.6 220.6L413.1 222z" fill="#ffe300" stroke="#ffe300"/><path d="M413.1 222L419.6 220.6L426.2 221.8L419.7 223.2z" fill="#ffe500" stroke="#ffe500"/><path d="M419.7 223.2L426.2 221.8L432.7 223L426.2 224.5z" fill="#ffe600" stroke="#ffe600"/><path d="M426.2 224.5L432.7 223L439.3 224.3L432.7 225.7z" fill="#ffe700" stroke="#ffe700"/><path d="M432.7 225.7L439.3 224.3L445.8 225.5L439.3 227z" fill="#ffe900" stroke="#ffe900"/><path d="M439.3 227L445.8 225.5L452.3 226.7L445.8 228.3z" fill="#ffea00" stroke="#ffea00"/><path d="M445.8 228.3L452.3 226.7L458.9 228L452.4 229.6z" fill="#ffec00" stroke="#ffec00"/><path d="M452.4 229.6L458.9 228L465.4 229.2L458.9 230.8z" fill="#ffed00" stroke="#ffed00"/><path d="M458.9 230.8L465.4 229.2L472 230.4L465.4 232.1z" fill="#ffee00" stroke="#ffee00"/><path d="M465.4 232.1L472 230.4L478.5 231.7L472 233.4z" fill="#fff000" stroke="#fff000"/><path d="M472 233.4L478.5 231.7L485 232.9L478.5 234.6z" fill="#fff100" stroke="#fff100"/><path d="M478.5 234.6L485 232.9L491.6 234.1L485 235.9z" fill="#fff200" stroke="#fff200"/><path d="M485 235.9L491.6 234.1L498.1 235.4L491.6 237.2z" fill="#fff400" stroke="#fff400"/><path d="M491.6 237.2L498.1 235.4L504.7 236.6L498.1 238.5z" fill="#fff500" stroke="#fff500"/></g>
<path d="M243.7 234.8L246.9 234.2L250.2 233.7L253.5 233.1L256.7 232.5L260 231.9L263.2 231.4L266.5 230.8L269.7 230.2L273 229.7L276.2 229.1L279.5 228.5L282.7 228L286 227.4L289.2 226.8L292.5 226.2L295.7 225.7L299 225.1L302.2 224.5L305.5 224L308.7 223.4L312 222.8L315.3 222.3L318.5 221.7L321.8 221.1L325 220.5L328.3 220L331.5 219.4L334.8 218.8L338 218.3L341.3 217.7L344.5 217.1L347.8 216.6L351 216L354.3 215.4L357.5 214.8L360.8 214.3L364 213.7L367.3 213.1L370.5 212.6L373.8 212M246.3 235.6L249.6 235L252.8 234.4L256.1 233.8L259.3 233.3L262.6 232.7L265.8 232.1L269.1 231.5L272.3 231L275.6 230.4L278.8 229.8L282.1 229.2L285.3 228.6L288.6 228.1L291.8 227.5L295.1 226.9L298.3 226.3L301.6 225.8L304.9 225.2L308.1 224.6L311.4 224L314.6 223.5L317.9 222.9L321.1 222.3L324.4 221.7L327.6 221.1L330.9 220.6L334.1 220L337.4 219.4L340.6 218.8L343.9 218.3L347.1 217.7L350.4 217.1L353.6 216.5L356.9 215.9L360.2 215.4L363.4 214.8L366.7 214.2L369.9 213.6L373.2 213.1L376.4 212.5M248.9 236.3L252.2 235.8L255.4 235.2L258.7 234.6L261.9 234L265.2 233.4L268.4 232.8L271.7 232.3L274.9 231.7L278.2 231.1L281.4 230.5L284.7 229.9L287.9 229.3L291.2 228.7L294.5 228.2L297.7 227.6L301 227L304.2 226.4L307.5 225.8L310.7 225.2L314 224.7L317.2 224.1L320.5 223.5L323.7 222.9L327 222.3L330.2 221.7L333.5 221.2L336.7 220.6L340 220L343.3 219.4L346.5 218.8L349.8 218.2L353 217.6L356.3 217.1L359.5 216.5L362.8 215.9L366 215.3L369.3 214.7L372.5 214.1L375.8 213.6L379 213M251.5 237.1L254.8 236.5L258 235.9L261.3 235.3L264.5 234.8L267.8 234.2L271 233.6L274.3 233L277.5 232.4L280.8 231.8L284.1 231.2L287.3 230.6L290.6 230L293.8 229.4L297.1 228.8L300.3 228.2L303.6 227.7L306.8 227.1L310.1 226.5L313.3 225.9L316.6 225.3L319.8 224.7L323.1 224.1L326.3 223.5L329.6 222.9L332.9 222.3L336.1 221.7L339.4 221.1L342.6 220.6L345.9 220L349.1 219.4L352.4 218.8L355.6 218.2L358.9 217.6L362.1 217L365.4 216.4L368.6 215.8L371.9 215.2L375.2 214.6L378.4 214.1L381.7 213.5M254.1 237.9L257.4 237.3L260.6 236.7L263.9 236.1L267.1 235.5L270.4 234.9L273.6 234.3L276.9 233.7L280.2 233.1L283.4 232.5L286.7 231.9L289.9 231.3L293.2 230.7L296.4 230.1L299.7 229.5L302.9 228.9L306.2 228.3L309.4 227.7L312.7 227.1L315.9 226.5L319.2 225.9L322.5 225.3L325.7 224.7L329 224.1L332.2 223.5L335.5 222.9L338.7 222.3L342 221.7L345.2 221.1L348.5 220.5L351.7 219.9L355 219.3L358.2 218.7L361.5 218.1L364.8 217.5L368 216.9L371.3 216.3L374.5 215.7L377.8 215.2L381 214.6L384.3 214M256.7 238.7L260 238.1L263.2 237.5L266.5 236.9L269.8 236.2L273 235.6L276.3 235L279.5 234.4L282.8 233.8L286 233.2L289.3 232.6L292.5 232L295.8 231.4L299 230.8L302.3 230.2L305.5 229.6L308.8 229L312 228.4L315.3 227.8L318.6 227.2L321.8 226.5L325.1 225.9L328.3 225.3L331.6 224.7L334.8 224.1L338.1 223.5L341.3 222.9L344.6 222.3L347.8 221.7L351.1 221.1L354.4 220.5L357.6 219.9L360.9 219.3L364.1 218.7L367.4 218.1L370.6 217.5L373.9 216.9L377.1 216.3L380.4 215.7L383.6 215L386.9 214.4M259.3 239.4L262.6 238.8L265.9 238.2L269.1 237.6L272.4 237L275.6 236.4L278.9 235.8L282.1 235.2L285.4 234.5L288.6 233.9L291.9 233.3L295.1 232.7L298.4 232.1L301.6 231.5L304.9 230.9L308.2 230.2L311.4 229.6L314.7 229L317.9 228.4L321.2 227.8L324.4 227.2L327.7 226.6L330.9 226L334.2 225.3L337.4 224.7L340.7 224.1L343.9 223.5L347.2 222.9L350.5 222.3L353.7 221.7L357 221.1L360.2 220.4L363.5 219.8L366.7 219.2L370 218.6L373.2 218L376.5 217.4L379.8 216.8L383 216.2L386.3 215.5L389.5 214.9M262 240.2L265.2 239.6L268.5 239L271.7 238.4L275 237.7L278.2 237.1L281.5 236.5L284.7 235.9L288 235.3L291.2 234.6L294.5 234L297.7 233.4L301 232.8L304.3 232.2L307.5 231.5L310.8 230.9L314 230.3L317.3 229.7L320.5 229.1L323.8 228.4L327 227.8L330.3 227.2L333.5 226.6L336.8 226L340.1 225.3L343.3 224.7L346.6 224.1L349.8 223.5L353.1 222.9L356.3 222.2L359.6 221.6L362.8 221L366.1 220.4L369.3 219.8L372.6 219.1L375.9 218.5L379.1 217.9L382.4 217.3L385.6 216.7L388.9 216L392.1 215.4M264.6 241L267.8 240.4L271.1 239.7L274.3 239.1L277.6 238.5L280.8 237.9L284.1 237.2L287.3 236.6L290.6 236L293.8 235.3L297.1 234.7L300.4 234.1L303.6 233.5L306.9 232.8L310.1 232.2L313.4 231.6L316.6 231L319.9 230.3L323.1 229.7L326.4 229.1L329.6 228.4L332.9 227.8L336.2 227.2L339.4 226.6L342.7 225.9L345.9 225.3L349.2 224.7L352.4 224.1L355.7 223.4L358.9 222.8L362.2 222.2L365.5 221.5L368.7 220.9L372 220.3L375.2 219.7L378.5 219L381.7 218.4L385 217.8L388.2 217.2L391.5 216.5L394.8 215.9M267.2 241.8L270.4 241.1L273.7 240.5L276.9 239.9L280.2 239.2L283.4 238.6L286.7 238L289.9 237.3L293.2 236.7L296.5 236.1L299.7 235.4L303 234.8L306.2 234.2L309.5 233.5L312.7 232.9L316 232.2L319.2 231.6L322.5 231L325.7 230.3L329 229.7L332.3 229.1L335.5 228.4L338.8 227.8L342 227.2L345.3 226.5L348.5 225.9L351.8 225.3L355 224.6L358.3 224L361.6 223.4L364.8 222.7L368.1 222.1L371.3 221.5L374.6 220.8L377.8 220.2L381.1 219.6L384.3 218.9L387.6 218.3L390.9 217.7L394.1 217L397.4 216.4M269.8 242.6L273 241.9L276.3 241.3L279.5 240.6L282.8 240L286 239.3L289.3 238.7L292.6 238.1L295.8 237.4L299.1 236.8L302.3 236.1L305.6 235.5L308.8 234.8L312.1 234.2L315.3 233.6L318.6 232.9L321.8 232.3L325.1 231.6L328.4 231L331.6 230.3L334.9 229.7L338.1 229.1L341.4 228.4L344.6 227.8L347.9 227.1L351.1 226.5L354.4 225.9L357.7 225.2L360.9 224.6L364.2 223.9L367.4 223.3L370.7 222.7L373.9 222L377.2 221.4L380.5 220.7L383.7 220.1L387 219.5L390.2 218.8L393.5 218.2L396.7 217.5L400 216.9M272.4 243.3L275.6 242.7L278.9 242L282.1 241.4L285.4 240.7L288.7 240.1L291.9 239.4L295.2 238.8L298.4 238.1L301.7 237.5L304.9 236.8L308.2 236.2L311.4 235.5L314.7 234.9L317.9 234.2L321.2 233.6L324.5 232.9L327.7 232.3L331 231.6L334.2 231L337.5 230.3L340.7 229.7L344 229L347.2 228.4L350.5 227.7L353.8 227.1L357 226.4L360.3 225.8L363.5 225.2L366.8 224.5L370 223.9L373.3 223.2L376.6 222.6L379.8 221.9L383.1 221.3L386.3 220.6L389.6 220L392.8 219.3L396.1 218.7L399.4 218L402.6 217.4M275 244.1L278.2 243.5L281.5 242.8L284.8 242.1L288 241.5L291.3 240.8L294.5 240.2L297.8 239.5L301 238.9L304.3 238.2L307.5 237.5L310.8 236.9L314 236.2L317.3 235.6L320.6 234.9L323.8 234.3L327.1 233.6L330.3 232.9L333.6 232.3L336.8 231.6L340.1 231L343.3 230.3L346.6 229.7L349.9 229L353.1 228.3L356.4 227.7L359.6 227L362.9 226.4L366.1 225.7L369.4 225.1L372.7 224.4L375.9 223.8L379.2 223.1L382.4 222.5L385.7 221.8L388.9 221.1L392.2 220.5L395.5 219.8L398.7 219.2L402 218.5L405.2 217.9M277.6 244.9L280.8 244.2L284.1 243.6L287.4 242.9L290.6 242.2L293.9 241.6L297.1 240.9L300.4 240.2L303.6 239.6L306.9 238.9L310.1 238.2L313.4 237.6L316.7 236.9L319.9 236.3L323.2 235.6L326.4 234.9L329.7 234.3L332.9 233.6L336.2 232.9L339.4 232.3L342.7 231.6L346 230.9L349.2 230.3L352.5 229.6L355.7 229L359 228.3L362.2 227.6L365.5 227L368.8 226.3L372 225.6L375.3 225L378.5 224.3L381.8 223.7L385 223L388.3 222.3L391.6 221.7L394.8 221L398.1 220.3L401.3 219.7L404.6 219L407.8 218.4M280.2 245.7L283.5 245L286.7 244.3L290 243.7L293.2 243L296.5 242.3L299.7 241.6L303 241L306.2 240.3L309.5 239.6L312.8 238.9L316 238.3L319.3 237.6L322.5 236.9L325.8 236.3L329 235.6L332.3 234.9L335.5 234.3L338.8 233.6L342.1 232.9L345.3 232.2L348.6 231.6L351.8 230.9L355.1 230.2L358.3 229.6L361.6 228.9L364.9 228.2L368.1 227.5L371.4 226.9L374.6 226.2L377.9 225.5L381.1 224.9L384.4 224.2L387.7 223.5L390.9 222.9L394.2 222.2L397.4 221.5L400.7 220.9L404 220.2L407.2 219.5L410.5 218.9M282.8 246.4L286.1 245.8L289.3 245.1L292.6 244.4L295.8 243.7L299.1 243L302.3 242.4L305.6 241.7L308.8 241L312.1 240.3L315.4 239.7L318.6 239L321.9 238.3L325.1 237.6L328.4 236.9L331.6 236.3L334.9 235.6L338.2 234.9L341.4 234.2L344.7 233.5L347.9 232.9L351.2 232.2L354.4 231.5L357.7 230.8L361 230.2L364.2 229.5L367.5 228.8L370.7 228.1L374 227.5L377.2 226.8L380.5 226.1L383.8 225.4L387 224.7L390.3 224.1L393.5 223.4L396.8 222.7L400.1 222L403.3 221.4L406.6 220.7L409.8 220L413.1 219.3M285.4 247.2L288.7 246.5L291.9 245.9L295.2 245.2L298.4 244.5L301.7 243.8L304.9 243.1L308.2 242.4L311.5 241.7L314.7 241L318 240.4L321.2 239.7L324.5 239L327.7 238.3L331 237.6L334.3 236.9L337.5 236.2L340.8 235.6L344 234.9L347.3 234.2L350.5 233.5L353.8 232.8L357.1 232.1L360.3 231.5L363.6 230.8L366.8 230.1L370.1 229.4L373.3 228.7L376.6 228L379.9 227.3L383.1 226.7L386.4 226L389.6 225.3L392.9 224.6L396.1 223.9L399.4 223.2L402.7 222.6L405.9 221.9L409.2 221.2L412.4 220.5L415.7 219.8M288 248L291.3 247.3L294.5 246.6L297.8 245.9L301 245.2L304.3 244.5L307.5 243.8L310.8 243.1L314.1 242.5L317.3 241.8L320.6 241.1L323.8 240.4L327.1 239.7L330.3 239L333.6 238.3L336.9 237.6L340.1 236.9L343.4 236.2L346.6 235.5L349.9 234.8L353.1 234.1L356.4 233.4L359.7 232.8L362.9 232.1L366.2 231.4L369.4 230.7L372.7 230L376 229.3L379.2 228.6L382.5 227.9L385.7 227.2L389 226.5L392.2 225.8L395.5 225.2L398.8 224.5L402 223.8L405.3 223.1L408.5 222.4L411.8 221.7L415.1 221L418.3 220.3M290.6 248.8L293.9 248.1L297.1 247.4L300.4 246.7L303.6 246L306.9 245.3L310.2 244.6L313.4 243.9L316.7 243.2L319.9 242.5L323.2 241.8L326.4 241.1L329.7 240.4L333 239.7L336.2 239L339.5 238.3L342.7 237.6L346 236.9L349.2 236.2L352.5 235.5L355.8 234.8L359 234.1L362.3 233.4L365.5 232.7L368.8 232L372 231.3L375.3 230.6L378.6 229.9L381.8 229.2L385.1 228.5L388.3 227.8L391.6 227.1L394.9 226.4L398.1 225.7L401.4 225L404.6 224.3L407.9 223.6L411.2 222.9L414.4 222.2L417.7 221.5L420.9 220.8M293.2 249.6L296.5 248.9L299.7 248.1L303 247.4L306.2 246.7L309.5 246L312.8 245.3L316 244.6L319.3 243.9L322.5 243.2L325.8 242.5L329 241.8L332.3 241.1L335.6 240.4L338.8 239.6L342.1 238.9L345.3 238.2L348.6 237.5L351.8 236.8L355.1 236.1L358.4 235.4L361.6 234.7L364.9 234L368.1 233.3L371.4 232.6L374.7 231.9L377.9 231.2L381.2 230.5L384.4 229.8L387.7 229.1L391 228.4L394.2 227.6L397.5 226.9L400.7 226.2L404 225.5L407.3 224.8L410.5 224.1L413.8 223.4L417 222.7L420.3 222L423.6 221.3M295.8 250.3L299.1 249.6L302.3 248.9L305.6 248.2L308.9 247.5L312.1 246.8L315.4 246L318.6 245.3L321.9 244.6L325.1 243.9L328.4 243.2L331.7 242.5L334.9 241.8L338.2 241L341.4 240.3L344.7 239.6L347.9 238.9L351.2 238.2L354.5 237.5L357.7 236.8L361 236L364.2 235.3L367.5 234.6L370.8 233.9L374 233.2L377.3 232.5L380.5 231.8L383.8 231L387 230.3L390.3 229.6L393.6 228.9L396.8 228.2L400.1 227.5L403.3 226.8L406.6 226.1L409.9 225.4L413.1 224.6L416.4 223.9L419.7 223.2L422.9 222.5L426.2 221.8M298.4 251.1L301.7 250.4L304.9 249.7L308.2 249L311.5 248.2L314.7 247.5L318 246.8L321.2 246.1L324.5 245.3L327.7 244.6L331 243.9L334.3 243.2L337.5 242.4L340.8 241.7L344 241L347.3 240.3L350.5 239.6L353.8 238.8L357.1 238.1L360.3 237.4L363.6 236.7L366.8 236L370.1 235.2L373.4 234.5L376.6 233.8L379.9 233.1L383.1 232.4L386.4 231.6L389.7 230.9L392.9 230.2L396.2 229.5L399.4 228.8L402.7 228L406 227.3L409.2 226.6L412.5 225.9L415.7 225.2L419 224.4L422.3 223.7L425.5 223L428.8 222.3M301 251.9L304.3 251.2L307.5 250.4L310.8 249.7L314.1 249L317.3 248.3L320.6 247.5L323.8 246.8L327.1 246.1L330.3 245.3L333.6 244.6L336.9 243.9L340.1 243.1L343.4 242.4L346.6 241.7L349.9 241L353.2 240.2L356.4 239.5L359.7 238.8L362.9 238L366.2 237.3L369.5 236.6L372.7 235.9L376 235.1L379.2 234.4L382.5 233.7L385.8 232.9L389 232.2L392.3 231.5L395.5 230.8L398.8 230L402.1 229.3L405.3 228.6L408.6 227.9L411.8 227.1L415.1 226.4L418.4 225.7L421.6 225L424.9 224.2L428.1 223.5L431.4 222.8M303.6 252.7L306.9 251.9L310.1 251.2L313.4 250.5L316.7 249.7L319.9 249L323.2 248.3L326.4 247.5L329.7 246.8L333 246L336.2 245.3L339.5 244.6L342.7 243.8L346 243.1L349.2 242.4L352.5 241.6L355.8 240.9L359 240.2L362.3 239.4L365.5 238.7L368.8 237.9L372.1 237.2L375.3 236.5L378.6 235.7L381.8 235L385.1 234.3L388.4 233.5L391.6 232.8L394.9 232.1L398.1 231.3L401.4 230.6L404.7 229.9L407.9 229.1L411.2 228.4L414.5 227.7L417.7 226.9L421 226.2L424.2 225.5L427.5 224.7L430.8 224L434 223.3M306.2 253.5L309.5 252.7L312.8 252L316 251.2L319.3 250.5L322.5 249.7L325.8 249L329 248.3L332.3 247.5L335.6 246.8L338.8 246L342.1 245.3L345.3 244.5L348.6 243.8L351.9 243L355.1 242.3L358.4 241.6L361.6 240.8L364.9 240.1L368.2 239.3L371.4 238.6L374.7 237.8L377.9 237.1L381.2 236.4L384.5 235.6L387.7 234.9L391 234.1L394.2 233.4L397.5 232.6L400.8 231.9L404 231.2L407.3 230.4L410.5 229.7L413.8 228.9L417.1 228.2L420.3 227.5L423.6 226.7L426.9 226L430.1 225.2L433.4 224.5L436.6 223.8M308.8 254.3L312.1 253.5L315.4 252.7L318.6 252L321.9 251.2L325.1 250.5L328.4 249.7L331.6 249L334.9 248.2L338.2 247.5L341.4 246.7L344.7 246L347.9 245.2L351.2 244.5L354.5 243.7L357.7 243L361 242.2L364.2 241.5L367.5 240.7L370.8 240L374 239.2L377.3 238.5L380.5 237.7L383.8 237L387.1 236.2L390.3 235.5L393.6 234.7L396.8 234L400.1 233.2L403.4 232.5L406.6 231.7L409.9 231L413.2 230.2L416.4 229.5L419.7 228.7L422.9 228L426.2 227.2L429.5 226.5L432.7 225.7L436 225L439.3 224.3M311.4 255L314.7 254.3L318 253.5L321.2 252.8L324.5 252L327.7 251.2L331 250.5L334.2 249.7L337.5 249L340.8 248.2L344 247.4L347.3 246.7L350.5 245.9L353.8 245.2L357.1 244.4L360.3 243.6L363.6 242.9L366.8 242.1L370.1 241.4L373.4 240.6L376.6 239.9L379.9 239.1L383.2 238.3L386.4 237.6L389.7 236.8L392.9 236.1L396.2 235.3L399.5 234.6L402.7 233.8L406 233L409.2 232.3L412.5 231.5L415.8 230.8L419 230L422.3 229.3L425.6 228.5L428.8 227.8L432.1 227L435.4 226.3L438.6 225.5L441.9 224.7M314 255.8L317.3 255L320.6 254.3L323.8 253.5L327.1 252.7L330.3 252L333.6 251.2L336.9 250.4L340.1 249.7L343.4 248.9L346.6 248.1L349.9 247.4L353.2 246.6L356.4 245.8L359.7 245.1L362.9 244.3L366.2 243.5L369.5 242.8L372.7 242L376 241.3L379.2 240.5L382.5 239.7L385.8 239L389 238.2L392.3 237.4L395.5 236.7L398.8 235.9L402.1 235.1L405.3 234.4L408.6 233.6L411.9 232.9L415.1 232.1L418.4 231.3L421.6 230.6L424.9 229.8L428.2 229L431.4 228.3L434.7 227.5L438 226.8L441.2 226L444.5 225.2M316.6 256.6L319.9 255.8L323.2 255L326.4 254.3L329.7 253.5L332.9 252.7L336.2 251.9L339.5 251.2L342.7 250.4L346 249.6L349.2 248.9L352.5 248.1L355.8 247.3L359 246.5L362.3 245.8L365.5 245L368.8 244.2L372.1 243.4L375.3 242.7L378.6 241.9L381.8 241.1L385.1 240.4L388.4 239.6L391.6 238.8L394.9 238L398.2 237.3L401.4 236.5L404.7 235.7L407.9 235L411.2 234.2L414.5 233.4L417.7 232.6L421 231.9L424.3 231.1L427.5 230.3L430.8 229.6L434.1 228.8L437.3 228L440.6 227.3L443.8 226.5L447.1 225.7M319.2 257.4L322.5 256.6L325.8 255.8L329 255L332.3 254.3L335.5 253.5L338.8 252.7L342.1 251.9L345.3 251.1L348.6 250.3L351.8 249.6L355.1 248.8L358.4 248L361.6 247.2L364.9 246.4L368.1 245.7L371.4 244.9L374.7 244.1L377.9 243.3L381.2 242.5L384.5 241.8L387.7 241L391 240.2L394.2 239.4L397.5 238.6L400.8 237.9L404 237.1L407.3 236.3L410.6 235.5L413.8 234.8L417.1 234L420.3 233.2L423.6 232.4L426.9 231.7L430.1 230.9L433.4 230.1L436.7 229.3L439.9 228.6L443.2 227.8L446.5 227L449.7 226.2M321.8 258.2L325.1 257.4L328.4 256.6L331.6 255.8L334.9 255L338.1 254.2L341.4 253.4L344.7 252.6L347.9 251.8L351.2 251.1L354.4 250.3L357.7 249.5L361 248.7L364.2 247.9L367.5 247.1L370.7 246.3L374 245.5L377.3 244.8L380.5 244L383.8 243.2L387.1 242.4L390.3 241.6L393.6 240.8L396.8 240L400.1 239.3L403.4 238.5L406.6 237.7L409.9 236.9L413.2 236.1L416.4 235.3L419.7 234.5L423 233.8L426.2 233L429.5 232.2L432.8 231.4L436 230.6L439.3 229.8L442.5 229.1L445.8 228.3L449.1 227.5L452.3 226.7M324.4 258.9L327.7 258.2L331 257.4L334.2 256.6L337.5 255.8L340.7 255L344 254.2L347.3 253.4L350.5 252.6L353.8 251.8L357 251L360.3 250.2L363.6 249.4L366.8 248.6L370.1 247.8L373.4 247L376.6 246.2L379.9 245.4L383.1 244.6L386.4 243.8L389.7 243L392.9 242.2L396.2 241.4L399.5 240.7L402.7 239.9L406 239.1L409.2 238.3L412.5 237.5L415.8 236.7L419 235.9L422.3 235.1L425.6 234.3L428.8 233.5L432.1 232.7L435.4 231.9L438.6 231.2L441.9 230.4L445.2 229.6L448.4 228.8L451.7 228L455 227.2M327 259.7L330.3 258.9L333.6 258.1L336.8 257.3L340.1 256.5L343.3 255.7L346.6 254.9L349.9 254.1L353.1 253.3L356.4 252.5L359.7 251.7L362.9 250.9L366.2 250.1L369.4 249.3L372.7 248.5L376 247.7L379.2 246.9L382.5 246.1L385.7 245.3L389 244.5L392.3 243.7L395.5 242.9L398.8 242.1L402.1 241.3L405.3 240.5L408.6 239.7L411.9 238.9L415.1 238.1L418.4 237.3L421.7 236.5L424.9 235.7L428.2 234.9L431.4 234.1L434.7 233.3L438 232.5L441.2 231.7L444.5 230.9L447.8 230.1L451 229.3L454.3 228.5L457.6 227.7M329.6 260.5L332.9 259.7L336.2 258.9L339.4 258.1L342.7 257.3L345.9 256.5L349.2 255.6L352.5 254.8L355.7 254L359 253.2L362.3 252.4L365.5 251.6L368.8 250.8L372 250L375.3 249.2L378.6 248.4L381.8 247.5L385.1 246.7L388.4 245.9L391.6 245.1L394.9 244.3L398.1 243.5L401.4 242.7L404.7 241.9L407.9 241.1L411.2 240.3L414.5 239.5L417.7 238.7L421 237.9L424.3 237L427.5 236.2L430.8 235.4L434.1 234.6L437.3 233.8L440.6 233L443.9 232.2L447.1 231.4L450.4 230.6L453.7 229.8L456.9 229L460.2 228.2M332.2 261.3L335.5 260.5L338.8 259.7L342 258.8L345.3 258L348.5 257.2L351.8 256.4L355.1 255.6L358.3 254.7L361.6 253.9L364.9 253.1L368.1 252.3L371.4 251.5L374.6 250.7L377.9 249.8L381.2 249L384.4 248.2L387.7 247.4L391 246.6L394.2 245.8L397.5 244.9L400.8 244.1L404 243.3L407.3 242.5L410.5 241.7L413.8 240.9L417.1 240.1L420.3 239.2L423.6 238.4L426.9 237.6L430.1 236.8L433.4 236L436.7 235.2L439.9 234.4L443.2 233.6L446.5 232.7L449.7 231.9L453 231.1L456.3 230.3L459.5 229.5L462.8 228.7M334.8 262.1L338.1 261.3L341.4 260.4L344.6 259.6L347.9 258.8L351.1 258L354.4 257.1L357.7 256.3L360.9 255.5L364.2 254.6L367.5 253.8L370.7 253L374 252.2L377.2 251.4L380.5 250.5L383.8 249.7L387 248.9L390.3 248.1L393.6 247.2L396.8 246.4L400.1 245.6L403.4 244.8L406.6 243.9L409.9 243.1L413.2 242.3L416.4 241.5L419.7 240.7L423 239.8L426.2 239L429.5 238.2L432.8 237.4L436 236.6L439.3 235.7L442.6 234.9L445.8 234.1L449.1 233.3L452.4 232.5L455.6 231.6L458.9 230.8L462.2 230L465.4 229.2M337.4 262.9L340.7 262L344 261.2L347.2 260.4L350.5 259.5L353.8 258.7L357 257.9L360.3 257L363.5 256.2L366.8 255.4L370.1 254.5L373.3 253.7L376.6 252.9L379.9 252L383.1 251.2L386.4 250.4L389.6 249.5L392.9 248.7L396.2 247.9L399.4 247.1L402.7 246.2L406 245.4L409.2 244.6L412.5 243.7L415.8 242.9L419 242.1L422.3 241.3L425.6 240.4L428.8 239.6L432.1 238.8L435.4 237.9L438.6 237.1L441.9 236.3L445.2 235.5L448.4 234.6L451.7 233.8L455 233L458.2 232.2L461.5 231.3L464.8 230.5L468 229.7M340 263.7L343.3 262.8L346.6 262L349.8 261.1L353.1 260.3L356.4 259.4L359.6 258.6L362.9 257.8L366.1 256.9L369.4 256.1L372.7 255.2L375.9 254.4L379.2 253.6L382.5 252.7L385.7 251.9L389 251.1L392.2 250.2L395.5 249.4L398.8 248.5L402 247.7L405.3 246.9L408.6 246L411.8 245.2L415.1 244.4L418.4 243.5L421.6 242.7L424.9 241.8L428.2 241L431.4 240.2L434.7 239.3L438 238.5L441.2 237.7L444.5 236.8L447.8 236L451 235.2L454.3 234.3L457.6 233.5L460.8 232.7L464.1 231.8L467.4 231L470.7 230.2M342.6 264.4L345.9 263.6L349.2 262.7L352.4 261.9L355.7 261L359 260.2L362.2 259.4L365.5 258.5L368.7 257.7L372 256.8L375.3 256L378.5 255.1L381.8 254.3L385.1 253.4L388.3 252.6L391.6 251.7L394.9 250.9L398.1 250L401.4 249.2L404.6 248.3L407.9 247.5L411.2 246.7L414.4 245.8L417.7 245L421 244.1L424.2 243.3L427.5 242.4L430.8 241.6L434 240.8L437.3 239.9L440.6 239.1L443.9 238.2L447.1 237.4L450.4 236.5L453.7 235.7L456.9 234.9L460.2 234L463.5 233.2L466.7 232.3L470 231.5L473.3 230.7M345.2 265.2L348.5 264.4L351.8 263.5L355 262.7L358.3 261.8L361.6 260.9L364.8 260.1L368.1 259.2L371.3 258.4L374.6 257.5L377.9 256.7L381.1 255.8L384.4 255L387.7 254.1L390.9 253.3L394.2 252.4L397.5 251.6L400.7 250.7L404 249.8L407.3 249L410.5 248.1L413.8 247.3L417.1 246.4L420.3 245.6L423.6 244.7L426.9 243.9L430.1 243L433.4 242.2L436.7 241.3L439.9 240.5L443.2 239.6L446.5 238.8L449.7 237.9L453 237.1L456.3 236.2L459.5 235.4L462.8 234.5L466.1 233.7L469.3 232.9L472.6 232L475.9 231.2M347.8 266L351.1 265.2L354.4 264.3L357.6 263.4L360.9 262.6L364.2 261.7L367.4 260.8L370.7 260L373.9 259.1L377.2 258.2L380.5 257.4L383.7 256.5L387 255.7L390.3 254.8L393.5 253.9L396.8 253.1L400.1 252.2L403.3 251.4L406.6 250.5L409.9 249.6L413.1 248.8L416.4 247.9L419.7 247.1L422.9 246.2L426.2 245.3L429.5 244.5L432.7 243.6L436 242.8L439.3 241.9L442.5 241.1L445.8 240.2L449.1 239.3L452.3 238.5L455.6 237.6L458.9 236.8L462.2 235.9L465.4 235.1L468.7 234.2L472 233.4L475.2 232.5L478.5 231.7M350.4 266.8L353.7 265.9L357 265.1L360.2 264.2L363.5 263.3L366.7 262.4L370 261.6L373.3 260.7L376.5 259.8L379.8 259L383.1 258.1L386.3 257.2L389.6 256.4L392.9 255.5L396.1 254.6L399.4 253.8L402.7 252.9L405.9 252L409.2 251.2L412.5 250.3L415.7 249.4L419 248.6L422.3 247.7L425.5 246.8L428.8 246L432.1 245.1L435.3 244.2L438.6 243.4L441.9 242.5L445.1 241.6L448.4 240.8L451.7 239.9L455 239L458.2 238.2L461.5 237.3L464.8 236.5L468 235.6L471.3 234.7L474.6 233.9L477.8 233L481.1 232.1M353 267.6L356.3 266.7L359.6 265.8L362.8 265L366.1 264.1L369.3 263.2L372.6 262.3L375.9 261.4L379.1 260.6L382.4 259.7L385.7 258.8L388.9 257.9L392.2 257.1L395.5 256.2L398.7 255.3L402 254.4L405.3 253.6L408.5 252.7L411.8 251.8L415.1 250.9L418.3 250.1L421.6 249.2L424.9 248.3L428.1 247.4L431.4 246.6L434.7 245.7L437.9 244.8L441.2 244L444.5 243.1L447.8 242.2L451 241.3L454.3 240.5L457.6 239.6L460.8 238.7L464.1 237.9L467.4 237L470.6 236.1L473.9 235.2L477.2 234.4L480.5 233.5L483.7 232.6M355.6 268.4L358.9 267.5L362.2 266.6L365.4 265.7L368.7 264.8L371.9 263.9L375.2 263.1L378.5 262.2L381.7 261.3L385 260.4L388.3 259.5L391.5 258.6L394.8 257.8L398.1 256.9L401.3 256L404.6 255.1L407.9 254.2L411.1 253.3L414.4 252.5L417.7 251.6L420.9 250.7L424.2 249.8L427.5 248.9L430.7 248.1L434 247.2L437.3 246.3L440.6 245.4L443.8 244.5L447.1 243.7L450.4 242.8L453.6 241.9L456.9 241L460.2 240.1L463.4 239.3L466.7 238.4L470 237.5L473.3 236.6L476.5 235.8L479.8 234.9L483.1 234L486.4 233.1M358.2 269.2L361.5 268.3L364.8 267.4L368 266.5L371.3 265.6L374.5 264.7L377.8 263.8L381.1 262.9L384.3 262L387.6 261.1L390.9 260.2L394.1 259.3L397.4 258.5L400.7 257.6L403.9 256.7L407.2 255.8L410.5 254.9L413.7 254L417 253.1L420.3 252.2L423.5 251.3L426.8 250.5L430.1 249.6L433.4 248.7L436.6 247.8L439.9 246.9L443.2 246L446.4 245.1L449.7 244.2L453 243.4L456.2 242.5L459.5 241.6L462.8 240.7L466.1 239.8L469.3 238.9L472.6 238L475.9 237.2L479.1 236.3L482.4 235.4L485.7 234.5L489 233.6M360.8 270L364.1 269.1L367.4 268.2L370.6 267.3L373.9 266.3L377.1 265.4L380.4 264.5L383.7 263.6L386.9 262.8L390.2 261.9L393.5 261L396.7 260.1L400 259.2L403.3 258.3L406.5 257.4L409.8 256.5L413.1 255.6L416.3 254.7L419.6 253.8L422.9 252.9L426.1 252L429.4 251.1L432.7 250.2L436 249.3L439.2 248.4L442.5 247.5L445.8 246.6L449 245.7L452.3 244.8L455.6 243.9L458.9 243L462.1 242.1L465.4 241.3L468.7 240.4L471.9 239.5L475.2 238.6L478.5 237.7L481.8 236.8L485 235.9L488.3 235L491.6 234.1M363.4 270.7L366.7 269.8L369.9 268.9L373.2 268L376.5 267.1L379.7 266.2L383 265.3L386.3 264.4L389.5 263.5L392.8 262.6L396.1 261.7L399.3 260.8L402.6 259.9L405.9 258.9L409.1 258L412.4 257.1L415.7 256.2L418.9 255.3L422.2 254.4L425.5 253.5L428.8 252.6L432 251.7L435.3 250.8L438.6 249.9L441.8 249L445.1 248.1L448.4 247.2L451.6 246.3L454.9 245.4L458.2 244.5L461.5 243.6L464.7 242.7L468 241.8L471.3 240.9L474.6 240L477.8 239.1L481.1 238.2L484.4 237.3L487.6 236.4L490.9 235.5L494.2 234.6M366 271.5L369.3 270.6L372.5 269.7L375.8 268.8L379.1 267.9L382.3 267L385.6 266L388.9 265.1L392.1 264.2L395.4 263.3L398.7 262.4L401.9 261.5L405.2 260.6L408.5 259.6L411.7 258.7L415 257.8L418.3 256.9L421.5 256L424.8 255.1L428.1 254.2L431.4 253.3L434.6 252.4L437.9 251.4L441.2 250.5L444.4 249.6L447.7 248.7L451 247.8L454.3 246.9L457.5 246L460.8 245.1L464.1 244.2L467.3 243.3L470.6 242.4L473.9 241.5L477.2 240.5L480.4 239.6L483.7 238.7L487 237.8L490.3 236.9L493.5 236L496.8 235.1M368.6 272.3L371.9 271.4L375.1 270.5L378.4 269.5L381.7 268.6L384.9 267.7L388.2 266.8L391.5 265.9L394.7 264.9L398 264L401.3 263.1L404.5 262.2L407.8 261.3L411.1 260.3L414.3 259.4L417.6 258.5L420.9 257.6L424.2 256.7L427.4 255.7L430.7 254.8L434 253.9L437.2 253L440.5 252.1L443.8 251.2L447 250.2L450.3 249.3L453.6 248.4L456.9 247.5L460.1 246.6L463.4 245.7L466.7 244.7L470 243.8L473.2 242.9L476.5 242L479.8 241.1L483 240.2L486.3 239.3L489.6 238.3L492.9 237.4L496.1 236.5L499.4 235.6M371.2 273.1L374.5 272.2L377.7 271.2L381 270.3L384.3 269.4L387.5 268.5L390.8 267.5L394.1 266.6L397.3 265.7L400.6 264.7L403.9 263.8L407.1 262.9L410.4 262L413.7 261L416.9 260.1L420.2 259.2L423.5 258.2L426.8 257.3L430 256.4L433.3 255.5L436.6 254.5L439.8 253.6L443.1 252.7L446.4 251.8L449.6 250.8L452.9 249.9L456.2 249L459.5 248.1L462.7 247.2L466 246.2L469.3 245.3L472.6 244.4L475.8 243.5L479.1 242.5L482.4 241.6L485.7 240.7L488.9 239.8L492.2 238.9L495.5 237.9L498.8 237L502 236.1M373.8 273.9L377.1 273L380.3 272L383.6 271.1L386.9 270.1L390.1 269.2L393.4 268.3L396.7 267.3L399.9 266.4L403.2 265.5L406.5 264.5L409.7 263.6L413 262.7L416.3 261.7L419.5 260.8L422.8 259.9L426.1 258.9L429.4 258L432.6 257.1L435.9 256.1L439.2 255.2L442.4 254.3L445.7 253.3L449 252.4L452.3 251.5L455.5 250.5L458.8 249.6L462.1 248.7L465.3 247.7L468.6 246.8L471.9 245.9L475.2 244.9L478.4 244L481.7 243.1L485 242.2L488.3 241.2L491.5 240.3L494.8 239.4L498.1 238.5L501.4 237.5L504.7 236.6" stroke="#000" stroke-opacity="0.75" stroke-width="0.5" fill="none"/>
<path d="M245 235.2L248.3 234.6L251.5 234L254.8 233.5L258 232.9L261.3 232.3L264.5 231.7L267.8 231.2L271 230.6L274.3 230L277.5 229.4L280.8 228.9L284 228.3L287.3 227.7L290.5 227.2L293.8 226.6L297 226L300.3 225.4L303.5 224.9L306.8 224.3L310.1 223.7L313.3 223.1L316.6 222.6L319.8 222L323.1 221.4L326.3 220.8L329.6 220.3L332.8 219.7L336.1 219.1L339.3 218.6L342.6 218L345.8 217.4L349.1 216.8L352.3 216.3L355.6 215.7L358.8 215.1L362.1 214.5L365.4 214L368.6 213.4L371.9 212.8L375.1 212.2M247.6 236L250.9 235.4L254.1 234.8L257.4 234.2L260.6 233.6L263.9 233.1L267.1 232.5L270.4 231.9L273.6 231.3L276.9 230.7L280.1 230.2L283.4 229.6L286.6 229L289.9 228.4L293.1 227.8L296.4 227.2L299.7 226.7L302.9 226.1L306.2 225.5L309.4 224.9L312.7 224.3L315.9 223.8L319.2 223.2L322.4 222.6L325.7 222L328.9 221.4L332.2 220.9L335.4 220.3L338.7 219.7L341.9 219.1L345.2 218.5L348.5 218L351.7 217.4L355 216.8L358.2 216.2L361.5 215.6L364.7 215.1L368 214.5L371.2 213.9L374.5 213.3L377.7 212.7M250.2 236.7L253.5 236.1L256.7 235.6L260 235L263.2 234.4L266.5 233.8L269.7 233.2L273 232.6L276.2 232L279.5 231.4L282.7 230.9L286 230.3L289.3 229.7L292.5 229.1L295.8 228.5L299 227.9L302.3 227.3L305.5 226.7L308.8 226.1L312 225.6L315.3 225L318.5 224.4L321.8 223.8L325 223.2L328.3 222.6L331.5 222L334.8 221.4L338.1 220.9L341.3 220.3L344.6 219.7L347.8 219.1L351.1 218.5L354.3 217.9L357.6 217.3L360.8 216.7L364.1 216.2L367.3 215.6L370.6 215L373.8 214.4L377.1 213.8L380.3 213.2M252.8 237.5L256.1 236.9L259.3 236.3L262.6 235.7L265.8 235.1L269.1 234.5L272.3 233.9L275.6 233.3L278.9 232.7L282.1 232.2L285.4 231.6L288.6 231L291.9 230.4L295.1 229.8L298.4 229.2L301.6 228.6L304.9 228L308.1 227.4L311.4 226.8L314.6 226.2L317.9 225.6L321.1 225L324.4 224.4L327.7 223.8L330.9 223.2L334.2 222.6L337.4 222L340.7 221.4L343.9 220.8L347.2 220.2L350.4 219.7L353.7 219.1L356.9 218.5L360.2 217.9L363.4 217.3L366.7 216.7L370 216.1L373.2 215.5L376.5 214.9L379.7 214.3L383 213.7M255.4 238.3L258.7 237.7L261.9 237.1L265.2 236.5L268.4 235.9L271.7 235.3L275 234.7L278.2 234.1L281.5 233.5L284.7 232.9L288 232.3L291.2 231.7L294.5 231.1L297.7 230.5L301 229.8L304.2 229.2L307.5 228.6L310.7 228L314 227.4L317.3 226.8L320.5 226.2L323.8 225.6L327 225L330.3 224.4L333.5 223.8L336.8 223.2L340 222.6L343.3 222L346.5 221.4L349.8 220.8L353 220.2L356.3 219.6L359.6 219L362.8 218.4L366.1 217.8L369.3 217.2L372.6 216.6L375.8 216L379.1 215.4L382.3 214.8L385.6 214.2M258 239.1L261.3 238.5L264.5 237.8L267.8 237.2L271.1 236.6L274.3 236L277.6 235.4L280.8 234.8L284.1 234.2L287.3 233.6L290.6 233L293.8 232.4L297.1 231.7L300.3 231.1L303.6 230.5L306.8 229.9L310.1 229.3L313.4 228.7L316.6 228.1L319.9 227.5L323.1 226.9L326.4 226.3L329.6 225.6L332.9 225L336.1 224.4L339.4 223.8L342.6 223.2L345.9 222.6L349.2 222L352.4 221.4L355.7 220.8L358.9 220.2L362.2 219.6L365.4 218.9L368.7 218.3L371.9 217.7L375.2 217.1L378.4 216.5L381.7 215.9L385 215.3L388.2 214.7M260.7 239.8L263.9 239.2L267.2 238.6L270.4 238L273.7 237.4L276.9 236.8L280.2 236.1L283.4 235.5L286.7 234.9L289.9 234.3L293.2 233.7L296.4 233L299.7 232.4L302.9 231.8L306.2 231.2L309.5 230.6L312.7 230L316 229.3L319.2 228.7L322.5 228.1L325.7 227.5L329 226.9L332.2 226.3L335.5 225.6L338.7 225L342 224.4L345.3 223.8L348.5 223.2L351.8 222.6L355 222L358.3 221.3L361.5 220.7L364.8 220.1L368 219.5L371.3 218.9L374.6 218.3L377.8 217.6L381.1 217L384.3 216.4L387.6 215.8L390.8 215.2M263.3 240.6L266.5 240L269.8 239.4L273 238.7L276.3 238.1L279.5 237.5L282.8 236.9L286 236.2L289.3 235.6L292.5 235L295.8 234.4L299.1 233.7L302.3 233.1L305.6 232.5L308.8 231.9L312.1 231.2L315.3 230.6L318.6 230L321.8 229.4L325.1 228.8L328.3 228.1L331.6 227.5L334.9 226.9L338.1 226.3L341.4 225.6L344.6 225L347.9 224.4L351.1 223.8L354.4 223.1L357.6 222.5L360.9 221.9L364.1 221.3L367.4 220.6L370.7 220L373.9 219.4L377.2 218.8L380.4 218.2L383.7 217.5L386.9 216.9L390.2 216.3L393.4 215.7M265.9 241.4L269.1 240.8L272.4 240.1L275.6 239.5L278.9 238.9L282.1 238.2L285.4 237.6L288.6 237L291.9 236.3L295.2 235.7L298.4 235.1L301.7 234.4L304.9 233.8L308.2 233.2L311.4 232.5L314.7 231.9L317.9 231.3L321.2 230.7L324.4 230L327.7 229.4L331 228.8L334.2 228.1L337.5 227.5L340.7 226.9L344 226.2L347.2 225.6L350.5 225L353.7 224.3L357 223.7L360.3 223.1L363.5 222.5L366.8 221.8L370 221.2L373.3 220.6L376.5 219.9L379.8 219.3L383 218.7L386.3 218L389.6 217.4L392.8 216.8L396.1 216.2M268.5 242.2L271.7 241.5L275 240.9L278.2 240.2L281.5 239.6L284.7 239L288 238.3L291.3 237.7L294.5 237.1L297.8 236.4L301 235.8L304.3 235.1L307.5 234.5L310.8 233.9L314 233.2L317.3 232.6L320.5 231.9L323.8 231.3L327.1 230.7L330.3 230L333.6 229.4L336.8 228.8L340.1 228.1L343.3 227.5L346.6 226.8L349.8 226.2L353.1 225.6L356.4 224.9L359.6 224.3L362.9 223.7L366.1 223L369.4 222.4L372.6 221.7L375.9 221.1L379.1 220.5L382.4 219.8L385.7 219.2L388.9 218.6L392.2 217.9L395.4 217.3L398.7 216.6M271.1 242.9L274.3 242.3L277.6 241.7L280.8 241L284.1 240.4L287.4 239.7L290.6 239.1L293.9 238.4L297.1 237.8L300.4 237.1L303.6 236.5L306.9 235.8L310.1 235.2L313.4 234.5L316.6 233.9L319.9 233.3L323.2 232.6L326.4 232L329.7 231.3L332.9 230.7L336.2 230L339.4 229.4L342.7 228.7L345.9 228.1L349.2 227.4L352.5 226.8L355.7 226.2L359 225.5L362.2 224.9L365.5 224.2L368.7 223.6L372 222.9L375.2 222.3L378.5 221.6L381.8 221L385 220.4L388.3 219.7L391.5 219.1L394.8 218.4L398 217.8L401.3 217.1M273.7 243.7L276.9 243.1L280.2 242.4L283.4 241.8L286.7 241.1L290 240.5L293.2 239.8L296.5 239.1L299.7 238.5L303 237.8L306.2 237.2L309.5 236.5L312.7 235.9L316 235.2L319.3 234.6L322.5 233.9L325.8 233.3L329 232.6L332.3 232L335.5 231.3L338.8 230.7L342 230L345.3 229.4L348.6 228.7L351.8 228L355.1 227.4L358.3 226.7L361.6 226.1L364.8 225.4L368.1 224.8L371.4 224.1L374.6 223.5L377.9 222.8L381.1 222.2L384.4 221.5L387.6 220.9L390.9 220.2L394.1 219.6L397.4 218.9L400.7 218.3L403.9 217.6M276.3 244.5L279.5 243.8L282.8 243.2L286.1 242.5L289.3 241.9L292.6 241.2L295.8 240.5L299.1 239.9L302.3 239.2L305.6 238.6L308.8 237.9L312.1 237.2L315.4 236.6L318.6 235.9L321.9 235.2L325.1 234.6L328.4 233.9L331.6 233.3L334.9 232.6L338.1 231.9L341.4 231.3L344.7 230.6L347.9 230L351.2 229.3L354.4 228.7L357.7 228L360.9 227.3L364.2 226.7L367.5 226L370.7 225.4L374 224.7L377.2 224L380.5 223.4L383.7 222.7L387 222.1L390.3 221.4L393.5 220.7L396.8 220.1L400 219.4L403.3 218.8L406.5 218.1M278.9 245.3L282.2 244.6L285.4 243.9L288.7 243.3L291.9 242.6L295.2 241.9L298.4 241.3L301.7 240.6L304.9 239.9L308.2 239.3L311.4 238.6L314.7 237.9L318 237.3L321.2 236.6L324.5 235.9L327.7 235.3L331 234.6L334.2 233.9L337.5 233.3L340.8 232.6L344 231.9L347.3 231.3L350.5 230.6L353.8 229.9L357 229.3L360.3 228.6L363.6 227.9L366.8 227.3L370.1 226.6L373.3 225.9L376.6 225.3L379.8 224.6L383.1 223.9L386.4 223.3L389.6 222.6L392.9 221.9L396.1 221.3L399.4 220.6L402.6 219.9L405.9 219.3L409.2 218.6M281.5 246.1L284.8 245.4L288 244.7L291.3 244L294.5 243.4L297.8 242.7L301 242L304.3 241.3L307.5 240.7L310.8 240L314.1 239.3L317.3 238.6L320.6 238L323.8 237.3L327.1 236.6L330.3 235.9L333.6 235.3L336.9 234.6L340.1 233.9L343.4 233.2L346.6 232.6L349.9 231.9L353.1 231.2L356.4 230.5L359.6 229.9L362.9 229.2L366.2 228.5L369.4 227.8L372.7 227.2L375.9 226.5L379.2 225.8L382.5 225.1L385.7 224.5L389 223.8L392.2 223.1L395.5 222.5L398.7 221.8L402 221.1L405.3 220.4L408.5 219.8L411.8 219.1M284.1 246.8L287.4 246.2L290.6 245.5L293.9 244.8L297.1 244.1L300.4 243.4L303.6 242.7L306.9 242.1L310.2 241.4L313.4 240.7L316.7 240L319.9 239.3L323.2 238.6L326.4 238L329.7 237.3L332.9 236.6L336.2 235.9L339.5 235.2L342.7 234.6L346 233.9L349.2 233.2L352.5 232.5L355.7 231.8L359 231.1L362.3 230.5L365.5 229.8L368.8 229.1L372 228.4L375.3 227.7L378.5 227.1L381.8 226.4L385.1 225.7L388.3 225L391.6 224.3L394.8 223.7L398.1 223L401.4 222.3L404.6 221.6L407.9 220.9L411.1 220.3L414.4 219.6M286.7 247.6L290 246.9L293.2 246.2L296.5 245.5L299.7 244.9L303 244.2L306.2 243.5L309.5 242.8L312.8 242.1L316 241.4L319.3 240.7L322.5 240L325.8 239.3L329 238.6L332.3 238L335.6 237.3L338.8 236.6L342.1 235.9L345.3 235.2L348.6 234.5L351.8 233.8L355.1 233.1L358.4 232.4L361.6 231.8L364.9 231.1L368.1 230.4L371.4 229.7L374.6 229L377.9 228.3L381.2 227.6L384.4 226.9L387.7 226.3L390.9 225.6L394.2 224.9L397.5 224.2L400.7 223.5L404 222.8L407.2 222.1L410.5 221.5L413.8 220.8L417 220.1M289.3 248.4L292.6 247.7L295.8 247L299.1 246.3L302.3 245.6L305.6 244.9L308.9 244.2L312.1 243.5L315.4 242.8L318.6 242.1L321.9 241.4L325.1 240.7L328.4 240L331.6 239.3L334.9 238.6L338.2 237.9L341.4 237.2L344.7 236.5L347.9 235.8L351.2 235.2L354.5 234.5L357.7 233.8L361 233.1L364.2 232.4L367.5 231.7L370.7 231L374 230.3L377.3 229.6L380.5 228.9L383.8 228.2L387 227.5L390.3 226.8L393.6 226.1L396.8 225.4L400.1 224.7L403.3 224L406.6 223.3L409.9 222.6L413.1 222L416.4 221.3L419.6 220.6M291.9 249.2L295.2 248.5L298.4 247.8L301.7 247.1L304.9 246.4L308.2 245.6L311.5 244.9L314.7 244.2L318 243.5L321.2 242.8L324.5 242.1L327.7 241.4L331 240.7L334.3 240L337.5 239.3L340.8 238.6L344 237.9L347.3 237.2L350.5 236.5L353.8 235.8L357.1 235.1L360.3 234.4L363.6 233.7L366.8 233L370.1 232.3L373.4 231.6L376.6 230.9L379.9 230.2L383.1 229.5L386.4 228.8L389.6 228.1L392.9 227.4L396.2 226.7L399.4 226L402.7 225.3L405.9 224.6L409.2 223.9L412.5 223.2L415.7 222.5L419 221.8L422.2 221.1M294.5 250L297.8 249.2L301 248.5L304.3 247.8L307.5 247.1L310.8 246.4L314.1 245.7L317.3 245L320.6 244.3L323.8 243.5L327.1 242.8L330.3 242.1L333.6 241.4L336.9 240.7L340.1 240L343.4 239.3L346.6 238.6L349.9 237.9L353.2 237.1L356.4 236.4L359.7 235.7L362.9 235L366.2 234.3L369.4 233.6L372.7 232.9L376 232.2L379.2 231.5L382.5 230.8L385.7 230L389 229.3L392.3 228.6L395.5 227.9L398.8 227.2L402 226.5L405.3 225.8L408.6 225.1L411.8 224.4L415.1 223.7L418.3 223L421.6 222.3L424.9 221.6M297.1 250.7L300.4 250L303.6 249.3L306.9 248.6L310.2 247.9L313.4 247.1L316.7 246.4L319.9 245.7L323.2 245L326.4 244.3L329.7 243.5L333 242.8L336.2 242.1L339.5 241.4L342.7 240.7L346 239.9L349.2 239.2L352.5 238.5L355.8 237.8L359 237.1L362.3 236.4L365.5 235.6L368.8 234.9L372.1 234.2L375.3 233.5L378.6 232.8L381.8 232.1L385.1 231.3L388.4 230.6L391.6 229.9L394.9 229.2L398.1 228.5L401.4 227.8L404.7 227L407.9 226.3L411.2 225.6L414.4 224.9L417.7 224.2L421 223.5L424.2 222.8L427.5 222M299.7 251.5L303 250.8L306.2 250.1L309.5 249.3L312.8 248.6L316 247.9L319.3 247.2L322.5 246.4L325.8 245.7L329 245L332.3 244.2L335.6 243.5L338.8 242.8L342.1 242.1L345.3 241.3L348.6 240.6L351.9 239.9L355.1 239.2L358.4 238.4L361.6 237.7L364.9 237L368.1 236.3L371.4 235.5L374.7 234.8L377.9 234.1L381.2 233.4L384.4 232.6L387.7 231.9L391 231.2L394.2 230.5L397.5 229.8L400.7 229L404 228.3L407.3 227.6L410.5 226.9L413.8 226.1L417.1 225.4L420.3 224.7L423.6 224L426.8 223.3L430.1 222.5M302.3 252.3L305.6 251.6L308.8 250.8L312.1 250.1L315.4 249.4L318.6 248.6L321.9 247.9L325.1 247.2L328.4 246.4L331.7 245.7L334.9 245L338.2 244.2L341.4 243.5L344.7 242.8L347.9 242L351.2 241.3L354.5 240.6L357.7 239.8L361 239.1L364.2 238.4L367.5 237.6L370.8 236.9L374 236.2L377.3 235.4L380.5 234.7L383.8 234L387.1 233.2L390.3 232.5L393.6 231.8L396.8 231L400.1 230.3L403.4 229.6L406.6 228.9L409.9 228.1L413.1 227.4L416.4 226.7L419.7 225.9L422.9 225.2L426.2 224.5L429.5 223.8L432.7 223M304.9 253.1L308.2 252.3L311.5 251.6L314.7 250.9L318 250.1L321.2 249.4L324.5 248.6L327.7 247.9L331 247.1L334.3 246.4L337.5 245.7L340.8 244.9L344 244.2L347.3 243.4L350.5 242.7L353.8 242L357.1 241.2L360.3 240.5L363.6 239.7L366.8 239L370.1 238.3L373.4 237.5L376.6 236.8L379.9 236L383.1 235.3L386.4 234.6L389.7 233.8L392.9 233.1L396.2 232.4L399.5 231.6L402.7 230.9L406 230.1L409.2 229.4L412.5 228.7L415.8 227.9L419 227.2L422.3 226.5L425.5 225.7L428.8 225L432.1 224.3L435.3 223.5M307.5 253.9L310.8 253.1L314.1 252.4L317.3 251.6L320.6 250.9L323.8 250.1L327.1 249.4L330.3 248.6L333.6 247.9L336.9 247.1L340.1 246.4L343.4 245.6L346.6 244.9L349.9 244.1L353.2 243.4L356.4 242.6L359.7 241.9L362.9 241.1L366.2 240.4L369.5 239.6L372.7 238.9L376 238.2L379.2 237.4L382.5 236.7L385.8 235.9L389 235.2L392.3 234.4L395.5 233.7L398.8 232.9L402.1 232.2L405.3 231.4L408.6 230.7L411.9 230L415.1 229.2L418.4 228.5L421.6 227.7L424.9 227L428.2 226.2L431.4 225.5L434.7 224.8L438 224M310.1 254.6L313.4 253.9L316.7 253.1L319.9 252.4L323.2 251.6L326.4 250.9L329.7 250.1L332.9 249.3L336.2 248.6L339.5 247.8L342.7 247.1L346 246.3L349.2 245.6L352.5 244.8L355.8 244.1L359 243.3L362.3 242.6L365.5 241.8L368.8 241L372.1 240.3L375.3 239.5L378.6 238.8L381.8 238L385.1 237.3L388.4 236.5L391.6 235.8L394.9 235L398.2 234.3L401.4 233.5L404.7 232.8L407.9 232L411.2 231.3L414.5 230.5L417.7 229.8L421 229L424.3 228.3L427.5 227.5L430.8 226.8L434 226L437.3 225.3L440.6 224.5M312.7 255.4L316 254.7L319.3 253.9L322.5 253.1L325.8 252.4L329 251.6L332.3 250.8L335.6 250.1L338.8 249.3L342.1 248.6L345.3 247.8L348.6 247L351.8 246.3L355.1 245.5L358.4 244.7L361.6 244L364.9 243.2L368.1 242.5L371.4 241.7L374.7 240.9L377.9 240.2L381.2 239.4L384.5 238.7L387.7 237.9L391 237.1L394.2 236.4L397.5 235.6L400.8 234.9L404 234.1L407.3 233.3L410.6 232.6L413.8 231.8L417.1 231.1L420.3 230.3L423.6 229.5L426.9 228.8L430.1 228L433.4 227.3L436.7 226.5L439.9 225.8L443.2 225M315.3 256.2L318.6 255.4L321.9 254.7L325.1 253.9L328.4 253.1L331.6 252.3L334.9 251.6L338.2 250.8L341.4 250L344.7 249.3L347.9 248.5L351.2 247.7L354.5 247L357.7 246.2L361 245.4L364.2 244.7L367.5 243.9L370.8 243.1L374 242.3L377.3 241.6L380.5 240.8L383.8 240L387.1 239.3L390.3 238.5L393.6 237.7L396.9 237L400.1 236.2L403.4 235.4L406.6 234.7L409.9 233.9L413.2 233.1L416.4 232.4L419.7 231.6L423 230.8L426.2 230.1L429.5 229.3L432.7 228.5L436 227.8L439.3 227L442.5 226.3L445.8 225.5M317.9 257L321.2 256.2L324.5 255.4L327.7 254.7L331 253.9L334.2 253.1L337.5 252.3L340.8 251.5L344 250.8L347.3 250L350.5 249.2L353.8 248.4L357.1 247.7L360.3 246.9L363.6 246.1L366.8 245.3L370.1 244.5L373.4 243.8L376.6 243L379.9 242.2L383.1 241.4L386.4 240.7L389.7 239.9L392.9 239.1L396.2 238.3L399.5 237.6L402.7 236.8L406 236L409.2 235.2L412.5 234.5L415.8 233.7L419 232.9L422.3 232.2L425.6 231.4L428.8 230.6L432.1 229.8L435.4 229.1L438.6 228.3L441.9 227.5L445.2 226.8L448.4 226M320.5 257.8L323.8 257L327.1 256.2L330.3 255.4L333.6 254.6L336.8 253.8L340.1 253.1L343.4 252.3L346.6 251.5L349.9 250.7L353.1 249.9L356.4 249.1L359.7 248.3L362.9 247.6L366.2 246.8L369.4 246L372.7 245.2L376 244.4L379.2 243.6L382.5 242.9L385.8 242.1L389 241.3L392.3 240.5L395.5 239.7L398.8 239L402.1 238.2L405.3 237.4L408.6 236.6L411.9 235.8L415.1 235L418.4 234.3L421.7 233.5L424.9 232.7L428.2 231.9L431.4 231.1L434.7 230.4L438 229.6L441.2 228.8L444.5 228L447.8 227.3L451 226.5M323.1 258.6L326.4 257.8L329.7 257L332.9 256.2L336.2 255.4L339.4 254.6L342.7 253.8L346 253L349.2 252.2L352.5 251.4L355.7 250.6L359 249.8L362.3 249L365.5 248.3L368.8 247.5L372.1 246.7L375.3 245.9L378.6 245.1L381.8 244.3L385.1 243.5L388.4 242.7L391.6 241.9L394.9 241.1L398.2 240.3L401.4 239.6L404.7 238.8L407.9 238L411.2 237.2L414.5 236.4L417.7 235.6L421 234.8L424.3 234L427.5 233.3L430.8 232.5L434.1 231.7L437.3 230.9L440.6 230.1L443.9 229.3L447.1 228.5L450.4 227.8L453.7 227M325.7 259.3L329 258.5L332.3 257.7L335.5 256.9L338.8 256.1L342 255.3L345.3 254.5L348.6 253.7L351.8 252.9L355.1 252.1L358.3 251.3L361.6 250.5L364.9 249.7L368.1 248.9L371.4 248.1L374.7 247.3L377.9 246.5L381.2 245.7L384.4 244.9L387.7 244.2L391 243.4L394.2 242.6L397.5 241.8L400.8 241L404 240.2L407.3 239.4L410.6 238.6L413.8 237.8L417.1 237L420.3 236.2L423.6 235.4L426.9 234.6L430.1 233.8L433.4 233L436.7 232.2L439.9 231.4L443.2 230.6L446.5 229.8L449.7 229L453 228.3L456.3 227.5M328.3 260.1L331.6 259.3L334.9 258.5L338.1 257.7L341.4 256.9L344.6 256.1L347.9 255.3L351.2 254.5L354.4 253.7L357.7 252.9L361 252L364.2 251.2L367.5 250.4L370.7 249.6L374 248.8L377.3 248L380.5 247.2L383.8 246.4L387.1 245.6L390.3 244.8L393.6 244L396.8 243.2L400.1 242.4L403.4 241.6L406.6 240.8L409.9 240L413.2 239.2L416.4 238.4L419.7 237.6L423 236.8L426.2 236L429.5 235.2L432.8 234.4L436 233.6L439.3 232.8L442.6 232L445.8 231.2L449.1 230.4L452.4 229.6L455.6 228.8L458.9 228M330.9 260.9L334.2 260.1L337.5 259.3L340.7 258.5L344 257.6L347.2 256.8L350.5 256L353.8 255.2L357 254.4L360.3 253.6L363.6 252.8L366.8 251.9L370.1 251.1L373.3 250.3L376.6 249.5L379.9 248.7L383.1 247.9L386.4 247.1L389.7 246.3L392.9 245.4L396.2 244.6L399.4 243.8L402.7 243L406 242.2L409.2 241.4L412.5 240.6L415.8 239.8L419 239L422.3 238.1L425.6 237.3L428.8 236.5L432.1 235.7L435.4 234.9L438.6 234.1L441.9 233.3L445.2 232.5L448.4 231.7L451.7 230.9L455 230.1L458.2 229.3L461.5 228.4M333.5 261.7L336.8 260.9L340.1 260L343.3 259.2L346.6 258.4L349.8 257.6L353.1 256.8L356.4 255.9L359.6 255.1L362.9 254.3L366.2 253.5L369.4 252.6L372.7 251.8L375.9 251L379.2 250.2L382.5 249.4L385.7 248.5L389 247.7L392.3 246.9L395.5 246.1L398.8 245.3L402.1 244.4L405.3 243.6L408.6 242.8L411.9 242L415.1 241.2L418.4 240.4L421.6 239.5L424.9 238.7L428.2 237.9L431.4 237.1L434.7 236.3L438 235.5L441.2 234.6L444.5 233.8L447.8 233L451 232.2L454.3 231.4L457.6 230.6L460.9 229.8L464.1 228.9M336.1 262.5L339.4 261.6L342.7 260.8L345.9 260L349.2 259.2L352.5 258.3L355.7 257.5L359 256.7L362.2 255.8L365.5 255L368.8 254.2L372 253.4L375.3 252.5L378.5 251.7L381.8 250.9L385.1 250L388.3 249.2L391.6 248.4L394.9 247.6L398.1 246.7L401.4 245.9L404.7 245.1L407.9 244.3L411.2 243.4L414.5 242.6L417.7 241.8L421 241L424.3 240.1L427.5 239.3L430.8 238.5L434.1 237.7L437.3 236.8L440.6 236L443.9 235.2L447.1 234.4L450.4 233.5L453.7 232.7L456.9 231.9L460.2 231.1L463.5 230.3L466.7 229.4M338.7 263.3L342 262.4L345.3 261.6L348.5 260.8L351.8 259.9L355.1 259.1L358.3 258.2L361.6 257.4L364.8 256.6L368.1 255.7L371.4 254.9L374.6 254.1L377.9 253.2L381.2 252.4L384.4 251.5L387.7 250.7L390.9 249.9L394.2 249L397.5 248.2L400.7 247.4L404 246.5L407.3 245.7L410.5 244.9L413.8 244L417.1 243.2L420.3 242.4L423.6 241.5L426.9 240.7L430.1 239.9L433.4 239.1L436.7 238.2L439.9 237.4L443.2 236.6L446.5 235.7L449.7 234.9L453 234.1L456.3 233.2L459.5 232.4L462.8 231.6L466.1 230.8L469.4 229.9M341.3 264.1L344.6 263.2L347.9 262.4L351.1 261.5L354.4 260.7L357.7 259.8L360.9 259L364.2 258.1L367.4 257.3L370.7 256.4L374 255.6L377.2 254.8L380.5 253.9L383.8 253.1L387 252.2L390.3 251.4L393.5 250.5L396.8 249.7L400.1 248.9L403.3 248L406.6 247.2L409.9 246.3L413.1 245.5L416.4 244.7L419.7 243.8L422.9 243L426.2 242.1L429.5 241.3L432.7 240.5L436 239.6L439.3 238.8L442.5 237.9L445.8 237.1L449.1 236.3L452.3 235.4L455.6 234.6L458.9 233.8L462.2 232.9L465.4 232.1L468.7 231.3L472 230.4M343.9 264.8L347.2 264L350.5 263.1L353.7 262.3L357 261.4L360.3 260.6L363.5 259.7L366.8 258.9L370 258L373.3 257.2L376.6 256.3L379.8 255.5L383.1 254.6L386.4 253.8L389.6 252.9L392.9 252.1L396.2 251.2L399.4 250.4L402.7 249.5L405.9 248.7L409.2 247.8L412.5 247L415.7 246.1L419 245.3L422.3 244.4L425.5 243.6L428.8 242.7L432.1 241.9L435.4 241L438.6 240.2L441.9 239.4L445.2 238.5L448.4 237.7L451.7 236.8L455 236L458.2 235.1L461.5 234.3L464.8 233.4L468 232.6L471.3 231.8L474.6 230.9M346.5 265.6L349.8 264.8L353.1 263.9L356.3 263L359.6 262.2L362.9 261.3L366.1 260.5L369.4 259.6L372.6 258.7L375.9 257.9L379.2 257L382.4 256.2L385.7 255.3L389 254.5L392.2 253.6L395.5 252.7L398.8 251.9L402 251L405.3 250.2L408.6 249.3L411.8 248.5L415.1 247.6L418.4 246.8L421.6 245.9L424.9 245L428.2 244.2L431.4 243.3L434.7 242.5L438 241.6L441.2 240.8L444.5 239.9L447.8 239.1L451 238.2L454.3 237.4L457.6 236.5L460.8 235.7L464.1 234.8L467.4 234L470.7 233.1L473.9 232.3L477.2 231.4M349.1 266.4L352.4 265.5L355.7 264.7L358.9 263.8L362.2 262.9L365.4 262.1L368.7 261.2L372 260.3L375.2 259.5L378.5 258.6L381.8 257.7L385 256.9L388.3 256L391.6 255.1L394.8 254.3L398.1 253.4L401.4 252.6L404.6 251.7L407.9 250.8L411.2 250L414.4 249.1L417.7 248.2L421 247.4L424.2 246.5L427.5 245.7L430.8 244.8L434 243.9L437.3 243.1L440.6 242.2L443.8 241.3L447.1 240.5L450.4 239.6L453.6 238.8L456.9 237.9L460.2 237L463.5 236.2L466.7 235.3L470 234.5L473.3 233.6L476.5 232.8L479.8 231.9M351.7 267.2L355 266.3L358.3 265.4L361.5 264.6L364.8 263.7L368 262.8L371.3 261.9L374.6 261.1L377.8 260.2L381.1 259.3L384.4 258.5L387.6 257.6L390.9 256.7L394.2 255.8L397.4 255L400.7 254.1L404 253.2L407.2 252.4L410.5 251.5L413.8 250.6L417 249.7L420.3 248.9L423.6 248L426.8 247.1L430.1 246.3L433.4 245.4L436.6 244.5L439.9 243.7L443.2 242.8L446.4 241.9L449.7 241.1L453 240.2L456.3 239.3L459.5 238.5L462.8 237.6L466.1 236.7L469.3 235.9L472.6 235L475.9 234.1L479.2 233.3L482.4 232.4M354.3 268L357.6 267.1L360.9 266.2L364.1 265.3L367.4 264.5L370.6 263.6L373.9 262.7L377.2 261.8L380.4 260.9L383.7 260L387 259.2L390.2 258.3L393.5 257.4L396.8 256.5L400 255.6L403.3 254.8L406.6 253.9L409.8 253L413.1 252.1L416.4 251.3L419.6 250.4L422.9 249.5L426.2 248.6L429.4 247.7L432.7 246.9L436 246L439.2 245.1L442.5 244.2L445.8 243.4L449.1 242.5L452.3 241.6L455.6 240.7L458.9 239.9L462.1 239L465.4 238.1L468.7 237.3L472 236.4L475.2 235.5L478.5 234.6L481.8 233.8L485 232.9M356.9 268.8L360.2 267.9L363.5 267L366.7 266.1L370 265.2L373.2 264.3L376.5 263.4L379.8 262.5L383 261.7L386.3 260.8L389.6 259.9L392.8 259L396.1 258.1L399.4 257.2L402.6 256.3L405.9 255.4L409.2 254.6L412.4 253.7L415.7 252.8L419 251.9L422.2 251L425.5 250.1L428.8 249.3L432 248.4L435.3 247.5L438.6 246.6L441.9 245.7L445.1 244.8L448.4 244L451.7 243.1L454.9 242.2L458.2 241.3L461.5 240.4L464.8 239.5L468 238.7L471.3 237.8L474.6 236.9L477.8 236L481.1 235.1L484.4 234.3L487.7 233.4M359.5 269.6L362.8 268.7L366.1 267.8L369.3 266.9L372.6 266L375.8 265.1L379.1 264.2L382.4 263.3L385.6 262.4L388.9 261.5L392.2 260.6L395.4 259.7L398.7 258.8L402 257.9L405.2 257L408.5 256.1L411.8 255.2L415 254.3L418.3 253.4L421.6 252.6L424.8 251.7L428.1 250.8L431.4 249.9L434.7 249L437.9 248.1L441.2 247.2L444.5 246.3L447.7 245.4L451 244.5L454.3 243.6L457.5 242.8L460.8 241.9L464.1 241L467.4 240.1L470.6 239.2L473.9 238.3L477.2 237.4L480.5 236.5L483.7 235.6L487 234.8L490.3 233.9M362.1 270.3L365.4 269.4L368.6 268.5L371.9 267.6L375.2 266.7L378.4 265.8L381.7 264.9L385 264L388.2 263.1L391.5 262.2L394.8 261.3L398 260.4L401.3 259.5L404.6 258.6L407.8 257.7L411.1 256.8L414.4 255.9L417.6 255L420.9 254.1L424.2 253.2L427.5 252.3L430.7 251.4L434 250.5L437.3 249.6L440.5 248.7L443.8 247.8L447.1 246.9L450.3 246L453.6 245.1L456.9 244.2L460.2 243.3L463.4 242.4L466.7 241.5L470 240.6L473.2 239.7L476.5 238.8L479.8 237.9L483.1 237.1L486.3 236.2L489.6 235.3L492.9 234.4M364.7 271.1L368 270.2L371.2 269.3L374.5 268.4L377.8 267.5L381 266.6L384.3 265.7L387.6 264.8L390.8 263.8L394.1 262.9L397.4 262L400.6 261.1L403.9 260.2L407.2 259.3L410.4 258.4L413.7 257.5L417 256.6L420.2 255.7L423.5 254.8L426.8 253.8L430.1 252.9L433.3 252L436.6 251.1L439.9 250.2L443.1 249.3L446.4 248.4L449.7 247.5L452.9 246.6L456.2 245.7L459.5 244.8L462.8 243.9L466 243L469.3 242.1L472.6 241.2L475.9 240.3L479.1 239.4L482.4 238.5L485.7 237.6L489 236.7L492.2 235.8L495.5 234.9M367.3 271.9L370.6 271L373.8 270.1L377.1 269.2L380.4 268.2L383.6 267.3L386.9 266.4L390.2 265.5L393.4 264.6L396.7 263.7L400 262.7L403.2 261.8L406.5 260.9L409.8 260L413 259.1L416.3 258.2L419.6 257.2L422.8 256.3L426.1 255.4L429.4 254.5L432.7 253.6L435.9 252.7L439.2 251.8L442.5 250.8L445.7 249.9L449 249L452.3 248.1L455.6 247.2L458.8 246.3L462.1 245.4L465.4 244.5L468.6 243.5L471.9 242.6L475.2 241.7L478.5 240.8L481.7 239.9L485 239L488.3 238.1L491.6 237.2L494.8 236.3L498.1 235.4M369.9 272.7L373.2 271.8L376.4 270.9L379.7 269.9L383 269L386.2 268.1L389.5 267.2L392.8 266.2L396 265.3L399.3 264.4L402.6 263.5L405.8 262.5L409.1 261.6L412.4 260.7L415.6 259.8L418.9 258.8L422.2 257.9L425.5 257L428.7 256.1L432 255.1L435.3 254.2L438.5 253.3L441.8 252.4L445.1 251.5L448.3 250.5L451.6 249.6L454.9 248.7L458.2 247.8L461.4 246.9L464.7 245.9L468 245L471.3 244.1L474.5 243.2L477.8 242.3L481.1 241.4L484.4 240.4L487.6 239.5L490.9 238.6L494.2 237.7L497.5 236.8L500.7 235.9M372.5 273.5L375.8 272.6L379 271.6L382.3 270.7L385.6 269.8L388.8 268.8L392.1 267.9L395.4 267L398.6 266L401.9 265.1L405.2 264.2L408.4 263.2L411.7 262.3L415 261.4L418.2 260.4L421.5 259.5L424.8 258.6L428.1 257.7L431.3 256.7L434.6 255.8L437.9 254.9L441.1 253.9L444.4 253L447.7 252.1L451 251.2L454.2 250.2L457.5 249.3L460.8 248.4L464 247.4L467.3 246.5L470.6 245.6L473.9 244.7L477.1 243.7L480.4 242.8L483.7 241.9L487 241L490.2 240L493.5 239.1L496.8 238.2L500.1 237.3L503.3 236.4" stroke="#000" stroke-opacity="0.75" stroke-width="0.14" fill="none"/>
<path d="M243.7 234.8L265.4 241.3L287.1 247.7L308.8 254.3L330.5 260.8L352.2 267.3L373.8 273.9M246.3 234.3L268 240.8L289.7 247.2L311.4 253.6L333.1 260.1L354.8 266.6L376.4 273.1M248.9 233.9L270.6 240.3L292.4 246.6L314.1 253L335.7 259.5L357.4 265.9L379 272.4M251.5 233.4L273.2 239.7L295 246.1L316.7 252.4L338.3 258.8L360 265.2L381.6 271.6M254.1 233L275.8 239.2L297.6 245.5L319.3 251.8L340.9 258.2L362.6 264.5L384.3 270.9M256.7 232.5L278.4 238.7L300.2 245L321.9 251.2L343.6 257.5L365.2 263.8L386.9 270.1M259.3 232.1L281 238.2L302.8 244.4L324.5 250.6L346.2 256.9L367.8 263.1L389.5 269.4M261.9 231.6L283.7 237.7L305.4 243.9L327.1 250L348.8 256.2L370.4 262.4L392.1 268.6M264.5 231.2L286.3 237.2L308 243.3L329.7 249.4L351.4 255.6L373.1 261.7L394.7 267.9M267.1 230.7L288.9 236.7L310.6 242.8L332.3 248.8L354 254.9L375.7 261L397.3 267.1M269.7 230.2L291.5 236.2L313.2 242.2L334.9 248.2L356.6 254.3L378.3 260.3L399.9 266.4M272.3 229.8L294.1 235.7L315.8 241.7L337.5 247.6L359.2 253.6L380.9 259.6L402.5 265.6M274.9 229.3L296.7 235.2L318.4 241.1L340.1 247L361.8 253L383.5 258.9L405.2 264.9M277.5 228.9L299.3 234.7L321 240.6L342.7 246.4L364.4 252.3L386.1 258.2L407.8 264.2M280.1 228.4L301.9 234.2L323.6 240L345.3 245.8L367 251.7L388.7 257.5L410.4 263.4M282.7 228L304.5 233.7L326.2 239.4L347.9 245.2L369.6 251L391.3 256.8L413 262.7M285.3 227.5L307.1 233.2L328.8 238.9L350.5 244.6L372.3 250.4L393.9 256.1L415.6 261.9M287.9 227L309.7 232.7L331.4 238.3L353.2 244L374.9 249.7L396.6 255.4L418.2 261.2M290.5 226.6L312.3 232.2L334 237.8L355.8 243.4L377.5 249.1L399.2 254.7L420.9 260.4M293.1 226.1L314.9 231.7L336.6 237.2L358.4 242.8L380.1 248.4L401.8 254L423.5 259.7M295.7 225.7L317.5 231.2L339.2 236.7L361 242.2L382.7 247.8L404.4 253.3L426.1 258.9M298.3 225.2L320.1 230.7L341.9 236.1L363.6 241.6L385.3 247.1L407 252.6L428.7 258.2M300.9 224.8L322.7 230.2L344.5 235.6L366.2 241L387.9 246.5L409.6 251.9L431.3 257.4M303.5 224.3L325.3 229.7L347.1 235L368.8 240.4L390.5 245.8L412.2 251.2L433.9 256.7M306.1 223.9L327.9 229.2L349.7 234.5L371.4 239.8L393.1 245.2L414.9 250.5L436.6 255.9M308.7 223.4L330.5 228.7L352.3 233.9L374 239.2L395.8 244.5L417.5 249.8L439.2 255.2M311.3 222.9L333.1 228.2L354.9 233.4L376.6 238.6L398.4 243.9L420.1 249.1L441.8 254.4M314 222.5L335.7 227.6L357.5 232.8L379.2 238L401 243.2L422.7 248.5L444.4 253.7M316.6 222L338.3 227.1L360.1 232.3L381.8 237.4L403.6 242.6L425.3 247.8L447 252.9M319.2 221.6L340.9 226.6L362.7 231.7L384.5 236.8L406.2 241.9L427.9 247.1L449.6 252.2M321.8 221.1L343.5 226.1L365.3 231.2L387.1 236.2L408.8 241.3L430.5 246.4L452.3 251.5M324.4 220.7L346.1 225.6L367.9 230.6L389.7 235.6L411.4 240.6L433.2 245.7L454.9 250.7M327 220.2L348.7 225.1L370.5 230.1L392.3 235L414 240L435.8 245L457.5 250M329.6 219.7L351.4 224.6L373.1 229.5L394.9 234.4L416.6 239.3L438.4 244.3L460.1 249.2M332.2 219.3L354 224.1L375.7 229L397.5 233.8L419.3 238.7L441 243.6L462.7 248.5M334.8 218.8L356.6 223.6L378.3 228.4L400.1 233.2L421.9 238L443.6 242.9L465.3 247.7M337.4 218.4L359.2 223.1L380.9 227.9L402.7 232.6L424.5 237.4L446.2 242.2L468 247M340 217.9L361.8 222.6L383.6 227.3L405.3 232L427.1 236.8L448.8 241.5L470.6 246.2M342.6 217.5L364.4 222.1L386.2 226.8L407.9 231.4L429.7 236.1L451.5 240.8L473.2 245.5M345.2 217L367 221.6L388.8 226.2L410.5 230.8L432.3 235.5L454.1 240.1L475.8 244.8M347.8 216.6L369.6 221.1L391.4 225.7L413.2 230.2L434.9 234.8L456.7 239.4L478.4 244M350.4 216.1L372.2 220.6L394 225.1L415.8 229.6L437.5 234.2L459.3 238.7L481.1 243.3M353 215.6L374.8 220.1L396.6 224.6L418.4 229L440.2 233.5L461.9 238L483.7 242.5M355.6 215.2L377.4 219.6L399.2 224L421 228.4L442.8 232.9L464.5 237.3L486.3 241.8M358.2 214.7L380 219.1L401.8 223.5L423.6 227.8L445.4 232.2L467.2 236.6L488.9 241M360.8 214.3L382.6 218.6L404.4 222.9L426.2 227.2L448 231.6L469.8 235.9L491.5 240.3M363.4 213.8L385.2 218.1L407 222.4L428.8 226.6L450.6 230.9L472.4 235.2L494.2 239.6M366 213.4L387.8 217.6L409.6 221.8L431.4 226L453.2 230.3L475 234.6L496.8 238.8M368.6 212.9L390.4 217.1L412.2 221.3L434 225.5L455.8 229.7L477.6 233.9L499.4 238.1M371.2 212.5L393 216.6L414.8 220.7L436.7 224.9L458.5 229L480.2 233.2L502 237.3M373.8 212L395.6 216.1L417.4 220.2L439.3 224.3L461.1 228.4L482.9 232.5L504.7 236.6" stroke="#000" stroke-opacity="0.75" stroke-width="0.5" fill="none"/>
<path d="M245 234.6L266.7 241L288.4 247.5L310.1 253.9L331.8 260.5L353.5 267L375.1 273.5M247.6 234.1L269.3 240.5L291.1 246.9L312.7 253.3L334.4 259.8L356.1 266.3L377.7 272.8M250.2 233.7L271.9 240L293.7 246.4L315.4 252.7L337 259.1L358.7 265.6L380.3 272M252.8 233.2L274.5 239.5L296.3 245.8L318 252.1L339.6 258.5L361.3 264.9L382.9 271.3M255.4 232.7L277.1 239L298.9 245.3L320.6 251.5L342.2 257.8L363.9 264.2L385.6 270.5M258 232.3L279.7 238.5L301.5 244.7L323.2 250.9L344.9 257.2L366.5 263.5L388.2 269.8M260.6 231.8L282.4 238L304.1 244.1L325.8 250.3L347.5 256.5L369.1 262.8L390.8 269M263.2 231.4L285 237.5L306.7 243.6L328.4 249.7L350.1 255.9L371.7 262.1L393.4 268.3M265.8 230.9L287.6 237L309.3 243L331 249.1L352.7 255.2L374.4 261.4L396 267.5M268.4 230.5L290.2 236.5L311.9 242.5L333.6 248.5L355.3 254.6L377 260.7L398.6 266.8M271 230L292.8 236L314.5 241.9L336.2 247.9L357.9 253.9L379.6 260L401.2 266M273.6 229.6L295.4 235.5L317.1 241.4L338.8 247.3L360.5 253.3L382.2 259.3L403.9 265.3M276.2 229.1L298 235L319.7 240.8L341.4 246.7L363.1 252.6L384.8 258.6L406.5 264.5M278.8 228.6L300.6 234.5L322.3 240.3L344 246.1L365.7 252L387.4 257.9L409.1 263.8M281.4 228.2L303.2 233.9L324.9 239.7L346.6 245.5L368.3 251.3L390 257.2L411.7 263M284 227.7L305.8 233.4L327.5 239.2L349.2 244.9L371 250.7L392.6 256.5L414.3 262.3M286.6 227.3L308.4 232.9L330.1 238.6L351.9 244.3L373.6 250L395.3 255.8L416.9 261.5M289.2 226.8L311 232.4L332.7 238.1L354.5 243.7L376.2 249.4L397.9 255.1L419.5 260.8M291.8 226.4L313.6 231.9L335.3 237.5L357.1 243.1L378.8 248.7L400.5 254.4L422.2 260M294.4 225.9L316.2 231.4L337.9 237L359.7 242.5L381.4 248.1L403.1 253.7L424.8 259.3M297 225.4L318.8 230.9L340.5 236.4L362.3 241.9L384 247.4L405.7 253L427.4 258.5M299.6 225L321.4 230.4L343.2 235.9L364.9 241.3L386.6 246.8L408.3 252.3L430 257.8M302.2 224.5L324 229.9L345.8 235.3L367.5 240.7L389.2 246.1L410.9 251.6L432.6 257.1M304.8 224.1L326.6 229.4L348.4 234.8L370.1 240.1L391.8 245.5L413.5 250.9L435.2 256.3M307.4 223.6L329.2 228.9L351 234.2L372.7 239.5L394.4 244.8L416.2 250.2L437.9 255.6M310 223.2L331.8 228.4L353.6 233.7L375.3 238.9L397.1 244.2L418.8 249.5L440.5 254.8M312.6 222.7L334.4 227.9L356.2 233.1L377.9 238.3L399.7 243.6L421.4 248.8L443.1 254.1M315.3 222.3L337 227.4L358.8 232.5L380.5 237.7L402.3 242.9L424 248.1L445.7 253.3M317.9 221.8L339.6 226.9L361.4 232L383.2 237.1L404.9 242.3L426.6 247.4L448.3 252.6M320.5 221.3L342.2 226.4L364 231.4L385.8 236.5L407.5 241.6L429.2 246.7L450.9 251.8M323.1 220.9L344.8 225.9L366.6 230.9L388.4 235.9L410.1 241L431.8 246L453.6 251.1M325.7 220.4L347.4 225.4L369.2 230.3L391 235.3L412.7 240.3L434.5 245.3L456.2 250.3M328.3 220L350 224.9L371.8 229.8L393.6 234.7L415.3 239.7L437.1 244.6L458.8 249.6M330.9 219.5L352.7 224.4L374.4 229.2L396.2 234.1L417.9 239L439.7 243.9L461.4 248.9M333.5 219.1L355.3 223.9L377 228.7L398.8 233.5L420.6 238.4L442.3 243.2L464 248.1M336.1 218.6L357.9 223.4L379.6 228.1L401.4 232.9L423.2 237.7L444.9 242.5L466.7 247.4M338.7 218.2L360.5 222.9L382.3 227.6L404 232.3L425.8 237.1L447.5 241.8L469.3 246.6M341.3 217.7L363.1 222.4L384.9 227L406.6 231.7L428.4 236.4L450.2 241.1L471.9 245.9M343.9 217.2L365.7 221.9L387.5 226.5L409.2 231.1L431 235.8L452.8 240.5L474.5 245.1M346.5 216.8L368.3 221.4L390.1 225.9L411.9 230.5L433.6 235.1L455.4 239.8L477.1 244.4M349.1 216.3L370.9 220.9L392.7 225.4L414.5 229.9L436.2 234.5L458 239.1L479.8 243.6M351.7 215.9L373.5 220.3L395.3 224.8L417.1 229.3L438.8 233.8L460.6 238.4L482.4 242.9M354.3 215.4L376.1 219.8L397.9 224.3L419.7 228.7L441.5 233.2L463.2 237.7L485 242.2M356.9 215L378.7 219.3L400.5 223.7L422.3 228.1L444.1 232.6L465.9 237L487.6 241.4M359.5 214.5L381.3 218.8L403.1 223.2L424.9 227.5L446.7 231.9L468.5 236.3L490.2 240.7M362.1 214.1L383.9 218.3L405.7 222.6L427.5 226.9L449.3 231.3L471.1 235.6L492.9 239.9M364.7 213.6L386.5 217.8L408.3 222.1L430.1 226.3L451.9 230.6L473.7 234.9L495.5 239.2M367.3 213.1L389.1 217.3L410.9 221.5L432.7 225.7L454.5 230L476.3 234.2L498.1 238.5M369.9 212.7L391.7 216.8L413.5 221L435.3 225.2L457.1 229.3L478.9 233.5L500.7 237.7M372.5 212.2L394.3 216.3L416.1 220.4L438 224.6L459.8 228.7L481.6 232.8L503.3 237" stroke="#000" stroke-opacity="0.75" stroke-width="0.14" fill="none"/>
<ellipse cx="243.1" cy="234.8" rx="2.2" ry="1.6" fill="#ffc0c0" stroke="#e88" stroke-width="0.4"/>
<ellipse cx="373.8" cy="273.9" rx="1.8" ry="1.2" fill="#ffc0c0" stroke="#e88" stroke-width="0.4"/>
<ellipse cx="504.4" cy="236.6" rx="2.4" ry="1.8" fill="#ff0000" stroke="none" stroke-width="0.4"/>
<ellipse cx="373.8" cy="237.6" rx="2.5" ry="1.7" fill="#ff0000" stroke="none" stroke-width="0.4"/>
<g fill="#000"><circle cx="248.6" cy="303.2" r="0.7"/><circle cx="247" cy="280.9" r="0.7"/><circle cx="245.4" cy="258.6" r="0.7"/><circle cx="243.8" cy="236.3" r="0.7"/><circle cx="242.2" cy="214" r="0.7"/><circle cx="250.6" cy="330.8" r="0.7"/><circle cx="262.9" cy="334.9" r="0.7"/><circle cx="275.2" cy="339" r="0.7"/><circle cx="287.6" cy="343.2" r="0.7"/><circle cx="299.9" cy="347.3" r="0.7"/><circle cx="312.2" cy="351.4" r="0.7"/><circle cx="324.5" cy="355.5" r="0.7"/><circle cx="336.8" cy="359.6" r="0.7"/><circle cx="349.2" cy="363.8" r="0.7"/><circle cx="361.5" cy="367.9" r="0.7"/><circle cx="373.8" cy="372" r="0.7"/><circle cx="373.8" cy="372" r="0.7"/><circle cx="398.6" cy="363.7" r="0.7"/><circle cx="423.4" cy="355.4" r="0.7"/><circle cx="448.2" cy="347.2" r="0.7"/><circle cx="473" cy="338.9" r="0.7"/><circle cx="497.8" cy="330.6" r="0.7"/></g>
<g font-size="4.5" font-weight="bold" fill="#000" stroke="#000" stroke-width="0.18" style="mix-blend-mode:multiply"><text x="246.41" y="302.46" text-anchor="end" font-size="4.1">20</text><text x="244.81" y="280.17" text-anchor="end" font-size="4.1">40</text><text x="243.21" y="257.88" text-anchor="end" font-size="4.1">60</text><text x="241.6" y="235.59" text-anchor="end" font-size="4.1">80</text><text x="240" y="213.3" text-anchor="end" font-size="4.1">100</text><text transform="translate(248.6 335.15) scale(0.9 1)" text-anchor="end">60.00</text><text transform="translate(260.92 339.27) scale(0.9 1)" text-anchor="end">55.00</text><text transform="translate(273.24 343.39) scale(0.9 1)" text-anchor="end">50.00</text><text transform="translate(285.56 347.51) scale(0.9 1)" text-anchor="end">45.00</text><text transform="translate(297.88 351.63) scale(0.9 1)" text-anchor="end">40.00</text><text transform="translate(310.2 355.75) scale(0.9 1)" text-anchor="end">35.00</text><text transform="translate(322.52 359.87) scale(0.9 1)" text-anchor="end">30.00</text><text transform="translate(334.84 363.99) scale(0.9 1)" text-anchor="end">25.00</text><text transform="translate(347.16 368.11) scale(0.9 1)" text-anchor="end">20.00</text><text transform="translate(359.48 372.23) scale(0.9 1)" text-anchor="end">15.00</text><text transform="translate(371.8 376.35) scale(0.9 1)" text-anchor="end">10.00</text><text transform="translate(376.2 376.1) scale(0.9 1)">20.00</text><text transform="translate(401 367.82) scale(0.9 1)">28.00</text><text transform="translate(425.8 359.54) scale(0.9 1)">36.00</text><text transform="translate(450.6 351.26) scale(0.9 1)">44.00</text><text transform="translate(475.4 342.98) scale(0.9 1)">52.00</text><text transform="translate(500.2 334.7) scale(0.9 1)">60.00</text></g>
<g font-size="7.3" fill="#000" stroke="#000" stroke-width="0.3" style="mix-blend-mode:multiply"><text x="229" y="368.3" textLength="70.8" lengthAdjust="spacingAndGlyphs">Flocculation time (minute)</text><text x="441.5" y="368.5" textLength="84.4" lengthAdjust="spacingAndGlyphs">Chitosan concentration (mg/L)</text><text transform="translate(202.5 310) rotate(-90)" textLength="71.5" lengthAdjust="spacingAndGlyphs">Flocculation efficiency(%)</text></g>
<g font-family="'Liberation Serif', serif" font-weight="bold" font-size="16" fill="#000" style="mix-blend-mode:multiply">
<text x="8.6" y="13.7">a</text><text x="357.3" y="17.5">b</text><text x="190.6" y="224.8">c</text></g>
</svg>
</body></html>
